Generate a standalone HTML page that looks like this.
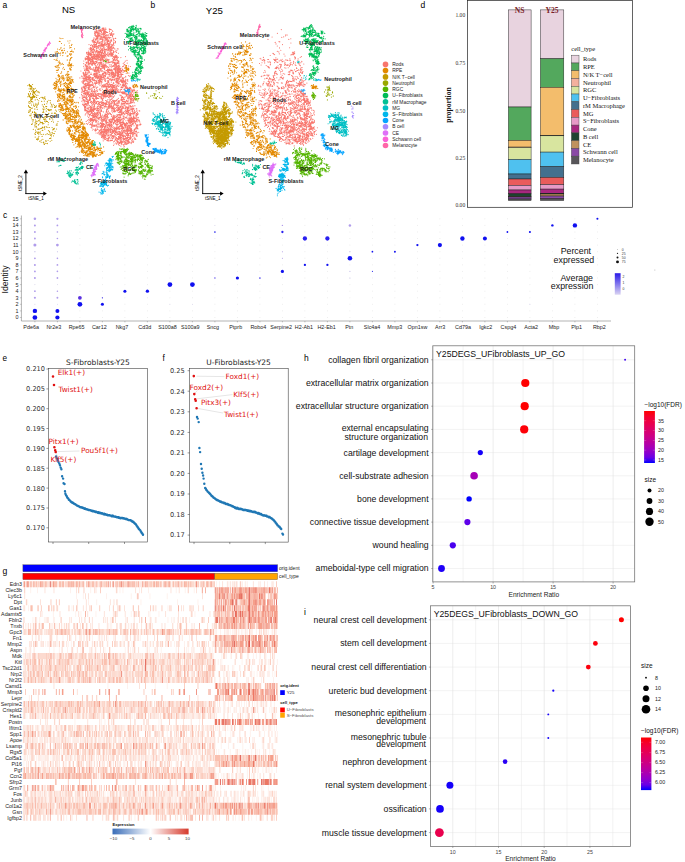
<!DOCTYPE html>
<html lang="en"><head><meta charset="utf-8"><title>Figure</title>
<style>
html,body{margin:0;padding:0;background:#fff}
body{width:685px;height:862px;overflow:hidden}
svg{display:block;font-family:"Liberation Sans",sans-serif}
</style></head><body>
<svg width="685" height="862" viewBox="0 0 685 862">
<defs>
<linearGradient id="gc" x1="0" y1="0" x2="0" y2="1"><stop offset="0" stop-color="#2A1AE8"/><stop offset="1" stop-color="#DAD4F2"/></linearGradient>
<linearGradient id="gh" x1="0" y1="0" x2="0" y2="1"><stop offset="0" stop-color="#FF0000"/><stop offset="0.1" stop-color="#F6002A"/><stop offset="0.2" stop-color="#ED0044"/><stop offset="0.3" stop-color="#E3005B"/><stop offset="0.4" stop-color="#D70072"/><stop offset="0.5" stop-color="#CA0088"/><stop offset="0.6" stop-color="#BA009F"/><stop offset="0.7" stop-color="#A600B7"/><stop offset="0.8" stop-color="#8D00CE"/><stop offset="0.9" stop-color="#6800E7"/><stop offset="1" stop-color="#0000FF"/></linearGradient>
<linearGradient id="gg" x1="0" y1="0" x2="1" y2="0"><stop offset="0" stop-color="#3A6DB8"/><stop offset=".5" stop-color="#FFFFFF"/><stop offset="1" stop-color="#D63A2C"/></linearGradient>
</defs>
<rect width="685" height="862" fill="#fff"/>
<g id="tsne">
<g transform="scale(.1)" stroke-linecap="round" fill="none">
<path d="M1014 447h0M999 448h0M995 433h0M991 457h0M1008 453h0M1013 460h0M1116 728h0M1110 726h0M1152 691h0M1138 693h0M838 874h0M867 869h0M846 783h0M855 780h0M834 780h0M831 781h0M839 781h0M861 786h0M1052 1250h0M1081 1226h0M1059 1251h0M1051 1265h0M891 535h0M887 546h0M893 544h0M908 535h0M904 533h0M913 551h0M1204 1376h0M1195 1375h0M1177 1392h0M1188 1378h0M1173 730h0M1154 737h0M1159 733h0M990 1243h0M1024 1235h0M1023 1225h0M1004 1234h0M986 1237h0M1000 1237h0M933 952h0M933 969h0M920 969h0M908 962h0M933 956h0M934 953h0M920 962h0M944 958h0M1183 711h0M1131 345h0M1139 339h0M1129 348h0M1187 749h0M1223 786h0M1202 770h0M1012 980h0M999 967h0M1017 980h0M1081 619h0M1083 616h0M1278 1100h0M1288 1101h0M1302 1088h0M1273 1113h0M969 949h0M980 952h0M955 964h0M969 956h0M962 970h0M1136 1311h0M1122 1295h0M1138 1308h0M1134 1308h0M1124 1297h0M1052 1175h0M1083 1172h0M1074 1169h0M1065 1163h0M881 857h0M920 842h0M894 856h0M910 853h0M837 1057h0M837 1046h0M852 1067h0M1254 941h0M1259 937h0M1266 942h0M1250 929h0M1263 953h0M1228 973h0M1212 967h0M1217 988h0M1158 820h0M1148 802h0M1159 821h0M1163 817h0M1164 811h0M1326 1365h0M1288 1396h0M1309 1380h0M1280 1393h0M1301 1381h0M1284 1407h0M1296 1379h0M1085 1069h0M1096 1050h0M1106 1070h0M1098 1059h0M1093 1041h0M859 1100h0M859 1107h0M852 1097h0M856 1094h0M881 1080h0M883 1084h0M1044 1064h0M1050 1065h0M1046 1063h0M1044 1062h0M1043 1080h0M1025 1049h0M1028 1052h0M832 815h0M829 824h0M819 818h0M832 813h0M851 842h0M874 854h0M830 819h0M841 813h0M887 578h0M885 572h0M885 578h0M887 559h0M913 550h0M1055 1303h0M1046 1294h0M1064 1295h0M1035 1297h0M1048 1304h0M857 775h0M873 793h0M874 813h0M869 815h0M875 831h0M867 805h0M1129 1308h0M1154 1321h0M1142 1307h0M1161 1311h0M1288 1277h0M1312 1295h0M1305 1304h0M1308 1311h0M980 758h0M979 769h0M978 780h0M1030 1308h0M1046 1306h0M1013 1324h0M1041 1311h0M932 548h0M931 564h0M914 551h0M909 542h0M954 840h0M950 831h0M957 850h0M1173 586h0M1173 585h0M1160 573h0M1148 577h0M1041 935h0M1033 935h0M1036 942h0M1094 1017h0M1354 1181h0M1328 1198h0M1321 1227h0M1337 1194h0M1337 1210h0M1327 1216h0M1052 749h0M1046 756h0M1056 753h0M1035 751h0M873 1035h0M866 1013h0M886 1024h0M879 1018h0M884 1024h0M947 467h0M930 456h0M938 476h0M941 463h0M932 462h0M1004 340h0M1039 336h0M1034 341h0M1040 347h0M1013 323h0M1016 328h0M874 699h0M952 679h0M983 694h0M978 681h0M1025 396h0M1030 443h0M1027 419h0M1025 403h0M1031 395h0M1081 851h0M1086 851h0M1075 862h0M1089 821h0M1094 837h0M1005 597h0M1017 587h0M1025 579h0M1003 607h0M1021 581h0M1008 590h0M1128 450h0M1133 443h0M1124 454h0M1320 1092h0M1315 1093h0M1319 1084h0M1317 1088h0M1345 1106h0M967 700h0M957 699h0M970 718h0M974 705h0M936 1206h0M920 1184h0M918 1192h0M930 1209h0M925 1192h0M1119 1190h0M1134 1182h0M1123 1182h0M1136 1197h0M1014 547h0M1017 535h0M1268 1444h0M1289 1423h0M1294 1425h0M1278 1434h0M1321 1241h0M1333 1240h0M1312 1138h0M1298 1149h0M1306 1160h0M1299 1150h0M934 871h0M964 883h0M971 898h0M1047 312h0M971 1083h0M974 1082h0M969 1085h0M968 1089h0M980 1084h0M964 1103h0M956 1082h0M969 508h0M966 520h0M943 560h0M930 552h0M941 551h0M937 566h0M928 523h0M916 529h0M941 518h0M904 520h0M941 513h0M948 498h0M935 520h0M1191 1346h0M1177 1340h0M1187 1341h0M1179 1346h0M1188 1335h0M1213 1222h0M1187 1205h0M1206 1223h0M1209 1228h0M1184 1209h0M1199 1212h0M869 1035h0M860 1044h0M1334 1184h0M1364 1211h0M1359 1212h0M1258 838h0M1248 820h0M1250 848h0M1249 814h0M1256 842h0M1248 813h0M935 1204h0M933 1216h0M921 1201h0M939 1201h0M921 1193h0M938 1204h0M904 1191h0M904 1200h0M1017 1213h0M1019 1212h0M1023 1208h0M1011 1205h0M1032 1408h0M1089 1375h0M1064 1383h0M1076 1385h0M1354 1233h0M1354 1220h0M916 1253h0M905 1238h0M908 1246h0M898 1246h0M1008 906h0M1139 1369h0M1123 1362h0M1119 1381h0M1064 1309h0M1077 1302h0M1070 1292h0M1074 1309h0M1072 1295h0M1067 1299h0M970 616h0M963 628h0M973 627h0M962 617h0M963 626h0M955 981h0M962 767h0M967 771h0M964 753h0M959 759h0M1021 821h0M1014 822h0M1020 799h0M1159 1325h0M1152 1348h0M1168 1330h0M1170 1331h0M1036 1329h0M1085 1358h0M1051 1351h0M1049 1360h0M1107 898h0M1125 915h0M1110 912h0M1070 496h0M1084 477h0M924 822h0M917 815h0M926 830h0M1241 935h0M1236 921h0M1240 940h0M1000 893h0M992 898h0M1000 886h0M1146 1205h0M1161 1169h0M1146 1190h0M1141 1193h0M1142 1187h0M884 930h0M875 942h0M913 914h0M880 939h0M879 924h0M886 940h0M873 934h0M952 616h0M959 594h0M973 601h0M961 610h0M942 626h0M1267 878h0M1255 871h0M1277 875h0M1267 867h0M1147 1177h0M1168 864h0M1166 899h0M1172 883h0M1166 879h0M1175 857h0M1120 1091h0M1116 1086h0M1131 1084h0M1127 1077h0M1125 1074h0M1117 1080h0M1129 1085h0M1102 914h0M1096 896h0M1101 922h0M1078 892h0M1073 901h0M1087 916h0M1093 1371h0M1086 1385h0M1101 1382h0M1242 1305h0M1218 1317h0M1131 1384h0M1160 1391h0M1154 1394h0M1160 1400h0M892 787h0M899 794h0M886 777h0M900 847h0M855 1066h0M879 1054h0M1279 1331h0M1274 1332h0M1275 1333h0M905 1107h0M907 1132h0M903 1114h0M915 1114h0M904 1115h0M924 1097h0M1337 1410h0M1327 1391h0M1332 1412h0M1333 1424h0M1330 1420h0M1050 860h0M1051 843h0M1021 855h0M1028 863h0M1404 1248h0M897 784h0M902 769h0M896 782h0M928 793h0M882 773h0M1125 662h0M1113 677h0M1131 659h0M1115 661h0M921 635h0M936 677h0M1122 792h0M1124 797h0M1150 792h0M1126 792h0M1129 796h0M1148 793h0M1127 798h0M1188 898h0M1186 863h0M1267 1400h0M1261 1428h0M1279 1421h0M875 581h0M895 605h0M864 563h0M984 432h0M966 435h0M1062 1343h0M1061 1339h0M1070 1341h0M1060 1339h0M1059 1354h0M1060 1339h0M1164 1098h0M1140 1099h0M1148 1106h0M1138 1116h0M1225 787h0M1232 783h0M1190 762h0M1221 772h0M1205 770h0M1236 789h0M1187 1214h0M1180 1219h0M1204 1220h0M1178 1218h0M1083 673h0M1081 673h0M1139 1356h0M1155 1369h0M1150 1380h0M1139 1360h0M1143 1359h0M989 408h0M976 428h0M971 428h0M1133 571h0M1119 549h0M1106 528h0M1122 558h0M991 638h0M1014 630h0M996 625h0M977 644h0M1103 496h0M1112 485h0M1124 485h0M1020 306h0M1010 297h0M1010 311h0M1241 923h0M1253 902h0M1239 919h0M1245 919h0M933 841h0M945 831h0M1089 1254h0M1118 1253h0M1122 1257h0M1054 864h0M1053 856h0M1032 863h0M1034 868h0M1066 861h0M1218 1436h0M1217 1430h0M1229 1419h0M1220 1416h0M1022 1272h0M1018 1252h0M1225 1036h0M1213 1030h0M1230 1016h0M1228 1009h0M1042 688h0M1035 654h0M1065 705h0M1058 657h0M1051 656h0M852 1149h0M971 464h0M964 463h0M979 479h0M1327 1057h0M1329 1058h0M1331 1065h0M1329 1065h0M984 599h0M989 564h0M978 570h0M982 546h0M982 811h0M982 803h0M991 810h0M899 821h0M923 784h0M916 790h0M898 800h0M1009 684h0M1002 704h0M1003 687h0M1003 698h0M993 681h0M1079 879h0M1103 850h0M1106 861h0M1083 867h0M922 878h0M945 870h0M957 868h0M935 864h0M852 746h0M860 728h0M890 751h0M874 741h0M985 553h0M982 557h0M997 541h0M1017 549h0M993 549h0M1133 900h0M1142 905h0M1161 889h0M1152 911h0M1177 897h0M1249 1040h0M1232 1042h0M1273 1074h0M1252 1059h0M1225 1326h0M1232 1312h0M1232 1301h0M1228 1299h0M1042 661h0M1062 664h0M1042 648h0M1049 660h0M1242 1053h0M1248 1032h0M1235 1031h0M1237 1034h0M1330 1000h0M1336 1008h0M1345 1027h0M1336 998h0M1314 991h0M1250 1247h0M1255 1240h0M1231 1236h0M1254 1243h0M1250 1236h0M881 887h0M893 888h0M1108 1252h0M1122 1275h0M1110 1248h0M1115 1266h0M1109 1246h0M1112 1248h0M1303 1259h0M1279 1231h0M1279 1242h0M1291 1256h0M1159 1303h0M1155 1343h0M1151 1338h0M1143 1336h0M1211 1096h0M1224 1084h0M1235 1079h0M1222 1079h0M1222 1068h0M1223 1069h0M890 698h0M914 689h0M880 682h0M1145 1024h0M1137 1014h0M1142 1019h0M1112 1015h0M1168 1006h0M1201 1062h0M1157 1083h0M1184 1074h0M1279 1149h0M1297 1157h0M1270 1160h0M1308 1155h0M1300 1154h0M1119 902h0M1135 902h0M1108 902h0M1115 919h0M1135 893h0M864 592h0M855 598h0M851 589h0M864 593h0M868 584h0M861 591h0M1246 1420h0M1249 1421h0M1244 1397h0M1246 1414h0M1253 1430h0M1256 1406h0M1115 733h0M1088 720h0M1108 731h0M1086 724h0M1114 734h0M1088 1064h0M1101 1078h0M1095 1080h0M1282 991h0M1269 1003h0M1263 1003h0M912 562h0M921 565h0M918 543h0M908 580h0M897 581h0M895 575h0M1207 1097h0M1216 1088h0M1194 1083h0M1113 821h0M1086 406h0M1082 413h0M1084 410h0M1088 414h0M833 811h0M833 821h0M1280 1404h0M1309 1428h0M1068 590h0M1081 601h0M1087 600h0M1087 598h0M1077 594h0M937 959h0M939 962h0M921 892h0M898 898h0M917 886h0M1338 1134h0M1325 1092h0M1321 1087h0M1093 289h0M1124 308h0M1113 297h0M1095 299h0M1107 294h0M1060 633h0M1079 630h0M1068 625h0M889 669h0M920 693h0M894 669h0M888 675h0M895 683h0M1001 1257h0M1007 1260h0M1006 1265h0M1015 1234h0M990 1273h0M1368 1112h0M1343 1119h0M1370 1108h0M1356 1120h0M1368 1108h0M1391 1108h0M1368 1113h0M1397 1109h0M1048 727h0M1034 737h0M1019 745h0M1024 743h0M1053 724h0M1030 738h0M1030 773h0M1039 788h0M948 326h0M982 332h0M978 333h0M983 336h0M981 584h0M972 588h0M964 595h0M1120 504h0M1103 493h0M1120 492h0M1118 499h0M1114 501h0M1337 1236h0M1326 1233h0M1338 1223h0M1326 1240h0M1178 1338h0M1174 1344h0M1181 1337h0M1276 1039h0M1246 1029h0M1265 1032h0M1252 1031h0M993 341h0M992 355h0M991 366h0M1077 702h0M1085 723h0M1100 663h0M1088 677h0M983 1141h0M981 1126h0M1004 1157h0M1140 747h0M1145 730h0M1132 764h0M1142 750h0M1134 760h0M1155 723h0M904 472h0M919 489h0M918 477h0M926 470h0M923 467h0M1123 533h0M1088 542h0M1103 541h0M1094 536h0M1129 529h0M1108 522h0M1094 539h0M1088 449h0M1082 446h0M1062 445h0M1075 439h0M1080 435h0M1067 442h0M1007 393h0M1021 380h0M1016 392h0M1019 381h0M1022 367h0M1026 380h0M1043 411h0M1030 406h0M933 589h0M953 590h0M980 569h0M951 571h0M1164 1324h0M1130 1313h0M1142 1297h0M1137 1308h0M1065 894h0M1056 906h0M1057 645h0M1053 650h0M1052 662h0M1113 1032h0M1118 1019h0M1111 994h0M1113 1019h0M1105 1000h0M971 557h0M966 548h0M984 600h0M973 573h0M982 572h0M973 566h0M969 563h0M975 547h0M982 561h0M990 577h0M1048 788h0M1051 812h0M1053 796h0M1048 804h0M1048 777h0M1061 782h0M1374 1255h0M1374 1281h0M1360 1290h0M1377 1287h0M1376 1282h0M1050 1370h0M1034 1365h0M1032 1388h0M1048 1371h0M1040 1371h0M1271 1291h0M1303 1278h0M1302 1275h0M1278 1291h0M1120 1101h0M1123 1089h0M1120 1087h0M1351 1122h0M1375 1125h0M1208 1172h0M1195 1180h0M1191 1175h0M1192 1176h0M1199 1161h0M1099 929h0M1072 915h0M1083 909h0M1064 915h0M883 563h0M1209 1106h0M1179 1092h0M1098 942h0M1122 982h0M1110 955h0M1129 966h0M1053 534h0M1069 547h0M1038 537h0M1029 530h0M984 810h0M991 821h0M974 830h0M1000 823h0M997 829h0M1011 813h0M981 824h0M943 548h0M939 548h0M951 550h0M969 576h0M948 570h0M937 550h0M989 315h0M1000 301h0M989 305h0M1007 303h0M996 307h0M991 309h0M996 306h0M1118 1068h0M1103 1066h0M1128 1077h0M1097 1074h0M1111 1063h0M1111 1070h0M1090 1062h0M1041 582h0M1060 570h0M1203 1353h0M1227 1388h0M1208 1353h0M1210 1382h0M1015 774h0M1011 763h0M1021 746h0M1006 771h0M1277 1143h0M1277 1118h0M1283 1143h0M1268 1133h0M1275 1135h0M1293 1158h0M1121 543h0M1112 537h0M1113 523h0M1114 540h0M1115 532h0M1108 524h0M935 1153h0M941 1166h0M945 1162h0M949 1166h0M928 1155h0M949 1190h0M1103 471h0M1109 518h0M1108 491h0M1109 509h0M1100 481h0M1107 506h0M955 781h0M948 759h0M951 760h0M1198 1355h0M1206 1385h0M1202 1398h0M1187 1374h0M1206 1399h0M1214 1391h0M907 744h0M911 731h0M845 745h0M836 743h0M861 741h0M1344 1308h0M1318 1304h0M1351 1311h0M1352 1316h0M1366 1310h0M1346 1305h0M1252 1443h0M1248 1433h0M1239 1469h0M1247 1431h0M1238 1453h0M1236 1445h0M1243 1465h0M1212 710h0M1200 727h0M1211 713h0M1214 707h0M1209 710h0M1233 702h0M1036 663h0M1024 664h0M1031 657h0M1041 674h0M1019 662h0M1035 662h0M1034 664h0M1042 663h0M971 703h0M994 681h0M994 671h0M972 706h0M1015 1239h0M1034 1243h0M1033 1235h0M864 837h0M838 831h0M858 836h0M841 840h0M829 832h0M1048 1348h0M1031 1388h0M1027 1367h0M1040 1345h0M1043 1328h0M1016 1374h0M1038 1345h0M929 700h0M941 711h0M941 701h0M949 707h0M937 699h0M1053 1206h0M1063 1236h0M1056 1217h0M1036 1236h0M1255 1332h0M1251 1330h0M1271 1340h0M1262 1334h0M1009 601h0M1026 557h0M997 595h0M1010 598h0M1014 599h0M1024 589h0M972 1109h0M977 1109h0M981 1145h0M974 1125h0M1022 582h0M1000 605h0M1032 598h0M987 592h0M1002 598h0M1012 603h0M962 831h0M965 818h0M968 833h0M950 824h0M954 832h0M1049 562h0M1027 583h0M1065 870h0M1044 868h0M1060 841h0M1062 871h0M1063 833h0M1072 857h0M1066 862h0M1296 1139h0M1290 1136h0M1310 1140h0M1293 1182h0M1306 1177h0M1286 1180h0M1297 1180h0M1147 649h0M1153 668h0M1147 661h0M1186 661h0M989 707h0M986 710h0M1000 700h0M993 715h0M1008 694h0M934 1175h0M942 1169h0M935 1160h0M962 362h0M958 356h0M981 346h0M979 350h0M846 908h0M835 932h0M847 934h0M975 376h0M976 385h0M955 361h0M969 355h0M966 370h0M880 842h0M882 855h0M1239 809h0M1233 791h0M1237 805h0M974 773h0M945 764h0M943 767h0M955 762h0M981 762h0M951 765h0M956 771h0M1169 1055h0M1194 1087h0M1174 1051h0M1185 1077h0M1157 1043h0M1183 1050h0M1160 1052h0M1275 1284h0M1272 1277h0M1159 704h0M1152 705h0M1135 722h0M963 564h0M966 561h0M975 558h0M987 553h0M953 561h0M1128 666h0M1134 653h0M1113 545h0M1110 555h0M1121 545h0M1112 539h0M1112 560h0M1304 1056h0M1281 1036h0M1290 1056h0M1289 1042h0M1089 1242h0M1097 1239h0M1083 1227h0M1102 1235h0M1072 1223h0M1306 1391h0M1317 1337h0M1304 1358h0M1309 1335h0M966 1190h0M960 1177h0M1166 1000h0M1158 1005h0M1158 1010h0M1174 992h0M944 713h0M955 709h0M948 696h0M946 702h0M947 717h0M886 525h0M909 513h0M865 537h0M903 497h0M978 983h0M965 971h0M973 979h0M967 984h0M987 983h0M965 961h0M1010 517h0M1000 518h0M993 515h0M1014 522h0M1273 906h0M1270 916h0M1287 921h0M1284 926h0M1044 920h0M1058 894h0M905 1099h0M907 1092h0M915 1101h0M917 1080h0M1060 604h0M1054 593h0M1054 620h0M1054 620h0M991 940h0M990 936h0M1003 935h0M988 945h0M1022 944h0M1001 939h0M1012 757h0M1031 769h0M1034 753h0M1037 773h0M1031 767h0M1029 506h0M1059 1217h0M1070 1246h0M1058 1229h0M1067 1221h0M1050 1321h0M1059 1315h0M1049 1319h0M1059 1307h0M1048 1299h0M1060 1322h0M1080 456h0M1081 471h0M1091 472h0M1090 466h0M1084 458h0M827 908h0M838 915h0M833 930h0M840 932h0M1193 1337h0M1204 1342h0M1194 1340h0M1196 1330h0M860 1014h0M874 997h0M895 1001h0M889 999h0M1032 849h0M1033 853h0M1032 861h0M907 611h0M892 593h0M905 618h0M1122 1361h0M1125 1356h0M1120 1368h0M1133 1375h0M1134 1369h0M1108 1354h0M1124 1360h0M863 852h0M882 849h0M876 841h0M1271 1403h0M1316 1408h0M1275 1413h0M1281 1402h0M1280 1406h0M940 414h0M941 425h0M942 427h0M937 415h0M937 441h0M933 420h0M937 446h0M1095 316h0M1102 350h0M1100 296h0M1106 342h0M1102 338h0M1098 333h0M1058 1268h0M1032 1257h0M1074 1272h0M936 747h0M948 737h0M931 751h0M936 748h0M946 736h0M948 750h0M1112 699h0M1138 741h0M1112 729h0M1123 741h0M1126 732h0M1116 718h0M876 582h0M876 576h0M885 569h0M874 566h0M1257 1315h0M1214 1346h0M1250 1325h0M1269 1307h0M1247 1328h0M1231 1341h0M1264 1317h0M873 929h0M839 939h0M871 937h0M848 931h0M857 935h0M1171 921h0M1158 926h0M1189 918h0M1163 920h0M1170 620h0M1191 638h0M1188 656h0M1179 635h0M1065 966h0M1069 959h0M1060 966h0M1067 967h0M1058 946h0M1057 1042h0M1056 1045h0M1065 1043h0M1044 1040h0M1072 1042h0M1077 770h0M1080 785h0M818 1012h0M845 974h0M835 1001h0M830 1030h0M843 997h0M1108 559h0M1243 1170h0M1287 1213h0M1093 484h0M1092 504h0M1088 488h0M1080 502h0M1082 502h0M1107 409h0M1079 416h0M1088 408h0M886 794h0M895 759h0M890 779h0M891 773h0M883 797h0M867 800h0M860 789h0M868 788h0M1114 326h0M1111 337h0M1128 313h0M1229 1219h0M1243 1192h0M1233 1183h0M1241 1186h0M1115 352h0M1129 341h0M1118 338h0M1114 344h0M1112 704h0M1095 743h0M1094 728h0M1120 725h0M1116 727h0M1107 704h0M1237 1238h0M1242 1238h0M1242 1230h0M1239 1234h0M1101 1406h0M1107 1402h0M1103 1405h0M1283 1376h0M1276 1354h0M1284 1374h0M1280 1354h0M1274 1373h0M1277 1363h0M858 697h0M861 678h0M875 671h0M866 686h0M859 687h0M847 697h0M864 679h0M1114 1351h0M1107 1358h0M1088 1337h0M1101 1342h0M921 577h0M936 583h0M1112 660h0M1110 647h0M1111 646h0M1224 1333h0M1217 1332h0M1227 1334h0M1214 1333h0M925 1196h0M904 1201h0M907 1204h0M905 1189h0M886 892h0M881 897h0M893 919h0M890 881h0M882 885h0M1179 721h0M1176 702h0M1180 695h0M1174 693h0M1150 1295h0M1158 1305h0M1156 1309h0M1152 1325h0M1165 1323h0M1155 1317h0M1192 717h0M1193 746h0M1185 733h0M1187 739h0M1179 746h0M1181 754h0M1182 737h0M1016 1179h0M1037 1170h0M1074 480h0M1088 465h0M1066 493h0M1086 471h0M1216 1416h0M1196 1434h0M1201 1405h0M1191 1423h0M1183 1446h0M1188 1433h0M1201 1428h0M1168 1049h0M1168 1100h0M1199 776h0M1180 788h0M1167 785h0M1191 786h0M1174 780h0M1124 1335h0M1108 1326h0M1108 1326h0M1118 1327h0M1086 1312h0M907 550h0M885 534h0M895 539h0M902 548h0M890 700h0M871 660h0M883 682h0M885 700h0M892 727h0M948 959h0M938 950h0M1169 503h0M1149 518h0M1156 510h0M1183 832h0M1177 823h0M1190 835h0M1158 818h0M1204 843h0M971 461h0M957 446h0M961 445h0M946 467h0M965 430h0M948 463h0M965 444h0M861 1059h0M870 1013h0M896 1004h0M872 1020h0M1333 1211h0M1317 1184h0M1324 1191h0M1037 574h0M1027 565h0M1035 572h0M1059 587h0M1137 692h0M1173 665h0M1144 696h0M1138 692h0M1161 667h0M1183 785h0M1193 788h0M1176 807h0M1180 799h0M1166 801h0M1373 1144h0M1374 1143h0M1367 1135h0M1348 1127h0M1376 1138h0M843 899h0M854 896h0M842 902h0M1028 558h0M1042 544h0M1058 559h0M1035 554h0M1055 552h0M1041 549h0M1076 557h0M820 923h0M815 920h0M829 913h0M851 926h0M924 983h0M938 985h0M941 989h0M1118 1037h0M1140 1033h0M1115 1039h0M1111 1032h0M1002 625h0M1037 617h0M1006 636h0M1009 625h0M1019 622h0M986 629h0M1261 1133h0M1272 1117h0M1267 1130h0M1254 816h0M1246 819h0M1266 830h0M1250 827h0M959 403h0M933 396h0M958 402h0M940 388h0M975 398h0M938 403h0M1030 1168h0M1002 1130h0M995 1128h0M1001 1147h0M1009 1155h0M1220 1265h0M1220 1269h0M1217 1256h0M1228 1266h0M1210 1280h0M1224 1263h0M1141 800h0M1151 791h0M1141 796h0M1273 883h0M1254 881h0M1264 883h0M1274 883h0M1284 892h0M1278 899h0M986 1038h0M990 1033h0M977 542h0M970 562h0M964 569h0M980 559h0M978 532h0M1275 1383h0M1254 1383h0M1260 1385h0M1238 1388h0M1186 1080h0M1183 1073h0M1190 1085h0M1193 1097h0M1195 1092h0M1184 1089h0M1203 1414h0M1205 1420h0M1233 1419h0M1210 1425h0M1212 1437h0M1092 1263h0M1090 1283h0M1237 1278h0M1228 1287h0M1235 1272h0M1209 1286h0M1180 1297h0M1061 1122h0M1066 1116h0M1066 1109h0M1061 1118h0M1098 1137h0M1071 1123h0M1148 633h0M1159 652h0M1146 625h0M945 996h0M937 995h0M945 1001h0M961 1025h0M951 1039h0M1017 435h0M1015 446h0M1221 1017h0M1196 1144h0M1217 1145h0M1208 1157h0M1234 1132h0M1243 1139h0M841 957h0M864 971h0M851 946h0M853 973h0M865 952h0M860 980h0M857 988h0M1016 1241h0M1013 1255h0M1033 1252h0M1042 1240h0M1026 1241h0M1286 1312h0M1299 1329h0M1352 1385h0M1348 1395h0M1327 1240h0M1324 1246h0M1319 1221h0M1301 1231h0M1316 1224h0M1311 1227h0M1317 1224h0M1314 1227h0M1168 1239h0M1160 1245h0M1181 1245h0M1209 1234h0M1189 621h0M1189 610h0M1183 609h0M997 770h0M1008 763h0M1010 775h0M1002 762h0M1002 758h0M1007 766h0M988 1106h0M981 1100h0M981 1109h0M984 1121h0M1027 640h0M1045 654h0M1031 655h0M1034 662h0M1018 640h0M1312 980h0M1311 988h0M1320 1004h0M1322 1026h0M1303 1019h0M843 750h0M852 757h0M842 757h0M848 768h0M799 779h0M821 780h0M1066 1190h0M1073 1180h0M1062 1176h0M1071 1191h0M1034 1119h0M1001 1088h0M1015 1105h0M1012 1101h0M1014 1112h0M1015 1099h0M1133 542h0M1136 522h0M1123 534h0M1136 526h0M1128 532h0M1126 544h0M1263 1439h0M1260 1409h0M1263 1428h0M1271 1438h0M1117 1223h0M1101 1201h0M1122 1211h0M928 855h0M920 849h0M939 860h0M914 848h0M1014 1253h0M1033 1262h0M1015 1247h0M1023 1262h0M1021 1252h0M1018 1258h0M1025 1251h0M993 524h0M977 537h0M987 524h0M1241 854h0M1223 848h0M1231 846h0M1224 853h0M1239 846h0M1239 845h0M1219 862h0M881 1026h0M883 1034h0M1230 1210h0M1220 1200h0M1235 1200h0M1216 1191h0M1207 1205h0M1216 1196h0M1220 1194h0M1173 677h0M1188 686h0M1182 691h0M1196 700h0M1207 688h0M1188 703h0M1059 726h0M1044 759h0M1052 730h0M1051 738h0M1062 740h0M942 580h0M945 580h0M942 621h0M935 583h0M944 591h0M1034 1317h0M1025 1313h0M1049 1310h0M1043 1307h0M1070 1318h0M952 828h0M962 808h0M960 808h0M965 820h0M959 835h0M1116 1165h0M1119 1158h0M1137 1172h0M1132 1173h0M1138 1154h0M1257 1022h0M1263 1015h0M1245 1040h0M1011 657h0M1023 661h0M1024 658h0M1018 647h0M1011 664h0M1213 1147h0M1222 1148h0M1197 1153h0M1173 1147h0M1211 1142h0M1233 1136h0M1181 1149h0M925 799h0M931 802h0M943 796h0M909 793h0M930 797h0M1266 952h0M1268 947h0M1276 961h0M1265 961h0M908 805h0M891 835h0M889 814h0M926 619h0M935 636h0M938 634h0M944 639h0M926 632h0M1218 1265h0M1227 1282h0M1226 1268h0M1219 1290h0M1222 1260h0M1242 1241h0M1220 1283h0M1226 1242h0M926 457h0M890 446h0M926 454h0M925 466h0M914 449h0M906 452h0M959 665h0M946 636h0M953 640h0M1115 477h0M1119 474h0M1120 456h0M1115 464h0M1009 502h0M1018 488h0M1018 502h0M1004 513h0M1016 492h0M1007 504h0M1001 508h0M879 731h0M881 729h0M879 724h0M938 1005h0M935 1013h0M927 1027h0M941 1002h0M930 1029h0M931 1016h0M1054 319h0M1048 304h0M1036 313h0M1066 317h0M1017 311h0M1070 1229h0M1063 1203h0M1037 1189h0M1039 1206h0M1220 871h0M1229 850h0M1229 875h0M1219 874h0M1194 837h0M1192 818h0M1179 806h0M1182 834h0M898 987h0M919 968h0M889 1005h0M895 989h0M898 984h0M1061 1143h0M1052 1148h0M1065 1150h0M1057 1148h0M1143 1157h0M1156 1173h0M1163 1161h0M1151 1157h0M1128 1170h0M1040 562h0M1063 545h0M1070 541h0M1080 528h0M1051 554h0M1251 1306h0M1225 1328h0M1244 1311h0M1247 1299h0M1245 1309h0M1232 1314h0M1233 1316h0M1252 1277h0M1275 1090h0M1280 1086h0M1275 1101h0M1283 1074h0M1307 1069h0M1311 1071h0M1315 1066h0M1300 1088h0M1175 804h0M1172 800h0M995 1022h0M984 1015h0M1011 1013h0M1030 1000h0M892 757h0M864 767h0M876 771h0M875 776h0M879 771h0M884 763h0M858 782h0M1285 1125h0M1276 1108h0M1277 1119h0M1258 1123h0M1279 1113h0M1055 813h0M1049 792h0M1054 809h0M1093 798h0M1189 767h0M1187 764h0M1181 772h0M1221 1366h0M1208 1380h0M1189 1366h0M1200 1374h0M1216 1374h0M922 1044h0M937 1042h0M921 1053h0M937 1039h0M939 1060h0M840 914h0M822 903h0M826 909h0M848 916h0M842 915h0M824 893h0M909 1210h0M929 1170h0M919 1191h0M930 1177h0M911 1185h0M908 1197h0M869 923h0M886 939h0M873 950h0M867 938h0M1141 1120h0M1124 1127h0M1137 1095h0M1147 1109h0M1145 1098h0M1115 1146h0M1144 1105h0M1131 1111h0M1126 1003h0M1108 1035h0M1131 1012h0M1289 900h0M1304 886h0M1305 879h0M1302 891h0M1048 1396h0M942 1080h0M936 1084h0M1052 1139h0M1044 1162h0M1048 1175h0M1024 343h0M1015 342h0M1026 339h0M1036 347h0M994 746h0M980 786h0M973 747h0M967 758h0M814 760h0M852 771h0M821 764h0M1066 1100h0M1068 1092h0M1023 567h0M1034 596h0M1018 579h0M1013 595h0M1029 595h0M1025 594h0M1024 583h0M950 1139h0M959 1141h0M977 1153h0M946 1137h0M949 1152h0M958 1222h0M925 1199h0M1021 525h0M1026 519h0M1053 525h0M1043 528h0M1044 520h0M906 1185h0M911 1189h0M920 1193h0M900 1181h0M891 1196h0M1308 1015h0M1279 1014h0M1292 1033h0M1111 963h0M1087 919h0M1091 940h0M1078 908h0M1028 1020h0M1026 1020h0M1024 1024h0M1009 1055h0M1019 1020h0M1026 1031h0M1282 1211h0M1307 1248h0M1289 1224h0M1096 623h0M1087 621h0M1086 627h0M1079 607h0M1135 430h0M1137 420h0M1038 573h0M1045 573h0M1068 490h0M1068 490h0M1060 496h0M1059 495h0M998 578h0M982 565h0M985 573h0M986 548h0M998 839h0M1071 1023h0M1087 1031h0M1067 1021h0M1205 702h0M1171 710h0M1203 699h0M1194 691h0M1217 704h0M1365 1261h0M1340 1257h0M1354 1286h0M1380 1288h0M1368 1284h0M1360 1168h0M938 1194h0M949 1199h0M947 1172h0M939 1172h0M941 1177h0M1027 451h0M1029 467h0M1020 456h0M1029 454h0M1345 1177h0M1349 1209h0M1350 1223h0M1342 1201h0M1174 1187h0M1153 1208h0M1172 1188h0M1181 1319h0M1199 1319h0M1229 1325h0M1206 1323h0M1286 1256h0M1277 1239h0M1266 1270h0M1274 1273h0M1284 1258h0M938 1102h0M924 1093h0M947 1085h0M933 1095h0M1137 1154h0M1105 1142h0M1044 1317h0M1081 1310h0M1068 1319h0M1142 574h0M1137 572h0M1146 584h0M1155 567h0M954 445h0M956 424h0M960 453h0M1131 340h0M1108 341h0M1118 337h0M1089 463h0M1091 447h0M1093 456h0M1098 441h0M1094 446h0M1106 440h0M1091 443h0M1102 440h0M1096 872h0M1097 866h0M1105 859h0M1133 1269h0M1137 1285h0M1140 1305h0M1137 1287h0M1134 1324h0M1086 915h0M1090 941h0M1090 937h0M1097 914h0M1107 931h0M1093 939h0M1216 1264h0M1211 1263h0M1173 1252h0M1206 1256h0M1203 1255h0M1035 766h0M1023 776h0M1180 1015h0M1190 1033h0M1189 1010h0M1179 1027h0M826 988h0M843 1004h0M822 1007h0M822 980h0M1187 1382h0M1209 1376h0M1202 1374h0M1123 846h0M1240 995h0M1241 1010h0M1217 1004h0M1245 1012h0M1229 1040h0M1230 1012h0M1237 987h0M1229 992h0M1026 1274h0M1016 1301h0M1022 1277h0M1030 1295h0M1019 1278h0M1019 1278h0M1014 839h0M1048 843h0M1115 1193h0M1121 1190h0M1125 1193h0M1115 1201h0M1132 1179h0M1124 1178h0M958 768h0M943 806h0M943 797h0M929 780h0M933 779h0M937 780h0M1063 906h0M1066 926h0M1066 912h0M1072 931h0M1067 897h0M1062 927h0M1068 942h0M1134 594h0M1081 604h0M1203 1198h0M1205 1197h0M1216 1191h0M1161 1219h0M1194 1220h0M1204 1205h0M1010 619h0M1019 645h0M1026 673h0M1008 634h0M1008 639h0M991 966h0M986 957h0M997 964h0M1003 962h0M1176 1206h0M1191 1200h0M1197 1192h0M1184 1194h0M1207 1221h0M1199 1206h0M1201 1193h0M1203 1178h0M1192 1024h0M1179 1021h0M1190 1008h0M1165 1004h0M1191 1019h0M1185 1014h0M1237 987h0M1224 975h0M1235 985h0M1245 993h0M1221 971h0M1216 977h0M1199 810h0M1217 812h0M1222 822h0M1216 815h0M1206 811h0M1217 816h0M1275 1341h0M1285 1348h0M1285 1343h0M1265 1352h0M1269 1342h0M1269 1353h0M1198 710h0M1203 695h0M1200 722h0M1294 1208h0M1306 1195h0M1324 1182h0M1279 1204h0M1281 1196h0M1299 1199h0M1287 1201h0M1141 578h0M991 766h0M1008 785h0M984 763h0M992 781h0M1002 784h0M1018 771h0M1009 762h0M1009 780h0M1002 796h0M1196 1381h0M1184 1366h0M1204 1364h0M851 945h0M863 964h0M845 931h0M848 925h0M859 937h0M860 947h0M845 930h0M1278 943h0M1289 950h0M1279 945h0M1293 954h0M842 735h0M833 737h0M809 710h0M831 731h0M832 722h0M1166 1385h0M1165 1375h0M1068 381h0M1063 396h0M1052 404h0M1050 392h0M1069 419h0M1052 408h0M1065 391h0M1216 1279h0M1206 1251h0M1224 1275h0M1237 1283h0M1244 1280h0M1183 1125h0M1175 1109h0M1186 1094h0M1195 1125h0M1080 1356h0M1096 1371h0M1005 1135h0M985 1141h0M1000 1134h0M1001 1128h0M1005 1144h0M972 1126h0M1109 344h0M1105 354h0M1116 328h0M1081 359h0M1106 341h0M1032 963h0M1040 945h0M1034 957h0M1026 957h0M1037 940h0M1070 1077h0M1070 1067h0M916 1206h0M894 1222h0M918 1187h0M925 1203h0M1041 1034h0M1037 1031h0M1014 1035h0M1167 782h0M1163 780h0M1174 759h0M1195 771h0M1175 765h0M1033 1201h0M1041 1199h0M1042 1196h0M1366 1194h0M1342 1219h0M1365 1202h0M1153 604h0M1141 623h0M1154 630h0M1213 1244h0M1224 1246h0M1221 1245h0M1227 1246h0M1010 976h0M1025 1003h0M1013 989h0M1397 1250h0M1397 1246h0M1379 1254h0M1377 1259h0M1147 650h0M1167 643h0M1165 642h0M1177 625h0M1069 1326h0M1068 1294h0M1078 1300h0M1072 1327h0M1087 1322h0M1029 1076h0M1165 1322h0M1066 966h0M1052 965h0M1072 963h0M1264 1290h0M1271 1296h0M1318 1336h0M1322 1331h0M1293 1304h0M1306 1292h0M1162 597h0M1137 602h0M1143 599h0M1144 596h0M1163 599h0M1314 1220h0M1309 1225h0M1306 1231h0M1302 1234h0M1311 1206h0M1314 1249h0M1201 1345h0M1219 1345h0M1232 1357h0M1202 1347h0M1226 1357h0M1213 1332h0M1227 1354h0M1229 1356h0M1020 378h0M1010 376h0M1019 387h0M1021 374h0M1033 371h0M1141 1221h0M1129 1197h0M1155 1216h0M1148 1221h0M934 1159h0M944 1157h0M938 1166h0M933 1149h0M932 1140h0M932 1155h0M1170 1067h0M1165 1075h0M1179 1079h0M1198 1071h0M1167 1073h0M1093 518h0M1084 500h0M1108 503h0M1079 520h0M1105 510h0M1091 493h0M1077 538h0M986 1179h0M973 1159h0M945 1144h0M1164 1329h0M1154 1325h0M1150 1324h0M1096 990h0M1103 950h0M1094 958h0M1105 967h0M1094 970h0M920 504h0M936 492h0M922 511h0M933 499h0M927 1099h0M937 1100h0M925 1104h0M937 1106h0M919 1094h0M1028 950h0M1018 941h0M1028 940h0M1039 929h0M1008 943h0M1028 937h0M1070 890h0M879 1008h0M879 1044h0M876 1026h0M883 1011h0M1163 678h0M1163 692h0M1155 710h0M1156 701h0M1178 684h0M1150 598h0M1154 573h0M1148 590h0M1383 1175h0M1360 1167h0M1370 1181h0M1305 1382h0M971 307h0M962 319h0M968 304h0M967 313h0M972 315h0M975 322h0M940 499h0M936 487h0M937 492h0M1141 1311h0M1145 1298h0M1148 1296h0M1146 1300h0M1084 1388h0M1086 1385h0M1086 1388h0M1073 1407h0M1086 1381h0M1087 1401h0M1079 1400h0M1179 725h0M1173 754h0M1173 736h0M1158 752h0M1154 761h0M1163 722h0M957 947h0M980 936h0M959 940h0M971 937h0M1186 1383h0M1174 1418h0M1208 1379h0M1206 724h0M1190 710h0M1198 726h0M1208 731h0M1207 745h0M1212 738h0M1212 751h0M1091 468h0M1058 452h0M1071 462h0M1081 474h0M970 705h0M973 678h0M971 677h0M964 706h0M976 682h0M967 673h0M1333 1344h0M1325 1341h0M1317 1324h0M1348 1330h0M1340 1329h0M1360 1351h0M1262 1114h0M1274 1118h0M1272 1115h0M1269 1098h0M1297 1103h0M1280 1119h0M1283 1120h0M1279 1098h0M1305 1129h0M1186 1417h0M1188 1439h0M1188 1426h0M1193 1455h0M1255 1378h0M1264 1377h0M1231 1377h0M1143 1170h0M1143 1171h0M1170 1170h0M1167 1162h0M892 649h0M882 648h0M973 424h0M949 413h0M970 423h0M1081 500h0M1118 444h0M1098 486h0M1098 457h0M1102 476h0M995 422h0M959 450h0M962 452h0M1337 1320h0M1302 1320h0M1314 1316h0M1317 1324h0M1325 1324h0M1340 1329h0M905 803h0M907 815h0M897 799h0M897 804h0M908 820h0M903 808h0M903 792h0M1320 1009h0M1310 1013h0M1301 1030h0M1303 1033h0M1083 695h0M1075 690h0M1093 648h0M1059 708h0M1074 666h0M950 342h0M953 335h0M1261 920h0M1229 932h0M1221 922h0M1229 934h0M961 758h0M967 755h0M972 769h0M989 773h0M990 767h0M919 598h0M906 581h0M923 597h0M924 601h0M903 849h0M921 853h0M922 847h0M909 858h0M921 844h0M1011 1341h0M987 1330h0M1023 1347h0M1076 605h0M1126 630h0M1092 597h0M1080 607h0M1103 620h0M978 508h0M993 495h0M960 516h0M981 511h0M969 521h0M864 624h0M884 631h0M888 623h0M884 627h0M1308 902h0M1300 889h0M1279 903h0M1306 887h0M925 778h0M920 778h0M925 796h0M926 783h0M1149 429h0M1154 427h0M912 1187h0M921 1189h0M928 1175h0M1170 852h0M1183 847h0M957 516h0M985 513h0M995 521h0M988 528h0M1177 1100h0M1176 1103h0M1170 1106h0M1312 944h0M1292 959h0M1302 952h0M1287 952h0M1287 967h0M1301 954h0M1331 1309h0M1317 1291h0M1291 1278h0M922 1239h0M928 1253h0M920 1281h0M928 1254h0M922 1249h0M1046 458h0M1012 466h0M1026 464h0M1037 461h0M1041 459h0M1048 962h0M1029 980h0M1042 965h0M818 887h0M823 896h0M816 881h0M822 870h0M818 882h0M816 889h0M1078 866h0M884 1114h0M905 1102h0M888 1121h0M1283 1288h0M1289 1300h0M1297 1286h0M1310 1305h0M1303 1303h0M1006 1117h0M996 1110h0M1009 1078h0M1012 1080h0M1013 1111h0M1008 1105h0M1025 1151h0M1049 1162h0M1051 1166h0M1124 893h0M1127 882h0M1098 916h0M1124 884h0M1121 890h0M973 1230h0M978 1242h0M828 988h0M829 990h0M834 993h0M833 993h0M1146 870h0M1148 870h0M1152 888h0M1151 895h0M1329 1124h0M1327 1108h0M1322 1100h0M1323 1115h0M1102 862h0M1102 862h0M979 414h0M973 416h0M982 425h0M971 421h0M1059 437h0M1057 429h0M1148 1285h0M1154 1283h0M1177 1285h0M1159 1287h0M900 966h0M903 950h0M899 946h0M916 937h0M914 948h0M1294 1396h0M1302 1364h0M1304 1364h0M1071 740h0M1049 762h0M1036 790h0M1055 765h0M1055 1393h0M1054 1376h0M1045 1386h0M1052 1390h0M1049 1370h0M963 666h0M953 654h0M966 676h0M956 634h0M964 668h0M1285 1352h0M1294 1332h0M1290 1355h0M1299 1335h0M1298 1272h0M1300 1284h0M1296 1283h0M1289 1263h0M1302 1290h0M1284 1255h0M855 885h0M884 873h0M871 875h0M846 884h0M859 884h0M850 876h0M946 753h0M969 774h0M1159 715h0M1187 699h0M1189 710h0M1154 706h0M1188 692h0M1126 364h0M1121 378h0M1126 354h0M1070 862h0M1067 889h0M1044 853h0M1060 861h0M1384 1177h0M1375 1196h0M1302 1316h0M1310 1336h0M1261 1288h0M1142 1364h0M1132 1368h0M1135 1358h0M1169 596h0M1183 575h0M1177 568h0M1168 582h0M1115 797h0M1116 805h0M993 1046h0M993 1021h0M998 1046h0M1004 1046h0M998 1044h0M1001 1061h0M1003 1024h0M991 1027h0M917 957h0M896 978h0M967 811h0M986 839h0M1135 439h0M1010 756h0M998 752h0M982 751h0M997 748h0M989 570h0M996 569h0M993 552h0M977 556h0M993 539h0M875 923h0M881 916h0M874 908h0M1310 1000h0M1304 984h0M1305 997h0M1295 979h0M1307 994h0M1305 994h0M1303 1002h0M1162 1049h0M950 1094h0M939 1106h0M952 1094h0M922 1118h0M927 1107h0M941 1091h0M935 1114h0M1096 913h0M1066 918h0M1104 937h0M1089 904h0M1164 817h0M1170 819h0M1166 822h0M1169 820h0M997 576h0M1005 559h0M1005 549h0M990 560h0M995 567h0M939 870h0M963 882h0M939 877h0M1053 977h0M1039 953h0M1055 952h0M1127 856h0M1127 851h0M1135 853h0M1140 866h0M1170 838h0M1004 1176h0M986 1188h0M977 1186h0M989 1191h0M845 703h0M854 724h0M861 759h0M856 733h0M868 742h0M859 746h0M861 721h0M1081 1135h0M1077 1136h0M1079 1136h0M1085 1142h0M1079 1133h0M1062 1142h0M1082 1137h0M876 547h0M886 551h0M883 535h0M891 559h0M881 521h0M883 549h0M879 528h0M1375 1148h0M1367 1139h0M1372 1151h0M1362 1151h0M1382 1139h0M902 687h0M906 693h0M903 669h0M904 677h0M1004 1080h0M1056 1055h0M1014 1073h0M1026 1085h0M1178 1267h0M1176 1271h0M1166 1276h0M1166 1282h0M1290 884h0M1288 884h0M1293 878h0M1299 873h0M1300 883h0M1223 1138h0M1250 1139h0M1245 1143h0M1274 837h0M1259 829h0M1256 837h0M1286 1105h0M1286 1082h0M1268 1117h0M1270 1104h0M1273 1082h0M1270 1112h0M1270 1128h0M1270 1103h0M1269 957h0M1240 973h0M1252 969h0M1266 952h0M1106 1404h0M1117 1403h0M1115 1405h0M1089 1411h0M1108 1407h0M1125 1389h0M1112 1404h0M1145 770h0M1269 1298h0M1281 1304h0M1270 1300h0M1319 1306h0M1259 1302h0M1260 1302h0M1180 732h0M1168 720h0M1171 709h0M1175 711h0M1182 715h0M1172 700h0M1160 725h0M1077 823h0M1086 785h0M1073 809h0M1083 826h0M1082 809h0M1088 821h0M1054 939h0M1031 928h0M1043 928h0M1056 937h0M1043 655h0M1030 652h0M1048 675h0M1042 644h0M1283 1281h0M1277 1267h0M1275 1283h0M1281 1282h0M1258 1263h0M1279 1290h0M1101 795h0M1108 799h0M1113 802h0M1093 787h0M1092 800h0M912 644h0M918 648h0M922 638h0M904 954h0M896 971h0M901 970h0M919 943h0M923 935h0M895 971h0M1312 1256h0M1294 1252h0M1299 1250h0M1315 1266h0M1313 1256h0M1066 1333h0M1067 1339h0M1080 1356h0M1072 1360h0M1157 848h0M1141 854h0M1361 1180h0M1380 1172h0M1350 1187h0M1347 1182h0M1355 1183h0M1115 876h0M1120 883h0M1125 874h0M1125 891h0M1116 892h0M1120 876h0M1018 982h0M1039 976h0M1032 985h0M1013 970h0M1013 984h0M1046 963h0M1203 902h0M1207 892h0M1210 875h0M1216 894h0M893 721h0M1048 914h0M1051 935h0M1052 930h0M1137 1313h0M1148 1313h0M1137 1310h0M1158 1311h0M1158 1314h0M1091 1014h0M1055 1005h0M1069 1013h0M1100 1003h0M1135 1226h0M1120 1250h0M1135 1230h0M1139 1233h0M923 652h0M911 640h0M917 650h0M897 636h0M1410 1242h0M1379 1246h0M1112 404h0M1117 411h0M1116 407h0M1139 403h0M1110 399h0M1325 1080h0M1338 1084h0M905 618h0M904 610h0M906 613h0M930 630h0M907 629h0M915 618h0M931 622h0M1109 869h0M1123 858h0M1126 855h0M1123 866h0M1117 860h0M916 498h0M933 484h0M926 495h0M945 475h0M1184 983h0M1067 1209h0M1055 1182h0M1064 1204h0M997 1093h0M997 1066h0M997 1073h0M999 1073h0M1002 1092h0M1001 1080h0M998 1091h0M1327 964h0M1303 951h0M1323 984h0M1306 957h0M1306 964h0M1105 924h0M1118 928h0M1111 925h0M1126 943h0M1106 921h0M967 1025h0M985 1036h0M955 1011h0M984 1031h0M1149 748h0M1147 766h0M1156 757h0M1159 738h0M1133 1239h0M1173 1225h0M1106 1253h0M1187 1207h0M1172 1239h0M1169 1223h0M1173 1219h0M1172 1237h0M916 575h0M919 614h0M922 595h0M915 562h0M925 592h0M1152 684h0M1154 686h0M1168 684h0M1159 679h0M1153 707h0M1169 686h0M1076 717h0M1084 706h0M1077 711h0M1145 1412h0M1175 1386h0M1166 1409h0M1147 1408h0M1160 1399h0M1075 1011h0M1079 995h0M1063 1008h0M1055 1005h0M953 324h0M951 315h0M964 325h0M948 313h0M956 322h0M1358 1291h0M1364 1273h0M1359 1273h0M1346 1299h0M1368 1275h0M1022 1323h0M988 1329h0M1005 1324h0M1008 1329h0M1014 1330h0M999 1333h0M1180 1393h0M1156 1399h0M1177 1399h0M1188 1394h0M1197 1381h0M1086 1386h0M969 706h0M962 752h0M969 741h0M966 743h0M968 736h0M965 735h0M964 1303h0M979 1294h0M1007 1296h0M1003 1301h0M972 1291h0M992 1303h0M1090 1192h0M1107 1215h0M1094 1196h0M1090 1206h0M951 463h0M957 472h0M960 468h0M1025 492h0M1021 497h0M1050 510h0M1034 478h0M1029 486h0M1154 419h0M1141 403h0M1155 412h0M1132 733h0M1134 726h0M1112 721h0M1137 730h0M1121 728h0M1053 351h0M1047 350h0M1048 344h0M1055 354h0M1060 370h0M1010 571h0M1036 558h0M1017 569h0M1017 560h0M1020 557h0M1015 568h0M914 596h0M908 590h0M932 611h0M930 610h0M931 602h0M929 609h0M954 346h0M957 296h0M960 325h0M968 306h0M959 300h0M955 318h0M914 1105h0M912 1100h0M900 1102h0M853 579h0M868 584h0M878 608h0M875 589h0M882 602h0M854 583h0M866 582h0M1097 1258h0M1076 1247h0M1060 1266h0M1070 1272h0M1092 1248h0M1078 1261h0M1018 1115h0M1136 516h0M1101 547h0M1109 536h0M1110 539h0M1078 437h0M1077 410h0M1085 435h0M1093 419h0M1080 444h0M1030 560h0M1032 566h0M1043 547h0M1033 567h0M1029 566h0M1029 571h0M1040 558h0M1166 525h0M1184 532h0M1164 521h0M1130 916h0M1128 909h0M1122 916h0M1147 919h0M1121 911h0M980 1178h0M983 1188h0M970 1173h0M962 1163h0M993 1182h0M956 1163h0M949 1169h0M1037 1043h0M1148 644h0M1134 621h0M1167 638h0M1165 638h0M1155 637h0M1036 378h0M1032 356h0M1037 366h0M1049 376h0M912 1274h0M1013 1054h0M1009 1062h0M1006 1070h0M1020 1042h0M886 937h0M873 932h0M881 935h0M877 942h0M888 937h0M873 933h0M882 947h0M1031 864h0M1017 863h0M1018 877h0M1000 335h0M981 366h0M985 348h0M1002 526h0M1003 547h0M993 541h0M888 1118h0M960 727h0M971 750h0M979 735h0M997 752h0M985 765h0M1335 1174h0M1342 1295h0M1311 1283h0M1344 1293h0M890 597h0M900 603h0M905 613h0M1052 1038h0M1041 1060h0M1255 1105h0M1248 1114h0M1238 1122h0M914 500h0M921 515h0M994 726h0M988 724h0M1002 745h0M987 718h0M1307 954h0M1307 956h0M1306 943h0M1298 927h0M1320 959h0M1052 1069h0M1061 1061h0M1071 1092h0M1084 1079h0M1076 1090h0M1305 1188h0M1301 1199h0M1303 1182h0M990 325h0M972 329h0M971 332h0M1004 315h0M991 323h0M987 329h0M1310 1000h0M1308 995h0M1332 991h0M1338 997h0M1302 990h0M1307 991h0M894 1202h0M874 1245h0M888 1195h0M877 1203h0M1251 1250h0M1258 1244h0M970 384h0M972 367h0M981 377h0M1364 1087h0M1338 1094h0M1368 1089h0M1333 1084h0M1363 1089h0M1250 1258h0M1243 1243h0M1255 1271h0M1245 1259h0M1250 1245h0M1180 812h0M1193 820h0M1177 784h0M1179 822h0M1184 801h0M848 1093h0M847 1083h0M852 1101h0M847 1106h0M849 1079h0M860 1103h0M849 1092h0M1057 860h0M1065 882h0M1063 868h0M1058 869h0M1217 1223h0M1229 1223h0M1238 1223h0M1231 1218h0M1235 1237h0M1222 1224h0M975 913h0M968 904h0M968 906h0M960 919h0M971 908h0M1161 562h0M1144 561h0M1135 569h0M1144 570h0M867 695h0M850 703h0M861 687h0M854 718h0M863 687h0M1058 508h0M1045 498h0M1022 412h0M1011 414h0M993 431h0M1231 1060h0M1197 1071h0M1230 1069h0M958 562h0M961 558h0M974 563h0M973 555h0M1113 805h0M993 1313h0M1014 1314h0M1013 1300h0M1015 1323h0M1016 1315h0M997 1308h0M1012 1315h0M902 940h0M916 942h0M906 931h0M1010 1228h0M1003 1229h0M1025 1244h0M1034 1251h0M1133 1163h0M1130 1189h0M1138 1162h0M1144 1172h0M1129 1194h0M1143 1162h0M920 1058h0M919 1075h0M909 1080h0M921 1053h0M1173 822h0M1273 1258h0M1264 1250h0M1275 1273h0M884 612h0M866 637h0M869 630h0M878 621h0M887 619h0M860 622h0M926 600h0M1036 500h0M1032 533h0M1033 533h0M936 1098h0M939 1094h0M939 1097h0M946 1123h0M1080 406h0M1078 399h0M1078 387h0M1075 428h0M998 817h0M1015 817h0M1008 815h0M1031 457h0M1036 477h0M868 1109h0M870 1103h0M871 1121h0M872 849h0M902 844h0M884 848h0M865 852h0M903 848h0M868 855h0M1083 489h0M1059 510h0M1074 501h0M1185 1380h0M1194 1378h0M964 484h0M960 449h0M949 451h0M963 463h0M953 422h0M904 1025h0M965 1018h0M942 1016h0M915 1033h0M916 1015h0M926 1023h0M937 1009h0M1316 1332h0M1307 1375h0M1313 1371h0M907 1212h0M925 1190h0M923 1201h0M918 1199h0M906 1208h0M907 1199h0M1303 1147h0M1301 1137h0M1306 1155h0M1304 1142h0M1016 494h0M1024 487h0M1007 486h0M1039 929h0M1038 946h0M1038 936h0M1025 923h0M1032 914h0M1057 1259h0M1052 1273h0M1035 1252h0M959 319h0M963 315h0M945 336h0M963 326h0M1150 1016h0M1147 1005h0M1166 1031h0M1302 1095h0M1291 1121h0M1310 1110h0M1286 1108h0M1347 1379h0M1341 1381h0M1358 1393h0M1324 1399h0M1109 864h0M1106 887h0M1107 855h0M1109 843h0M908 637h0M901 630h0M910 635h0M917 622h0M1061 498h0M1298 1265h0M983 1065h0M977 1045h0M983 1052h0M996 1041h0M1098 766h0M1084 771h0M1115 758h0M1121 774h0M1132 763h0M1029 791h0M982 777h0M1015 789h0M1011 790h0M1003 794h0M1205 1241h0M1210 1249h0M1207 1244h0M1191 1237h0M1227 1250h0M997 815h0M992 808h0M992 801h0M986 779h0M991 781h0M996 821h0M1147 688h0M1154 692h0M1154 687h0M1153 686h0M1146 671h0M1133 665h0M1000 856h0M998 806h0M1017 812h0M1000 815h0M995 804h0M1325 1418h0M1312 1436h0M1313 1426h0M1313 1422h0M1229 975h0M1198 1008h0M1210 999h0M1210 992h0M989 932h0M1012 1332h0M1013 1339h0M1016 1288h0M1212 814h0M1203 809h0M1209 794h0M1216 800h0M1217 803h0M853 1043h0M866 1050h0M851 1043h0M833 1053h0M1042 956h0M1027 943h0M1053 965h0M1029 956h0M1032 946h0M1077 914h0M1068 917h0M1046 904h0M1064 890h0M1063 879h0M1151 737h0M1158 746h0M1136 751h0M962 381h0M964 395h0M971 370h0M961 387h0M1126 586h0M1127 551h0M1122 563h0M1108 939h0M1108 943h0M1107 930h0M1105 942h0M1106 908h0M1102 919h0M962 961h0M971 948h0M889 856h0M885 886h0M895 868h0M885 882h0M888 875h0M1047 363h0M1044 366h0M1061 372h0M1048 381h0M1040 369h0M1059 360h0M1045 369h0M1079 1293h0M1068 1288h0M1130 1109h0M1116 1110h0M1141 1114h0M1026 511h0M1042 493h0M1048 478h0M948 696h0M972 723h0M960 721h0M957 706h0M797 977h0M831 968h0M838 973h0M852 975h0M938 625h0M948 644h0M944 633h0M928 600h0M936 622h0M936 616h0M1340 1000h0M1333 1012h0M1342 996h0M1349 1287h0M1359 1338h0M1346 1294h0M914 1156h0M904 1148h0M923 1152h0M924 1160h0M1014 1182h0M1222 1230h0M890 715h0M885 704h0M877 704h0M896 720h0M881 710h0M864 702h0M869 705h0M1254 1390h0M1253 1386h0M1251 1392h0M1246 1388h0M1249 1384h0M1270 1384h0M1145 1215h0M1135 1226h0M1134 1226h0M926 788h0M927 782h0M940 798h0M940 806h0M1317 961h0M1336 973h0M1323 951h0M1300 971h0M1296 954h0M881 1232h0M866 1235h0M888 1220h0M862 1214h0M943 912h0M912 930h0M928 923h0M907 937h0M946 916h0M970 1073h0M973 1065h0M985 1084h0M978 1081h0M1001 1090h0M1045 435h0M1044 446h0M1041 442h0M1046 428h0M1259 1207h0M1201 1235h0M1229 1225h0M1222 1230h0M1029 455h0M1013 458h0M1036 446h0M1021 457h0M1039 445h0M1013 449h0M996 455h0M1121 1314h0M1105 1298h0M922 1239h0M925 1225h0M921 1222h0M1092 462h0M1102 471h0M1106 470h0M1113 460h0M1106 477h0M1317 993h0M1302 997h0M1332 991h0M1320 1000h0M1344 980h0M1331 986h0M857 661h0M870 657h0M858 657h0M837 663h0M872 664h0M931 687h0M1081 958h0M1097 943h0M1101 951h0M1085 945h0M1096 962h0M1085 972h0M1090 946h0M1046 696h0M1047 686h0M816 944h0M829 958h0M820 958h0M823 957h0M1008 295h0M1026 302h0M1007 309h0M969 875h0M977 870h0M982 953h0M980 953h0M1124 1405h0M1136 1418h0M1153 1394h0M1138 1188h0M1342 1185h0M1327 1188h0M1323 1181h0M1314 1170h0M1180 1023h0M1185 1009h0M1163 1032h0M1177 1034h0M1028 605h0M1032 613h0M1040 617h0M1034 609h0M1285 1302h0M1284 1295h0M1276 1331h0M995 1172h0M1006 1171h0M999 1174h0M1016 1167h0M1253 867h0M1247 887h0M1238 892h0M1257 869h0M1245 891h0M1189 677h0M1195 691h0M1185 685h0M1187 687h0M1127 765h0M1134 743h0M1152 757h0M1148 753h0M1121 751h0M1140 754h0M859 655h0M862 667h0M864 669h0M841 681h0M876 663h0M1097 731h0M1097 703h0M1095 726h0M1111 701h0M1101 696h0M1089 692h0M1105 707h0M1088 715h0M961 541h0M1029 421h0M1021 433h0M1022 441h0M1025 440h0M1019 428h0M1074 779h0M1083 807h0M1077 782h0M1145 639h0M1143 636h0M1151 620h0M1147 658h0M1144 643h0M1006 639h0M998 638h0M998 649h0M988 625h0M1239 931h0M1238 934h0M1240 918h0M1237 926h0M1226 918h0M1162 1432h0M1141 1440h0M1136 1455h0M1159 1429h0M1174 1429h0M1164 1441h0M1025 1195h0M1036 1199h0M1036 1200h0M1029 1175h0M1049 1208h0M1053 1300h0M1106 1303h0M1058 1303h0M1085 1301h0M1095 1293h0M1046 1311h0M1084 1293h0M865 850h0M856 851h0M863 835h0M842 851h0M853 845h0M854 834h0M941 290h0M987 305h0M963 289h0M917 597h0M897 584h0M917 594h0M1043 513h0M1041 493h0M1050 496h0M1048 491h0M1049 523h0M1054 511h0M1046 494h0M1044 495h0M1043 500h0M1167 1296h0M1147 1274h0M1171 1283h0M1159 1280h0M1166 1294h0M1249 1387h0M1284 1306h0M1268 1309h0M1276 1304h0M1296 1307h0M1299 1296h0M1275 1313h0M1278 1315h0M1289 1311h0M1021 441h0M1034 442h0M950 916h0M933 915h0M929 908h0M925 910h0M954 932h0M1312 1023h0M1313 1030h0M1331 1026h0M1306 1023h0M981 1159h0M1005 1161h0M1009 1160h0M1003 1155h0M1170 757h0M1211 761h0M1178 757h0M850 750h0M867 764h0M836 758h0M879 761h0M845 758h0M845 761h0M867 771h0M846 1020h0M839 1009h0M854 1007h0M844 1009h0M825 1045h0M1032 872h0M1157 576h0M1169 568h0M1164 575h0M1169 579h0M1161 574h0M1157 1111h0M989 390h0M999 381h0M1000 392h0M1119 988h0M1132 975h0M1135 968h0M1136 941h0M1131 973h0M1144 960h0M1145 958h0M1146 1078h0M1129 1024h0M1143 1043h0M1146 1035h0M1183 666h0M1166 667h0M1157 675h0M1156 679h0M1165 668h0M1223 1188h0M1231 1168h0M1235 1169h0M1238 1167h0M1238 1158h0M1262 1411h0M1259 1422h0M1278 1435h0M1255 1431h0M1258 1422h0M1272 1408h0M1093 624h0M1081 595h0M1136 1371h0M1118 1371h0M1117 1372h0M1127 1364h0M1103 1048h0M1099 1044h0M1092 1039h0M1091 1042h0M1090 1054h0M1098 1037h0M1112 1052h0M1116 1061h0M853 863h0M849 898h0M854 840h0M860 860h0M850 869h0M1133 507h0M1135 509h0M1141 486h0M1133 478h0M1150 490h0M902 494h0M903 481h0M910 504h0M905 494h0M907 455h0M906 488h0M913 483h0M1220 1359h0M1255 1364h0M1249 1352h0M1234 1364h0M1242 1365h0M1240 1358h0M1259 1340h0M1176 680h0M1204 682h0M1180 676h0M1188 678h0M1010 1348h0M992 1346h0M1007 1342h0M1006 1332h0M873 1138h0M890 1125h0M894 1117h0M886 1141h0M875 1160h0M886 1136h0M853 1046h0M849 1032h0M854 1034h0M844 1046h0M1083 1287h0M1030 1314h0M1045 1293h0M1038 1291h0M1052 1289h0M853 942h0M852 947h0M858 927h0M852 931h0M848 963h0M850 936h0M1046 1365h0M1073 1341h0M1048 1369h0M1048 1351h0M1049 1368h0M1068 1342h0M945 573h0M950 573h0M955 571h0M971 788h0M989 765h0M966 777h0M951 806h0M977 771h0M944 503h0M972 517h0M945 505h0M963 511h0M954 528h0M1274 1034h0M1272 1035h0M958 943h0M935 942h0M938 939h0M918 949h0M955 946h0M940 957h0M1258 1241h0M1254 1241h0M1245 1249h0M1264 1248h0M1262 1234h0M1259 1244h0M987 674h0M985 670h0M992 655h0M986 671h0M970 656h0M991 663h0M1088 1305h0M1092 1306h0M1101 1314h0M913 1073h0M901 1088h0M905 1077h0M1149 791h0M1173 822h0M1162 1318h0M1123 1308h0M1149 1307h0M1163 1315h0M1155 1313h0M1019 1187h0M1033 1196h0M1018 1185h0M1009 1192h0M1043 1182h0M1020 1197h0M1024 1194h0M1021 1194h0M989 298h0M1004 297h0M996 307h0M973 322h0M999 300h0M917 1131h0M906 1146h0M909 1129h0M1036 1356h0M1021 1363h0M1022 1356h0M1032 1353h0M1233 1306h0M1211 1317h0M1239 1319h0M1224 1320h0M963 1207h0M954 1199h0M953 1211h0M965 1218h0M951 1186h0M1117 553h0M1118 551h0M1100 545h0M1122 542h0M1117 548h0M1090 373h0M1072 413h0M1068 403h0M1028 1297h0M1017 1311h0M1006 1298h0M1002 1307h0M989 1320h0M892 842h0M899 842h0M905 854h0M878 790h0M908 776h0M887 782h0M899 775h0M892 786h0M884 800h0M921 1081h0M931 1069h0M897 1151h0M911 1133h0M895 1144h0M892 1161h0M901 1147h0M927 1145h0M1115 399h0M1104 411h0M1111 406h0M1089 400h0M1112 409h0M1039 850h0M1028 851h0M1341 1140h0M1326 1138h0M1307 1151h0M1316 1135h0M1325 1140h0M977 479h0M959 468h0M967 479h0M989 481h0M969 368h0M984 355h0M968 362h0M974 345h0M851 866h0M855 863h0M840 866h0M1072 928h0M1058 936h0M1053 936h0M1054 930h0M1047 933h0M1026 280h0M1040 285h0M1028 293h0M1034 293h0M1211 1047h0M1229 1043h0M1228 1043h0M1214 1032h0M1216 1040h0M1156 938h0M1142 922h0M1142 923h0M1211 1415h0M1220 1445h0M1220 1426h0M1230 1422h0M1240 1443h0M1214 1439h0M1203 1415h0M1344 1133h0M1329 1118h0M1037 638h0M1063 655h0M1059 658h0M1045 721h0M1040 729h0M1035 737h0M1042 728h0M1042 717h0M1044 727h0M1049 444h0M1059 454h0M1069 464h0M1065 445h0M1160 1347h0M1164 1351h0M1191 1363h0M973 983h0M976 1014h0M961 987h0M1053 547h0M1022 570h0M920 407h0M924 410h0M928 403h0M942 420h0M929 415h0M1320 1195h0M1318 1200h0M1310 1177h0M1318 1184h0M1297 1203h0M1310 1209h0M1176 920h0M1190 924h0M1211 918h0M959 1027h0M950 1009h0M963 1018h0M947 1026h0M1137 1002h0M1186 925h0M1182 915h0M1177 899h0M1182 918h0M955 981h0M944 1004h0M1105 1132h0M1083 1115h0M1082 1107h0M1092 1130h0M1078 1091h0M1092 1125h0M1136 826h0M1132 836h0M1138 833h0M1114 845h0M951 427h0M944 451h0M1124 891h0M1111 904h0M924 1229h0M906 1216h0M919 1263h0M918 1240h0M1084 1027h0M1079 1042h0M1091 1058h0M1304 1325h0M1302 1335h0M1288 1335h0M1301 1328h0M1302 1331h0M1304 1349h0M1047 1247h0M1036 1246h0M1045 1273h0M1060 1257h0M920 593h0M908 553h0M903 553h0M902 550h0M915 576h0M907 577h0M913 561h0M863 691h0M875 691h0M874 683h0M879 686h0M1280 889h0M1285 895h0M1277 890h0M1074 379h0M1091 374h0M1097 383h0M1103 375h0M1080 377h0M1224 781h0M1224 805h0M1223 817h0M1228 816h0M1102 1217h0M1109 1223h0M1104 1223h0M1113 1216h0M1092 1216h0M1095 1209h0M1118 560h0M1135 565h0M1121 559h0M1109 534h0M1143 569h0M1043 670h0M1020 686h0M1019 671h0M1031 680h0M1028 680h0M1037 679h0M1033 671h0M1030 673h0M1062 674h0M1061 292h0M1033 303h0M1022 288h0M1035 300h0M1041 300h0M1030 284h0M945 964h0M932 937h0M941 936h0M927 953h0M940 948h0M930 941h0M954 950h0M1016 566h0M1011 554h0M995 574h0M991 571h0M995 565h0M1182 1289h0M1193 1280h0M1184 1275h0M1216 1305h0M1193 1286h0M1197 1291h0M1183 1287h0M931 776h0M949 767h0M928 775h0M1280 1028h0M1283 986h0M1279 986h0M1275 1013h0M1284 1007h0M1034 325h0M1035 323h0M1031 332h0M1048 343h0M1032 336h0M1082 710h0M1079 694h0M1093 703h0M1098 691h0M1072 700h0M1082 716h0M1059 1031h0M1065 1035h0M1057 1036h0M1064 1032h0M1050 1028h0M1048 927h0M1051 931h0M1051 941h0M1046 944h0M1032 1054h0M1028 1052h0M1059 1064h0M1013 1067h0M1036 1046h0M1021 1056h0M1011 358h0M1008 369h0M1006 382h0M1007 361h0M1015 365h0M1147 854h0M1135 861h0M1128 852h0M1114 860h0M1137 857h0M1122 855h0M1339 1172h0M1338 1164h0M1334 1165h0M830 975h0M1078 829h0M1080 824h0M1081 815h0M1109 1318h0M1074 1322h0M1104 1324h0M1103 1319h0M1083 1310h0M1078 844h0M1071 840h0M1074 836h0M1117 1252h0M1116 1239h0M1204 1148h0M1203 1169h0M1201 1150h0M1219 1118h0M1063 324h0M1039 316h0M1032 328h0M1050 323h0M1056 321h0M1045 320h0M1053 334h0M1189 920h0M1232 927h0M1222 937h0M1206 919h0M1199 921h0M1254 1174h0M1266 1173h0M1277 1182h0M1261 1182h0M890 540h0M878 537h0M897 541h0M887 525h0M894 527h0M1264 944h0M1251 938h0M1268 937h0M1251 932h0M1240 932h0M1243 931h0M846 1057h0M845 1064h0M858 1073h0M845 1075h0M869 1083h0M1240 843h0M1230 854h0M1239 857h0M1232 853h0M1226 819h0M854 1076h0M857 1094h0M847 1095h0M1045 962h0M1024 892h0M1003 580h0M961 585h0M968 577h0M993 564h0M1006 557h0M1004 585h0M991 567h0M1313 934h0M1302 929h0M1311 920h0M1320 921h0M1121 760h0M1136 776h0M1102 761h0M1121 772h0M1098 765h0M1326 1211h0M1325 1217h0M1320 1217h0M1332 1206h0M1317 1215h0M1320 1219h0M1303 1217h0M1153 715h0M1128 724h0M1121 721h0M1106 850h0M1086 863h0M1095 862h0M1097 847h0M1091 840h0M1156 702h0M1143 686h0M1146 692h0M1137 687h0M1154 702h0M1157 698h0M1155 704h0M1179 721h0M857 652h0M862 655h0M837 636h0M1137 760h0M1142 759h0M1136 753h0M1119 752h0M1127 743h0M1141 773h0M1109 739h0M1117 746h0M1135 655h0M1172 635h0M1162 656h0M1156 647h0M1148 654h0M1155 648h0M990 1197h0M1013 1183h0M985 1218h0M983 1104h0M977 1099h0M980 1092h0M996 1125h0M1288 978h0M1290 964h0M1289 972h0M1283 970h0M1293 962h0M1275 979h0M1086 1351h0M1090 1354h0M1084 1378h0M1090 1376h0M1080 1306h0M1074 1310h0M1074 1322h0M841 799h0M837 789h0M1173 487h0M1181 489h0M1137 473h0M1211 1070h0M1201 1064h0M1205 1062h0M1218 1058h0M1204 1077h0M1196 1073h0M971 520h0M994 526h0M974 522h0M1010 531h0M964 511h0M1009 527h0M1020 528h0M1281 1396h0M1268 1375h0M1263 1391h0M1286 1414h0M1285 1407h0M1262 1382h0M1085 1058h0M855 1091h0M855 1096h0M852 1093h0M849 1107h0M985 550h0M1160 653h0M1149 641h0M1170 652h0M1129 467h0M1140 452h0M1278 1427h0M1287 1430h0M1289 1428h0M1288 1432h0M1047 304h0M1041 334h0M1050 294h0M1050 302h0M1055 312h0M1048 1034h0M1016 1025h0M1061 1034h0M1035 1024h0M1037 1036h0M943 910h0M949 913h0M948 921h0M950 906h0M942 921h0M945 894h0M848 809h0M874 828h0M981 669h0M990 683h0M984 681h0M988 688h0M983 694h0M989 673h0M987 689h0M984 699h0M1254 865h0M1249 855h0M1241 857h0M1262 854h0M1241 852h0M1250 858h0M1247 855h0M1258 876h0M1127 1302h0M1100 1297h0M1080 1278h0M1106 1289h0M1121 1296h0M1115 1297h0M1158 904h0M1176 922h0M1177 909h0M948 1305h0M976 1331h0M1176 1412h0M1174 1410h0M1180 1397h0M1023 800h0M1015 792h0M1003 802h0M1005 808h0M963 1131h0M968 1171h0M963 1144h0M928 1198h0M905 1190h0M927 1197h0M923 1198h0M926 1208h0M915 1188h0M922 1196h0M990 358h0M988 354h0M1009 360h0M1136 382h0M1157 384h0M1138 400h0M1134 393h0M1151 383h0M1145 1206h0M1139 1198h0M1123 1208h0M1122 1207h0M1177 821h0M1170 826h0M1160 810h0M844 872h0M846 881h0M818 880h0M832 877h0M885 1022h0M884 1033h0M888 1021h0M881 1044h0M885 1032h0M863 1041h0M864 1044h0M900 959h0M898 956h0M894 949h0M1011 696h0M1014 707h0M1023 711h0M1025 707h0M1032 732h0M1006 1260h0M1020 1252h0M1008 1269h0M1008 1263h0M1012 1256h0M1003 1260h0M1108 907h0M1123 891h0M1103 926h0M882 834h0M895 826h0M885 825h0M918 900h0M917 915h0M914 903h0M1114 704h0M1120 700h0M1127 709h0M1119 696h0M953 742h0M953 760h0M914 745h0M939 740h0M946 748h0M930 422h0M929 418h0M944 441h0M954 1309h0M953 1300h0M960 1330h0M958 1299h0M953 1304h0M1089 1323h0M1130 1189h0M1106 1191h0M1100 1219h0M1123 1198h0M1089 1205h0M1092 1200h0M1100 1206h0M1146 1082h0M1135 1078h0M1137 1082h0M1139 1083h0M1133 1066h0M961 1152h0M948 1162h0M949 1157h0M974 1134h0M949 1140h0M951 1164h0M897 598h0M885 590h0M877 595h0M907 584h0M838 731h0M854 746h0M1099 626h0M1112 618h0M1134 626h0M1117 620h0M1155 551h0M1150 560h0M1166 555h0M1167 556h0M1176 1198h0M1141 1185h0M1169 1194h0M1162 1203h0M1173 1194h0M1159 1204h0M1164 1189h0M1169 1207h0M1178 1207h0M962 993h0M958 973h0M970 978h0M961 989h0M1181 1104h0M1183 1089h0M1177 1088h0M1038 377h0M1041 370h0M1057 390h0M1047 366h0M1047 381h0M1056 389h0M1070 398h0M1057 372h0M976 1139h0M960 1144h0M951 1135h0M957 1150h0M954 1140h0M960 1129h0M967 1140h0M1010 436h0M1032 460h0M1024 443h0M1034 442h0M1026 451h0M924 522h0M933 531h0M946 560h0M945 543h0M931 543h0M934 533h0M934 524h0M922 525h0M923 492h0M1098 868h0M1125 848h0M1084 871h0M1091 873h0M1277 1331h0M1274 1322h0M1257 1016h0M1254 1028h0M1257 1019h0M1250 1018h0M1264 1040h0M938 1026h0M933 986h0M934 1003h0M946 1006h0M937 1010h0M1296 1197h0M1291 1199h0M1313 1192h0M1309 1182h0M871 1124h0M882 1094h0M857 1137h0M867 1127h0M880 1119h0M877 1115h0M881 1109h0M1008 473h0M1036 453h0M1293 1375h0M1308 1389h0M1304 1365h0M1286 1372h0M1297 1418h0M1297 1385h0M1308 1142h0M1336 1150h0M1354 1150h0M1364 1160h0M1293 1227h0M1307 1219h0M1173 785h0M1159 780h0M1146 790h0M1163 789h0M1167 791h0M1297 1199h0M1298 1187h0M1302 1197h0M1298 1196h0M1296 1179h0M1371 1219h0M1380 1203h0M1379 1195h0M1395 1209h0M1391 1201h0M967 1259h0M961 1242h0M963 1253h0M955 1259h0M981 1260h0M971 1263h0M972 1272h0M932 532h0M967 499h0M938 515h0M964 502h0M962 513h0M1092 550h0M1089 565h0M1081 552h0M1080 557h0M1080 557h0M1110 1348h0M1127 1325h0M1116 1338h0M1110 1348h0M1113 1342h0M1211 1115h0M1216 1133h0M1211 1114h0M1210 1123h0M1211 1119h0M1052 1195h0M1051 1185h0M1030 1214h0M1290 1074h0M1256 1084h0M1266 1076h0M1368 1247h0M1366 1254h0M1355 1239h0M1364 1258h0M1359 1240h0M1372 1269h0M1057 383h0M1068 379h0M1043 377h0M1081 377h0M1191 1268h0M1197 1260h0M1201 1263h0M1203 1256h0M1190 1266h0M1008 978h0M1015 986h0M1025 994h0M1298 1232h0M1304 1213h0M1318 1210h0M1294 1220h0M1184 799h0M1166 800h0M1163 813h0M1016 537h0M1015 521h0M1026 550h0M1006 502h0M1051 1265h0M1019 1265h0M1008 1277h0M1040 1265h0M1047 1281h0M1186 628h0M1167 631h0M1176 633h0M1174 604h0M862 593h0M838 610h0M880 592h0M862 588h0M878 586h0M900 589h0M1238 820h0M1232 812h0M1198 1226h0M1209 1220h0M1228 1218h0M1201 1219h0M1213 1222h0M893 1075h0M880 1070h0M878 1083h0M926 574h0M926 579h0M926 589h0M1175 1325h0M1184 1317h0M1147 1335h0M1040 862h0M1047 868h0M1041 864h0M1046 869h0M1069 1228h0M1102 1232h0M1096 1221h0M967 706h0M955 684h0M960 717h0M962 687h0M888 926h0M859 928h0M875 937h0M1057 1370h0M1029 1373h0M1032 1377h0M1029 1364h0M1013 1358h0M1046 1373h0M1057 1369h0M1349 1058h0M1298 1062h0M1349 1056h0M1329 1058h0M867 994h0M875 998h0M861 1010h0M1075 1399h0M1065 1400h0M1077 1407h0M1019 1036h0M1030 1055h0M1207 748h0M1180 697h0M1190 718h0M1121 1064h0M1134 1051h0M1217 927h0M1214 926h0M1226 931h0M1215 926h0M1075 1160h0M1075 1153h0M1071 1141h0M1081 1139h0M1074 1162h0M1317 1136h0M1328 1136h0M1330 1130h0M1342 1131h0M1006 447h0M1007 427h0M1008 425h0M1358 1318h0M1387 1322h0M1359 1335h0M1365 1318h0M1374 1328h0M902 981h0M902 976h0M912 965h0M904 982h0M1043 1158h0M1056 1161h0M1042 1153h0M1130 771h0M1125 767h0M1137 756h0M1146 764h0M1266 1069h0M1253 1070h0M1270 1070h0M1305 1064h0M1285 1068h0M1272 1085h0M1220 1092h0M1219 1094h0M1270 1068h0M1220 1093h0M1212 1088h0M985 457h0M979 462h0M987 470h0M1155 1236h0M890 869h0M905 890h0M896 871h0M900 868h0M897 892h0M988 320h0M971 710h0M982 708h0M990 721h0M990 722h0M982 707h0M921 635h0M927 648h0M1014 793h0M1012 784h0M994 792h0M902 604h0M902 598h0M883 567h0M878 572h0M878 594h0M1056 733h0M1039 716h0M1049 725h0M1067 742h0M1056 730h0M1026 732h0M1043 719h0M1072 729h0M1095 1265h0M1080 1250h0M1092 1278h0M1178 1189h0M1183 1173h0M1186 1192h0M1200 1206h0M1191 1194h0M986 452h0M1000 466h0M998 456h0M1149 1038h0M1147 1050h0M1136 1057h0M1026 1345h0M1031 1341h0M1030 1362h0M1029 1344h0M1023 1351h0M1039 1365h0M1045 1354h0M1122 619h0M1132 606h0M1129 609h0M1297 928h0M1303 951h0M1301 929h0M1292 932h0M1298 945h0M1308 949h0M971 560h0M971 577h0M966 554h0M984 562h0M862 903h0M853 904h0M864 909h0M859 905h0M852 929h0M1254 1089h0M1253 1075h0M1241 1086h0M1053 1216h0M1044 1196h0M1065 1227h0M1063 1227h0M1071 1251h0M867 623h0M885 606h0M890 636h0M891 632h0M882 639h0M895 636h0M1212 1432h0M1196 1425h0M1192 1388h0M1179 1418h0M1187 1053h0M1187 1090h0M1195 1096h0M1178 1061h0M1193 1096h0M1370 1151h0M1366 1158h0M1380 1172h0M1362 1135h0M1021 758h0M1010 716h0M1029 746h0M1135 892h0M1143 898h0M1128 886h0M1126 885h0M1112 868h0M1147 880h0M1128 876h0M1130 893h0M1210 1335h0M1218 1352h0M1201 1366h0M1205 1345h0M1203 1330h0M898 670h0M893 669h0M858 787h0M864 747h0M863 777h0M848 787h0M855 760h0M860 778h0M1111 1293h0M1109 1264h0M1107 1279h0M1108 1267h0M1119 1280h0M1199 951h0M1215 976h0M1225 965h0M1212 956h0M1204 952h0M1040 943h0M1059 955h0M1034 940h0M1045 952h0M973 1291h0M991 1269h0M970 1269h0M970 1266h0M1275 1235h0M902 1066h0M913 1074h0M910 1069h0M896 1056h0M921 1057h0M908 1062h0M1268 865h0M1233 863h0M1253 863h0M1255 864h0M1249 867h0M1338 1359h0M1331 1331h0M1340 1328h0M1356 1315h0M1325 1352h0M1335 1333h0M1258 1256h0M1246 1239h0M1264 1252h0M1248 1243h0M1245 1236h0M1194 1313h0M1197 1294h0M909 1106h0M899 1097h0M911 1105h0M914 1115h0M894 1111h0M1226 1010h0M1225 993h0M1220 997h0M981 351h0M1001 358h0M948 352h0M975 360h0M988 354h0M995 354h0M1171 1249h0M1164 1261h0M980 524h0M991 532h0M954 394h0M976 401h0M940 378h0M1209 1461h0M1213 1403h0M1214 1420h0M902 601h0M917 608h0M892 587h0M882 602h0M888 595h0M850 809h0M859 799h0M851 801h0M830 802h0M870 800h0M852 807h0M1142 1223h0M1168 1241h0M1141 1222h0M1143 1221h0M1127 1217h0M865 526h0M867 524h0M893 539h0M884 544h0M883 542h0M880 536h0M1185 673h0M1196 677h0M1182 659h0M1012 944h0M1014 939h0M1017 960h0M1014 951h0M1010 948h0M961 1208h0M973 1207h0M941 1202h0M933 1201h0M948 1195h0M964 1208h0M947 1263h0M930 1266h0M939 1260h0M946 1253h0M945 1256h0M942 1250h0M938 1250h0M1287 897h0M1272 888h0M1282 893h0M1287 910h0M1293 900h0M839 862h0M835 868h0M840 871h0M854 866h0M843 883h0M845 871h0M1067 349h0M1087 347h0M1046 328h0M1191 1120h0M1186 1145h0M1171 750h0M1113 968h0M1121 950h0M1129 965h0M1104 967h0M1131 945h0M924 1300h0M957 1289h0M939 1293h0M958 1302h0M949 1306h0M1093 432h0M1073 427h0M1104 424h0M1121 447h0M1088 1082h0M1092 1065h0M1083 1066h0M1076 1093h0M1082 1081h0M1232 835h0M1233 812h0M1231 811h0M1007 505h0M1021 498h0M1022 501h0M1016 492h0M1064 603h0M1066 602h0M1040 604h0M924 1128h0M931 1139h0M914 1123h0M938 1132h0M926 1138h0M1125 792h0M1129 801h0M1117 799h0M1108 784h0M1129 791h0M932 1094h0M939 1102h0M917 1087h0M934 1100h0M917 1080h0M952 583h0M940 590h0M942 579h0M1138 1090h0M1139 1096h0M1142 1112h0M1143 1093h0M1150 1117h0M1345 1337h0M1364 1352h0M1371 1365h0M1363 1359h0M1362 1355h0M1368 1346h0M1370 1356h0M1230 1120h0M1229 1126h0M1225 1135h0M1242 1013h0M1231 1014h0M1229 1011h0M1233 1014h0M1239 1013h0M975 694h0M960 674h0M979 699h0M954 687h0M955 673h0M896 995h0M904 995h0M909 1019h0M907 1007h0M911 1014h0M910 1026h0M1033 1325h0M1022 1321h0M1053 1331h0M1023 1330h0M1039 1334h0M911 1200h0M885 1176h0M909 1199h0M1341 1216h0M1351 1220h0M1331 1204h0M1091 1239h0M1097 1247h0M1098 1250h0M1102 1222h0M1085 1242h0M1094 1245h0M1090 1241h0M1131 867h0M1154 871h0M1130 878h0M1139 875h0M1159 869h0M1146 877h0M950 563h0M932 570h0M940 585h0M1230 1358h0M1231 1353h0M1232 1402h0M1233 1375h0M1231 1414h0M1236 1396h0M1234 1386h0M1238 1385h0M1291 1265h0M1286 1258h0M1290 1266h0M964 962h0M942 963h0M1032 291h0M1019 287h0M1029 289h0M1038 277h0M1057 281h0M1051 295h0M1031 293h0M1038 288h0M1304 1198h0M1077 325h0M1069 324h0M857 651h0M869 667h0M851 649h0M854 643h0M861 656h0M1190 1320h0M1158 1327h0M1179 1316h0M1192 1318h0M1089 1021h0M1127 1030h0M1097 1022h0M937 565h0M949 543h0M862 986h0M884 964h0M866 982h0M875 977h0M887 957h0M891 487h0M887 510h0M1087 974h0M1079 954h0M1075 963h0M1085 972h0M1102 951h0M1098 946h0M1199 1094h0M1195 1112h0M1197 1093h0M1205 1118h0M1177 1108h0M1184 1105h0M1200 1110h0M1190 1100h0M1071 349h0M1069 357h0M1099 752h0M1083 740h0M1087 747h0M1098 749h0M1201 1129h0M1219 1105h0M1215 1122h0M1209 1105h0M1205 1105h0M953 1036h0M946 1042h0M968 1036h0M965 1032h0M944 1052h0M1215 822h0M1225 826h0M1209 801h0M1235 843h0M954 745h0M940 732h0M964 741h0M953 744h0M948 739h0M955 743h0M956 735h0M963 733h0M1275 1265h0M1264 1226h0M1268 1231h0M1177 1159h0M1179 1156h0M1170 1146h0M1171 1148h0M1180 1159h0M1399 1221h0M1402 1238h0M1382 1210h0M946 1060h0M942 1073h0M946 1064h0M1181 804h0M1233 665h0M1238 658h0M1225 696h0M1242 643h0M1226 693h0M1194 719h0M1256 792h0M1239 718h0M1263 698h0M1255 566h0M1186 653h0M1263 694h0M1242 623h0M1225 665h0M1234 705h0M1209 576h0M1212 756h0M1220 743h0M1260 662h0M1249 713h0M1188 752h0M1190 821h0M1229 744h0M1266 656h0M1200 857h0M1257 769h0M1160 728h0M1196 666h0M1212 765h0M1210 705h0M1227 850h0M1209 741h0M1253 611h0M1195 692h0M1279 677h0M1229 821h0M1202 689h0M1191 653h0M1265 674h0M1194 778h0M1236 721h0M1301 755h0M1270 604h0M1230 845h0M1257 811h0M1180 700h0M1277 796h0M1230 795h0M1272 631h0M1269 800h0M1214 876h0M1279 811h0M1214 749h0M1225 877h0M1298 763h0M1198 663h0M1284 756h0M1207 705h0M1218 716h0M1286 660h0M1251 817h0M1304 665h0M1220 680h0M1188 726h0M1203 706h0M1235 805h0M1241 775h0M1248 711h0M1262 735h0M1181 682h0M1289 731h0M1239 845h0M1245 681h0M1191 794h0M1232 635h0M1275 810h0M1185 733h0M1253 802h0M1185 763h0M1257 763h0M1171 683h0M1225 700h0M1265 688h0M1249 648h0M1230 828h0M1221 721h0M1181 613h0M1252 834h0M1206 708h0M1349 908h0M1341 904h0M1345 898h0M1331 870h0M1327 861h0M1336 964h0M1315 890h0M1327 942h0M1329 916h0M1320 909h0M1332 893h0M1369 944h0M1338 937h0M1326 918h0M1368 939h0M1341 923h0M1321 900h0M1330 906h0M1377 923h0M1363 917h0M1313 969h0M1325 914h0M1369 986h0M1341 969h0M1326 945h0M1318 961h0M1327 952h0M1310 983h0M1372 906h0M1343 877h0" stroke="#F8766D" stroke-width="11.5"/>
<path d="M857 1395h0M856 1388h0M870 1394h0M873 1395h0M854 1401h0M744 1252h0M713 1266h0M729 1263h0M711 1261h0M724 1255h0M779 1397h0M785 1406h0M782 1398h0M782 1390h0M791 1418h0M775 1414h0M775 1400h0M917 1470h0M925 1465h0M916 1470h0M919 1452h0M795 1403h0M796 1378h0M798 1391h0M812 1386h0M794 1371h0M789 1399h0M731 914h0M733 907h0M741 906h0M824 1343h0M835 1351h0M817 1347h0M823 1350h0M605 1033h0M606 1042h0M621 1011h0M601 1047h0M907 1482h0M908 1472h0M890 1483h0M929 1463h0M882 1487h0M900 1481h0M841 1308h0M839 1299h0M859 1313h0M853 1307h0M864 1355h0M850 1357h0M869 1345h0M836 1350h0M792 1441h0M777 1467h0M792 1450h0M777 1448h0M935 1535h0M937 1521h0M930 1565h0M921 1534h0M923 1544h0M933 1534h0M601 904h0M592 901h0M603 900h0M608 911h0M597 913h0M589 909h0M592 891h0M785 1137h0M755 1121h0M778 1133h0M596 891h0M595 893h0M600 903h0M604 911h0M903 1396h0M894 1402h0M886 1424h0M884 1418h0M739 1371h0M732 1375h0M742 1360h0M731 1368h0M739 1383h0M733 1356h0M648 960h0M659 981h0M646 967h0M642 962h0M638 965h0M696 640h0M694 635h0M692 625h0M707 651h0M695 640h0M706 1168h0M708 1159h0M726 1164h0M704 1153h0M670 1066h0M694 1079h0M716 1089h0M709 1078h0M679 1080h0M895 1472h0M882 1452h0M895 1468h0M658 1095h0M673 1071h0M667 1067h0M657 1094h0M658 1086h0M792 1211h0M810 1206h0M782 1223h0M814 1310h0M822 1315h0M821 1322h0M826 1316h0M820 1311h0M826 1444h0M842 1441h0M769 1125h0M745 1128h0M746 1130h0M781 1124h0M779 1133h0M668 1076h0M675 1086h0M675 1079h0M668 1081h0M673 1083h0M681 1084h0M625 956h0M623 953h0M623 966h0M620 967h0M630 945h0M601 979h0M588 1010h0M578 1003h0M601 988h0M674 719h0M684 716h0M672 739h0M583 770h0M592 753h0M595 781h0M907 1531h0M909 1533h0M899 1526h0M701 1175h0M693 1206h0M690 1180h0M685 1215h0M753 1413h0M754 1417h0M739 1448h0M884 1413h0M891 1410h0M875 1425h0M867 1424h0M732 1405h0M728 1424h0M724 1401h0M742 1373h0M734 1373h0M728 1390h0M732 1384h0M642 1094h0M654 1091h0M625 1082h0M633 1088h0M694 955h0M731 957h0M732 967h0M689 966h0M897 1490h0M888 1499h0M970 1541h0M955 1563h0M985 1555h0M962 1547h0M583 656h0M586 648h0M581 670h0M580 678h0M594 677h0M578 661h0M973 1478h0M974 1476h0M965 1470h0M969 1489h0M972 1467h0M634 672h0M619 643h0M622 634h0M634 645h0M711 655h0M690 659h0M730 656h0M715 651h0M705 650h0M681 644h0M713 658h0M685 1088h0M680 1083h0M682 1083h0M675 1076h0M685 1101h0M683 832h0M679 844h0M683 840h0M683 842h0M676 996h0M666 999h0M667 1016h0M674 1028h0M672 989h0M892 1470h0M899 1483h0M893 1498h0M896 1483h0M891 1472h0M900 1468h0M685 1113h0M689 1109h0M659 1106h0M669 1116h0M664 1113h0M766 1125h0M786 1134h0M763 1133h0M705 584h0M710 582h0M719 573h0M706 552h0M710 578h0M885 1345h0M874 1335h0M864 1337h0M826 1443h0M841 1436h0M836 1441h0M831 1435h0M884 1487h0M894 1485h0M894 1486h0M892 1495h0M791 1467h0M782 1451h0M778 1449h0M779 1444h0M789 1459h0M975 1485h0M988 1484h0M986 1488h0M984 1485h0M688 901h0M679 905h0M688 888h0M689 898h0M819 1241h0M833 1250h0M761 1409h0M936 1477h0M942 1479h0M927 1483h0M947 1479h0M696 1294h0M694 1293h0M691 1293h0M725 1309h0M701 1302h0M755 1221h0M755 1205h0M757 1226h0M666 1176h0M655 1172h0M661 1185h0M738 1357h0M704 1366h0M739 1348h0M884 1415h0M898 1394h0M885 1414h0M760 1473h0M770 1463h0M608 919h0M591 960h0M592 943h0M589 941h0M757 1215h0M745 1231h0M850 1547h0M866 1524h0M859 1527h0M859 1530h0M850 1557h0M845 1272h0M838 1278h0M832 1270h0M840 1283h0M846 1284h0M850 1291h0M852 1296h0M852 1285h0M802 1357h0M816 1344h0M805 1355h0M817 1341h0M716 1356h0M728 1355h0M715 1349h0M713 1363h0M721 1353h0M726 944h0M733 935h0M722 935h0M724 933h0M674 1072h0M654 1068h0M668 1057h0M715 641h0M684 659h0M717 637h0M703 647h0M679 656h0M704 656h0M693 638h0M687 1327h0M692 1308h0M682 1295h0M691 1335h0M689 1302h0M691 1341h0M874 1454h0M869 1458h0M858 1481h0M540 838h0M549 825h0M699 774h0M676 754h0M717 769h0M700 766h0M641 1153h0M623 1136h0M630 1136h0M638 1136h0M879 1356h0M855 1367h0M880 1353h0M861 1380h0M712 1019h0M731 964h0M716 1024h0M609 734h0M616 718h0M616 721h0M828 1411h0M826 1408h0M829 1422h0M825 1430h0M822 1416h0M825 1415h0M815 1399h0M820 1412h0M827 1431h0M817 1403h0M874 1540h0M879 1564h0M882 1539h0M866 1328h0M877 1335h0M873 1334h0M748 1334h0M759 1341h0M754 1364h0M660 836h0M643 853h0M660 845h0M669 833h0M673 795h0M854 1314h0M820 1320h0M851 1317h0M853 1311h0M732 1376h0M738 1371h0M738 1368h0M748 1368h0M735 1376h0M676 1237h0M662 1227h0M683 1230h0M669 1234h0M700 1256h0M705 1262h0M706 1258h0M705 1257h0M705 1267h0M537 883h0M547 891h0M549 878h0M561 882h0M820 1387h0M823 1354h0M826 1368h0M833 1351h0M852 1384h0M852 1397h0M861 1390h0M853 1401h0M698 1293h0M705 1311h0M686 1000h0M706 1006h0M705 999h0M730 1013h0M865 1373h0M869 1373h0M869 1368h0M871 1372h0M861 1364h0M760 1267h0M746 1274h0M690 1192h0M687 1191h0M693 1174h0M685 1185h0M691 1188h0M688 1194h0M821 1505h0M816 1512h0M827 1489h0M823 1503h0M811 1510h0M817 1481h0M830 1497h0M647 1044h0M681 1034h0M660 1048h0M675 1029h0M665 1027h0M682 1153h0M682 1157h0M673 1141h0M733 1271h0M740 1263h0M734 1256h0M594 635h0M604 631h0M682 1206h0M662 1211h0M772 1317h0M781 1314h0M765 1316h0M780 1286h0M803 1421h0M799 1438h0M705 853h0M707 834h0M715 834h0M695 822h0M698 1053h0M717 1047h0M709 1053h0M699 936h0M717 935h0M703 926h0M736 950h0M709 940h0M720 936h0M701 917h0M745 1329h0M950 1549h0M936 1562h0M945 1550h0M623 981h0M632 978h0M619 991h0M624 965h0M631 964h0M638 964h0M850 1478h0M842 1481h0M851 1458h0M564 814h0M569 817h0M558 812h0M571 825h0M686 1299h0M673 1312h0M682 1298h0M679 1308h0M692 1300h0M668 1290h0M629 1058h0M633 1046h0M894 1531h0M908 1528h0M886 1539h0M893 1538h0M620 1105h0M634 1104h0M600 1094h0M618 1093h0M577 1014h0M599 1006h0M598 1007h0M831 1336h0M800 1343h0M821 1341h0M819 1325h0M799 1327h0M771 1261h0M778 1266h0M793 1262h0M793 1277h0M671 880h0M683 864h0M646 977h0M639 972h0M646 967h0M786 1350h0M787 1355h0M784 1362h0M793 1351h0M795 1356h0M787 1359h0M731 1239h0M737 1241h0M936 1538h0M935 1547h0M938 1551h0M931 1545h0M961 1555h0M940 1550h0M831 1241h0M829 1237h0M818 1234h0M827 1234h0M847 1239h0M701 969h0M707 963h0M709 942h0M705 960h0M709 969h0M851 1525h0M861 1508h0M866 1485h0M553 879h0M553 876h0M821 1494h0M829 1482h0M828 1495h0M787 1450h0M796 1455h0M818 1471h0M908 1512h0M905 1500h0M894 1513h0M904 1493h0M908 1498h0M877 1510h0M903 1498h0M741 1193h0M753 1198h0M744 1214h0M737 1193h0M746 1205h0M757 1218h0M699 958h0M706 965h0M693 973h0M695 959h0M607 898h0M584 895h0M611 901h0M808 1266h0M805 1248h0M807 1230h0M811 1245h0M726 806h0M729 794h0M726 801h0M720 800h0M708 804h0M717 794h0M705 818h0M760 1028h0M731 1039h0M722 1046h0M761 1023h0M765 1175h0M754 1177h0M731 1166h0M748 1173h0M748 1181h0M626 1074h0M621 1066h0M615 1054h0M693 994h0M710 992h0M922 1453h0M934 1453h0M923 1451h0M930 1449h0M895 1429h0M891 1431h0M900 1417h0M893 1436h0M846 1438h0M838 1428h0M748 1287h0M752 1285h0M767 1293h0M740 1220h0M723 1216h0M729 1212h0M923 1429h0M912 1440h0M915 1427h0M924 1428h0M921 1436h0M763 1303h0M751 1303h0M762 1311h0M759 1315h0M758 1300h0M796 1432h0M783 1419h0M778 1410h0M786 1433h0M600 1037h0M590 1035h0M592 1037h0M606 986h0M594 975h0M586 993h0M767 1219h0M764 1197h0M760 1200h0M756 1199h0M941 1523h0M942 1541h0M914 1516h0M939 1527h0M920 1522h0M1027 1526h0M1008 1542h0M1025 1534h0M1016 1518h0M1022 1535h0M1001 1504h0M1005 1504h0M1000 1523h0M635 808h0M642 860h0M646 856h0M655 824h0M647 837h0M994 1484h0M990 1483h0M975 1482h0M713 812h0M685 805h0M708 811h0M673 807h0M703 1352h0M692 1340h0M692 1344h0M853 1452h0M836 1456h0M847 1457h0M844 1471h0M846 1462h0M837 1459h0M766 1220h0M785 1199h0M785 1218h0M791 1216h0M794 1330h0M790 1326h0M618 984h0M624 983h0M643 983h0M623 981h0M589 804h0M590 792h0M572 798h0M570 799h0M560 782h0M848 1447h0M855 1449h0M843 1447h0M832 1442h0M906 1438h0M909 1437h0M911 1453h0M891 1452h0M916 1443h0M604 1091h0M613 1072h0M606 1096h0M611 1123h0M608 1104h0M839 1374h0M814 1356h0M830 1352h0M832 1356h0M845 1361h0M630 530h0M623 506h0M628 556h0M922 1553h0M935 1563h0M945 1549h0M939 1542h0M818 1503h0M819 1494h0M824 1514h0M824 1515h0M821 1508h0M623 790h0M609 770h0M621 782h0M638 786h0M629 791h0M642 799h0M694 656h0M702 648h0M707 643h0M703 648h0M705 660h0M893 1480h0M887 1498h0M914 1463h0M898 1473h0M808 1423h0M831 1425h0M821 1420h0M811 1428h0M649 1029h0M640 1026h0M649 1025h0M619 1045h0M815 1226h0M805 1217h0M827 1221h0M801 1222h0M817 1229h0M803 1220h0M919 1530h0M927 1519h0M949 1529h0M913 1496h0M943 1525h0M934 1523h0M774 1253h0M766 1261h0M783 1275h0M853 1422h0M840 1429h0M859 1430h0M875 1416h0M858 1417h0M550 877h0M574 849h0M545 873h0M774 1401h0M772 1390h0M774 1397h0M767 1402h0M782 1390h0M784 1390h0M745 1023h0M785 1028h0M761 1026h0M780 1022h0M742 1023h0M695 786h0M687 806h0M676 928h0M677 927h0M679 925h0M670 937h0M677 935h0M669 931h0M639 836h0M643 833h0M644 834h0M711 1142h0M710 1153h0M708 1150h0M704 1132h0M697 1131h0M677 874h0M688 876h0M694 874h0M691 892h0M678 886h0M697 1147h0M693 1136h0M689 1142h0M689 1118h0M689 1134h0M655 1016h0M973 1546h0M588 809h0M588 814h0M597 789h0M595 785h0M871 1536h0M877 1553h0M866 1559h0M876 1555h0M698 1318h0M679 1274h0M705 1304h0M816 1354h0M827 1366h0M840 1366h0M844 1355h0M723 1223h0M712 1215h0M700 1221h0M618 961h0M601 959h0M590 963h0M750 1133h0M744 1149h0M729 1122h0M698 544h0M707 552h0M716 542h0M704 547h0M662 1026h0M674 1001h0M671 1031h0M672 1008h0M661 1018h0M867 1434h0M856 1445h0M874 1438h0M875 1426h0M754 1413h0M752 1413h0M644 694h0M628 687h0M753 1160h0M758 1155h0M766 1145h0M750 1161h0M764 1148h0M710 1120h0M732 1092h0M722 1089h0M716 1111h0M708 1112h0M533 848h0M558 889h0M557 856h0M550 873h0M545 854h0M559 868h0M564 858h0M567 869h0M751 1267h0M778 1263h0M748 1267h0M750 1280h0M785 1375h0M790 1384h0M795 1392h0M764 1392h0M760 1397h0M768 1413h0M640 1142h0M647 1135h0M655 1122h0M641 1134h0M654 1125h0M635 1153h0M782 1151h0M790 1153h0M767 1171h0M796 1161h0M785 1150h0M704 690h0M696 688h0M703 686h0M817 1374h0M825 1386h0M806 1397h0M836 1378h0M825 1382h0M833 1380h0M783 1318h0M811 1320h0M800 1302h0M753 1058h0M786 1067h0M1015 1481h0M1036 1469h0M993 1504h0M1003 1488h0M1013 1483h0M575 953h0M577 942h0M583 957h0M571 941h0M580 964h0M726 991h0M726 996h0M723 1008h0M769 1160h0M805 1170h0M791 1167h0M768 1163h0M791 1154h0M772 1153h0M762 1165h0M1026 1517h0M1022 1531h0M1014 1525h0M1011 1530h0M996 1524h0M1021 1531h0M576 975h0M607 951h0M581 978h0M596 971h0M730 1262h0M564 703h0M570 725h0M776 1136h0M776 1133h0M765 1134h0M784 1132h0M678 1148h0M664 1165h0M676 1158h0M692 844h0M687 1156h0M665 1180h0M663 1178h0M637 903h0M627 896h0M647 905h0M662 911h0M667 907h0M799 1256h0M779 1288h0M794 1269h0M714 1006h0M720 992h0M719 1011h0M712 991h0M747 1116h0M736 1113h0M759 1121h0M745 1111h0M822 1443h0M818 1458h0M551 662h0M562 674h0M560 673h0M571 655h0M560 664h0M689 1292h0M683 1290h0M694 1286h0M699 1281h0M795 1460h0M802 1445h0M792 1438h0M811 1470h0M801 1438h0M674 853h0M678 879h0M676 869h0M689 875h0M677 859h0M667 858h0M704 1185h0M712 1196h0M727 1215h0M710 1198h0M703 1191h0M602 921h0M612 918h0M602 937h0M593 937h0M841 1344h0M830 1339h0M835 1359h0M680 556h0M672 562h0M671 560h0M608 488h0M623 501h0M593 496h0M622 506h0M887 1401h0M884 1394h0M890 1402h0M872 1392h0M719 1160h0M742 1176h0M681 753h0M672 738h0M690 744h0M739 1067h0M737 1065h0M741 1067h0M578 701h0M583 696h0M580 704h0M575 703h0M784 1285h0M831 1267h0M803 1271h0M823 1267h0M698 479h0M702 475h0M719 444h0M715 453h0M711 475h0M734 1385h0M729 1380h0M753 1391h0M871 1359h0M863 1351h0M873 1354h0M885 1358h0M814 1510h0M796 1522h0M813 1513h0M839 1519h0M824 1519h0M827 1527h0M755 1391h0M769 1394h0M768 1389h0M779 1398h0M644 900h0M649 900h0M633 893h0M639 886h0M629 894h0M641 910h0M650 907h0M830 1323h0M834 1334h0M837 1325h0M829 1346h0M584 759h0M584 746h0M580 754h0M592 755h0M595 764h0M734 893h0M730 890h0M721 922h0M727 893h0M779 1410h0M700 1275h0M698 1293h0M595 893h0M605 906h0M613 903h0M711 1020h0M694 1020h0M712 1016h0M795 1429h0M787 1439h0M801 1429h0M791 1451h0M697 830h0M698 835h0M695 850h0M701 828h0M1009 1520h0M1005 1487h0M1009 1505h0M836 1510h0M834 1505h0M823 1516h0M841 1503h0M674 892h0M662 891h0M724 1021h0M708 1020h0M734 1001h0M727 1012h0M728 1015h0M831 1292h0M851 1289h0M837 1297h0M843 1279h0M733 1111h0M740 1105h0M736 1104h0M735 1095h0M727 1107h0M783 1425h0M797 1434h0M793 1476h0M793 1414h0M814 1420h0M812 1421h0M817 1419h0M653 1045h0M657 1054h0M647 1034h0M660 1060h0M653 1040h0M1019 1537h0M1000 1554h0M999 1545h0M892 1562h0M888 1543h0M891 1546h0M890 1552h0M884 1540h0M700 1312h0M704 1306h0M701 1314h0M703 1315h0M695 1317h0M780 1227h0M775 1224h0M780 1212h0M893 1378h0M870 1396h0M870 1386h0M854 1387h0M783 1405h0M807 1374h0M784 1286h0M746 1358h0M754 1363h0M708 865h0M716 880h0M718 886h0M708 886h0M724 895h0M749 1157h0M763 1172h0M751 1168h0M763 1165h0M955 1504h0M954 1498h0M955 1493h0M942 1472h0M947 1470h0M955 1509h0M948 1495h0M943 1487h0M757 1401h0M749 1388h0M796 1429h0M801 1431h0M631 948h0M624 928h0M640 944h0M646 940h0M633 925h0M562 831h0M566 837h0M569 838h0M567 844h0M788 1111h0M765 1116h0M774 1126h0M731 1129h0M739 1126h0M911 1546h0M960 1564h0M931 1560h0M921 1551h0M941 1559h0M936 1561h0M948 1556h0M701 1016h0M688 1008h0M687 1003h0M710 1016h0M692 1018h0M882 1478h0M897 1448h0M880 1487h0M916 1455h0M896 1474h0M797 1188h0M783 1168h0M813 1194h0M979 1510h0M673 779h0M669 804h0M667 771h0M671 786h0M678 808h0M822 1460h0M788 1402h0M801 1434h0M796 1404h0M789 1406h0M700 1347h0M712 1361h0M724 1382h0M714 1351h0M718 1376h0M705 1349h0M725 1393h0M785 1264h0M780 1280h0M780 1265h0M769 1282h0M761 1293h0M771 1270h0M777 1441h0M786 1446h0M785 1450h0M793 1431h0M790 1433h0M787 1423h0M729 1175h0M735 1166h0M731 1171h0M736 1166h0M709 1256h0M703 1253h0M701 1258h0M709 1261h0M689 1283h0M691 1279h0M910 1443h0M935 1405h0M926 1406h0M926 1417h0M587 938h0M706 1101h0M704 1109h0M691 1117h0M693 1094h0M685 1084h0M844 1278h0M847 1278h0M834 1270h0M833 1266h0M850 1272h0M840 1280h0M672 1033h0M672 1033h0M673 1025h0M837 1466h0M824 1453h0M845 1474h0M858 1461h0M844 1518h0M846 1520h0M853 1528h0M661 1091h0M664 1093h0M638 1098h0M915 1444h0M928 1455h0M927 1438h0M921 1439h0M692 905h0M680 915h0M700 912h0M701 914h0M612 889h0M832 1373h0M836 1379h0M839 1381h0M844 1393h0M841 1394h0M828 1382h0M822 1324h0M829 1336h0M829 1345h0M812 1360h0M831 1339h0M781 1309h0M789 1307h0M793 1327h0M906 1495h0M913 1518h0M919 1492h0M912 1487h0M806 1398h0M803 1375h0M583 621h0M559 601h0M572 604h0M542 595h0M566 598h0M681 1042h0M664 1041h0M673 1036h0M668 1038h0M631 1102h0M628 1107h0M610 1097h0M859 1348h0M840 1358h0M852 1360h0M843 1365h0M850 1354h0M853 1372h0M842 1523h0M835 1532h0M817 1523h0M929 1573h0M930 1552h0M929 1568h0M924 1563h0M932 1568h0M711 1366h0M699 1335h0M706 1208h0M691 1214h0M694 1204h0M915 1448h0M915 1435h0M643 1152h0M663 1132h0M652 1134h0M657 1159h0M671 1164h0M670 1157h0M651 1168h0M655 1146h0M657 1157h0M664 1155h0M557 918h0M579 904h0M667 1094h0M680 1081h0M675 1095h0M671 1117h0M944 1508h0M950 1506h0M959 1496h0M970 1497h0M961 1494h0M933 1504h0M821 1286h0M788 1303h0M804 1274h0M825 1288h0M704 1183h0M706 1195h0M708 1162h0M703 1175h0M709 1190h0M612 810h0M608 822h0M601 818h0M596 798h0M788 1247h0M775 1236h0M768 1235h0M748 1391h0M747 1383h0M740 1394h0M826 1277h0M836 1273h0M828 1297h0M595 1070h0M616 1062h0M597 1061h0M588 1052h0M587 1067h0M869 1483h0M855 1462h0M863 1466h0M860 1473h0M868 1465h0M649 780h0M618 761h0M633 774h0M636 783h0M610 779h0M623 771h0M694 1145h0M675 1145h0M706 1149h0M669 1144h0M697 1150h0M761 1058h0M761 1069h0M740 1062h0M754 1060h0M735 1067h0M845 1405h0M866 1435h0M852 1408h0M842 1413h0M848 1401h0M860 1438h0M850 1400h0M693 1021h0M694 1004h0M698 1003h0M693 994h0M694 992h0M818 1446h0M802 1437h0M793 1449h0M805 1463h0M803 1445h0M874 1509h0M866 1511h0M882 1499h0M600 1054h0M591 1052h0M593 1054h0M588 1065h0M707 822h0M726 808h0M693 808h0M713 826h0M736 820h0M728 819h0M932 1448h0M932 1447h0M925 1441h0M939 1447h0M926 1455h0M919 1467h0M737 1126h0M764 1127h0M831 1288h0M835 1273h0M829 1283h0M835 1278h0M840 1268h0M929 1493h0M942 1485h0M643 1009h0M634 1004h0M639 995h0M634 997h0M861 1550h0M855 1520h0M863 1517h0M856 1538h0M837 1555h0M689 1325h0M698 1333h0M687 1295h0M692 1308h0M855 1344h0M876 1342h0M858 1346h0M883 1355h0M1041 1512h0M1029 1531h0M1015 1521h0M1026 1530h0M680 746h0M680 741h0M661 744h0M657 755h0M662 746h0M937 1444h0M932 1444h0M929 1437h0M933 1441h0M943 1456h0M553 835h0M549 831h0M543 829h0M557 840h0M645 1152h0M654 1155h0M663 1164h0M666 1162h0M653 1159h0M607 849h0M605 850h0M608 837h0M611 843h0M605 863h0M596 832h0M607 852h0M604 824h0M723 1166h0M725 1143h0M718 1164h0M765 1069h0M755 1083h0M765 1069h0M764 1076h0M759 1066h0M978 1510h0M986 1481h0M986 1495h0M971 1494h0M708 978h0M727 972h0M731 969h0M744 951h0M728 960h0M720 975h0M605 1053h0M620 1048h0M680 801h0M673 783h0M678 799h0M700 794h0M670 793h0M684 793h0M759 1391h0M772 1376h0M767 1393h0M772 1395h0M774 1411h0M771 1390h0M603 950h0M601 944h0M599 952h0M610 952h0M592 943h0M607 947h0M621 969h0M669 1306h0M690 1293h0M682 1301h0M693 1295h0M730 1101h0M724 1085h0M762 1106h0M729 1099h0M747 1105h0M723 1100h0M751 1240h0M752 1229h0M740 1257h0M765 1238h0M594 1070h0M605 1073h0M802 1464h0M812 1465h0M809 1457h0M751 1323h0M741 1330h0M701 1141h0M655 866h0M671 872h0M663 877h0M721 1038h0M714 1042h0M732 1035h0M710 1037h0M705 1068h0M849 1358h0M842 1342h0M675 1177h0M672 1181h0M691 1187h0M685 1177h0M668 1195h0M675 1191h0M570 521h0M603 551h0M583 529h0M589 533h0M836 1328h0M853 1328h0M848 1335h0M862 1323h0M841 1328h0M884 1547h0M873 1549h0M882 1543h0M873 1545h0M891 1546h0M580 819h0M610 820h0M700 595h0M704 598h0M698 606h0M773 1093h0M773 1112h0M783 1102h0M771 1109h0M636 907h0M638 893h0M642 903h0M631 902h0M616 903h0M630 841h0M871 1460h0M873 1469h0M887 1469h0M861 1462h0M862 1467h0M714 1396h0M714 1365h0M717 1339h0M731 1359h0M720 1352h0M714 1372h0M694 620h0M692 627h0M715 672h0M700 677h0M712 698h0M704 699h0M700 682h0M678 1005h0M674 984h0M674 981h0M679 982h0M715 1274h0M786 1403h0M773 1414h0M755 1432h0M787 1401h0M791 1406h0M735 1350h0M723 1338h0M802 1298h0M786 1279h0M800 1298h0M629 1087h0M629 1076h0M619 1094h0M627 1079h0M615 1081h0M906 1437h0M903 1428h0M916 1429h0M925 1424h0M902 1428h0M897 1439h0M916 1430h0M910 1436h0M900 1496h0M878 1519h0M890 1503h0M879 1504h0M809 1453h0M822 1447h0M801 1461h0M823 1450h0M902 1547h0M903 1542h0M909 1545h0M911 1550h0M901 1535h0M852 1370h0M827 1375h0M854 1358h0M780 1439h0M805 1453h0M796 1446h0M791 1449h0M789 1446h0M782 1443h0M791 1455h0M792 1451h0M695 1330h0M698 1334h0M601 648h0M593 611h0M596 626h0M921 1411h0M920 1429h0M914 1418h0M919 1408h0M668 1220h0M672 1210h0M686 1215h0M622 755h0M622 756h0M634 759h0M787 1395h0M794 1389h0M631 1199h0M657 1186h0M649 1186h0M633 1200h0M652 1180h0M776 1273h0M769 1288h0M757 1273h0M680 763h0M682 777h0M686 772h0M703 781h0M699 789h0M765 1387h0M764 1386h0M778 1392h0M772 1385h0M769 1387h0M649 990h0M650 1000h0M903 1517h0M921 1515h0M920 1519h0M925 1529h0M677 995h0M678 1003h0M675 1001h0M722 1189h0M725 1193h0M713 1197h0M718 1193h0M786 1368h0M564 860h0M569 869h0M585 869h0M569 871h0M563 849h0M583 886h0M815 1361h0M809 1361h0M668 881h0M668 880h0M660 874h0M667 882h0M679 901h0M665 876h0M671 883h0M1259 677h0M1252 677h0M1269 690h0M1260 673h0M1286 701h0M1279 695h0M1286 682h0M1262 713h0M1259 654h0M1276 695h0M1263 698h0M1263 671h0M1265 712h0M1260 665h0M1285 691h0M1275 730h0M1269 687h0M1290 690h0M1258 687h0M1271 720h0M1256 677h0M1266 702h0M1267 681h0M1246 707h0M1264 655h0M1278 689h0M1253 706h0M1280 705h0M1342 868h0M1361 870h0M1355 851h0M1338 868h0M1358 855h0M1370 855h0M1366 845h0M1356 852h0M1375 867h0M1355 863h0M1331 851h0M1361 853h0M1332 862h0M1336 874h0M1347 844h0M1340 876h0M1371 862h0M1340 853h0M1377 868h0M1364 850h0M672 601h0M610 386h0M575 490h0M567 519h0M624 529h0M615 506h0M673 601h0M734 519h0M598 380h0M615 435h0M656 530h0M700 407h0M601 416h0M644 450h0M606 530h0M678 562h0M571 580h0M633 523h0M704 516h0M745 488h0M593 413h0M725 517h0M610 476h0M716 515h0M696 537h0M713 514h0M641 483h0M679 410h0M552 521h0M629 385h0M633 528h0M574 513h0M697 458h0M643 504h0M719 501h0M699 478h0M691 430h0M601 532h0M674 517h0M710 535h0" stroke="#E38900" stroke-width="11.5"/>
<path d="M468 1037h0M569 1249h0M515 1359h0M465 1214h0M520 1183h0M330 904h0M383 1294h0M292 1119h0M599 1116h0M395 985h0M441 1441h0M358 1213h0M308 1029h0M521 1275h0M439 1194h0M498 1193h0M342 919h0M492 1098h0M448 1265h0M324 1238h0M511 1100h0M337 1053h0M500 1345h0M363 1264h0M398 1238h0M326 845h0M495 1385h0M402 1319h0M351 1245h0M470 1171h0M404 1286h0M571 1232h0M398 1197h0M385 1340h0M355 1323h0M386 1206h0M383 1251h0M308 896h0M297 959h0M448 984h0M385 1391h0M330 1197h0M420 1277h0M290 1109h0M382 1391h0M454 992h0M465 1269h0M411 974h0M428 1123h0M421 1364h0M439 1075h0M400 1322h0M449 1091h0M353 1129h0M466 1083h0M401 1155h0M426 1274h0M364 1069h0M351 884h0M525 1068h0M348 928h0M481 1402h0M519 1055h0M517 1343h0M543 1336h0M352 1371h0M380 1183h0M437 988h0M439 975h0M394 1290h0M368 1150h0M486 1138h0M353 943h0M371 1386h0M373 996h0M375 1330h0M382 1042h0M379 952h0M355 1301h0M543 1284h0M457 1432h0M279 856h0M348 1091h0M518 1402h0M371 1216h0M429 1393h0M350 1228h0M483 1345h0M529 1333h0M314 1179h0M344 1126h0M369 1211h0M493 1314h0M366 1393h0M471 1434h0M408 1224h0M288 942h0M444 1444h0M337 1040h0M527 1160h0M510 1380h0M418 1345h0M366 904h0M422 1302h0M541 1335h0M565 1111h0M527 1298h0M306 1076h0M444 1043h0M485 1103h0M328 1020h0M401 1409h0M488 1134h0M500 1101h0M403 1221h0M392 1209h0M521 1324h0M464 1411h0M458 1066h0M512 1095h0M554 1100h0M427 1270h0M423 1048h0M426 1224h0M425 1274h0M285 949h0M354 1051h0M358 1321h0M504 1383h0M338 921h0M371 917h0M453 1187h0M478 1272h0M509 1095h0M306 886h0M287 1124h0M449 1196h0M438 1176h0M310 1157h0M365 1169h0M416 1285h0M322 1198h0M454 1218h0M535 1358h0M425 980h0M433 1115h0M436 1099h0M467 1065h0M349 962h0M379 1324h0M501 1337h0M311 1139h0M398 1413h0M315 1050h0M440 1277h0M302 1155h0M306 1003h0M532 1042h0M356 1228h0M278 967h0M367 1277h0M389 920h0M474 1147h0M519 1134h0M533 1288h0M371 1052h0M366 1234h0M459 1346h0M336 954h0M333 1293h0M428 1303h0M301 1157h0M422 1228h0M382 1033h0M417 1014h0M335 1199h0M295 916h0M566 1290h0M292 1035h0M484 1305h0M430 1089h0M340 1145h0M439 1187h0M454 1141h0M535 1221h0M342 1162h0M445 1044h0M425 973h0M385 1245h0M554 1063h0M437 1421h0M479 1164h0M550 1127h0M545 1074h0M565 1059h0M364 952h0M446 1275h0M285 1055h0M355 1343h0M503 1006h0M433 1064h0M354 1198h0M298 970h0M291 888h0M383 1288h0M377 1333h0M291 1068h0M504 1029h0M402 1339h0M499 1323h0M388 1146h0M348 1338h0M304 941h0M343 1064h0M284 935h0M474 1020h0M296 955h0M558 1136h0M414 1225h0M514 1043h0M366 974h0M415 1400h0M286 1020h0M312 1014h0M539 1296h0M472 1336h0M429 1237h0M316 1244h0M381 1323h0M589 1098h0M528 1198h0M318 1084h0M296 1016h0M360 1134h0M309 856h0M379 1294h0M362 1319h0M473 1013h0M355 913h0M351 1269h0M580 1215h0M475 1215h0M352 999h0M502 1412h0M482 1247h0M299 1154h0M447 1168h0M365 1155h0M508 1381h0M489 1002h0M407 1170h0M296 854h0M544 1056h0M390 1327h0M460 1201h0M412 1422h0M365 1237h0M449 1091h0M563 1152h0M445 1211h0M448 1291h0M455 1409h0M374 1051h0M439 1236h0M359 1032h0M389 1363h0M297 1074h0M349 1256h0M459 1064h0M424 1238h0M304 1109h0M483 1092h0M305 933h0M361 1133h0M438 1122h0M393 927h0M329 1218h0M370 1070h0M290 965h0M474 1436h0M478 1095h0M440 1431h0M394 1148h0M432 1092h0M455 1166h0M325 1124h0M517 1215h0M544 1133h0M383 1377h0M372 1093h0M345 1119h0M334 885h0M497 1186h0M303 1093h0M349 1091h0M349 970h0M384 1027h0M300 1097h0M381 918h0M366 1072h0M362 1143h0M319 1014h0M463 1111h0M483 1226h0M405 1168h0M375 1398h0M418 1282h0M497 1106h0M322 1080h0M511 1068h0M324 1119h0M349 1256h0M361 1046h0M551 1312h0M449 968h0M387 1007h0M557 1073h0M432 1425h0M493 1275h0M400 1186h0M524 1163h0M343 964h0M381 1318h0M562 1251h0M436 1342h0M573 1250h0M504 1353h0M287 1063h0M520 1130h0M443 1011h0M322 966h0M320 881h0M333 953h0M313 870h0M345 973h0M301 868h0M317 992h0M313 868h0M315 863h0M340 893h0M303 855h0M305 975h0M310 1001h0M308 858h0M311 998h0M318 913h0M340 914h0M309 994h0M319 871h0M343 925h0M333 914h0M332 953h0M295 844h0M327 971h0M313 864h0M319 872h0M316 888h0M336 890h0M324 983h0M291 845h0M335 972h0M306 980h0M294 856h0M300 864h0M331 906h0M346 929h0M296 854h0M308 976h0M326 982h0M327 930h0M335 964h0M314 992h0M341 934h0M346 921h0M333 963h0M339 928h0M329 904h0M336 911h0M310 974h0M333 911h0M333 925h0M334 918h0M319 982h0M321 993h0M320 976h0M326 900h0M329 974h0M321 974h0M326 944h0M307 885h0" stroke="#C49A00" stroke-width="11.5"/>
<path d="M1388 986h0M1348 988h0M1370 982h0M1377 1010h0M1364 987h0M1367 990h0M1360 1005h0M1379 997h0M1354 995h0M1362 960h0M1383 961h0M1346 985h0M1610 984h0M1552 985h0M1523 956h0M1539 935h0M1593 926h0M1546 957h0M1466 929h0M1557 940h0M1544 948h0M1542 953h0M1538 977h0M1467 933h0M1560 973h0M1575 965h0M1507 961h0M1488 980h0M1548 938h0M1564 986h0M1561 907h0M1565 979h0M1626 962h0M1595 978h0" stroke="#99A800" stroke-width="11.5"/>
<path d="M1263 1675h0M1227 1653h0M1234 1666h0M1253 1670h0M1234 1657h0M1251 1657h0M1233 1680h0M1248 1671h0M1253 1515h0M1256 1495h0M1243 1510h0M1259 1518h0M1264 1515h0M1235 1503h0M1239 1492h0M1465 1608h0M1477 1611h0M1472 1615h0M1468 1613h0M1482 1594h0M1462 1615h0M1464 1619h0M1309 1585h0M1323 1584h0M1343 1607h0M1323 1597h0M1353 1609h0M1341 1588h0M1311 1592h0M1321 1602h0M1355 1599h0M1333 1591h0M1340 1607h0M1405 1590h0M1422 1608h0M1420 1623h0M1411 1600h0M1407 1619h0M1411 1606h0M1417 1595h0M1416 1628h0M1425 1603h0M1412 1627h0M1404 1732h0M1392 1726h0M1417 1715h0M1419 1709h0M1422 1722h0M1428 1708h0M1424 1722h0M1180 1621h0M1193 1644h0M1172 1626h0M1188 1627h0M1182 1634h0M1202 1636h0M1458 1770h0M1457 1769h0M1450 1761h0M1453 1769h0M1464 1748h0M1459 1756h0M1261 1495h0M1253 1495h0M1266 1495h0M1302 1654h0M1290 1619h0M1292 1639h0M1311 1635h0M1304 1659h0M1275 1507h0M1265 1507h0M1263 1530h0M1256 1521h0M1260 1498h0M1254 1505h0M1405 1584h0M1404 1588h0M1374 1608h0M1383 1586h0M1239 1696h0M1221 1686h0M1219 1686h0M1226 1730h0M1225 1705h0M1241 1714h0M1211 1693h0M1229 1707h0M1208 1551h0M1192 1572h0M1187 1563h0M1203 1556h0M1203 1535h0M1478 1642h0M1479 1655h0M1475 1661h0M1479 1662h0M1471 1650h0M1479 1639h0M1301 1541h0M1298 1538h0M1275 1541h0M1300 1539h0M1312 1545h0M1292 1536h0M1318 1534h0M1240 1733h0M1239 1737h0M1247 1740h0M1244 1711h0M1254 1738h0M1241 1771h0M1232 1738h0M1284 1606h0M1293 1605h0M1307 1596h0M1262 1599h0M1266 1599h0M1312 1610h0M1274 1605h0M1311 1594h0M1275 1597h0M1279 1607h0M1265 1597h0M1478 1740h0M1492 1716h0M1262 1545h0M1271 1543h0M1244 1538h0M1258 1541h0M1253 1527h0M1205 1521h0M1210 1520h0M1195 1512h0M1206 1537h0M1214 1532h0M1208 1529h0M1208 1516h0M1389 1638h0M1393 1641h0M1397 1630h0M1370 1601h0M1369 1560h0M1362 1565h0M1193 1555h0M1185 1559h0M1215 1550h0M1181 1572h0M1189 1552h0M1186 1558h0M1198 1578h0M1195 1641h0M1203 1614h0M1217 1625h0M1193 1617h0M1188 1628h0M1415 1732h0M1417 1734h0M1411 1736h0M1407 1735h0M1447 1756h0M1437 1758h0M1414 1660h0M1404 1670h0M1416 1664h0M1413 1673h0M1407 1665h0M1405 1662h0M1410 1668h0M1357 1659h0M1364 1653h0M1343 1662h0M1333 1672h0M1344 1673h0M1349 1665h0M1361 1657h0M1367 1654h0M1329 1682h0M1350 1649h0M1367 1659h0M1349 1652h0M1529 1745h0M1508 1730h0M1511 1749h0M1504 1728h0M1503 1718h0M1530 1744h0M1202 1588h0M1210 1606h0M1210 1608h0M1206 1582h0M1212 1604h0M1208 1601h0M1203 1592h0M1210 1615h0M1221 1577h0M1200 1628h0M1413 1589h0M1410 1558h0M1399 1564h0M1399 1583h0M1400 1568h0M1394 1564h0M1416 1585h0M1421 1595h0M1416 1585h0M1457 1645h0M1478 1647h0M1452 1633h0M1467 1652h0M1473 1648h0M1450 1645h0M1356 1706h0M1365 1700h0M1351 1720h0M1347 1728h0M1356 1718h0M1355 1712h0M1341 1709h0M1354 1723h0M1362 1693h0M1361 1707h0M1351 1698h0M1492 1651h0M1491 1658h0M1486 1663h0M1485 1657h0M1508 1654h0M1274 1631h0M1252 1648h0M1247 1634h0M1267 1640h0M1477 1722h0M1480 1703h0M1478 1708h0M1489 1699h0M1489 1694h0M1488 1703h0M1484 1712h0M1484 1708h0M1411 1710h0M1418 1709h0M1415 1709h0M1388 1730h0M1392 1738h0M1330 1658h0M1322 1655h0M1305 1647h0M1384 1699h0M1394 1685h0M1512 1712h0M1515 1708h0M1512 1707h0M1503 1704h0M1493 1705h0M1438 1756h0M1437 1763h0M1436 1761h0M1442 1766h0M1439 1766h0M1283 1531h0M1286 1541h0M1263 1545h0M1254 1546h0M1272 1539h0M1291 1540h0M1263 1554h0M1265 1544h0M1345 1575h0M1380 1545h0M1358 1540h0M1332 1561h0M1325 1583h0M1354 1573h0M1343 1564h0M1357 1557h0M1361 1564h0M1241 1610h0M1274 1573h0M1246 1601h0M1265 1593h0M1254 1599h0M1261 1580h0M1242 1607h0M1262 1588h0M1263 1582h0M1251 1615h0M1403 1643h0M1409 1644h0M1405 1636h0M1261 1642h0M1264 1651h0M1259 1653h0M1259 1645h0M1277 1645h0M1273 1716h0M1268 1704h0M1281 1758h0M1257 1719h0M1261 1732h0M1261 1691h0M1322 1619h0M1317 1579h0M1311 1586h0M1312 1571h0M1307 1580h0M1313 1600h0M1322 1597h0M1311 1612h0M1307 1600h0M1304 1592h0M1303 1540h0M1294 1542h0M1385 1676h0M1364 1660h0M1359 1672h0M1349 1659h0M1387 1664h0M1391 1665h0M1383 1668h0M1406 1734h0M1411 1731h0M1408 1746h0M1390 1710h0M1395 1736h0M1418 1729h0M1317 1628h0M1320 1615h0M1305 1620h0M1298 1618h0M1282 1618h0M1311 1618h0M1326 1615h0M1486 1703h0M1496 1698h0M1495 1678h0M1497 1670h0M1494 1684h0M1494 1699h0M1496 1700h0M1296 1553h0M1289 1545h0M1308 1564h0M1287 1563h0M1292 1550h0M1318 1585h0M1315 1562h0M1292 1639h0M1293 1648h0M1291 1650h0M1291 1637h0M1278 1641h0M1285 1628h0M1271 1647h0M1237 1511h0M1256 1511h0M1269 1490h0M1245 1515h0M1260 1508h0M1272 1484h0M1398 1674h0M1324 1651h0M1320 1641h0M1315 1642h0M1263 1643h0M1269 1638h0M1268 1633h0M1256 1643h0M1280 1630h0M1262 1629h0M1483 1650h0M1484 1633h0M1476 1630h0M1324 1546h0M1344 1555h0M1331 1558h0M1354 1545h0M1352 1547h0M1336 1543h0M1369 1550h0M1366 1553h0M1336 1552h0M1293 1578h0M1292 1557h0M1303 1545h0M1296 1530h0M1292 1540h0M1302 1538h0M1296 1541h0M1300 1540h0M1293 1571h0M1244 1711h0M1294 1720h0M1240 1710h0M1258 1713h0M1258 1719h0M1255 1713h0M1271 1711h0M1402 1727h0M1408 1721h0M1392 1714h0M1401 1714h0M1412 1727h0M1385 1701h0M1395 1550h0M1405 1548h0M1376 1569h0M1411 1547h0M1380 1573h0M1392 1565h0M1418 1556h0M1408 1557h0M1389 1562h0M1422 1552h0M1412 1557h0M1402 1574h0M1313 1615h0M1319 1607h0M1321 1598h0M1318 1627h0M1320 1597h0M1312 1607h0M1326 1583h0M1318 1596h0M1317 1590h0M1330 1700h0M1324 1679h0M1317 1684h0M1335 1695h0M1326 1690h0M1331 1664h0M1330 1689h0M1321 1675h0M1315 1666h0M1245 1656h0M1248 1636h0M1261 1609h0M1255 1631h0M1255 1634h0M1264 1618h0M1249 1642h0M1283 1579h0M1262 1576h0M1273 1577h0M1259 1579h0M1235 1570h0M1264 1563h0M1246 1570h0M1274 1565h0M1260 1574h0M1418 1587h0M1406 1571h0M1404 1593h0M1474 1747h0M1493 1719h0M1480 1714h0M1486 1730h0M1468 1733h0M1230 1681h0M1235 1678h0M1249 1682h0M1203 1670h0M1217 1667h0M1233 1666h0M1224 1667h0M1217 1670h0M1487 1675h0M1475 1670h0M1486 1658h0M1481 1674h0M1463 1660h0M1502 1677h0M1475 1668h0M1478 1663h0M1485 1677h0M1477 1658h0M1272 1507h0M1269 1498h0M1282 1494h0M1272 1499h0M1241 1489h0M1460 1710h0M1442 1695h0M1438 1693h0M1428 1693h0M1446 1709h0M1414 1679h0M1430 1693h0M1453 1706h0M1435 1700h0M1349 1651h0M1325 1682h0M1352 1651h0M1335 1673h0M1328 1663h0M1336 1678h0M1347 1663h0M1346 1658h0M1428 1754h0M1423 1725h0M1427 1778h0M1422 1765h0M1266 1696h0M1266 1716h0M1260 1688h0M1266 1709h0M1272 1704h0M1273 1721h0M1276 1724h0M1255 1688h0M1259 1681h0M1252 1715h0M1238 1731h0M1246 1703h0M1240 1709h0M1236 1736h0M1342 1711h0M1352 1715h0M1353 1712h0M1349 1704h0M1345 1712h0M1352 1718h0M1356 1708h0M1339 1708h0M1353 1712h0M1324 1603h0M1299 1618h0M1330 1619h0M1329 1614h0M1319 1605h0M1304 1615h0M1244 1509h0M1244 1501h0M1243 1515h0M1238 1520h0M1242 1492h0M1243 1513h0M1272 1665h0M1266 1664h0M1256 1661h0M1249 1660h0M1288 1651h0M1286 1656h0M1269 1654h0M1259 1662h0M1268 1650h0M1220 1621h0M1235 1627h0M1236 1625h0M1243 1629h0M1222 1610h0M1241 1622h0M1244 1622h0M1241 1619h0M1204 1591h0M1213 1609h0M1451 1792h0M1460 1763h0M1467 1742h0M1465 1750h0M1456 1761h0M1443 1790h0M1238 1510h0M1234 1508h0M1248 1514h0M1219 1516h0M1254 1514h0M1236 1508h0M1335 1730h0M1301 1744h0M1329 1729h0M1288 1741h0M1318 1732h0M1305 1741h0M1303 1739h0M1317 1737h0M1448 1609h0M1447 1623h0M1452 1611h0M1329 1572h0M1339 1574h0M1247 1638h0M1243 1654h0M1240 1675h0M1255 1651h0M1249 1684h0M1415 1589h0M1423 1611h0M1399 1571h0M1396 1604h0M1379 1596h0M1378 1586h0M1357 1574h0M1370 1597h0M1350 1628h0M1351 1592h0M1357 1597h0M1347 1605h0M1338 1577h0M1353 1619h0M1431 1585h0M1432 1586h0M1429 1587h0M1454 1606h0M1419 1573h0M1406 1556h0M1190 1591h0M1174 1599h0M1188 1597h0M1162 1579h0M1190 1607h0M1176 1584h0M1181 1600h0M1176 1550h0M1164 1562h0M1159 1596h0M1165 1565h0M1173 1566h0M1169 1587h0M1180 1580h0M1443 1715h0M1478 1662h0M1452 1678h0M1458 1696h0M1274 1611h0M1274 1614h0M1276 1610h0M1278 1600h0M1266 1595h0M1312 1608h0M1312 1528h0M1306 1564h0M1307 1533h0M1304 1537h0M1318 1544h0M1328 1534h0M1316 1529h0M1313 1528h0M1309 1543h0M1307 1529h0M1261 1605h0M1267 1614h0M1264 1615h0M1265 1613h0M1266 1632h0M1255 1617h0M1254 1590h0M1269 1615h0M1176 1554h0M1188 1561h0M1174 1562h0M1177 1569h0M1163 1537h0M1187 1580h0M1176 1578h0M1175 1559h0M1183 1554h0M1188 1545h0M1181 1536h0M1172 1538h0M1177 1538h0M1177 1549h0M1152 1544h0M1161 1528h0M1455 1601h0M1468 1611h0M1428 1578h0M1437 1583h0M1266 1679h0M1257 1681h0M1249 1664h0M1256 1673h0M1274 1677h0M1268 1672h0M1248 1522h0M1233 1514h0M1241 1529h0M1238 1513h0M1258 1546h0M1251 1522h0M1236 1523h0M1480 1726h0M1471 1717h0M1491 1731h0M1183 1519h0M1167 1528h0M1162 1523h0M1181 1514h0M1160 1533h0M1181 1528h0M1155 1536h0M1214 1512h0M1171 1518h0M1343 1688h0M1338 1700h0M1323 1700h0M1328 1702h0M1353 1702h0M1325 1700h0M1340 1707h0M1351 1694h0M1341 1692h0M1332 1691h0M1336 1696h0M1341 1702h0M1523 1704h0M1526 1710h0M1503 1725h0M1506 1716h0M1519 1707h0M1519 1709h0M1492 1712h0M1517 1686h0M1446 1707h0M1424 1667h0M1448 1706h0M1446 1709h0M1286 1530h0M1273 1541h0M1258 1528h0M1247 1531h0M1227 1570h0M1210 1563h0M1213 1570h0M1211 1491h0M1229 1491h0M1212 1495h0M1228 1514h0M1228 1517h0M1222 1489h0M1198 1489h0M1269 1699h0M1337 1605h0M1388 1594h0M1357 1590h0M1303 1701h0M1334 1690h0M1300 1699h0M1307 1695h0M1323 1687h0M1290 1693h0M1298 1732h0M1302 1742h0M1286 1743h0M1284 1741h0M1298 1738h0M1304 1738h0M1287 1746h0M1299 1741h0M1306 1743h0M1289 1731h0M1277 1637h0M1303 1648h0M1291 1643h0M1268 1635h0M1285 1643h0M1282 1647h0M1279 1638h0M1283 1643h0M1286 1654h0M1210 1579h0M1218 1562h0M1213 1575h0M1217 1576h0M1207 1589h0M1210 1597h0M1431 1570h0M1438 1582h0M1409 1578h0M1442 1585h0M1436 1583h0M1429 1592h0M1429 1587h0M1423 1591h0M1422 1587h0M1413 1660h0M1428 1655h0M1414 1659h0M1420 1627h0M1423 1654h0M1409 1673h0M1429 1661h0M1416 1651h0M1412 1669h0M1284 1648h0M1321 1635h0M1306 1651h0M1182 1588h0M1190 1586h0M1174 1582h0M1171 1538h0M1177 1558h0M1183 1543h0M1180 1548h0M1190 1528h0M1179 1549h0M1171 1551h0M1185 1538h0M1179 1545h0M1374 1599h0M1190 1526h0M1206 1533h0M1184 1530h0M1166 1530h0M1418 1677h0M1408 1673h0M1432 1662h0M1418 1674h0M1281 1583h0M1326 1594h0M1306 1598h0M1306 1597h0M1304 1587h0M1513 1674h0M1524 1661h0M1512 1676h0M1509 1688h0M1521 1669h0M1517 1672h0M1522 1682h0M1427 1739h0M1419 1717h0M1436 1702h0M1421 1725h0M1438 1738h0M1432 1709h0M1280 1554h0M1287 1567h0M1297 1520h0M1315 1529h0M1294 1556h0M1321 1562h0M1337 1550h0M1328 1568h0M1329 1564h0M1397 1576h0M1377 1553h0M1397 1575h0M1370 1549h0M1371 1559h0M1386 1557h0M1387 1566h0M1400 1562h0M1394 1560h0M1361 943h0M1377 964h0M1387 986h0M1354 947h0M1363 958h0M1339 965h0M1361 995h0M1354 977h0M1360 954h0M1361 953h0M1375 961h0M1355 924h0M1355 941h0M1377 942h0M1354 981h0M1355 962h0M1378 961h0M1375 965h0M1362 948h0M1378 952h0M1363 922h0M1353 955h0M1373 962h0M1363 963h0M1060 615h0M1043 603h0M1052 614h0M1063 612h0M1057 610h0M1059 617h0" stroke="#53B400" stroke-width="11.5"/>
<path d="M1439 405h0M1423 405h0M1434 400h0M1414 499h0M1407 496h0M1397 471h0M1413 484h0M1406 490h0M1413 498h0M1321 516h0M1326 497h0M1325 492h0M1321 492h0M1310 495h0M1309 478h0M1322 475h0M1469 428h0M1471 439h0M1275 311h0M1277 318h0M1281 321h0M1286 316h0M1271 310h0M1296 325h0M1348 525h0M1344 529h0M1343 526h0M1339 530h0M1356 515h0M1358 517h0M1337 526h0M1362 516h0M1395 511h0M1382 524h0M1393 499h0M1359 547h0M1381 527h0M1370 525h0M1383 528h0M1382 522h0M1265 364h0M1278 363h0M1280 370h0M1279 368h0M1291 369h0M1345 378h0M1356 363h0M1346 372h0M1354 377h0M1361 367h0M1357 353h0M1344 356h0M1345 375h0M1355 366h0M1356 383h0M1310 286h0M1320 292h0M1318 275h0M1320 301h0M1375 410h0M1381 412h0M1374 410h0M1371 416h0M1373 416h0M1369 411h0M1393 420h0M1302 335h0M1306 329h0M1290 334h0M1305 315h0M1304 324h0M1442 519h0M1432 506h0M1438 529h0M1432 529h0M1435 521h0M1433 529h0M1430 528h0M1442 535h0M1341 287h0M1337 306h0M1327 290h0M1432 386h0M1435 392h0M1445 387h0M1458 409h0M1459 436h0M1465 426h0M1461 424h0M1456 436h0M1465 411h0M1460 419h0M1476 421h0M1325 399h0M1331 400h0M1331 409h0M1315 381h0M1319 397h0M1322 388h0M1269 332h0M1274 301h0M1414 404h0M1350 415h0M1415 400h0M1387 401h0M1390 407h0M1406 406h0M1312 400h0M1309 395h0M1437 372h0M1435 389h0M1431 363h0M1440 373h0M1442 385h0M1366 374h0M1361 383h0M1362 368h0M1360 377h0M1360 381h0M1360 393h0M1369 380h0M1425 437h0M1445 440h0M1463 450h0M1464 448h0M1463 450h0M1366 573h0M1386 573h0M1362 561h0M1299 360h0M1305 358h0M1279 343h0M1286 351h0M1300 359h0M1365 316h0M1366 305h0M1357 293h0M1373 291h0M1369 300h0M1360 304h0M1368 303h0M1260 372h0M1286 348h0M1268 356h0M1275 359h0M1281 354h0M1273 347h0M1278 367h0M1395 419h0M1397 419h0M1407 425h0M1413 421h0M1407 418h0M1398 404h0M1266 297h0M1267 311h0M1279 309h0M1399 347h0M1399 331h0M1402 338h0M1415 343h0M1425 346h0M1416 339h0M1398 561h0M1403 566h0M1404 564h0M1402 568h0M1398 561h0M1384 546h0M1294 272h0M1307 286h0M1303 287h0M1330 286h0M1334 294h0M1325 292h0M1319 288h0M1329 285h0M1312 509h0M1310 503h0M1310 484h0M1320 494h0M1379 487h0M1372 472h0M1371 478h0M1372 477h0M1374 473h0M1365 472h0M1367 476h0M1438 420h0M1440 420h0M1426 443h0M1438 421h0M1447 423h0M1364 260h0M1361 276h0M1361 254h0M1356 277h0M1354 273h0M1341 292h0M1342 294h0M1400 309h0M1387 324h0M1391 328h0M1387 323h0M1392 317h0M1384 318h0M1415 437h0M1372 546h0M1379 542h0M1391 537h0M1389 550h0M1393 542h0M1314 402h0M1324 398h0M1344 371h0M1328 402h0M1339 510h0M1341 508h0M1358 522h0M1347 524h0M1344 511h0M1337 519h0M1344 530h0M1345 528h0M1342 510h0M1342 486h0M1329 517h0M1415 450h0M1419 467h0M1290 423h0M1289 412h0M1274 419h0M1282 439h0M1280 414h0M1269 421h0M1285 423h0M1252 334h0M1265 343h0M1273 373h0M1277 370h0M1388 338h0M1383 359h0M1340 266h0M1331 259h0M1331 252h0M1355 289h0M1321 375h0M1317 355h0M1319 385h0M1290 384h0M1304 389h0M1306 381h0M1468 445h0M1462 447h0M1479 447h0M1476 438h0M1459 466h0M1469 441h0M1473 442h0M1462 451h0M1489 425h0M1474 443h0M1398 343h0M1400 338h0M1401 344h0M1373 344h0M1381 335h0M1365 345h0M1398 446h0M1406 451h0M1406 443h0M1381 442h0M1380 437h0M1396 439h0M1389 441h0M1409 283h0M1387 310h0M1411 291h0M1399 286h0M1385 296h0M1400 282h0M1406 290h0M1245 395h0M1312 269h0M1317 269h0M1312 273h0M1367 502h0M1388 527h0M1378 522h0M1388 519h0M1378 558h0M1395 519h0M1385 544h0M1382 538h0M1374 545h0M1379 535h0M1360 410h0M1357 420h0M1355 399h0M1378 406h0M1351 398h0M1426 531h0M1418 536h0M1417 533h0M1415 508h0M1428 536h0M1473 405h0M1448 391h0M1459 398h0M1467 401h0M1463 388h0M1440 407h0M1445 397h0M1363 306h0M1350 291h0M1361 325h0M1362 310h0M1363 301h0M1377 316h0M1368 364h0M1370 396h0M1365 382h0M1370 385h0M1372 378h0M1361 348h0M1341 287h0M1325 296h0M1323 292h0M1354 279h0M1343 290h0M1332 280h0M1398 482h0M1402 491h0M1402 484h0M1380 491h0M1418 480h0M1430 476h0M1410 490h0M1407 481h0M1407 484h0M1345 512h0M1329 510h0M1346 502h0M1324 405h0M1311 403h0M1318 397h0M1310 400h0M1314 400h0M1412 582h0M1394 539h0M1407 562h0M1388 577h0M1403 585h0M1431 381h0M1432 376h0M1362 280h0M1360 288h0M1379 302h0M1381 283h0M1320 290h0M1333 266h0M1316 267h0M1315 304h0M1327 270h0M1327 282h0M1312 296h0M1328 262h0M1395 359h0M1411 360h0M1381 360h0M1367 347h0M1293 310h0M1278 293h0M1271 291h0M1283 305h0M1430 342h0M1451 330h0M1469 336h0M1452 326h0M1464 335h0M1423 344h0M1429 348h0M1422 480h0M1418 475h0M1418 482h0M1413 500h0M1414 481h0M1415 462h0M1438 526h0M1457 519h0M1452 529h0M1433 539h0M1324 521h0M1324 516h0M1334 513h0M1356 500h0M1321 519h0M1291 335h0M1314 351h0M1323 356h0M1335 359h0M1321 354h0M1338 336h0M1339 358h0M1329 343h0M1338 346h0M1332 348h0M1312 471h0M1325 477h0M1286 464h0M1303 466h0M1306 473h0M1457 444h0M1449 441h0M1455 436h0M1453 443h0M1450 447h0M1451 446h0M1421 425h0M1422 436h0M1414 432h0M1431 354h0M1410 363h0M1434 355h0M1413 346h0M1445 363h0M1435 359h0M1304 385h0M1302 390h0M1308 388h0M1315 384h0M1412 395h0M1424 341h0M1413 355h0M1416 371h0M1419 346h0M1420 354h0M1420 363h0M1293 328h0M1308 356h0M1301 339h0M1312 332h0M1314 343h0M1299 340h0M1355 497h0M1371 503h0M1343 507h0M1356 508h0M1350 505h0M1371 502h0M1349 504h0M1442 435h0M1430 433h0M1428 435h0M1470 409h0M1463 430h0M1463 419h0M1432 510h0M1437 506h0M1444 493h0M1434 497h0M1454 502h0M1439 500h0M1442 489h0M1419 508h0M1445 504h0M1458 511h0M1300 401h0M1306 415h0M1302 414h0M1301 412h0M1294 408h0M1299 402h0M1408 564h0M1396 548h0M1399 563h0M1407 554h0M1296 350h0M1288 361h0M1372 449h0M1362 470h0M1379 477h0M1376 484h0M1364 462h0M1286 275h0M1315 272h0M1306 269h0M1318 261h0M1298 268h0M1289 279h0M1468 358h0M1463 356h0M1277 306h0M1287 313h0M1301 311h0M1306 300h0M1317 314h0M1306 308h0M1300 301h0M1367 456h0M1336 473h0M1335 482h0M1343 471h0M1359 476h0M1348 474h0M1455 373h0M1452 387h0M1445 381h0M1453 348h0M1452 371h0M1456 350h0M1457 386h0M1452 366h0M1429 376h0M1432 351h0M1427 372h0M1457 356h0M1441 350h0M1441 359h0M1465 362h0M1351 552h0M1351 553h0M1353 566h0M1354 547h0M1350 551h0M1341 548h0M1351 531h0M1342 542h0M1348 537h0M1341 543h0M1442 436h0M1451 435h0M1433 426h0M1450 428h0M1428 333h0M1428 330h0M1432 333h0M1424 340h0M1425 452h0M1434 452h0M1439 461h0M1443 465h0M1446 463h0M1436 472h0M1382 423h0M1379 431h0M1382 415h0M1404 344h0M1290 414h0M1287 415h0M1313 400h0M1283 417h0M1304 415h0M1449 427h0M1464 438h0M1449 431h0M1366 413h0M1376 410h0M1365 419h0M1367 422h0M1356 411h0M1367 434h0M1371 417h0M1388 413h0M1397 412h0M1390 393h0M1301 349h0M1295 353h0M1339 322h0M1320 335h0M1305 332h0M1298 339h0M1307 344h0M1319 334h0M1448 388h0M1431 368h0M1437 382h0M1427 369h0M1428 381h0M1436 372h0M1450 502h0M1439 515h0M1431 521h0M1451 493h0M1428 510h0M1453 507h0M1441 507h0M1398 485h0M1396 497h0M1401 491h0M1402 490h0M1411 488h0M1365 458h0M1386 472h0M1373 456h0M1365 455h0M1366 447h0M1435 407h0M1438 371h0M1425 412h0M1433 385h0M1359 428h0M1361 421h0M1350 436h0M1351 434h0M1370 440h0M1358 441h0M1346 444h0M1355 422h0M1351 439h0M1310 479h0M1299 484h0M1307 502h0M1302 485h0M1308 493h0M1285 498h0M1442 346h0M1435 344h0M1438 357h0M1440 349h0M1438 349h0M1433 355h0M1435 359h0M1439 370h0M1349 500h0M1339 482h0M1333 465h0M1332 482h0M1342 475h0M1338 504h0M1332 498h0M1346 480h0M1338 487h0M1334 500h0M1423 479h0M1434 488h0M1439 478h0M1439 476h0M1436 472h0M1442 481h0M1442 472h0M1437 479h0M1360 461h0M1381 456h0M1392 445h0M1371 449h0M1454 479h0M1444 483h0M1455 482h0M1457 488h0M1408 731h0M1389 742h0M1404 734h0M1405 729h0M1397 729h0M1408 673h0M1405 671h0M1411 672h0M1403 675h0M1371 586h0M1370 578h0M1389 582h0M1415 623h0M1406 628h0M1400 618h0M1383 606h0M1401 608h0M1401 623h0M1411 640h0M1397 652h0M1410 639h0M1365 760h0M1374 760h0M1367 772h0M1369 761h0M1370 766h0M1359 761h0M1370 764h0M1399 652h0M1404 646h0M1404 652h0M1400 655h0M1417 664h0M1405 661h0M1399 659h0M1403 652h0M1382 727h0M1382 734h0M1380 732h0M1391 707h0M1344 781h0M1332 789h0M1332 789h0M1351 782h0M1330 782h0M1310 786h0M1332 786h0M1415 626h0M1416 637h0M1415 641h0M1419 633h0M1415 638h0M1411 629h0M1429 679h0M1428 672h0M1428 676h0M1422 672h0M1422 677h0M1404 667h0M1380 631h0M1378 643h0M1387 646h0M1362 639h0M1380 653h0M1354 693h0M1360 704h0M1364 688h0M1356 697h0M1357 699h0M1364 702h0M1353 693h0M1379 665h0M1377 682h0M1382 665h0M1381 672h0M1391 674h0M1363 672h0M1414 611h0M1419 592h0M1421 584h0M1387 648h0M1379 634h0M1385 645h0M1388 637h0M1385 634h0M1403 643h0M1386 649h0M1401 661h0M1394 653h0M1405 673h0M1388 659h0M1392 652h0M1367 687h0M1357 700h0M1366 697h0M1373 702h0M1410 628h0M1400 614h0M1416 609h0M1411 614h0M1426 615h0M1444 599h0M1408 617h0M1420 610h0M1414 621h0M1417 611h0M1340 766h0M1341 755h0M1351 766h0M1360 770h0M1324 752h0M1331 792h0M1330 795h0M1334 796h0M1325 783h0M1323 779h0M1317 777h0M1333 801h0M1314 788h0M1322 784h0M1320 787h0M1335 774h0M1356 743h0M1349 757h0M1367 739h0M1370 732h0M1363 737h0M1364 742h0M1364 749h0M1339 748h0M1350 747h0M1326 743h0M1339 753h0M1341 753h0M1335 749h0M1328 753h0M1351 720h0M1348 724h0M1328 722h0M1364 722h0M1347 712h0M1367 635h0M1378 643h0M1392 656h0M1392 665h0M1390 658h0M1414 706h0M1414 711h0M1405 713h0M1408 709h0M1386 725h0M1417 683h0M1403 693h0M1398 686h0M1402 687h0M1407 684h0M1410 704h0M1385 597h0M1380 590h0M1387 611h0M1386 613h0M1390 608h0M1358 729h0M1354 728h0M1357 736h0M1351 738h0M1354 731h0M1368 681h0M1357 700h0M1358 688h0M1355 707h0M1373 681h0M1372 681h0M1363 686h0M1374 617h0M1370 628h0M1372 612h0M1384 614h0M1382 610h0M1377 590h0M1384 700h0M1388 713h0M1377 710h0M1382 694h0M1365 684h0M1325 763h0M1316 774h0M1320 761h0M1336 776h0M1329 771h0M1322 765h0M1313 769h0M1422 660h0M1405 645h0M1417 670h0M1417 687h0M1418 667h0M1420 672h0M1376 648h0M1370 647h0M1365 640h0M1366 648h0M1371 651h0M1399 677h0M1398 671h0M1399 660h0M1403 659h0M1396 668h0M1398 660h0M1388 595h0M1384 582h0M1389 573h0M1385 597h0M1378 598h0M1387 591h0M1410 714h0M1393 717h0M1396 719h0M1401 688h0M1411 567h0M1420 567h0M1420 572h0M1409 575h0" stroke="#00BC56" stroke-width="11.5"/>
<path d="M624 1604h0M617 1600h0M632 1613h0M618 1606h0M653 1582h0M649 1580h0M655 1577h0M644 1611h0M642 1612h0M635 1603h0M623 1607h0M605 1594h0M596 1589h0M604 1590h0M602 1583h0M579 1605h0M585 1615h0M593 1612h0M600 1608h0M590 1620h0M592 1618h0M610 1653h0M606 1653h0M599 1655h0M589 1661h0M574 1617h0M570 1618h0M613 1604h0M705 1740h0M700 1733h0M710 1740h0M677 1734h0M678 1719h0M683 1725h0M677 1711h0M689 1759h0M697 1759h0M689 1756h0M703 1774h0M682 1747h0M682 1736h0M693 1728h0M686 1724h0M669 1735h0M706 1727h0M694 1757h0M696 1755h0M696 1766h0M689 1761h0M728 1746h0M719 1740h0M722 1739h0M710 1757h0M700 1760h0M710 1747h0M724 1750h0M723 1751h0M722 1751h0M715 1759h0M697 1759h0M690 1749h0M699 1769h0M693 1756h0M698 1750h0M690 1759h0M697 1754h0M733 1722h0M694 1746h0M702 1752h0M706 1758h0M714 1708h0M696 1712h0M699 1708h0M698 1705h0M766 1698h0M764 1679h0M758 1696h0M761 1674h0M774 1698h0M781 1682h0M771 1721h0M774 1750h0M764 1732h0M767 1731h0M769 1725h0M760 1739h0M766 1720h0M772 1744h0M762 1731h0M764 1733h0M773 1695h0M780 1704h0M785 1698h0M761 1702h0M769 1698h0M765 1729h0M769 1720h0M775 1718h0M785 1729h0M780 1730h0M758 1726h0M786 1735h0M772 1719h0M775 1729h0M751 1701h0M764 1696h0M778 1697h0M762 1694h0M781 1697h0M806 1678h0M804 1698h0M802 1683h0M795 1685h0M794 1695h0M776 1675h0M784 1667h0M768 1673h0M815 1675h0M824 1673h0M804 1678h0M815 1667h0M799 1640h0M798 1637h0M794 1640h0M823 1674h0M815 1686h0M814 1679h0M810 1616h0M806 1625h0M808 1620h0M819 1625h0M804 1633h0M822 1636h0M804 1638h0M807 1645h0M823 1672h0M824 1677h0M823 1668h0M826 1664h0M819 1679h0M825 1686h0M824 1670h0M829 1671h0M827 1668h0M837 1670h0M817 1664h0M801 1679h0M813 1668h0M749 1830h0M760 1836h0M749 1827h0M754 1822h0M749 1827h0M778 1801h0M780 1812h0M778 1797h0M776 1795h0M774 1796h0M731 1815h0M733 1811h0M716 1820h0M746 1809h0M747 1809h0M743 1815h0M745 1799h0M724 1808h0M757 1822h0M760 1798h0M756 1815h0M950 1423h0M934 1438h0M940 1420h0M947 1417h0M924 1444h0M938 1438h0M937 1443h0M935 1453h0M950 1438h0M941 1439h0M945 1450h0M1004 1449h0M1004 1446h0M997 1427h0M1002 1471h0M999 1434h0M956 1446h0M953 1453h0M942 1452h0M767 1839h0M777 1827h0M781 1839h0M775 1827h0M743 1819h0M747 1827h0M758 1836h0M751 1822h0M1368 786h0M1375 789h0M1401 793h0M1371 799h0M1374 810h0M1397 800h0M1389 800h0M1387 791h0M1388 795h0M1374 797h0" stroke="#00C094" stroke-width="11.5"/>
<path d="M1576 1223h0M1576 1214h0M1566 1218h0M1581 1215h0M1589 1206h0M1605 1218h0M1600 1218h0M1526 1242h0M1530 1234h0M1521 1234h0M1626 1137h0M1634 1184h0M1623 1161h0M1623 1164h0M1620 1143h0M1632 1174h0M1656 1293h0M1647 1292h0M1628 1312h0M1696 1284h0M1685 1291h0M1690 1280h0M1688 1302h0M1698 1269h0M1567 1196h0M1559 1202h0M1567 1183h0M1574 1188h0M1562 1204h0M1569 1185h0M1561 1199h0M1570 1177h0M1570 1192h0M1577 1174h0M1653 1356h0M1664 1352h0M1652 1361h0M1641 1353h0M1663 1350h0M1657 1351h0M1640 1360h0M1700 1242h0M1693 1246h0M1689 1241h0M1688 1240h0M1682 1256h0M1695 1227h0M1609 1212h0M1606 1211h0M1606 1211h0M1606 1204h0M1605 1194h0M1627 1238h0M1614 1198h0M1604 1208h0M1706 1224h0M1674 1237h0M1682 1227h0M1675 1252h0M1680 1260h0M1669 1248h0M1687 1264h0M1677 1231h0M1682 1253h0M1603 1321h0M1601 1312h0M1584 1294h0M1601 1301h0M1627 1169h0M1626 1155h0M1607 1151h0M1642 1156h0M1544 1248h0M1571 1216h0M1557 1262h0M1551 1232h0M1547 1238h0M1550 1244h0M1574 1219h0M1695 1288h0M1699 1296h0M1698 1308h0M1559 1230h0M1554 1226h0M1579 1214h0M1575 1223h0M1575 1225h0M1610 1214h0M1596 1219h0M1603 1216h0M1607 1216h0M1599 1215h0M1643 1218h0M1554 1237h0M1585 1256h0M1600 1250h0M1567 1224h0M1578 1249h0M1569 1247h0M1676 1283h0M1608 1210h0M1637 1194h0M1626 1211h0M1646 1212h0M1623 1212h0M1600 1273h0M1579 1244h0M1595 1256h0M1600 1256h0M1596 1268h0M1597 1249h0M1602 1267h0M1610 1260h0M1570 1238h0M1598 1263h0M1623 1326h0M1626 1356h0M1618 1326h0M1624 1331h0M1624 1158h0M1708 1282h0M1720 1264h0M1696 1294h0M1711 1281h0M1696 1281h0M1694 1302h0M1568 1228h0M1563 1238h0M1582 1239h0M1572 1227h0M1558 1241h0M1561 1238h0M1582 1228h0M1615 1288h0M1622 1287h0M1618 1273h0M1626 1278h0M1626 1267h0M1682 1268h0M1672 1254h0M1679 1272h0M1649 1284h0M1620 1300h0M1642 1275h0M1626 1292h0M1700 1344h0M1701 1357h0M1693 1341h0M1697 1332h0M1694 1331h0M1678 1327h0M1698 1344h0M1682 1325h0M1698 1326h0M1661 1247h0M1664 1257h0M1666 1254h0M1662 1228h0M1670 1265h0M1660 1254h0M1656 1265h0M1660 1268h0M1661 1259h0M1663 1241h0M1533 1141h0M1552 1177h0M1545 1174h0M1547 1145h0M1555 1164h0M1554 1163h0M1551 1157h0M1531 1129h0M1529 1195h0M1540 1198h0M1653 1263h0M1627 1274h0M1653 1272h0M1633 1273h0M1637 1269h0M1625 1265h0M1659 1274h0M1673 1258h0M1676 1264h0M1662 1255h0M1700 1251h0M1692 1260h0M1681 1255h0M1662 1263h0M1676 1244h0M1618 1208h0M1585 1221h0M1598 1225h0M1601 1207h0M1609 1212h0M1603 1223h0M1594 1209h0M1584 1216h0M1655 1236h0M1656 1239h0M1676 1237h0M1673 1230h0M1660 1227h0M1671 1230h0M1690 1216h0M1662 1237h0M1673 1228h0M1670 1227h0M1670 1226h0M1685 1297h0M1658 1292h0M1675 1303h0M1658 1299h0M1681 1299h0M1681 1295h0M1688 1292h0M1662 1298h0M1697 1298h0M1577 1270h0M1609 1242h0M1580 1260h0M1580 1282h0M1581 1265h0M1564 1290h0M1590 1268h0M1650 1242h0M1649 1217h0M1651 1242h0M1657 1198h0M1596 1175h0M1576 1167h0M1592 1180h0M1601 1182h0M1567 1163h0M1587 1167h0M1687 1249h0M1684 1254h0M1704 1233h0M1688 1251h0M1698 1246h0M1699 1238h0M1652 1175h0M1639 1182h0M1639 1190h0M1649 1176h0M1637 1188h0M1649 1196h0M1582 1240h0M1596 1248h0M1604 1240h0M1591 1237h0M1557 1235h0M1606 1247h0M1575 1239h0M1605 1240h0M1594 1247h0M1603 1233h0M1584 1245h0M1590 1240h0M1632 1343h0M1655 1358h0M1658 1340h0M1649 1335h0M1657 1353h0M1577 1161h0M1568 1175h0M1599 1153h0M1583 1162h0M1580 1175h0M1588 1169h0M1682 1278h0M1689 1283h0M1680 1268h0M1670 1259h0M1684 1276h0M1691 1291h0M1686 1278h0M1671 1252h0M1676 1280h0M1687 1279h0M1667 1277h0M1661 1253h0M1675 1270h0M1685 1266h0M1687 1261h0M1703 1270h0M1686 1269h0M1676 1267h0M1683 1269h0M1646 1218h0M1614 1200h0M1625 1207h0M1615 1212h0M1636 1201h0M1635 1200h0M1633 1204h0M1635 1196h0M1638 1198h0M1607 1213h0M1619 1215h0M1637 1220h0M1686 1297h0M1703 1296h0M1678 1294h0M1667 1355h0M1662 1335h0M1678 1338h0M1664 1347h0M1600 1230h0M1599 1212h0M1612 1223h0M1618 1225h0M1593 1226h0M1601 1220h0M1604 1212h0M1668 1335h0M1662 1317h0M1651 1319h0M1667 1326h0M1648 1324h0M1663 1325h0M1656 1324h0M1661 1329h0M1550 1214h0M1533 1214h0M1544 1209h0M1538 1211h0M1523 1204h0M1689 1301h0M1623 1243h0M1641 1220h0M1625 1235h0M1629 1232h0M1637 1236h0M1619 1246h0M1622 1242h0M1536 1187h0M1536 1205h0M1541 1198h0M1531 1189h0M1543 1196h0M1538 1201h0M1541 1208h0M1609 1225h0M1579 1229h0M1588 1231h0M1588 1247h0M1593 1229h0M1674 1241h0M1688 1236h0M1689 1239h0M1692 1240h0M1664 1236h0M1701 1251h0M1701 1240h0M1704 1237h0M1700 1247h0M1690 1238h0M1623 1275h0M1606 1282h0M1628 1264h0M1616 1278h0M1610 1291h0M1622 1288h0M1625 1285h0M1604 1297h0M1623 1269h0M1680 1376h0M1616 1289h0M1618 1293h0M1623 1289h0M1607 1288h0M1628 1307h0M1631 1303h0M1640 1325h0M1616 1299h0M1689 1295h0M1690 1336h0M1690 1330h0M1672 1306h0M1576 1147h0M1597 1134h0M1602 1135h0M1598 1139h0M1578 1164h0M1584 1162h0M1602 1137h0M1602 1142h0M1699 1303h0M1708 1284h0M1698 1295h0M1684 1289h0M1687 1275h0M1687 1280h0M1611 1249h0M1602 1273h0M1591 1290h0M1592 1314h0M1604 1278h0M1618 1279h0M1612 1295h0M1663 1225h0M1649 1231h0M1669 1226h0M1667 1220h0M1662 1218h0M1671 1230h0M1670 1216h0M1681 1228h0M1652 1246h0M1601 1159h0M1596 1158h0M1594 1167h0M1672 1321h0M1674 1332h0M1646 1300h0M1649 1312h0M1646 1319h0M1635 1328h0M1684 1332h0M1688 1321h0M1694 1322h0M1697 1324h0M1705 1317h0M1593 1265h0M1605 1272h0M1606 1266h0M1602 1276h0M1613 1269h0M1619 1267h0M1622 1254h0M1566 1285h0" stroke="#00BFC4" stroke-width="11.5"/>
<path d="M1063 1748h0M1025 1734h0M1020 1738h0M1048 1746h0M1090 1701h0M1086 1709h0M1078 1701h0M1092 1717h0M1094 1688h0M1098 1710h0M1091 1705h0M1026 1769h0M1026 1777h0M1103 1646h0M1108 1642h0M1107 1647h0M1096 1772h0M1099 1770h0M1098 1764h0M1097 1783h0M1095 1769h0M1103 1758h0M1095 1782h0M1094 1764h0M1092 1771h0M1083 1854h0M1051 1847h0M1075 1859h0M1066 1845h0M1061 1833h0M1060 1836h0M1066 1853h0M1063 1835h0M1065 1842h0M1060 1848h0M1075 1673h0M1090 1666h0M1077 1680h0M1082 1659h0M1036 1823h0M1037 1819h0M1047 1824h0M1009 1825h0M1032 1824h0M1016 1826h0M1127 1695h0M1130 1667h0M1131 1678h0M1126 1697h0M1124 1699h0M1126 1692h0M1021 1901h0M1027 1901h0M1015 1886h0M1116 1639h0M1102 1639h0M1127 1632h0M1090 1592h0M1023 1909h0M1018 1919h0M1024 1923h0M1027 1915h0M1034 1932h0M1017 1907h0M1086 1708h0M1096 1707h0M1098 1701h0M1088 1696h0M1037 1817h0M1036 1827h0M1041 1831h0M1047 1830h0M1041 1838h0M1032 1839h0M1035 1856h0M1045 1844h0M1041 1834h0M1039 1834h0M1037 1831h0M1019 1839h0M1022 1844h0M1031 1851h0M1016 1830h0M1021 1832h0M1014 1827h0M1021 1841h0M1012 1838h0M1094 1603h0M1106 1593h0M1108 1587h0M1099 1584h0M1097 1588h0M1101 1611h0M1101 1600h0M1038 1729h0M1031 1712h0M1043 1750h0M1035 1727h0M1040 1723h0M1038 1743h0M1040 1717h0M1039 1740h0M1038 1813h0M1056 1812h0M1054 1836h0M1055 1815h0M1068 1827h0M1103 1693h0M1112 1698h0M1104 1687h0M1110 1673h0M1114 1695h0M1115 1687h0M1109 1676h0M1107 1696h0M1107 1706h0M1099 1673h0M1116 1618h0M1108 1632h0M1120 1610h0M1048 1657h0M1072 1639h0M1088 1631h0M1080 1635h0M1092 1629h0M1094 1637h0M1065 1652h0M1073 1638h0M1085 1632h0M1035 1860h0M1041 1855h0M1030 1871h0M1025 1865h0M1032 1864h0M1045 1817h0M1050 1806h0M1026 1821h0M1044 1809h0M1045 1800h0M1055 1801h0M1049 1811h0M1089 1672h0M1083 1662h0M1093 1680h0M1078 1679h0M1077 1683h0M1065 1695h0M1092 1665h0M1091 1657h0M1109 1622h0M1095 1639h0M1034 1832h0M1019 1847h0M1056 1822h0M1043 1823h0M1110 1660h0M1097 1665h0M1121 1673h0M1078 1643h0M1094 1651h0M1112 1666h0M1043 1891h0M1045 1892h0M1046 1887h0M1054 1913h0M1051 1910h0M1090 1611h0M1092 1606h0M1103 1597h0M1081 1605h0M1060 1721h0M1073 1746h0M1069 1749h0M1067 1735h0M1067 1731h0M1070 1729h0M1079 1742h0M1071 1720h0M1071 1731h0M1074 1741h0M1085 1647h0M1100 1636h0M1083 1651h0M1095 1624h0M1085 1639h0M1124 1667h0M1100 1659h0M1127 1666h0M1118 1657h0M1106 1655h0M1096 1673h0M1086 1667h0M1071 1675h0M1070 1681h0M1100 1672h0M1096 1670h0M1086 1671h0M1079 1630h0M1067 1635h0M1091 1631h0M1088 1631h0M1064 1683h0M1065 1708h0M1072 1704h0M1063 1680h0M1080 1763h0M1067 1772h0M1077 1771h0M1070 1748h0M1081 1753h0M1056 1767h0M1068 1766h0M1083 1754h0M1062 1774h0M1117 1592h0M1121 1565h0M1119 1595h0M1125 1573h0M1117 1603h0M1132 1564h0M1072 1758h0M1102 1762h0M1080 1768h0M1076 1775h0M1016 1937h0M1010 1939h0M990 1920h0M1027 1928h0M1003 1923h0M1011 1933h0M1008 1860h0M1019 1855h0M999 1863h0M1018 1852h0M1001 1853h0M1009 1862h0M1014 1862h0M1029 1849h0M1103 1599h0M1107 1607h0M1132 1599h0M1121 1610h0M1089 1612h0M1056 1792h0M1065 1780h0M1066 1803h0M1057 1780h0M1062 1772h0M1038 1839h0M1031 1812h0M1046 1831h0M1042 1823h0M1050 1839h0M1050 1825h0M1062 1625h0M1074 1648h0M1054 1639h0M1075 1643h0M1064 1634h0M1078 1640h0M1070 1634h0M1062 1830h0M1059 1821h0M1053 1826h0M1047 1832h0M1007 1832h0M1013 1845h0M1027 1844h0M1008 1841h0M1090 1612h0M1094 1618h0M1039 1898h0M1029 1928h0M1042 1908h0M1024 1939h0M1033 1916h0M1032 1926h0M1012 1899h0" stroke="#00B6EB" stroke-width="11.5"/>
<path d="M1471 1433h0M1477 1431h0M1481 1367h0M1469 1377h0M1466 1419h0M1479 1426h0M1478 1442h0M1474 1442h0M1475 1421h0M1477 1440h0M1466 1414h0M1481 1431h0M1555 1484h0M1545 1522h0M1554 1493h0M1546 1499h0M1563 1482h0M1553 1491h0M1551 1499h0M1470 1412h0M1474 1412h0M1472 1412h0M1461 1418h0M1460 1406h0M1469 1401h0M1624 1492h0M1623 1529h0M1630 1518h0M1630 1517h0M1630 1520h0M1587 1508h0M1595 1512h0M1605 1506h0M1599 1515h0M1603 1500h0M1605 1507h0M1586 1522h0M1482 1377h0M1477 1378h0M1468 1377h0M1473 1376h0M1464 1380h0M1460 1417h0M1580 1507h0M1568 1494h0M1576 1521h0M1574 1509h0M1575 1512h0M1571 1522h0M1545 1509h0M1540 1496h0M1546 1509h0M1550 1510h0M1549 1513h0M1557 1516h0M1548 1520h0M1565 1496h0M1569 1505h0M1564 1514h0M1570 1507h0M1460 1347h0M1455 1358h0M1482 1347h0M1462 1402h0M1469 1416h0M1459 1402h0M1463 1391h0M1462 1411h0M1462 1402h0M1537 1496h0M1552 1494h0M1558 1505h0M1557 1500h0M1531 1490h0M1486 1434h0M1491 1437h0M1640 1510h0M1629 1519h0M1642 1499h0M1622 1514h0M1648 1497h0M1609 1518h0M1597 1513h0M1617 1518h0M1603 1520h0M1592 1522h0M1569 1510h0M1609 1521h0M1584 1514h0M1563 1508h0M1574 1510h0M1587 1520h0M1472 1455h0M1492 1439h0M1484 1449h0M1475 1441h0M1494 1443h0M1589 1526h0M1574 1519h0M1590 1520h0M1602 1512h0M1567 1498h0M1572 1506h0M1548 1483h0M1565 1501h0M1570 1495h0M1563 1499h0M1485 1441h0M1487 1459h0M1479 1448h0M1483 1431h0M1482 1428h0M1463 1362h0M1460 1374h0M1453 1363h0M1591 1510h0M1586 1521h0M1594 1524h0M1581 1521h0M1595 1529h0M1643 1522h0M1650 1521h0M1635 1536h0M1644 1517h0M1557 1506h0M1557 1498h0M1559 1499h0M1551 1496h0M1572 1507h0M1529 1491h0M1539 1494h0M1543 1507h0M1535 1494h0M1536 1485h0M1530 1486h0M1488 1463h0M1483 1465h0M1481 1454h0M1472 1453h0M1657 1503h0M1651 1536h0M1593 1523h0M1592 1500h0M1593 1518h0M1593 1503h0M1593 1525h0M1603 1516h0M1604 1490h0M1614 1506h0M1623 1538h0M1617 1516h0M1613 1502h0M1610 1512h0M1605 1507h0M1619 1524h0M1607 1508h0M1606 1522h0M1614 1539h0M1616 1510h0M1656 1527h0M1649 1532h0M1651 1518h0M1641 1535h0M1648 1529h0M1654 1522h0M1653 1530h0M1552 1519h0M1569 1503h0M1556 1512h0M1567 1502h0M1471 1426h0M1475 1424h0M1659 1507h0M1664 1504h0M1655 1492h0M1668 1506h0M1584 1501h0M1576 1503h0M1465 1358h0M1457 1355h0M1461 1353h0M1468 1348h0M1450 1349h0M1656 1520h0M1648 1519h0M1639 1538h0M1649 1531h0M1654 1530h0M1484 1430h0M1499 1441h0M1486 1430h0M1488 1438h0M1504 1437h0M1497 1432h0M1497 1446h0M1487 1441h0M1481 1435h0M1467 1382h0M1475 1390h0M1481 1398h0M1474 1390h0M1610 1532h0M1603 1520h0M1616 1526h0M1608 1504h0M1606 1515h0M1602 1516h0M1613 1529h0M1612 1536h0M1460 1409h0M1460 1401h0M1474 1406h0M1474 1404h0M1478 1409h0M1661 1504h0M1657 1503h0M1643 1530h0M1653 1516h0M1654 1516h0M1658 1509h0M1653 1514h0M1661 1518h0M1647 1523h0M1288 893h0M1275 892h0M1286 940h0M1282 928h0M1267 911h0M1295 896h0M1269 915h0M1284 917h0M1252 900h0M1287 927h0M1280 902h0M1277 909h0M1269 907h0M1257 915h0M1256 917h0M1257 909h0M1279 905h0M1297 905h0M1267 909h0M1245 899h0M1300 916h0M1294 915h0M1321 803h0M1313 800h0M1362 801h0M1321 811h0M1341 805h0M1337 806h0M1336 807h0M1337 807h0M1317 809h0M1354 811h0M1344 805h0M1341 802h0" stroke="#06A4FF" stroke-width="11.5"/>
<path d="M1781 1043h0M1781 1036h0M1772 1071h0M1776 983h0M1776 1093h0M1770 1075h0M1770 1106h0M1772 1108h0M1767 1120h0M1769 996h0M1772 1041h0M1769 1137h0M1779 1107h0M1772 1021h0M1777 980h0M1771 1034h0M1776 1009h0M1782 1072h0M1771 1088h0M1770 1113h0M1769 1124h0M1776 1093h0M1776 1067h0M1768 1050h0M1773 1048h0M1772 990h0M1777 1005h0M1769 1128h0M1776 1070h0M1768 1094h0M1767 1059h0M1772 1044h0M1774 1004h0M1775 1112h0M1776 972h0M1780 1068h0M1767 1041h0M1765 994h0M1780 1128h0M1769 1109h0M1772 1058h0M1771 1115h0M1768 1133h0M1764 1119h0M1764 1092h0M1773 1118h0M1771 1091h0M1765 1014h0M1776 1080h0M1771 1063h0M1773 1111h0M1781 1098h0M1781 1033h0M1775 1018h0M1767 1006h0M1772 1111h0M1775 1018h0M1772 1050h0M1773 992h0M1768 1035h0M1785 1003h0M1784 984h0M1775 1051h0M1776 1072h0M1761 1122h0M1775 994h0M1774 1116h0M1766 1039h0M1771 983h0M1771 1044h0M1779 1124h0M1775 1113h0M1773 1113h0M1774 1060h0M1776 977h0M1775 1054h0M1771 972h0M1780 1026h0M1776 1027h0M1781 1102h0" stroke="#A58AFF" stroke-width="11.5"/>
<path d="M940 1749h0M944 1730h0M931 1724h0M929 1744h0M973 1637h0M933 1722h0M947 1743h0M957 1682h0M958 1670h0M932 1729h0M926 1732h0M945 1731h0M982 1644h0M950 1707h0M939 1706h0M945 1708h0M945 1672h0M970 1638h0M966 1673h0M949 1675h0M946 1694h0M948 1714h0M969 1653h0M967 1650h0M914 1748h0M916 1767h0M928 1723h0M931 1744h0M935 1751h0M962 1687h0M937 1742h0M957 1716h0M966 1667h0M937 1726h0M974 1647h0M962 1681h0M933 1703h0M925 1748h0M976 1635h0M939 1723h0M948 1668h0M967 1694h0M939 1656h0M937 1734h0M950 1716h0M980 1641h0M945 1687h0M960 1681h0M931 1744h0M953 1709h0M977 1632h0M944 1730h0M945 1693h0M961 1658h0M930 1723h0M962 1655h0M937 1755h0M938 1732h0M986 1662h0M935 1691h0M948 1671h0M959 1665h0M969 1685h0M950 1709h0M975 1649h0M969 1646h0M955 1748h0M932 1703h0M979 1652h0M959 1678h0M957 1675h0M936 1699h0M924 1726h0M922 1760h0M964 1644h0M939 1756h0M963 1677h0M923 1729h0M910 1755h0M986 1659h0M958 1655h0M934 1751h0M943 1738h0M936 1732h0M953 1665h0M943 1733h0M963 1642h0M950 1694h0M941 1732h0M962 1655h0M962 1695h0M938 1710h0M935 1748h0M968 1666h0M935 1716h0M935 1743h0M953 1678h0M933 1731h0M924 1750h0M948 1695h0M957 1674h0M935 1707h0M938 1739h0M947 1716h0M945 1711h0M940 1720h0M943 1714h0M937 1742h0M920 1753h0M957 1689h0" stroke="#DF70F8" stroke-width="11.5"/>
<path d="M406 574h0M491 438h0M485 445h0M427 548h0M477 456h0M480 444h0M434 529h0M490 431h0M429 531h0M478 453h0M417 562h0M456 492h0M423 550h0M443 496h0M445 497h0M465 480h0M458 491h0M467 481h0M418 561h0M445 504h0M453 483h0M404 577h0M406 571h0M436 547h0M453 507h0M437 529h0M416 579h0M457 481h0M490 439h0M411 551h0M493 441h0M411 581h0M491 450h0M474 461h0M446 497h0M495 419h0M435 529h0M444 502h0M417 580h0M438 506h0M463 479h0M499 427h0M448 503h0M476 448h0M432 530h0M430 529h0M482 442h0M420 547h0M484 444h0M410 566h0M485 438h0M505 432h0M473 454h0M454 495h0M476 452h0M423 553h0M466 474h0M486 441h0M421 546h0M482 438h0M428 536h0M450 481h0M463 479h0M450 514h0M412 575h0M463 481h0M425 536h0M439 520h0M466 476h0M430 541h0" stroke="#FB61D7" stroke-width="11.5"/>
<path d="M816 306h0M823 360h0M820 321h0M815 312h0M827 298h0M815 321h0M826 343h0M811 289h0M825 338h0M816 364h0M821 297h0M816 299h0M811 281h0M821 327h0M820 298h0M817 364h0M818 283h0M812 268h0M816 314h0M818 321h0M814 301h0M814 304h0M823 377h0M830 354h0M826 295h0M821 371h0M827 372h0M818 342h0M817 326h0M818 370h0M820 345h0M825 373h0M815 360h0M820 330h0M823 344h0M814 352h0M804 292h0M826 374h0M826 295h0M819 304h0" stroke="#FF66A8" stroke-width="11.5"/>
<path d="M2743 1123h0M2735 1129h0M2973 705h0M2969 683h0M3001 1255h0M2996 1235h0M2784 986h0M2778 993h0M2743 1126h0M3032 839h0M3010 841h0M2828 1364h0M2844 1354h0M2829 1344h0M2762 1066h0M2764 1056h0M2747 995h0M2731 979h0M2737 1021h0M2746 994h0M2955 573h0M2949 572h0M2987 1388h0M2975 1371h0M2728 1116h0M2718 1115h0M2764 936h0M2677 1030h0M2683 1046h0M2926 1298h0M2924 1279h0M2908 1301h0M2930 1300h0M2749 1044h0M2758 1044h0M2875 1163h0M2875 1167h0M2967 1002h0M2963 1008h0M2984 999h0M2866 1191h0M2853 1174h0M3009 1262h0M3046 1266h0M2739 1352h0M2747 1359h0M2892 1334h0M2891 1336h0M3083 1368h0M3079 1385h0M3038 972h0M3031 961h0M2991 1379h0M2991 1376h0M2989 1284h0M2991 1285h0M2992 1289h0M2959 1063h0M2959 1072h0M2851 1271h0M2854 1280h0M2861 1275h0M2823 831h0M3082 1232h0M3076 1245h0M2803 1074h0M2800 1088h0M2949 1269h0M2940 1267h0M2949 1281h0M2954 1193h0M2961 1150h0M2842 1089h0M2843 1045h0M3057 1236h0M3043 1243h0M3064 1240h0M2956 1365h0M2992 1374h0M2973 1378h0M2778 1236h0M2790 1222h0M2804 1250h0M2765 1227h0M2768 1093h0M2776 1088h0M3143 1316h0M3151 1314h0M2853 905h0M2870 900h0M2851 909h0M3044 1069h0M3054 1086h0M3052 1081h0M2704 932h0M3145 1343h0M3126 1354h0M3121 1338h0M3015 797h0M3019 781h0M2681 850h0M2668 847h0M2813 645h0M2795 642h0M2803 643h0M2678 1089h0M2684 1112h0M2698 1065h0M2682 1083h0M2745 1246h0M2754 1254h0M2724 1244h0M2814 957h0M2851 961h0M2652 1177h0M2658 1182h0M3027 1057h0M3043 1031h0M3129 1290h0M3119 1281h0M3134 1287h0M2756 1119h0M2753 1127h0M2751 1123h0M3079 1353h0M3084 1353h0M3084 1352h0M3110 1328h0M2986 1375h0M3014 1046h0M3037 1031h0M2788 519h0M2946 534h0M2939 540h0M2937 545h0M2931 548h0M2893 1400h0M2899 1400h0M2945 1380h0M2946 1370h0M2951 1351h0M2920 939h0M2777 1368h0M2771 1364h0M2909 1324h0M2909 1325h0M2906 1320h0M2890 1331h0M2889 1312h0M2680 1096h0M2671 1112h0M2697 1016h0M2712 1023h0M3039 1004h0M3045 1014h0M2882 1132h0M2916 1126h0M2900 946h0M2886 1000h0M2685 1264h0M2721 1239h0M2607 951h0M2611 953h0M2612 952h0M3032 807h0M3033 818h0M3049 806h0M3058 1263h0M3054 1255h0M2993 1104h0M3007 1254h0M3007 1261h0M3027 1256h0M3003 1268h0M3003 1154h0M3002 1176h0M3002 1176h0M3007 1173h0M3007 1179h0M2850 1226h0M2849 1229h0M2742 1310h0M3032 1318h0M2908 1034h0M2935 1017h0M2686 595h0M2702 555h0M2771 950h0M2751 948h0M3096 1250h0M3064 1240h0M3051 1240h0M3067 1257h0M3084 1243h0M2715 1180h0M2713 1184h0M3069 1369h0M3061 1120h0M2821 1123h0M2789 1125h0M2814 886h0M2988 1066h0M2979 1090h0M3008 1064h0M3028 1081h0M2915 1220h0M2909 1210h0M2634 574h0M2881 998h0M2890 992h0M2888 987h0M2951 1192h0M2902 604h0M3008 1100h0M2805 1229h0M2804 1208h0M2978 1230h0M2951 1232h0M2942 1110h0M2952 1107h0M2978 1108h0M2834 1149h0M2817 1159h0M3042 1201h0M2815 881h0M2787 882h0M2746 546h0M2730 534h0M2736 539h0M2971 1434h0M3074 1212h0M2888 1438h0M3054 947h0M3044 935h0M2837 1029h0M2821 1014h0M2817 1022h0M3105 1388h0M3101 1386h0M3088 1403h0M3091 1412h0M2749 1144h0M2736 1149h0M3037 1260h0M3056 1296h0M2929 1364h0M2823 1397h0M2803 1391h0M2812 1383h0M2890 1360h0M2891 1365h0M3070 1191h0M3061 1207h0M3041 1334h0M3034 1341h0M2860 1398h0M2860 1400h0M2826 1394h0M2832 1402h0M2832 1400h0M2873 1321h0M2881 1322h0M2911 1393h0M2923 1382h0M2931 1381h0M3076 1161h0M2845 1077h0M2830 1075h0M2844 1085h0M3102 1199h0M3108 1200h0M2819 885h0M2827 882h0M2732 1121h0M2759 1168h0M2768 1181h0M2767 1238h0M2731 1252h0M2807 972h0M2815 964h0M2819 963h0M2970 765h0M2975 779h0M2985 782h0M2999 760h0M2690 751h0M2678 750h0M2920 1354h0M2909 1353h0M2964 1275h0M3048 1157h0M3060 1147h0M3051 1151h0M3061 1145h0M2993 1133h0M2972 1129h0M2946 1113h0M2992 994h0M2992 989h0M2997 1005h0M2864 1431h0M2862 1440h0M2861 1432h0M2849 1425h0M2893 655h0M2909 624h0M2905 650h0M2901 640h0M3075 996h0M2701 966h0M2681 982h0M3003 1301h0M2998 1304h0M2768 667h0M2802 678h0M2806 676h0M2858 1327h0M2863 1321h0M2731 795h0M2735 776h0M2765 686h0M2753 685h0M2768 673h0M2769 680h0M3024 1225h0M3028 1232h0M3030 1240h0M3094 1302h0M3102 1296h0M3118 1101h0M3114 1079h0M2808 1273h0M2826 1278h0M2828 1279h0M2699 612h0M2705 626h0M3107 1245h0M3113 1224h0M3097 1254h0M3108 1276h0M3123 1211h0M3096 1228h0M3116 1221h0M3007 1368h0M3004 1360h0M2886 1117h0M2933 1156h0M2692 881h0M2685 898h0M2652 1144h0M2658 1142h0M2652 1142h0M2996 1235h0M2981 1255h0M2970 1243h0M2976 1257h0M3036 961h0M3046 985h0M3050 997h0M3035 996h0M2993 1259h0M2997 1235h0M3000 1255h0M3008 1255h0M2738 824h0M2650 1137h0M2646 1136h0M2640 1151h0M2997 1377h0M2990 1373h0M2997 1374h0M2888 1057h0M2885 1036h0M2885 1027h0M3014 566h0M3002 573h0M3038 1367h0M2948 1245h0M3032 1198h0M3036 1199h0M3041 1193h0M2680 998h0M2690 975h0M2995 1288h0M2999 1266h0M2746 605h0M2961 977h0M2974 984h0M2963 972h0M2836 1033h0M3052 1374h0M3072 1389h0M3069 1186h0M3076 1185h0M3060 1186h0M3004 754h0M2795 1182h0M2795 1179h0M2668 750h0M2680 760h0M2685 760h0M2718 1171h0M2705 1210h0M2677 1223h0M2785 1167h0M2773 1198h0M2784 1187h0M2984 955h0M3001 1433h0M2799 1336h0M2785 1354h0M2791 1341h0M2618 1011h0M2606 1006h0M2592 1008h0M2793 1399h0M2798 1388h0M2842 1288h0M2853 1307h0M2916 1302h0M2922 1268h0M2914 1287h0M3024 1282h0M3033 1291h0M3028 1293h0M2971 1409h0M2974 1413h0M2975 1423h0M2912 1164h0M2656 1195h0M2646 1180h0M2639 1165h0M2637 1172h0M2870 1267h0M2879 1282h0M2872 1289h0M2856 1276h0M2873 1272h0M2999 1054h0M2588 1046h0M2593 1044h0M2590 1058h0M3144 1148h0M3126 1153h0M2728 1341h0M2735 1342h0M2726 1327h0M2808 1069h0M2739 1153h0M2732 1127h0M2750 1115h0M2747 1114h0M2950 1271h0M2773 1087h0M2779 1071h0M2774 1068h0M3081 1339h0M2734 1035h0M2740 1040h0M3008 1406h0M2990 1394h0M2955 715h0M2956 716h0M2963 711h0M2763 953h0M2748 940h0M2961 1410h0M2955 1416h0M2741 1355h0M2742 1360h0M2669 1174h0M3105 1127h0M3095 1089h0M3052 938h0M3037 946h0M2982 948h0M2993 948h0M2978 941h0M2946 569h0M2941 538h0M2738 758h0M2731 758h0M3063 964h0M3092 1209h0M3095 1219h0M3079 1222h0M2699 968h0M2727 951h0M2652 893h0M2650 888h0M3057 1236h0M2903 1123h0M2904 1145h0M2920 1035h0M2922 1038h0M2923 1008h0M2930 1219h0M2907 1256h0M3031 1444h0M3035 1452h0M2756 1319h0M2760 1328h0M3031 998h0M3037 976h0M2765 1311h0M2770 1311h0M2740 1306h0M2737 1230h0M2969 1146h0M2999 1141h0M2994 1142h0M2951 1358h0M3142 1269h0M3062 1340h0M3062 1356h0M3079 1378h0M3035 947h0M3025 938h0M3034 931h0M3053 932h0M3028 941h0M2784 1233h0M2772 1241h0M2760 1236h0M3050 1392h0M3044 1389h0M2612 1013h0M2637 1049h0M3079 1421h0M3084 1402h0M2777 590h0M2936 1294h0M2845 982h0M2612 766h0M2619 760h0M2648 788h0M3042 1059h0M3044 1043h0M3045 1060h0M2694 819h0M2848 959h0M2799 973h0M2978 1289h0M2972 1294h0M2896 1351h0M2895 1331h0M2618 1090h0M2640 1088h0M3000 1389h0M3008 1357h0M3041 1022h0M2746 1215h0M2749 1222h0M2744 1216h0M2752 1223h0M2794 1362h0M2915 756h0M2925 761h0M2775 1206h0M2771 1201h0M3053 1060h0M3069 1042h0M3064 1041h0M2897 744h0M2888 746h0M2897 746h0M2869 1376h0M2969 1227h0M2968 1241h0M2986 1228h0M2869 1274h0M2948 1207h0M2953 1226h0M2855 1378h0M2878 1390h0M2800 1044h0M2793 1029h0M2804 1032h0M2801 1033h0M2908 1304h0M2901 1301h0M2902 1313h0M2641 609h0M2678 595h0M2894 1406h0M2882 1395h0M2889 1397h0M2619 1156h0M2623 1148h0M3055 1019h0M3047 1014h0M3057 1024h0M2686 1223h0M2680 1230h0M2695 1229h0M2676 1227h0M3097 1285h0M3102 1283h0M3066 1299h0M3087 1292h0M2768 1109h0M2755 1109h0M2754 1119h0M2763 1122h0M3087 1094h0M3092 1071h0M3079 1102h0M2728 1206h0M2751 1178h0M2733 1181h0M2851 1177h0M2835 1192h0M3025 1318h0M2964 1151h0M2903 1134h0M3016 1228h0M3012 1230h0M3015 1215h0M3046 1342h0M3023 1365h0M2836 772h0M2815 776h0M2823 780h0M3074 1003h0M3079 1009h0M3080 1081h0M3077 1087h0M2738 1314h0M2761 1309h0M2738 1311h0M3122 1334h0M3118 1352h0M3114 1336h0M3123 1336h0M2856 919h0M2856 928h0M2933 725h0M3063 1114h0M3081 1130h0M3084 1142h0M2899 966h0M2903 993h0M3004 838h0M2988 839h0M2979 850h0M2787 1373h0M2798 1363h0M2804 1374h0M3109 1354h0M3022 1278h0M3033 1286h0M3030 1280h0M2899 1029h0M2894 1042h0M2897 1045h0M2768 1192h0M2791 1156h0M2766 1177h0M3069 1379h0M3052 1386h0M3055 1385h0M3063 1394h0M2995 732h0M3020 693h0M2888 1308h0M2879 1296h0M2876 1297h0M2697 1067h0M2687 1088h0M2681 1079h0M3076 1108h0M3071 1127h0M2994 1389h0M3015 1391h0M2997 1378h0M2994 1374h0M2919 1378h0M2923 1375h0M3044 1220h0M3023 1198h0M2707 1258h0M2730 1276h0M2702 1247h0M2997 1110h0M2991 1104h0M2904 1296h0M2898 1303h0M2814 1031h0M2816 1035h0M2836 1032h0M3031 958h0M3038 953h0M2809 1232h0M2834 1226h0M2838 1208h0M3001 702h0M3004 696h0M3011 677h0M2826 1255h0M3174 1277h0M2790 1071h0M2807 1079h0M2825 1077h0M2931 773h0M2929 768h0M2926 786h0M3097 1240h0M3115 1217h0M3098 1228h0M2844 1337h0M2847 1325h0M2959 654h0M2700 1213h0M2740 1339h0M2718 1333h0M2760 1198h0M2774 1183h0M2780 1200h0M2786 1208h0M2798 1221h0M2866 1325h0M2863 1342h0M2746 739h0M2764 732h0M3001 1080h0M2984 1100h0M2968 1102h0M2667 1031h0M2699 1023h0M2680 1029h0M2896 1039h0M2904 1033h0M2881 1038h0M2739 998h0M2757 994h0M2752 988h0M2944 893h0M2669 1153h0M2666 1128h0M2790 1216h0M2790 1223h0M2802 1214h0M3041 1307h0M3072 1323h0M3097 1173h0M3103 1150h0M2942 1380h0M2952 1373h0M2946 1399h0M2734 1193h0M3018 1177h0M3005 1174h0M3003 1186h0M2657 1254h0M2654 1239h0M2664 1255h0M2846 1168h0M2875 1124h0M2854 1162h0M2862 973h0M2829 980h0M2832 990h0M2935 965h0M3007 1231h0M3013 1233h0M3001 1220h0M3030 851h0M3069 831h0M3073 1035h0M2718 950h0M2746 726h0M2745 733h0M2756 731h0M2691 863h0M2720 864h0M2705 859h0M2726 864h0M3133 1275h0M3139 1282h0M3147 1292h0M3069 992h0M3079 989h0M3045 1301h0M3050 1317h0M2940 1016h0M2949 1021h0M2952 1028h0M2649 754h0M2664 783h0M2647 753h0M2588 1028h0M2605 1037h0M2656 1101h0M2635 1094h0M3042 1311h0M3020 1301h0M3015 1305h0M3045 1001h0M3036 1000h0M2860 868h0M2834 871h0M2867 1308h0M2862 1294h0M3018 1330h0M3016 1331h0M2714 1137h0M2714 1135h0M2757 1042h0M2748 1021h0M2944 1250h0M2901 1263h0M2625 1132h0M2632 1119h0M3010 1182h0M3010 1188h0M3082 1364h0M3068 1364h0M3058 1349h0M2953 787h0M2938 785h0M2964 797h0M3110 1319h0M3108 1316h0M3118 1331h0M2951 647h0M3026 1227h0M3054 1242h0M3041 1238h0M3082 1326h0M3080 1343h0M3093 1335h0M2680 1251h0M2684 1265h0M3011 997h0M3053 967h0M2671 1152h0M2678 1162h0M2646 903h0M2631 896h0M2643 922h0M2942 1459h0M2900 1120h0M2905 1136h0M3012 1193h0M3020 1180h0M3052 1193h0M3042 1199h0M3051 1195h0M3018 612h0M3018 617h0M2854 1136h0M2857 1133h0M2844 1152h0M2658 1199h0M2681 1172h0M3071 1270h0M3067 1260h0M2643 943h0M2649 953h0M2666 941h0M3104 1278h0M3114 1286h0M3123 1284h0M3110 1266h0M2874 804h0M2901 813h0M3036 1346h0M3030 1339h0M2704 909h0M2697 920h0M2658 918h0M2723 917h0M2931 1323h0M2910 1274h0M2850 1250h0M2862 1250h0M2836 1125h0M2823 1105h0M2740 995h0M2762 1006h0M2889 1180h0M2877 1185h0M2878 1178h0M3077 1092h0M3078 1083h0M3082 1095h0M3087 1267h0M3102 1258h0M3096 1262h0M3110 1259h0M2836 1325h0M2743 850h0M2744 836h0M2739 837h0M2979 705h0M2797 1326h0M2813 1326h0M2809 1318h0M3061 1357h0M3045 1351h0M3063 1373h0M3111 1289h0M3128 1272h0M3094 1292h0M3132 1289h0M2859 681h0M2847 677h0M3068 1366h0M2813 606h0M2792 609h0M2822 615h0M2821 618h0M2827 612h0M2772 595h0M2761 593h0M2893 1322h0M2909 1319h0M2647 1141h0M2647 1136h0M2634 1149h0M2634 1153h0M2630 838h0M2601 860h0M2629 849h0M2609 868h0M3024 821h0M2954 1404h0M2956 1400h0M2701 901h0M2942 1086h0M2934 1091h0M2894 713h0M2884 720h0M2898 723h0M2901 635h0M2910 644h0M2641 1211h0M2670 1201h0M2652 1202h0M2745 1257h0M2754 1263h0M2761 1258h0M2744 1258h0M3120 1101h0M2891 1370h0M2896 1372h0M2879 1362h0M2757 994h0M2757 992h0M2770 995h0M2848 956h0M2862 983h0M2868 1010h0M2864 1379h0M2864 1382h0M3108 1291h0M3109 1278h0M3118 1294h0M2787 1060h0M2786 1055h0M3050 1205h0M3058 1176h0M3044 1182h0M2935 1398h0M2808 740h0M2847 741h0M2822 753h0M2776 867h0M2771 860h0M2787 873h0M3107 1258h0M3111 1260h0M2983 631h0M2990 639h0M2988 624h0M2775 910h0M2771 908h0M2778 928h0M2909 1327h0M2897 1358h0M2903 1355h0M2661 945h0M2644 938h0M2895 1396h0M3063 1148h0M3074 1130h0M3057 1147h0M2705 942h0M2714 937h0M2713 928h0M3085 1096h0M3061 1105h0M3065 1330h0M3060 1335h0M2996 1356h0M3025 1374h0M2729 1281h0M2685 833h0M2692 830h0M2729 929h0M2751 929h0M2989 1124h0M2952 1084h0M3060 1211h0M2743 911h0M2692 1173h0M2875 849h0M2980 1397h0M2996 1409h0M2955 1392h0M2762 1211h0M2854 840h0M2865 820h0M2863 828h0M2950 882h0M2958 916h0M2954 893h0M2995 862h0M3016 820h0M2834 1186h0M2847 1180h0M2965 685h0M2920 545h0M2924 529h0M2910 549h0M2733 965h0M2752 1332h0M2759 1319h0M2757 1312h0M2883 848h0M2881 830h0M2682 814h0M2931 1247h0M2912 1266h0M3003 1336h0M3007 1320h0M3003 1352h0M2994 1322h0M3001 1340h0M2794 1192h0M2793 1202h0M2790 1201h0M2788 800h0M2719 790h0M2734 821h0M2817 1131h0M2827 1117h0M3076 1011h0M3064 1043h0M3068 1010h0M2800 791h0M2721 1228h0M2729 1232h0M2719 1235h0M2903 966h0M2884 973h0M2941 914h0M2930 903h0M2661 1001h0M2929 1210h0M2916 1207h0M2942 1189h0M3137 1280h0M2749 1106h0M2742 1106h0M2746 1103h0M3128 1303h0M3134 1320h0M3016 1006h0M3047 986h0M2904 1003h0M2911 1028h0M3006 964h0M3025 945h0M3002 1157h0M2995 1162h0M2915 916h0M2892 908h0M2889 914h0M2872 1256h0M2881 1257h0M2886 1275h0M2973 909h0M2986 916h0M2982 919h0M2692 1056h0M2695 1044h0M2677 1050h0M2684 1062h0M2783 1339h0M2782 1347h0M2780 1337h0M2880 859h0M2866 836h0M3065 1138h0M3086 1134h0M2961 1080h0M2957 1078h0M2731 1329h0M2758 1334h0M2737 1332h0M2741 1316h0M3029 1040h0M3035 1043h0M3012 1064h0M2796 1186h0M2803 1203h0M2798 1184h0M2899 810h0M3001 1392h0M3130 1194h0M2906 1279h0M2926 1268h0M2900 1316h0M3022 936h0M3018 950h0M3041 955h0M3062 1279h0M3047 1289h0M2855 1123h0M2851 1098h0M2722 891h0M2702 918h0M3021 934h0M3018 913h0M2626 1071h0M2634 1087h0M3037 1249h0M3028 1233h0M3047 1259h0M3035 927h0M3018 906h0M2926 1304h0M2913 1307h0M2903 1298h0M2829 789h0M2833 787h0M2823 785h0M2734 794h0M2727 807h0M2742 797h0M2742 794h0M2766 1091h0M2940 1376h0M2671 781h0M3127 1382h0M3109 1396h0M3057 1255h0M3047 1245h0M3082 1257h0M2582 863h0M2585 852h0M3035 985h0M3041 963h0M2982 1028h0M2983 1053h0M2986 1020h0M2971 1316h0M2986 1313h0M2999 1413h0M2672 785h0M3010 1228h0M2996 1216h0M3014 1213h0M3008 627h0M3038 640h0M3022 1185h0M3032 1188h0M3022 1191h0M3013 1020h0M3025 998h0M3008 991h0M3080 1393h0M3088 1355h0M3074 1390h0M3065 1402h0M3105 1234h0M3104 1233h0M3032 863h0M3020 852h0M3003 850h0M2955 968h0M2945 980h0M3090 1026h0M3099 1026h0M3090 1034h0M2910 1330h0M3062 1292h0M3113 1137h0M2937 1238h0M2923 1232h0M3038 1396h0M3040 1398h0M2922 1215h0M3023 1364h0M3028 1383h0M2873 1240h0M2841 1236h0M2865 1146h0M2854 1131h0M3090 1339h0M3087 1318h0M2813 1282h0M2813 1292h0M2795 1307h0M2771 1292h0M2767 1281h0M2995 816h0M2992 849h0M3044 1185h0M2915 1244h0M2916 1246h0M3062 1408h0M2768 1165h0M2936 730h0M2931 731h0M2873 1269h0M2847 1160h0M2844 1182h0M2842 1185h0M2980 1140h0M2975 1140h0M2964 1112h0M2587 900h0M2600 902h0M3088 1360h0M3083 1357h0M2746 898h0M2737 900h0M3016 1098h0M2783 1188h0M2806 1175h0M2789 1155h0M2702 1224h0M2703 1214h0M2913 1275h0M2919 1316h0M2914 1268h0M2975 1244h0M3035 1338h0M2908 1421h0M2893 1437h0M2872 1433h0M2896 1427h0M2764 1304h0M2775 1282h0M2769 1268h0M2767 1027h0M2780 1021h0M2777 1026h0M2986 1240h0M2995 1223h0M2865 1076h0M2864 1072h0M2831 1064h0M3023 734h0M3015 730h0M2777 1340h0M2752 1337h0M3062 1434h0M3053 1430h0M3054 1421h0M2729 1014h0M2742 1000h0M2736 976h0M2682 1006h0M2684 1005h0M2687 1003h0M2694 1002h0M2877 972h0M2847 1400h0M2860 1417h0M2855 1395h0M2987 1373h0M2705 956h0M2700 958h0M2712 956h0M3076 1106h0M3074 1112h0M2680 1062h0M2689 1076h0M3080 1388h0M3083 1387h0M2777 1241h0M2774 1249h0M2759 1078h0M2768 1090h0M2886 1430h0M2878 1430h0M2984 1180h0M2975 1177h0M2973 1171h0M3083 998h0M3084 1016h0M3076 1000h0M3074 1013h0M2863 1224h0M2858 1238h0M2829 1149h0M2851 1155h0M2870 1179h0M2869 1094h0M2867 1086h0M3074 1061h0M3086 1055h0M2968 1325h0M3082 1265h0M3088 1262h0M3003 838h0M3071 1152h0M3063 1134h0M3062 1139h0M2931 1280h0M2850 560h0M2977 1053h0M2963 1042h0M2965 1046h0M2805 928h0M2829 932h0M2769 928h0M2795 1139h0M2790 1149h0M2785 1138h0M2788 683h0M2760 676h0M2788 688h0M3003 800h0M3006 792h0M2742 1261h0M2797 1226h0M2949 1203h0M2975 1209h0M2950 1189h0M2796 1121h0M2794 1122h0M2968 1044h0M2967 1043h0M2967 1058h0M2967 1422h0M2964 1418h0M2963 1413h0M2808 1304h0M2798 1293h0M2909 1348h0M2903 1346h0M2936 1341h0M2923 1344h0M2708 1065h0M2714 1053h0M2739 1074h0M2946 1090h0M2999 1092h0M3006 851h0M2999 845h0M3000 837h0M3066 1229h0M3084 1241h0M3063 1224h0M3043 1032h0M3052 1021h0M2762 963h0M2755 960h0M2770 952h0M2771 959h0M2992 1009h0M2968 986h0M3144 1323h0M3140 1336h0M3164 1343h0M2868 935h0M2878 946h0M3133 1224h0M3132 1233h0M3126 1220h0M3140 1220h0M2984 1314h0M2972 1300h0M2987 1280h0M2799 1288h0M2817 1298h0M2818 1283h0M2821 1288h0M3042 1292h0M3009 1317h0M2906 1103h0M2903 1075h0M2911 1089h0M2905 1116h0M2903 1091h0M2939 1285h0M3144 1203h0M3143 1214h0M2726 799h0M2746 783h0M2713 821h0M2985 1135h0M2959 1105h0M2962 1119h0M3044 1096h0M3060 1092h0M3048 1093h0M3058 1094h0M2867 926h0M3094 1255h0M3103 1254h0M3100 1267h0M3017 931h0M3030 904h0M3008 924h0M3008 1090h0M3001 1110h0M3010 1113h0M2957 913h0M2974 905h0M2752 806h0M2740 823h0M2737 841h0M2873 654h0M2881 649h0M2873 648h0M2879 826h0M2894 844h0M2838 887h0M2792 1335h0M2646 1037h0M2909 1316h0M2894 1312h0M2903 1307h0M3042 1134h0M3050 1145h0M3043 1144h0M3036 1127h0M2867 653h0M2910 1305h0M2913 1311h0M2844 877h0M2831 865h0M2708 1033h0M2694 1038h0M2825 932h0M2827 932h0M2833 931h0M2928 1288h0M2950 1301h0M2650 952h0M2650 933h0M2648 961h0M3077 1029h0M3054 1016h0M3048 1013h0M2618 1077h0M2596 1083h0M2999 654h0M3109 1335h0M3106 1347h0M3072 1355h0M2601 583h0M2610 590h0M2633 597h0M2623 604h0M2756 1066h0M2740 1071h0M2957 1340h0M2945 1341h0M2860 953h0M2862 919h0M3100 1347h0M2989 1282h0M2940 1217h0M2942 1210h0M2926 1196h0M2926 1204h0M2940 1196h0M2958 1398h0M3078 1350h0M3074 1347h0M2831 1078h0M2823 1088h0M3013 845h0M3012 833h0M3012 847h0M2833 996h0M2833 1001h0M2863 984h0M3115 1352h0M3123 1359h0M2730 805h0M2732 794h0M2708 1189h0M2942 957h0M2941 948h0M2867 1099h0M2862 1105h0M2879 1096h0M3118 1228h0M2868 1338h0M2874 1341h0M3102 1248h0M3105 1264h0M3016 914h0M3002 915h0M3009 916h0M3015 775h0M2930 1297h0M2934 1300h0M2939 1310h0M2942 1293h0M2677 934h0M2674 933h0M2672 927h0M2987 727h0M2828 1192h0M2839 1174h0M2946 1375h0M2906 1367h0M2909 1374h0M2780 829h0M2769 825h0M2850 1184h0M2846 1185h0M2850 1168h0M2862 1205h0M2875 1219h0M2892 1215h0M2903 1231h0M2885 1227h0M2654 1036h0M2647 1050h0M2654 1038h0M2646 1051h0M2813 1069h0M2996 1406h0M2984 1398h0M3003 1077h0M3021 1091h0M2722 856h0M2709 845h0M2595 635h0M2620 627h0M2682 847h0M2662 831h0M2671 836h0M2910 815h0M2917 815h0M2903 815h0M2920 816h0M2802 1153h0M2818 1138h0M2825 1143h0M2956 949h0M3086 1360h0M3088 1363h0M2956 1291h0M2674 1100h0M2677 1097h0M2677 1114h0M2931 1203h0M2923 1203h0M3073 1349h0M3071 1356h0M3067 1351h0M3075 1100h0M3073 1095h0M3037 1420h0M3033 1443h0M3040 1421h0M2986 973h0M2984 977h0M2993 981h0M2901 858h0M2910 856h0M2911 845h0M2927 763h0M2952 767h0M2748 1322h0M2740 1317h0M2751 1325h0M3061 1004h0M3063 982h0M3071 980h0M3043 989h0M2736 1287h0M3049 1197h0M3067 1225h0M3043 1198h0M2935 528h0M2930 520h0M2921 544h0M2823 1146h0M2836 1145h0M2963 1304h0M2943 1300h0M2990 1363h0M2992 1363h0M2979 1371h0M2650 1217h0M2648 1262h0M2654 1228h0M2650 1233h0M3115 1266h0M3103 1244h0M3125 1287h0M2797 1075h0M2806 1068h0M3029 1379h0M3074 1146h0M3076 1133h0M3084 1143h0M2775 1273h0M2913 1081h0M2947 1057h0M2932 1063h0M2925 1085h0M2964 1301h0M2944 1281h0M2943 1282h0M2878 1280h0M2893 1263h0M2627 1091h0M2650 1114h0M2638 1098h0M3068 1342h0M3062 1345h0M3067 1353h0M3068 1356h0M2999 1391h0M2958 1403h0M2942 1402h0M2660 1201h0M2636 1191h0M2647 1204h0M2751 975h0M2761 963h0M2880 896h0M2884 899h0M3085 1106h0M2866 1260h0M2851 1261h0M2858 599h0M2840 611h0M2870 601h0M2878 604h0M2814 875h0M2701 1231h0M2706 1216h0M2711 1208h0M3070 1159h0M3070 1159h0M3086 1168h0M3076 1166h0M2986 697h0M2804 661h0M2806 663h0M2811 662h0M2705 640h0M2679 618h0M2690 622h0M2791 1261h0M2779 1251h0M2768 1270h0M3021 1243h0M3018 1266h0M3007 1238h0M2946 698h0M2965 678h0M2920 704h0M2778 624h0M2759 602h0M3008 715h0M3029 714h0M3102 1054h0M3089 1018h0M3102 1047h0M2911 1219h0M2906 1232h0M2695 1282h0M2675 1275h0M3046 1126h0M3055 1218h0M3052 1219h0M2819 715h0M2797 703h0M2805 719h0M3023 934h0M3004 921h0M2723 936h0M2691 953h0M2701 946h0M2812 652h0M3035 1404h0M3001 1405h0M3026 1394h0M2786 962h0M2791 1006h0M2782 969h0M2751 716h0M2759 714h0M3120 1348h0M3124 1343h0M3114 1350h0M2647 629h0M2640 593h0M2648 602h0M2646 609h0M2907 710h0M2913 704h0M2686 1009h0M2678 997h0M2957 1126h0M2860 1288h0M2864 1254h0M2790 1155h0M2800 1191h0M3071 1155h0M3056 1154h0M2972 986h0M2959 1039h0M2723 1119h0M2716 1132h0M3046 1223h0M3055 1229h0M2939 1074h0M2931 1096h0M2927 729h0M2933 738h0M2769 738h0M2748 752h0M2757 713h0M2762 1158h0M2762 1172h0M2771 1155h0M2620 1056h0M2976 937h0M3000 955h0M2641 942h0M2943 1045h0M2937 1039h0M3047 1193h0M3120 1191h0M3108 1188h0M2736 1206h0M2725 1209h0M2662 656h0M2678 664h0M2613 1170h0M2966 1020h0M2997 1013h0M2987 1022h0M2813 1177h0M2814 1169h0M2815 1191h0M2752 684h0M3030 1412h0M3029 1405h0M2904 1193h0M2919 1191h0M2625 970h0M2987 1409h0M2957 1407h0M2980 1415h0M2894 1260h0M2886 1256h0M2890 1247h0M2847 1127h0M2854 1129h0M2844 1126h0M2952 1084h0M2949 1072h0M3021 1428h0M3035 1410h0M3022 959h0M3017 968h0M3016 966h0M3009 1090h0M3026 1068h0M3004 1106h0M2990 1324h0M2943 920h0M2935 918h0M2953 921h0M3065 1273h0M3063 1287h0M3041 1288h0M2972 859h0M2961 875h0M3019 1296h0M3037 1302h0M3022 1313h0M2768 619h0M3114 1278h0M3108 1287h0M3018 934h0M3008 938h0M2747 1026h0M2702 1007h0M2742 1353h0M2757 1364h0M2701 1340h0M2710 1331h0M2713 1311h0M2899 606h0M2898 588h0M2900 602h0M2925 648h0M3030 1410h0M3036 1422h0M3030 1418h0M2923 1022h0M2917 1018h0M2926 1029h0M2923 1429h0M2920 1437h0M2889 1149h0M2906 1151h0M2933 1154h0M2941 1173h0M2931 1170h0M2926 1171h0M3039 1161h0M3041 1148h0M2883 817h0M2889 813h0M2879 819h0M2882 822h0M3012 1440h0M2996 1435h0M3006 1425h0M3024 1433h0M2646 1074h0M2653 1074h0M2664 1095h0M3024 1328h0M3023 1337h0M3044 1075h0M3043 1031h0M2629 972h0M2621 973h0M2629 974h0M3029 1228h0M3011 1245h0M3045 1167h0M3030 1147h0M3008 1425h0M3018 1414h0M2865 1035h0M2852 994h0M2862 1007h0M2824 1209h0M2817 1210h0M2949 590h0M2953 584h0M2848 1256h0M2885 1271h0M2864 1265h0M2868 1270h0M3080 1323h0M3083 1323h0M3086 1320h0M2687 809h0M2688 795h0M2698 784h0M2926 1056h0M2694 677h0M2687 667h0M2998 826h0M3009 831h0M2992 820h0M2984 1312h0M2931 1215h0M2929 1435h0M2919 1433h0M2925 1427h0M3054 1244h0M2906 815h0M2897 853h0M2900 857h0M2948 1375h0M2683 675h0M2692 679h0M2780 943h0M2783 948h0M3031 1094h0M2993 1104h0M3015 1112h0M3001 1109h0M2779 675h0M2781 657h0M2856 1030h0M2886 1001h0M2957 1373h0M2968 1386h0M3017 1396h0M3012 1389h0M3010 1389h0M2910 1118h0M2611 650h0M2617 1158h0M2633 1156h0M2659 1137h0M3091 1113h0M3085 1110h0M2953 1195h0M2969 1192h0M2961 1201h0M3040 1246h0M3008 1271h0M2951 993h0M2936 1017h0M2937 613h0M2934 621h0M2935 633h0M2936 534h0M2946 519h0M2745 597h0M2746 626h0M2750 600h0M2887 1167h0M2888 1167h0M2858 1251h0M2869 1277h0M2868 1275h0M3019 1081h0M3009 1060h0M3044 1086h0M2692 790h0M2709 797h0M2711 813h0M2828 950h0M2830 955h0M2771 1161h0M2784 1165h0M2724 1148h0M2711 1118h0M2731 1147h0M3075 1359h0M2732 1205h0M2721 1193h0M3024 1396h0M2989 893h0M2727 1321h0M2720 1338h0M2725 1326h0M2733 1316h0M2706 1143h0M2716 1133h0M2724 1128h0M2819 1318h0M2797 1327h0M2799 1327h0M2801 1339h0M2947 1124h0M2930 1123h0M2954 1122h0M2950 1135h0M3047 1368h0M3029 1386h0M3043 1364h0M2803 1140h0M2790 1142h0M2787 1146h0M2832 736h0M2755 1322h0M2746 1311h0M2747 1302h0M3007 1443h0M2917 1106h0M2902 1115h0M2899 1113h0M2815 1335h0M2823 1329h0M2753 1210h0M2732 1225h0M2745 1194h0M2805 1392h0M3057 1144h0M3048 1136h0M3041 1151h0M2773 745h0M2770 746h0M2882 1377h0M2893 1372h0M2772 1033h0M2789 1030h0M2787 913h0M2701 841h0M2708 848h0M2683 841h0M2776 1039h0M2769 1057h0M3022 801h0M3013 800h0M2932 1282h0M3110 1242h0M2826 707h0M2818 693h0M2933 809h0M2939 799h0M2902 1029h0M2896 1041h0M2906 1041h0M2882 677h0M2895 662h0M3123 1231h0M3115 1226h0M3144 1223h0M2752 598h0M2759 578h0M2747 597h0M2678 1104h0M2695 1108h0M2689 1106h0M2696 1174h0M2661 1175h0M2686 1189h0M2640 818h0M2635 833h0M2758 1120h0M2750 1128h0M2716 1342h0M2665 1113h0M2662 1111h0M3043 1199h0M3052 1202h0M3040 1200h0M2927 801h0M2944 810h0M2941 792h0M2967 1342h0M2965 1343h0M2906 1202h0M2904 1219h0M2859 1299h0M2849 1313h0M2657 1032h0M2666 1064h0M2659 1050h0M2929 711h0M2908 700h0M2739 972h0M2841 1306h0M3113 1233h0M2964 828h0M2979 834h0M2987 835h0M2691 852h0M2678 858h0M2679 851h0M2857 845h0M2866 824h0M2859 849h0M2854 859h0M2989 844h0M2995 839h0M2992 854h0M2728 1283h0M2727 1285h0M2722 1276h0M2795 1407h0M2936 1401h0M2928 1399h0M2939 1395h0M2963 793h0M2851 1190h0M2846 1176h0M2858 1182h0M2850 905h0M2851 909h0M2799 1135h0M2791 1129h0M2787 1179h0M2835 1366h0M2822 1364h0M2694 1141h0M2676 1125h0M2821 593h0M2805 600h0M2810 1236h0M2830 1240h0M2814 1223h0M3076 1212h0M2940 865h0M2930 846h0M2949 858h0M2933 854h0M3055 1399h0M3061 1404h0M3065 1394h0M2883 1324h0M3062 1110h0M3026 1114h0M2988 1271h0M2995 1264h0M3138 1360h0M3123 1355h0M2839 1401h0M3069 996h0M2694 830h0M2680 844h0M2676 853h0M2985 1011h0M2986 1046h0M2979 1009h0M3026 723h0M2900 1144h0M2695 777h0M2705 787h0M2997 1371h0M3028 1359h0M2931 1241h0M2931 1227h0M2965 1254h0M3083 1042h0M2641 979h0M2632 954h0M2959 1384h0M2747 1361h0M2970 1086h0M2975 1073h0M2665 1245h0M2858 911h0M2877 886h0M3010 824h0M3009 823h0M3014 827h0M2900 1442h0M2881 1429h0M2751 1295h0M2750 1318h0M2866 814h0M2850 626h0M2850 628h0M2856 645h0M3040 990h0M3032 994h0M3140 1125h0M3042 860h0M3053 847h0M3046 844h0M2725 1121h0M2741 1100h0M2719 1109h0M3105 1078h0M3107 1081h0M3115 1081h0M2892 938h0M2899 940h0M2804 973h0M2802 967h0M3078 1355h0M3066 1341h0M3079 1378h0M2953 628h0M2820 1119h0M2829 1125h0M3161 1305h0M2799 1392h0M2817 1386h0M3096 1267h0M3090 1269h0M2702 648h0M2812 769h0M2803 773h0M2614 1083h0M2626 1082h0M2899 1413h0M2879 1409h0M2816 874h0M2814 829h0M2888 1323h0M2886 1330h0M2886 1327h0M2964 855h0M2977 859h0M2609 1040h0M2620 1061h0M2617 1044h0M3068 1168h0M3048 1172h0M2992 909h0M3000 909h0M2961 930h0M2953 908h0M2946 890h0M2749 900h0M2756 901h0M3095 1174h0M3112 1169h0M2944 1400h0M2945 1407h0M2949 1402h0M2940 1420h0M3137 1137h0M3118 1155h0M3006 689h0M3021 675h0M2987 1231h0M2756 1081h0M2776 1057h0M2964 1397h0M2966 1394h0M3100 1165h0M3096 1162h0M3111 1180h0M2809 1332h0M2806 1315h0M2804 1334h0M2814 1334h0M2768 777h0M2735 771h0M2637 757h0M2990 910h0M2992 940h0M2923 879h0M2920 859h0M3088 1127h0M3091 1114h0M2988 1412h0M2986 1417h0M2831 1213h0M2810 1213h0M3135 1102h0M3143 1111h0M3014 702h0M3005 723h0M3017 727h0M2994 744h0M2860 1329h0M2839 1315h0M2618 930h0M2629 939h0M2747 1113h0M2735 1119h0M2730 1120h0M2913 1041h0M2900 1044h0M3043 1167h0M3040 1163h0M3049 1155h0M3004 657h0M2996 640h0M2784 1263h0M2773 1270h0M2793 1266h0M2987 1008h0M2981 1028h0M3004 1016h0M2986 1020h0M2982 1021h0M2939 1260h0M2963 1244h0M2940 1245h0M3008 980h0M3073 962h0M2771 1263h0M2779 1264h0M2770 1237h0M2899 1226h0M2680 1093h0M2687 1065h0M2828 1254h0M2822 1255h0M2830 1230h0M3003 1152h0M2976 1182h0M2639 726h0M2648 706h0M2655 720h0M2836 1221h0M2855 1193h0M2848 1021h0M2861 1011h0M3064 1017h0M3070 1027h0M3051 1022h0M2787 1081h0M2776 1090h0M2765 1086h0M2998 1092h0M3008 1099h0M2754 1009h0M2724 1013h0M2979 1349h0M2988 1353h0M3037 1193h0M3066 1200h0M3065 1183h0M3066 1183h0M3057 1179h0M3014 1256h0M2749 1157h0M2800 1150h0M2683 1108h0M3071 1185h0M3063 1164h0M2883 876h0M2944 1243h0M2962 1253h0M3040 954h0M3042 943h0M3037 937h0M3084 1030h0M3066 1034h0M3098 1035h0M3094 1036h0M2939 1254h0M2698 1296h0M2692 1315h0M2892 1332h0M2872 1336h0M2734 1250h0M2981 589h0M2979 605h0M2838 1003h0M2794 884h0M2783 889h0M2883 745h0M2895 741h0M3047 1218h0M3057 1218h0M2960 876h0M2945 889h0M2793 538h0M2784 1065h0M3027 1037h0M3056 1011h0M3052 1011h0M3087 1018h0M3103 1007h0M3103 1020h0M2977 861h0M2896 1155h0M2914 1135h0M2965 963h0M2975 956h0M2966 952h0M2914 1300h0M2754 611h0M2738 593h0M2752 605h0M2773 513h0M3009 1198h0M2848 653h0M2853 642h0M2846 638h0M2694 970h0M2708 984h0M2690 979h0M3100 1317h0M3096 1333h0M3108 1285h0M2938 1023h0M2936 1038h0M2937 1018h0M2928 1285h0M2933 1273h0M2937 1318h0M2926 1314h0M2911 878h0M2896 873h0M2913 873h0M2815 1076h0M2826 1098h0M2752 1345h0M2779 1375h0M2798 1374h0M2845 1254h0M2833 1238h0M2837 1228h0M3016 927h0M2982 1346h0M2976 1338h0M2983 1346h0M2980 1338h0M3017 1239h0M3010 1243h0M3022 1234h0M2723 1178h0M2732 1122h0M2843 1028h0M2839 1053h0M2862 1357h0M2873 1364h0M2809 1382h0M2811 1414h0M2593 941h0M2598 924h0M2887 857h0M2885 863h0M2889 857h0M2721 1130h0M2721 1119h0M2716 1135h0M2717 1315h0M2808 502h0M2774 333h0M2818 373h0M2859 348h0M2795 479h0M2773 460h0M2813 296h0M2909 430h0M2790 416h0M2888 394h0M2825 446h0M2840 541h0M2752 424h0M2760 439h0M2896 477h0M2721 370h0M2837 368h0M2856 358h0M2872 350h0M2908 387h0M2798 418h0M2680 394h0" stroke="#F8766D" stroke-width="11.5"/>
<path d="M2708 1528h0M2705 1521h0M2724 1544h0M2703 1576h0M2694 1563h0M2568 1363h0M2577 1361h0M2594 1366h0M2592 1363h0M2568 1363h0M2564 1360h0M2463 1311h0M2474 1304h0M2483 1326h0M2479 1294h0M2345 645h0M2334 660h0M2433 645h0M2437 643h0M2437 652h0M2605 1455h0M2587 1471h0M2632 1540h0M2377 966h0M2374 961h0M2359 987h0M2379 973h0M2617 1457h0M2591 1467h0M2607 1474h0M2592 1471h0M2512 926h0M2506 903h0M2497 913h0M2504 933h0M2549 740h0M2400 1069h0M2397 1072h0M2384 1067h0M2356 952h0M2377 945h0M2592 1471h0M2592 1468h0M2586 1505h0M2663 1579h0M2672 1571h0M2503 1164h0M2529 1194h0M2551 1195h0M2558 1437h0M2681 1451h0M2672 1466h0M2685 1446h0M2425 1242h0M2402 1251h0M2608 1449h0M2628 1460h0M2608 1456h0M2604 1476h0M2751 1518h0M2515 1095h0M2561 997h0M2529 1016h0M2528 1381h0M2538 1402h0M2543 1402h0M2347 705h0M2310 705h0M2329 710h0M2632 1470h0M2643 1467h0M2636 1469h0M2513 939h0M2719 1462h0M2719 1457h0M2710 1455h0M2421 1156h0M2430 1148h0M2437 1159h0M2507 1191h0M2536 1209h0M2529 1355h0M2536 1347h0M2382 1095h0M2400 1067h0M2461 1136h0M2455 1134h0M2454 1126h0M2387 955h0M2409 959h0M2398 953h0M2403 962h0M2393 961h0M2336 587h0M2344 598h0M2341 582h0M2452 712h0M2442 723h0M2448 723h0M2443 1249h0M2434 1245h0M2305 662h0M2302 643h0M2465 511h0M2476 511h0M2457 504h0M2466 509h0M2468 513h0M2584 1428h0M2590 1443h0M2616 1491h0M2610 1476h0M2614 1474h0M2462 469h0M2471 465h0M2445 736h0M2429 716h0M2416 710h0M2439 731h0M2432 1222h0M2421 1210h0M2529 1118h0M2532 1133h0M2522 1134h0M2345 799h0M2341 801h0M2342 786h0M2479 1352h0M2523 1348h0M2508 487h0M2470 640h0M2477 651h0M2520 1334h0M2528 1330h0M2469 903h0M2470 902h0M2345 697h0M2508 536h0M2499 547h0M2510 539h0M2578 1497h0M2565 1514h0M2543 1277h0M2552 1282h0M2548 1282h0M2555 1273h0M2548 1098h0M2367 903h0M2355 896h0M2359 898h0M2588 1369h0M2594 1366h0M2615 1309h0M2604 1317h0M2608 1310h0M2688 1540h0M2581 1357h0M2570 1354h0M2580 1222h0M2543 1256h0M2559 1242h0M2371 817h0M2369 820h0M2397 807h0M2393 806h0M2385 796h0M2543 909h0M2546 918h0M2548 925h0M2544 905h0M2546 881h0M2436 601h0M2413 623h0M2745 1477h0M2752 1475h0M2459 725h0M2435 735h0M2449 733h0M2375 546h0M2383 541h0M2400 518h0M2400 769h0M2393 757h0M2390 757h0M2551 1265h0M2541 1263h0M2542 1262h0M2551 1261h0M2604 1293h0M2507 1184h0M2507 1186h0M2536 1255h0M2532 1234h0M2519 1424h0M2517 1412h0M2506 1426h0M2612 1459h0M2614 1469h0M2540 1296h0M2544 1269h0M2543 1270h0M2514 1304h0M2511 1291h0M2394 987h0M2397 983h0M2396 997h0M2484 1334h0M2458 759h0M2586 1466h0M2600 1471h0M2596 1458h0M2350 918h0M2349 898h0M2629 1328h0M2492 1303h0M2480 1302h0M2496 1301h0M2503 481h0M2304 731h0M2283 721h0M2760 1547h0M2763 1542h0M2760 1533h0M2548 1138h0M2650 1471h0M2663 1472h0M2663 1477h0M2541 1373h0M2544 1381h0M2343 895h0M2347 912h0M2364 905h0M2604 1498h0M2592 1502h0M2465 1298h0M2479 1301h0M2661 1488h0M2675 1472h0M2686 1479h0M2702 1467h0M2692 1460h0M2693 1475h0M2682 1518h0M2685 1512h0M2510 1383h0M2507 1370h0M2511 1364h0M2511 752h0M2499 751h0M2456 1204h0M2458 1182h0M2467 1200h0M2426 806h0M2421 818h0M2460 822h0M2539 1457h0M2542 1455h0M2342 601h0M2357 573h0M2561 1157h0M2529 1153h0M2536 1157h0M2700 1461h0M2691 1446h0M2699 1477h0M2693 1460h0M2655 1389h0M2658 1379h0M2565 1265h0M2561 1259h0M2549 1084h0M2554 1090h0M2468 1164h0M2370 1057h0M2366 1078h0M2384 1036h0M2374 1048h0M2385 1032h0M2517 794h0M2514 798h0M2500 796h0M2471 631h0M2462 632h0M2464 644h0M2505 1221h0M2523 1231h0M2507 1232h0M2337 983h0M2347 987h0M2347 973h0M2354 978h0M2652 1497h0M2668 1490h0M2661 1502h0M2386 521h0M2390 534h0M2374 544h0M2404 932h0M2415 937h0M2472 819h0M2467 813h0M2463 818h0M2527 695h0M2507 678h0M2498 1154h0M2499 1176h0M2495 1165h0M2517 1174h0M2345 665h0M2336 665h0M2331 662h0M2335 666h0M2361 782h0M2349 777h0M2424 871h0M2434 870h0M2427 850h0M2766 1487h0M2743 1490h0M2456 1376h0M2482 1346h0M2476 1362h0M2467 1353h0M2714 1472h0M2710 1470h0M2710 1474h0M2727 1452h0M2604 1532h0M2606 1537h0M2464 622h0M2458 638h0M2460 647h0M2470 626h0M2533 1094h0M2531 1105h0M2547 1102h0M2442 827h0M2428 839h0M2374 773h0M2390 759h0M2561 1087h0M2556 1062h0M2563 1084h0M2470 698h0M2460 713h0M2478 1181h0M2479 1163h0M2425 1215h0M2426 1227h0M2528 1147h0M2527 1139h0M2524 1141h0M2379 1047h0M2381 1057h0M2378 1049h0M2396 763h0M2393 751h0M2390 765h0M2367 592h0M2368 620h0M2330 845h0M2322 834h0M2323 846h0M2461 1073h0M2451 1048h0M2448 1048h0M2387 520h0M2377 535h0M2357 1043h0M2364 1041h0M2685 1516h0M2684 1528h0M2761 1566h0M2753 1559h0M2347 955h0M2341 954h0M2287 664h0M2295 638h0M2521 1367h0M2503 1331h0M2562 1334h0M2577 1322h0M2570 1327h0M2455 925h0M2445 914h0M2532 1308h0M2516 1310h0M2586 1263h0M2588 1275h0M2659 1395h0M2517 1440h0M2527 1444h0M2632 1544h0M2637 1555h0M2645 1546h0M2643 1550h0M2407 941h0M2397 950h0M2735 1516h0M2733 1503h0M2731 1521h0M2571 1426h0M2556 1412h0M2539 983h0M2647 1537h0M2655 1530h0M2473 822h0M2462 1216h0M2336 559h0M2327 538h0M2325 538h0M2341 916h0M2624 1484h0M2641 1495h0M2378 1115h0M2394 1122h0M2401 1127h0M2393 1117h0M2450 1096h0M2446 1131h0M2436 1103h0M2537 770h0M2556 753h0M2552 1262h0M2562 1284h0M2553 1275h0M2431 447h0M2640 1355h0M2649 1365h0M2412 1163h0M2716 1536h0M2720 1535h0M2713 1538h0M2711 1548h0M2375 1021h0M2593 1341h0M2591 1353h0M2571 1325h0M2582 1322h0M2600 1316h0M2447 998h0M2424 1000h0M2439 1008h0M2501 1218h0M2386 865h0M2379 848h0M2701 1499h0M2686 1522h0M2704 1495h0M2689 1497h0M2543 1254h0M2539 1252h0M2481 1023h0M2490 1023h0M2484 1022h0M2470 1026h0M2430 644h0M2397 1068h0M2382 1067h0M2405 965h0M2530 828h0M2547 830h0M2536 1430h0M2513 1437h0M2517 1437h0M2521 733h0M2510 704h0M2509 731h0M2523 794h0M2350 642h0M2364 652h0M2592 1413h0M2581 1425h0M2455 1229h0M2459 1237h0M2459 1216h0M2736 1520h0M2716 1504h0M2720 1520h0M2354 673h0M2347 672h0M2338 797h0M2502 659h0M2479 661h0M2521 667h0M2510 668h0M2580 1486h0M2584 1478h0M2513 926h0M2734 1497h0M2753 1516h0M2660 1408h0M2658 1409h0M2670 1420h0M2529 1082h0M2557 1095h0M2548 1101h0M2668 1409h0M2674 1425h0M2501 1140h0M2537 1141h0M2511 1153h0M2426 671h0M2434 678h0M2420 675h0M2417 668h0M2470 729h0M2468 727h0M2464 712h0M2457 1098h0M2468 1079h0M2454 1088h0M2518 801h0M2485 805h0M2415 1160h0M2434 1150h0M2433 1146h0M2473 1244h0M2478 1241h0M2702 1389h0M2675 1411h0M2675 1512h0M2742 1454h0M2743 1471h0M2753 1492h0M2751 1469h0M2470 495h0M2466 488h0M2739 1523h0M2744 1541h0M2739 1544h0M2548 972h0M2543 974h0M2543 977h0M2470 1347h0M2496 1144h0M2486 1147h0M2477 1143h0M2498 1151h0M2495 554h0M2503 553h0M2756 1467h0M2792 1527h0M2758 1519h0M2793 1545h0M2508 946h0M2497 935h0M2499 937h0M2327 722h0M2285 734h0M2570 1408h0M2571 1412h0M2568 1396h0M2353 545h0M2358 538h0M2352 564h0M2373 597h0M2357 595h0M2435 1152h0M2444 1152h0M2422 1147h0M2419 1177h0M2415 1186h0M2454 1056h0M2462 1077h0M2455 1059h0M2749 1559h0M2755 1555h0M2768 1569h0M2742 1564h0M2565 1498h0M2566 1484h0M2468 999h0M2479 993h0M2637 1305h0M2631 1357h0M2595 1440h0M2609 1444h0M2484 698h0M2492 712h0M2483 709h0M2469 730h0M2478 696h0M2505 658h0M2439 551h0M2427 551h0M2455 545h0M2467 544h0M2460 1188h0M2439 1182h0M2394 605h0M2382 609h0M2420 612h0M2371 1001h0M2382 983h0M2716 1489h0M2547 1381h0M2541 1386h0M2479 914h0M2485 931h0M2481 905h0M2322 861h0M2350 866h0M2339 863h0M2464 694h0M2466 717h0M2777 1539h0M2769 1546h0M2784 1541h0M2333 666h0M2339 668h0M2526 1361h0M2528 1357h0M2517 1339h0M2523 1352h0M2606 1406h0M2604 1404h0M2722 1515h0M2729 1522h0M2523 1055h0M2635 1537h0M2642 1527h0M2637 1519h0M2320 608h0M2311 602h0M2313 612h0M2450 547h0M2579 1270h0M2572 1401h0M2572 1377h0M2583 1386h0M2575 1396h0M2434 1009h0M2438 1273h0M2439 1269h0M2432 1269h0M2461 1181h0M2472 1164h0M2451 1170h0M2339 897h0M2350 872h0M2345 886h0M2423 1253h0M2427 1243h0M2366 727h0M2533 848h0M2534 858h0M2643 1490h0M2626 1483h0M2396 1154h0M2404 1162h0M2439 1147h0M2424 1151h0M2520 844h0M2452 1298h0M2302 705h0M2516 1356h0M2504 1367h0M2332 968h0M2323 976h0M2545 1200h0M2555 1201h0M2564 1217h0M2462 916h0M2461 920h0M2673 1525h0M2676 1518h0M2748 1491h0M2743 1482h0M2750 1492h0M2684 1456h0M2678 1451h0M2680 1457h0M2678 1459h0M2510 1139h0M2499 1140h0M2510 1142h0M2739 1544h0M2740 1551h0M2734 1545h0M2733 1530h0M2722 1551h0M2339 815h0M2366 832h0M2350 831h0M2497 916h0M2490 920h0M2445 594h0M2454 605h0M2373 674h0M2364 677h0M2363 685h0M2362 680h0M2389 1123h0M2382 1106h0M2546 1315h0M2518 1278h0M2521 1300h0M2525 1279h0M2415 1122h0M2425 1130h0M2410 1115h0M2630 1417h0M2525 473h0M2490 478h0M2520 903h0M2520 889h0M2525 906h0M2362 960h0M2355 947h0M2366 962h0M2562 1149h0M2533 1155h0M2530 1157h0M2591 1429h0M2592 1426h0M2583 1421h0M2748 1512h0M2748 1553h0M2747 1539h0M2429 1034h0M2433 1054h0M2670 1528h0M2676 1530h0M2689 1540h0M2683 1541h0M2453 1050h0M2459 1044h0M2659 1421h0M2524 685h0M2533 693h0M2524 697h0M2317 588h0M2330 586h0M2310 585h0M2501 581h0M2505 588h0M2508 589h0M2529 584h0M2428 907h0M2448 916h0M2611 1426h0M2612 1417h0M2619 1442h0M2617 1445h0M2407 892h0M2396 877h0M2385 878h0M2311 861h0M2323 865h0M2317 871h0M2313 865h0M2596 1445h0M2551 1407h0M2552 1414h0M2767 1532h0M2744 1524h0M2748 1522h0M2608 1541h0M2616 1543h0M2621 1544h0M2441 463h0M2431 465h0M2428 486h0M2343 835h0M2346 830h0M2346 831h0M2341 1020h0M2360 1024h0M2344 1016h0M2515 1421h0M2524 1415h0M2517 1425h0M2504 1428h0M2534 845h0M2547 852h0M2550 861h0M2553 845h0M2528 1331h0M2527 1352h0M2517 1327h0M2397 984h0M2402 1006h0M2411 988h0M2409 996h0M2774 1500h0M2776 1499h0M2332 852h0M2324 844h0M2324 849h0M2373 951h0M2345 957h0M2347 948h0M2359 945h0M2487 1352h0M2503 1350h0M2495 1339h0M2501 1342h0M2508 881h0M2503 886h0M2341 804h0M2554 1134h0M2553 1113h0M2519 996h0M2506 1001h0M2521 998h0M2529 999h0M2397 1095h0M2407 1095h0M2418 1083h0M2305 876h0M2751 1558h0M2355 793h0M2349 792h0M2349 797h0M2354 803h0M2481 667h0M2728 1518h0M2727 1530h0M2720 1547h0M2602 1527h0M2391 1071h0M2425 1074h0M2422 1077h0M2445 966h0M2453 976h0M2431 957h0M2485 964h0M2484 963h0M2488 959h0M2452 516h0M2456 515h0M2432 668h0M2514 1224h0M2521 1244h0M2505 1224h0M2594 1527h0M2495 1112h0M2515 1124h0M2726 1501h0M2663 1549h0M2675 1520h0M2669 1536h0M2310 793h0M2310 805h0M2306 808h0M2673 1390h0M2654 1388h0M2665 1387h0M2482 769h0M2513 783h0M2331 742h0M2325 726h0M2732 1537h0M2720 1545h0M2716 1539h0M2710 1534h0M2718 1526h0M2676 1483h0M2669 1469h0M2346 721h0M2348 707h0M2347 714h0M2572 1238h0M2574 1235h0M2590 1236h0M2443 1265h0M2452 1270h0M2443 1271h0M2440 1273h0M2457 1279h0M2515 1179h0M2491 1168h0M2502 1172h0M2464 933h0M2461 921h0M2470 920h0M2726 1524h0M2729 1512h0M2722 1507h0M2432 597h0M2416 1028h0M2410 1017h0M2408 1013h0M2400 1117h0M2414 1117h0M2402 1133h0M2450 657h0M2446 659h0M2458 801h0M2436 786h0M2506 1235h0M2503 1230h0M2339 918h0M2686 1522h0M2699 1519h0M2667 1510h0M2694 1518h0M2493 1063h0M2470 1050h0M2473 1060h0M2607 1312h0M2643 1309h0M2398 546h0M2405 534h0M2406 526h0M2634 1459h0M2279 780h0M2535 1109h0M2518 1112h0M2424 1064h0M2426 1084h0M2428 1063h0M2508 960h0M2503 977h0M2521 971h0M2578 1390h0M2586 1378h0M2576 1398h0M2580 1389h0M2716 1500h0M2708 1516h0M2689 1507h0M2562 1211h0M2532 1203h0M2558 1203h0M2514 454h0M2478 465h0M2380 905h0M2383 908h0M2375 900h0M2704 1444h0M2675 1453h0M2479 1262h0M2482 1256h0M2469 1235h0M2508 765h0M2526 759h0M2504 1293h0M2477 1269h0M2538 682h0M2624 1359h0M2624 1363h0M2618 1373h0M2623 1367h0M2396 801h0M2392 800h0M2390 775h0M2418 748h0M2416 756h0M2416 760h0M2407 766h0M2614 1444h0M2408 604h0M2413 620h0M2400 639h0M2414 606h0M2575 1393h0M2600 1378h0M2442 764h0M2318 718h0M2314 705h0M2342 732h0M2782 1541h0M2765 1522h0M2445 537h0M2448 540h0M2448 538h0M2554 1418h0M2576 1406h0M2384 1025h0M2399 1029h0M2539 1360h0M2535 1379h0M2539 1370h0M2525 1220h0M2535 1202h0M2558 1080h0M2409 1109h0M2416 1114h0M2374 1127h0M2456 723h0M2440 748h0M2443 740h0M2515 601h0M2499 606h0M2720 1528h0M2727 1544h0M2433 455h0M2436 465h0M2480 1078h0M2492 1069h0M2533 1036h0M2527 852h0M2533 863h0M2528 870h0M2702 1464h0M2701 1474h0M2598 1495h0M2590 1504h0M2355 1016h0M2370 1014h0M2380 883h0M2373 881h0M2374 883h0M2413 1057h0M2411 1058h0M2497 1310h0M2504 1301h0M2507 1308h0M2499 1309h0M2358 845h0M2365 855h0M2363 859h0M2368 851h0M2456 715h0M2443 693h0M2443 704h0M2443 699h0M2382 1103h0M2383 1112h0M2400 1087h0M2559 1076h0M2353 954h0M2337 962h0M2344 980h0M2605 1430h0M2304 896h0M2315 887h0M2430 776h0M2435 1127h0M2617 1365h0M2609 1366h0M2595 1370h0M2611 1367h0M2349 848h0M2343 853h0M2336 848h0M2367 955h0M2371 962h0M2460 1130h0M2451 1140h0M2467 1132h0M2468 624h0M2521 626h0M2512 942h0M2511 937h0M2504 951h0M2562 1235h0M2551 1237h0M2556 1218h0M2363 876h0M2367 886h0M2388 872h0M2473 1329h0M2463 1340h0M2377 1140h0M2383 1151h0M2377 977h0M2628 1409h0M2403 1168h0M2400 1161h0M2406 1168h0M2399 1169h0M2445 640h0M2459 635h0M2523 717h0M2554 721h0M2543 713h0M2528 712h0M2574 1473h0M2577 1467h0M2396 530h0M2541 1212h0M2509 1036h0M2516 1012h0M2543 1012h0M2534 1013h0M2590 1285h0M2420 1039h0M2429 1038h0M2421 1034h0M2532 733h0M2531 722h0M2523 985h0M2524 984h0M2527 989h0M2540 1465h0M2531 1485h0M2353 856h0M2377 860h0M2381 864h0M2696 1512h0M2700 1509h0M2701 1518h0M2675 1510h0M2638 1379h0M2628 1376h0M2659 1435h0M2649 1441h0M2402 966h0M2402 936h0M2392 946h0M2422 1015h0M2431 1004h0M2502 1326h0M2510 1331h0M2502 1334h0M2438 1057h0M2420 1072h0M2466 1214h0M2505 920h0M2510 908h0M2493 918h0M2354 1011h0M2345 1021h0M2356 1019h0M2585 1384h0M2588 1381h0M2323 646h0M2332 645h0M2354 655h0M2651 1512h0M2702 1500h0M2686 1499h0M2448 1195h0M2411 946h0M2689 1496h0M2687 1479h0M2694 1500h0M2384 752h0M2381 754h0M2389 762h0M2405 922h0M2476 823h0M2473 850h0M2636 1426h0M2410 1000h0M2404 984h0M2623 1401h0M2554 1426h0M2535 1408h0M2665 1407h0M2671 1423h0M2496 1188h0M2532 1181h0M2510 1193h0M2299 689h0M2290 682h0M2600 1319h0M2600 1320h0M2521 1202h0M2531 1190h0M2529 1195h0M2474 979h0M2475 986h0M2476 984h0M2515 935h0M2493 939h0M2500 953h0M2486 955h0M2757 1554h0M2762 1557h0M2419 525h0M2441 498h0M2432 517h0M2461 991h0M2460 994h0M2454 1000h0M2456 982h0M2421 907h0M2416 931h0M2467 1235h0M2457 1237h0M2465 1218h0M2321 642h0M2309 633h0M2288 656h0M2472 1325h0M2481 1335h0M2460 1323h0M2460 1326h0M2540 1244h0M2362 846h0M2481 519h0M2697 1479h0M2709 1482h0M2777 1523h0M2770 1508h0M2513 1055h0M2472 1030h0M2755 1553h0M2763 1559h0M2310 878h0M2317 883h0M2534 1230h0M2504 1242h0M2507 1237h0M2507 1235h0M2465 1041h0M2477 1049h0M2483 1062h0M2464 1050h0M2481 1043h0M2562 1392h0M2567 1413h0M2571 1413h0M2541 1421h0M2597 1429h0M2609 1442h0M2606 1442h0M2745 1542h0M2711 1527h0M2730 1530h0M2538 855h0M2523 862h0M2544 850h0M2533 846h0M2501 1246h0M2493 1248h0M2512 1213h0M2508 1202h0M2444 1197h0M2439 1191h0M2303 762h0M2306 759h0M2427 1090h0M2410 1095h0M2425 1098h0M2522 1177h0M2511 1170h0M2504 1170h0M2434 967h0M2436 981h0M2444 958h0M2517 1252h0M2414 908h0M2420 912h0M2473 527h0M2463 514h0M2455 506h0M2342 601h0M2322 613h0M2365 595h0M3177 884h0M3129 882h0M3165 866h0M3140 877h0M3160 869h0M3136 868h0M3159 880h0M3128 861h0M3152 871h0M3140 869h0M3152 877h0M3126 876h0M3128 855h0M3134 845h0M3133 870h0M3120 880h0M3136 885h0M3137 879h0M3158 887h0M3120 873h0M3164 863h0M3152 868h0M3157 872h0M3141 867h0M3122 884h0M3152 871h0M3156 867h0M3154 873h0M3111 860h0M3138 877h0M3167 865h0M3152 863h0M3163 881h0M3158 860h0M3148 880h0M3141 876h0M3133 879h0M3167 860h0M3115 854h0M3125 867h0M3134 859h0M3143 866h0M3138 857h0M3132 885h0M3162 865h0M2428 446h0M2449 507h0M2456 419h0M2495 479h0M2485 468h0M2491 433h0M2408 526h0M2493 453h0M2470 517h0M2465 456h0M2407 485h0M2419 464h0M2475 462h0M2459 530h0M2498 430h0M2414 429h0M2457 516h0M2428 476h0M2487 486h0M2498 459h0M2484 518h0M2474 519h0M2470 443h0M2445 525h0M2466 521h0" stroke="#E38900" stroke-width="11.5"/>
<path d="M2301 1273h0M2289 1289h0M2226 1225h0M2204 1252h0M2228 1270h0M2205 1268h0M2206 1266h0M2237 1264h0M2212 1266h0M2130 884h0M2119 882h0M2121 874h0M2137 885h0M2104 874h0M2142 896h0M2282 1131h0M2264 1139h0M2093 1179h0M2114 1179h0M2115 1194h0M2092 1180h0M2114 1182h0M2267 1310h0M2271 1302h0M2274 1300h0M2263 1312h0M2157 1372h0M2159 1357h0M2159 1371h0M2177 1387h0M2166 1363h0M2160 1373h0M2254 1347h0M2246 1363h0M2273 1326h0M2166 1156h0M2184 1145h0M2183 1150h0M2197 1120h0M2192 1138h0M2198 1131h0M2194 1391h0M2212 1390h0M2193 1389h0M2038 941h0M2080 1146h0M2060 1129h0M2080 856h0M2069 865h0M2071 858h0M2065 846h0M2086 868h0M2070 860h0M2109 891h0M2286 1322h0M2297 1319h0M2297 1326h0M2091 972h0M2097 985h0M2089 981h0M2083 977h0M2116 988h0M2108 985h0M2107 1009h0M2112 1003h0M2113 990h0M2115 1012h0M2102 1002h0M2109 1003h0M2086 1243h0M2086 1243h0M2099 1227h0M2087 1244h0M2246 1366h0M2251 1388h0M2244 1376h0M2245 1370h0M2092 1313h0M2095 1278h0M2097 1294h0M2100 1283h0M2228 1217h0M2214 1269h0M2221 1245h0M2219 1240h0M2227 1236h0M2224 1248h0M2225 1231h0M2042 1073h0M2035 1082h0M2037 1097h0M2034 1080h0M2034 1058h0M2033 1088h0M2233 1231h0M2235 1241h0M2242 1242h0M2261 1139h0M2252 1138h0M2265 1136h0M2260 1139h0M2245 1141h0M2129 1113h0M2125 1093h0M2128 1096h0M2126 1098h0M2056 1251h0M2061 1252h0M2058 1259h0M2055 1260h0M2077 1233h0M2059 1263h0M2212 1438h0M2246 1442h0M2225 1441h0M2089 885h0M2106 876h0M2098 884h0M2112 881h0M2106 876h0M2131 1334h0M2141 1327h0M2144 1327h0M2142 1327h0M2067 1080h0M2080 1070h0M2073 1080h0M2072 1061h0M2069 1067h0M2250 1087h0M2270 1113h0M2242 1089h0M2247 1079h0M2263 1115h0M2260 1103h0M2258 1094h0M2202 1154h0M2175 1147h0M2176 1141h0M2190 1154h0M2184 1144h0M2202 1390h0M2203 1379h0M2198 1371h0M2163 1349h0M2172 1341h0M2177 1332h0M2263 1268h0M2253 1254h0M2269 1279h0M2237 1253h0M2160 1394h0M2164 1405h0M2141 1399h0M2162 1398h0M2163 1399h0M2173 1400h0M2157 1397h0M2232 1415h0M2234 1425h0M2207 1424h0M2224 1416h0M2246 1188h0M2246 1190h0M2263 1169h0M2234 1184h0M2229 1187h0M2251 1191h0M2243 1193h0M2243 1187h0M2241 1182h0M2260 1116h0M2253 1112h0M2257 1120h0M2245 1110h0M2238 1102h0M2097 1115h0M2094 1079h0M2100 1092h0M2104 1086h0M2113 1374h0M2133 1356h0M2116 1367h0M2134 1332h0M2132 1362h0M2310 1133h0M2288 1124h0M2217 1343h0M2221 1349h0M2222 1349h0M2234 1343h0M2213 1343h0M2277 1305h0M2268 1300h0M2259 1280h0M2273 1286h0M2258 1299h0M2218 1396h0M2215 1405h0M2202 1395h0M2216 1398h0M2072 1094h0M2062 1089h0M2063 1097h0M2064 1093h0M2057 1087h0M2185 1178h0M2199 1188h0M2196 1192h0M2203 1191h0M2188 1176h0M2187 1175h0M2282 1368h0M2290 1364h0M2270 1368h0M2293 1367h0M2274 1375h0M2274 1369h0M2264 1307h0M2257 1306h0M2263 1305h0M2285 1280h0M2289 1278h0M2226 1129h0M2216 1132h0M2226 1131h0M2230 1101h0M2223 1113h0M2230 1117h0M2227 1119h0M2142 1402h0M2145 1405h0M2124 1390h0M2145 1410h0M2144 1405h0M2136 1409h0M2149 1415h0M2149 1399h0M2243 1031h0M2252 1029h0M2246 1028h0M2238 1029h0M2245 1023h0M2238 1020h0M2129 1370h0M2111 1368h0M2126 1367h0M2127 1368h0M2130 1378h0M2130 1365h0M2210 1380h0M2216 1379h0M2202 1381h0M2218 1356h0M2223 1366h0M2080 1150h0M2084 1144h0M2214 1427h0M2216 1423h0M2196 1421h0M2224 1424h0M2209 1419h0M2187 1196h0M2183 1191h0M2181 1202h0M2097 1028h0M2072 1039h0M2080 1025h0M2074 1041h0M2083 1030h0M2074 1041h0M2077 1043h0M2089 1023h0M2181 1266h0M2183 1262h0M2180 1287h0M2175 1271h0M2106 1258h0M2116 1270h0M2107 1260h0M2103 1258h0M2074 880h0M2032 896h0M2048 883h0M2042 881h0M2197 1271h0M2198 1272h0M2221 1277h0M2180 1172h0M2181 1179h0M2181 1175h0M2168 1187h0M2170 1166h0M2071 1119h0M2071 1135h0M2074 1141h0M2059 1137h0M2110 1227h0M2120 1236h0M2128 1241h0M2242 1395h0M2264 1399h0M2283 1388h0M2257 1407h0M2256 1393h0M2167 1398h0M2187 1389h0M2170 1400h0M2113 1093h0M2096 1101h0M2116 1098h0M2051 896h0M2036 916h0M2041 920h0M2043 920h0M2306 1340h0M2286 1348h0M2287 1348h0M2284 1359h0M2288 1360h0M2286 1350h0M2245 1440h0M2250 1452h0M2248 1437h0M2254 1438h0M2231 1447h0M2243 1450h0M2239 1442h0M2245 1053h0M2256 1078h0M2259 1064h0M2260 1080h0M2137 1142h0M2151 1141h0M2133 1136h0M2138 1149h0M2139 1146h0M2162 1154h0M2003 1098h0M2059 1119h0M2258 1337h0M2250 1341h0M2237 1333h0M2236 1341h0M2279 1345h0M2276 1338h0M2299 1334h0M2303 1339h0M2244 1187h0M2264 1184h0M2265 1163h0M2280 1168h0M2261 1170h0M2287 1165h0M2091 1260h0M2092 1242h0M2092 1247h0M2254 1240h0M2253 1223h0M2259 1226h0M2272 1236h0M2133 1338h0M2105 1341h0M2104 1338h0M2115 1345h0M2210 1349h0M2214 1347h0M2225 1342h0M2221 1345h0M2208 1359h0M2204 1356h0M2214 1350h0M2196 1245h0M2200 1246h0M2197 1228h0M2196 1236h0M2196 1230h0M2200 1250h0M2191 1248h0M2251 1336h0M2249 1353h0M2244 1341h0M2262 1336h0M2246 1343h0M2075 1057h0M2072 1070h0M2061 1042h0M2074 1053h0M2072 1059h0M2083 1023h0M2266 1369h0M2242 1367h0M2252 1370h0M2268 1380h0M2254 1359h0M2241 1356h0M2225 1313h0M2217 1306h0M2225 1301h0M2222 1280h0M2238 1274h0M2232 1276h0M2237 1281h0M2245 1281h0M2236 1285h0M2255 1439h0M2255 1434h0M2266 1435h0M2138 1374h0M2141 1371h0M2135 1371h0M2248 1162h0M2225 1168h0M2236 1179h0M2245 1165h0M2226 1173h0M2246 1169h0M2240 1176h0M2068 1132h0M2056 1135h0M2074 1147h0M2078 1138h0M2252 1190h0M2246 1194h0M2246 1194h0M2121 1294h0M2121 1294h0M2116 1287h0M2123 1281h0M2127 1291h0M2119 1288h0M2132 1282h0M2268 1285h0M2279 1286h0M2290 1294h0M2291 1285h0M2291 1289h0M2137 1206h0M2190 1211h0M2193 1182h0M2186 1185h0M2141 1196h0M2128 1180h0M2146 1188h0M2129 1184h0M2117 1186h0M2120 1097h0M2120 1115h0M2108 1099h0M2134 1117h0M2130 1123h0M2107 1096h0M2046 1199h0M2083 1234h0M2079 1241h0M2082 1226h0M2085 1222h0M2168 1094h0M2159 1111h0M2151 1091h0M2080 1158h0M2075 1157h0M2080 1172h0M2085 1159h0M2082 1172h0M2071 1141h0M2078 1148h0M2254 1087h0M2244 1097h0M2231 1092h0M2251 1096h0M2231 1417h0M2232 1437h0M2230 1438h0M2263 1371h0M2266 1371h0M2065 1129h0M2077 1128h0M2148 1411h0M2169 1410h0M2171 1411h0M2165 1410h0M2181 1400h0M2154 1420h0M2206 1279h0M2217 1298h0M2209 1293h0M2202 1290h0M2203 1274h0M2180 1199h0M2193 1187h0M2195 1175h0M2193 1191h0M2169 1208h0M2176 1218h0M2154 1230h0M2152 1228h0M2184 1216h0M2290 1170h0M2288 1171h0M2302 1318h0M2310 1314h0M2315 1340h0M2323 1313h0M2317 1302h0M2313 1303h0M2069 1122h0M2055 1125h0M2067 1126h0M2059 1123h0M2126 1283h0M2160 1289h0M2205 1286h0M2192 1290h0M2215 1300h0M2223 1305h0M2219 1294h0M2226 1388h0M2216 1386h0M2229 1401h0M2206 1385h0M2095 1229h0M2103 1222h0M2096 1240h0M2092 1221h0M2098 1222h0M2093 1212h0M2171 1302h0M2179 1298h0M2166 1307h0M2141 1326h0M2158 1311h0M2049 1006h0M2058 1009h0M2041 1017h0M2055 1032h0M2058 1015h0M2148 1084h0M2172 1080h0M2153 1072h0M2153 1068h0M2128 1299h0M2114 1321h0M2109 1323h0M2124 1310h0M2212 1268h0M2205 1265h0M2217 1240h0M2192 1260h0M2219 1256h0M2144 1134h0M2143 1119h0M2140 1101h0M2140 1147h0M2206 1134h0M2231 1157h0M2205 1130h0M2211 1148h0M2191 1137h0M2190 1312h0M2192 1207h0M2176 1211h0M2200 1171h0M2201 1188h0M2202 1197h0M2190 1219h0M2189 1260h0M2176 1263h0M2175 1270h0M2184 1353h0M2183 1345h0M2171 1355h0M2164 1337h0M2300 1262h0M2294 1258h0M2300 1247h0M2246 1230h0M2242 1234h0M2254 1228h0M2249 1235h0M2248 1221h0M2148 1322h0M2144 1319h0M2143 1330h0M2140 1332h0M2139 1334h0M2139 1329h0M2314 1259h0M2329 1269h0M2332 1269h0M2337 1251h0M2314 1277h0M2198 1199h0M2221 1192h0M2048 947h0M2056 958h0M2056 976h0M2058 971h0M2244 1410h0M2244 1407h0M2248 1407h0M2261 1403h0M2242 1411h0M2257 1392h0M2236 1428h0M2236 1426h0M2222 1431h0M2100 1076h0M2107 1075h0M2101 1066h0M2098 1073h0M2102 1079h0M2242 1167h0M2232 1192h0M2246 1170h0M2254 1175h0M2121 1196h0M2118 1197h0M2095 1175h0M2129 1202h0M2130 1207h0M2119 1199h0M2196 1400h0M2190 1391h0M2184 1389h0M2183 1378h0M2145 1392h0M2136 1387h0M2130 1380h0M2130 1365h0M2107 921h0M2111 925h0M2108 910h0M2176 1466h0M2184 1466h0M2200 1464h0M2174 1468h0M2047 1195h0M2056 1186h0M2054 1191h0M2057 1186h0M2106 1022h0M2100 1022h0M2101 1019h0M2125 1324h0M2137 1332h0M2121 1332h0M2130 1318h0M2163 1259h0M2202 1266h0M2198 1257h0M2199 1268h0M2125 1301h0M2147 1276h0M2146 1292h0M2134 1300h0M2138 1290h0M2126 1308h0M2139 1286h0M2204 1167h0M2190 1147h0M2221 1163h0M2198 1156h0M2204 1159h0M2197 1149h0M2279 1370h0M2287 1359h0M2267 1387h0M2269 1261h0M2255 1262h0M2262 1262h0M2277 1253h0M2272 1255h0M2273 1257h0M2141 1233h0M2142 1235h0M2139 1229h0M2150 1243h0M2155 1240h0M2045 952h0M2034 954h0M2051 952h0M2115 1012h0M2113 1007h0M2142 1393h0M2141 1400h0M2141 1391h0M2155 1409h0M2241 1391h0M2243 1402h0M2262 1383h0M2253 1378h0M2323 1311h0M2311 1311h0M2317 1305h0M2309 1300h0M2213 1195h0M2199 1192h0M2213 1198h0M2285 1259h0M2205 1213h0M2199 1195h0M2202 1187h0M2267 1414h0M2248 1405h0M2256 1405h0M2151 1229h0M2159 1226h0M2113 1154h0M2104 1156h0M2111 1154h0M2098 1157h0M2122 1151h0M2114 1153h0M2121 1155h0M2164 1311h0M2158 1306h0M2169 1311h0M2186 1307h0M2170 1312h0M2255 1073h0M2267 1049h0M2269 1057h0M2270 1050h0M2270 1053h0M2275 1331h0M2279 1302h0M2169 1265h0M2136 1271h0M2153 1266h0M2147 1268h0M2168 1274h0M2267 1406h0M2250 1386h0M2231 1373h0M2224 1123h0M2228 1095h0M2213 1089h0M2218 1118h0M2155 1169h0M2168 1160h0M2194 1158h0M2147 1159h0M2236 1281h0M2256 1283h0M2246 1296h0M2226 1277h0M2232 1289h0M2224 1295h0M2250 1300h0M2249 1289h0M2103 971h0M2114 964h0M2103 979h0M2111 983h0M2162 1361h0M2142 1370h0M2220 1176h0M2211 1172h0M2213 1190h0M2230 1173h0M2228 1172h0M2222 1173h0M2233 1176h0M2222 1144h0M2225 1136h0M2212 1155h0M2204 1148h0M2243 1235h0M2237 1258h0M2231 1232h0M2237 1246h0M2231 1243h0M2232 1253h0M2176 1365h0M2179 1361h0M2179 1374h0M2175 1356h0M2176 1374h0M2230 1174h0M2230 1172h0M2233 1166h0M2233 1161h0M2123 1283h0M2144 1286h0M2126 1285h0M2155 1284h0M2130 1283h0M2127 1289h0M2211 1141h0M2100 1319h0M2103 1323h0M2109 1305h0M2111 1310h0M2060 888h0M2057 873h0M2066 864h0M2064 868h0M2063 893h0M2050 1203h0M2046 1208h0M2151 1310h0M2141 1312h0M2137 1313h0M2136 1314h0M2135 1312h0M2142 1317h0M2121 1309h0M2143 1305h0M2127 1311h0M2253 1242h0M2264 1234h0M2245 1239h0M2250 1242h0M2237 1249h0M2240 1235h0M2290 1350h0M2312 1331h0M2316 1342h0M2290 1347h0M2144 1155h0M2149 1166h0M2164 1168h0M2152 1306h0M2147 1320h0M2150 1306h0M2236 1141h0M2213 1140h0M2213 1146h0M2235 1127h0M2230 1129h0M2132 1323h0M2144 1312h0M2130 1329h0M2139 1306h0M2135 1314h0M2138 1305h0M2207 1215h0M2211 1234h0M2111 972h0M2107 977h0M2109 972h0M2103 952h0M2269 1201h0M2234 1185h0M2259 1205h0M2270 1211h0M2278 1229h0M2290 1212h0M2268 1250h0M2248 1149h0M2238 1166h0M2229 1146h0M2229 1157h0M2312 1246h0M2301 1250h0M2275 1269h0M2323 1251h0M2318 1231h0M2167 1139h0M2172 1132h0M2175 1128h0M2159 1127h0M2158 1140h0M2068 1259h0M2083 1255h0M2081 1241h0M2084 1239h0M2083 1251h0M2078 1257h0M2074 1246h0M2079 1184h0M2073 1184h0M2087 1188h0M2074 1205h0M2082 1186h0M2099 1179h0M2284 1242h0M2282 1237h0M2294 1248h0M2088 962h0M2084 961h0M2075 1067h0M2073 1074h0M2073 1072h0M2087 1056h0M2083 1064h0M2074 1088h0M2076 1080h0M2197 1334h0M2198 1347h0M2192 1355h0M2194 1330h0M2197 1338h0M2191 1344h0M2191 1344h0M2202 1324h0M2195 1338h0M2250 1326h0M2246 1322h0M2277 1334h0M2273 1337h0M2281 1314h0M2277 1316h0M2288 1319h0M2093 1154h0M2100 1172h0M2084 1163h0M2083 1170h0M2155 1329h0M2171 1332h0M2162 1328h0M2227 1302h0M2227 1255h0M2223 1260h0M2230 1268h0M2186 1327h0M2169 1342h0M2177 1348h0M2174 1345h0M2181 1317h0M2180 1337h0M2183 1336h0M2179 1332h0M2315 1216h0M2323 1219h0M2336 1223h0M2359 1220h0M2317 1213h0M2311 1215h0M2334 1211h0M2224 1430h0M2214 1429h0M2225 1439h0M2227 1440h0M2228 1433h0M2219 1439h0M2234 1185h0M2246 1181h0M2249 1176h0M2251 1164h0M2065 1277h0M2091 1268h0M2067 1269h0M2074 1267h0M2053 1283h0M2101 1260h0M2071 1269h0M2061 1273h0M2134 1314h0M2121 1316h0M2121 1308h0M2129 1321h0M2136 1318h0M2113 1320h0M2142 1315h0M2147 1321h0M2134 1311h0M2128 1225h0M2202 1327h0M2192 1344h0M2198 1329h0M2196 1336h0M2215 1326h0M2211 1333h0M2204 1337h0M2285 1222h0M2285 1220h0M2277 1230h0M2272 1219h0M2139 1182h0M2141 1182h0M2154 1174h0M2150 1179h0M2141 1165h0M2183 1337h0M2194 1313h0M2177 1332h0M2198 1326h0M2204 1328h0M2207 1318h0M2175 1405h0M2184 1414h0M2154 1410h0M2182 1420h0M2186 1406h0M2259 1250h0M2243 1255h0M2258 1262h0M2245 1261h0M2252 1256h0M2274 1246h0M2300 1213h0M2306 1223h0M2330 1221h0M2325 1208h0M2312 1221h0M2120 1302h0M2115 1294h0M2130 1297h0M2116 1297h0M2108 1291h0M2114 1309h0M2128 1303h0M2127 1289h0M2051 1201h0M2042 1164h0M2046 1144h0M2046 1146h0M2052 1161h0M2039 1164h0M2040 1173h0M2028 1162h0M2234 1094h0M2232 1100h0M2235 1103h0M2263 1411h0M2274 1430h0M2275 1411h0M2289 1430h0M2295 1443h0M2269 1422h0M2150 1112h0M2170 1120h0M2159 1131h0M2165 1129h0M2161 1418h0M2153 1406h0M2170 1416h0M2163 1416h0M2181 1421h0M2236 1449h0M2238 1442h0M2254 1445h0M2245 1453h0M2181 1319h0M2185 1319h0M2147 1107h0M2106 1091h0M2129 1107h0M2125 1091h0M2110 1079h0M2087 1257h0M2084 1258h0M2101 1265h0M2089 1254h0M2082 1249h0M2099 1247h0M2093 1255h0M2171 1141h0M2034 1011h0M2054 997h0M2048 1012h0M2051 1004h0M2301 1199h0M2233 1147h0M2229 1145h0M2237 1149h0M2260 1146h0M2240 1155h0M2172 1436h0M2193 1429h0M2178 1424h0M2203 1401h0M2221 1405h0M2213 1408h0M2211 1410h0M2219 1418h0M2201 1457h0M2194 1456h0M2187 1462h0M2187 1462h0M2195 1467h0M2237 1221h0M2228 1211h0M2225 1214h0M2227 1211h0M2195 1360h0M2190 1353h0M2184 1364h0M2191 1384h0M2190 1383h0M2196 1363h0M2191 1372h0M2074 1020h0M2085 1014h0M2074 1041h0M2207 1429h0M2194 1444h0M2200 1433h0M2201 1437h0M2228 1240h0M2226 1237h0M2233 1246h0M2110 1157h0M2124 1180h0M2120 1177h0M2114 1183h0M2277 1288h0M2257 1299h0M2266 1290h0M2064 902h0M2140 1204h0M2115 1212h0M2114 1218h0M2134 1215h0M2135 1213h0M2122 1224h0M2224 1285h0M2225 1312h0M2218 1292h0M2247 1090h0M2246 1075h0M2262 1104h0M2249 1073h0M2243 1078h0M2247 1096h0M2116 1242h0M2125 1235h0M2119 1231h0M2121 1237h0M2110 1188h0M2185 1454h0M2172 1445h0M2192 1441h0M2216 1412h0M2203 1430h0M2191 1412h0M2237 1077h0M2231 1072h0M2092 1201h0M2116 1220h0M2103 1221h0M2108 1213h0M2104 1234h0M2122 1242h0M2219 1429h0M2213 1421h0M2203 1423h0M2217 1406h0M2214 1422h0M2224 1438h0M2198 1157h0M2207 1152h0M2202 1169h0M2196 1162h0M2188 1173h0M2197 1165h0M2169 1169h0M2173 1341h0M2169 1339h0M2171 1342h0M2178 1341h0M2169 1348h0M2287 1322h0M2278 1314h0M2294 1322h0M2279 1322h0M2265 1331h0M2290 1328h0M2085 1091h0M2104 1110h0M2274 1198h0M2275 1187h0M2266 1185h0M2263 1198h0M2307 1279h0M2303 1277h0M2308 1273h0M2244 1337h0M2231 1339h0M2229 1324h0M2163 1056h0M2139 1084h0M2146 1109h0M2153 1087h0M2149 1072h0M2141 1056h0M2051 912h0M2045 912h0M2046 923h0M2048 920h0M2049 921h0M2302 1212h0M2304 1191h0M2300 1212h0M2296 1205h0M2058 990h0M2047 1000h0M2314 1329h0M2315 1335h0M2314 1330h0M2320 1328h0M2323 1334h0M2311 1324h0M2208 1220h0M2199 1223h0M2190 1219h0M2189 1216h0M2196 1225h0M2311 1317h0M2311 1293h0M2303 1305h0M2245 1153h0M2242 1158h0M2229 1145h0M2238 1147h0M2256 1178h0M2234 1133h0M2213 1196h0M2225 1198h0M2222 1217h0M2229 1192h0M2275 1238h0M2300 1241h0M2288 1242h0M2293 1237h0M2277 1108h0M2303 1092h0M2285 1101h0M2280 1113h0M2280 1110h0M2266 1125h0M2279 1110h0M2288 1104h0M2252 1230h0M2247 1227h0M2126 1066h0M2103 1078h0M2137 1034h0M2226 1248h0M2208 1115h0M2219 1105h0M2204 1123h0M2210 1113h0M2196 1140h0M2247 1289h0M2248 1281h0M2102 1287h0M2086 1272h0M2108 1301h0M2051 1045h0M2048 1032h0M2039 1014h0M2325 1297h0M2313 1279h0M2321 1274h0M2310 1274h0M2326 1275h0M2319 1273h0M2103 1247h0M2113 1251h0M2117 1262h0M2105 1246h0M2113 1242h0M2254 1130h0M2260 1127h0M2261 1134h0M2256 1123h0M2254 1117h0M2250 1152h0M2263 1132h0M2184 1451h0M2189 1450h0M2198 1432h0M2198 1444h0M2233 1059h0M2233 1069h0M2239 1062h0M2123 1267h0M2158 1243h0M2139 1261h0M2155 1246h0M2175 1227h0M2094 1287h0M2076 1283h0M2080 1278h0M2098 1275h0M2087 1289h0M2126 1043h0M2146 1035h0M2118 1037h0M2100 1029h0M2098 1218h0M2103 1229h0M2288 1243h0M2303 1233h0M2298 1243h0M2295 1235h0M2313 1225h0M2293 1245h0M2305 1238h0M2296 1240h0M2254 1337h0M2254 1330h0M2235 1322h0M2263 1342h0M2267 1343h0M2169 1188h0M2167 1221h0M2186 1194h0M2187 1197h0M2172 1168h0M2162 1157h0M2164 1167h0M2160 1160h0M2172 1161h0M2151 1160h0M2118 1284h0M2111 1277h0M2123 1295h0M2117 1276h0M2171 1365h0M2175 1362h0M2164 1383h0M2168 1362h0M2176 1363h0M2179 1424h0M2181 1428h0M2178 1425h0M2179 1422h0M2169 1433h0M2161 1436h0M2155 1408h0M2150 1422h0M2227 1127h0M2244 1113h0M2239 1117h0M2261 1085h0M2210 1337h0M2213 1385h0M2257 1325h0M2254 1323h0M2260 1327h0M2263 1340h0M2246 1327h0M2262 1066h0M2248 1075h0M2260 1064h0M2266 1073h0M2246 1319h0M2246 1317h0M2241 1324h0M2234 1333h0M2063 917h0M2065 905h0M2075 891h0M2075 892h0M2060 903h0M2056 910h0M2068 904h0M2071 892h0M2308 1361h0M2248 1126h0M2249 1114h0M2269 1133h0M2251 1127h0M2240 1120h0M2259 1116h0M2258 1113h0M2139 1384h0M2142 1364h0M2132 1338h0M2142 1342h0M2178 1418h0M2171 1417h0M2171 1411h0M2173 1418h0M2180 1325h0M2165 1319h0M2192 1314h0M2202 1227h0M2201 1201h0M2205 1223h0M2194 1221h0M2333 1304h0M2337 1300h0M2321 1282h0M2194 1313h0M2178 1324h0M2193 1325h0M2054 1178h0M2038 1201h0M2044 1186h0M2045 1187h0M2167 1270h0M2262 1313h0M2271 1307h0M2261 1329h0M2274 1320h0M2239 1320h0M2275 1310h0M2250 1319h0M2202 1475h0M2209 1465h0M2220 1476h0M2208 1463h0M2217 1483h0M2278 1379h0M2289 1370h0M2194 1211h0M2195 1226h0M2209 1223h0M2199 1222h0M2171 1213h0M2177 1201h0M2173 1222h0M2173 1240h0M2171 1226h0M2169 1234h0M2172 1223h0M2258 1135h0M2264 1136h0M2110 1328h0M2101 1332h0M2107 1307h0M2101 1341h0M2253 1348h0M2240 1322h0M2243 1343h0M2083 1077h0M2101 1072h0M2241 1399h0M2247 1409h0M2243 1389h0M2224 1396h0M2243 1407h0M2244 1397h0M2161 1372h0M2158 1365h0M2170 1365h0M2280 1068h0M2279 1074h0M2279 1074h0M2167 1323h0M2183 1319h0M2092 1285h0M2234 1061h0M2239 1053h0M2231 1059h0M2243 1041h0M2224 1068h0M2236 1044h0M2111 1080h0M2104 1082h0M2099 1081h0M2234 1152h0M2222 1160h0M2227 1157h0M2230 1155h0M2074 1002h0M2074 1005h0M2064 980h0M2064 992h0M2080 984h0M2072 999h0M2070 1004h0M2210 1339h0M2212 1351h0M2207 1358h0M2211 1341h0M2211 1346h0M2207 1349h0M2127 1320h0M2119 1300h0M2113 1303h0M2124 1317h0M2121 1318h0M2206 1434h0M2180 1427h0M2200 1440h0M2169 1424h0M2198 1446h0M2138 1148h0M2106 1148h0M2127 1160h0M2122 1155h0M2117 1154h0M2131 1142h0M2287 1341h0M2269 1356h0M2263 1350h0M2186 1317h0M2176 1347h0M2177 1342h0M2213 1287h0M2220 1286h0M2186 1284h0M2220 1288h0M2215 1293h0M2205 1281h0M2232 1431h0M2223 1438h0M2254 1434h0M2080 1195h0M2061 1214h0M2074 1204h0M2072 1203h0M2060 1208h0M2099 1270h0M2107 1281h0M2102 1262h0M2067 1145h0M2072 1142h0M2074 1145h0M2078 1140h0M2032 1050h0M2050 1066h0M2044 1051h0M2044 1075h0M2104 1038h0M2118 1050h0M2118 1050h0M2061 1182h0M2049 1179h0M2209 1319h0M2181 1313h0M2188 1308h0M2196 1312h0M2320 1131h0M2294 1121h0M2300 1131h0M2297 1132h0M2301 1136h0M2293 1130h0M2133 1381h0M2039 1009h0M2028 991h0M2037 1029h0M2025 1003h0M2034 1011h0M2068 1170h0M2066 1195h0M2067 1203h0M2060 1186h0M2070 1192h0M2060 1177h0M2064 1188h0M2100 866h0M2099 856h0M2109 867h0M2101 876h0M2139 1268h0M2144 1281h0M2049 975h0M2063 974h0M2077 953h0M2067 954h0M2212 1120h0M2223 1123h0M2220 1139h0M2201 1133h0M2211 1128h0M2228 1115h0M2238 1181h0M2247 1171h0M2264 1162h0M2242 1190h0M2283 1216h0M2271 1236h0M2277 1227h0M2277 1233h0M2255 1411h0M2272 1405h0M2269 1410h0M2267 1394h0M2268 1402h0M2275 1314h0M2265 1319h0M2253 1318h0M2277 1317h0M2272 1312h0M2043 913h0M2041 926h0M2027 913h0M2036 913h0M2040 903h0M2040 918h0M2049 918h0M2287 1234h0M2299 1232h0M2293 1240h0M2288 1245h0M2139 1366h0M2134 1353h0M2155 1363h0M2142 1358h0M2110 1363h0M2142 1369h0M2209 1305h0M2239 1297h0M2231 1297h0M2230 1305h0M2205 1311h0M2234 1304h0M2047 1081h0M2037 1070h0M2055 1097h0M2050 1097h0M2251 1303h0M2254 1306h0M2264 1292h0M2242 1308h0M2240 1309h0M2218 1310h0M2243 1307h0M2254 1306h0M2037 1073h0M2041 1082h0M2026 1084h0M2060 1062h0M2050 1076h0M2048 1076h0M2039 1080h0M2123 1033h0M2113 1030h0M2132 1024h0M2127 1022h0M2132 1035h0M2118 1036h0M2090 1245h0M2094 1246h0M2089 1242h0M2317 1307h0M2318 1293h0M2325 1289h0M2324 1283h0M2183 1407h0M2185 1403h0M2191 1378h0M2175 1414h0M2179 1381h0M2200 1433h0M2200 1427h0M2191 1429h0M2185 1419h0M2219 1173h0M2210 1191h0M2206 1192h0M2224 1166h0M2212 1185h0M2230 1175h0M2189 1345h0M2183 1344h0M2165 1333h0M2157 1334h0M2261 1370h0M2253 1414h0M2250 1394h0M2250 1371h0M2260 1381h0M2247 1412h0M2300 1292h0M2248 1205h0M2237 1187h0M2245 1181h0M2220 1372h0M2226 1366h0M2156 1409h0M2135 1436h0M2161 1415h0M2130 1420h0M2146 1425h0M2285 1093h0M2293 1085h0M2299 1105h0M2296 1163h0M2288 1146h0M2295 1155h0M2292 1148h0M2303 1147h0M2281 1195h0M2271 1193h0M2100 1320h0M2100 1324h0M2103 1335h0M2207 1298h0M2221 1315h0M2199 1303h0M2203 1420h0M2214 1414h0M2206 1408h0M2208 1426h0M2214 1421h0M2210 1428h0M2267 1366h0M2267 1377h0M2264 1372h0M2276 1374h0M2262 1180h0M2271 1195h0M2264 1177h0M2255 1195h0M2266 1180h0M2255 1189h0M2164 1155h0M2152 1137h0M2176 1145h0M2158 1145h0M2146 1141h0M2190 1160h0M2176 1161h0M2245 1392h0M2230 1386h0M2238 1389h0M2231 1383h0M2053 1029h0M2046 1026h0M2057 1035h0M2328 1220h0M2317 1227h0M2317 1235h0M2309 1250h0M2233 1248h0M2244 1248h0M2236 1239h0M2236 1249h0M2234 1254h0M2247 1261h0M2047 1215h0M2055 1229h0M2066 1221h0M2071 1218h0M2071 1215h0M2061 1221h0M2212 1265h0M2265 1406h0M2268 1410h0M2274 1407h0M2269 1402h0M2263 1043h0M2264 1032h0M2259 1041h0M2081 1281h0M2092 1282h0M2096 1300h0M2091 1298h0M2101 1299h0M2072 1082h0M2049 1063h0M2051 1070h0M2050 1068h0M2192 1354h0M2256 1385h0M2257 1384h0M2257 1385h0M2260 1392h0M2193 1141h0M2186 1145h0M2188 1141h0M2179 1133h0M2194 1157h0M2179 1123h0M2188 1126h0M2189 1136h0M2203 1150h0M2209 1145h0M2190 1144h0M2202 1148h0M2199 1148h0M2069 1209h0M2073 1221h0M2092 1221h0M2071 1197h0M2068 1209h0M2066 1216h0M2035 1140h0M2044 1148h0M2045 1146h0M2320 1348h0M2313 1350h0M2194 1438h0M2189 1421h0M2196 1417h0M2242 1184h0M2240 1182h0M2227 1180h0M2138 1131h0M2148 1142h0M2161 1146h0M2147 1138h0M2115 1314h0M2115 1311h0M2103 1322h0M2174 1425h0M2184 1410h0M2173 1420h0M2180 1414h0M2166 1413h0M2171 1430h0M2176 1433h0M2249 1295h0M2259 1289h0M2262 1295h0M2259 1283h0M2267 1286h0M2260 1295h0M2252 1355h0M2264 1354h0M2242 1350h0M2110 1005h0M2128 990h0M2220 1320h0M2222 1326h0M2207 1327h0M2237 1342h0M2219 1352h0M2214 1320h0M2223 1132h0M2231 1124h0M2238 1121h0M2225 1127h0M2250 1112h0M2230 1122h0M2232 1081h0M2231 1092h0M2263 1073h0M2244 1082h0M2239 1077h0M2235 1072h0M2103 953h0M2110 938h0M2136 913h0M2112 947h0M2112 946h0M2122 915h0M2115 907h0M2103 940h0M2106 938h0M2112 944h0M2116 929h0M2247 1102h0M2249 1098h0M2245 1123h0M2247 1099h0M2233 1088h0M2101 1052h0M2087 1055h0M2096 1041h0M2092 1041h0M2098 1047h0M2240 1203h0M2249 1209h0M2243 1195h0M2233 1197h0M2115 1226h0M2104 1221h0M2095 1240h0M2109 1235h0M2077 1254h0M2107 1232h0M2074 1189h0M2209 1204h0M2203 1205h0M2201 1201h0M2081 1153h0M2073 1183h0M2077 1166h0M2072 1155h0M2080 1147h0M2071 1144h0M2071 1146h0M2208 1196h0M2214 1203h0M2214 1203h0M2193 1191h0M2214 1202h0M2135 1300h0M2131 1291h0M2100 1302h0M2122 1292h0M2253 1233h0M2244 1221h0M2247 1228h0M2236 1233h0M2243 1234h0M2205 1299h0M2198 1278h0M2199 1291h0M2204 1291h0M2205 1283h0M2273 1278h0M2268 1267h0M2269 1271h0M2251 1281h0M2286 1256h0M2051 1104h0M2065 1096h0M2063 1081h0M2059 1082h0M2136 1301h0M2124 1302h0M2141 1341h0M2140 1335h0M2147 1356h0M2166 1368h0M2147 1356h0M2137 1335h0M2154 1268h0M2133 1263h0M2147 1266h0M2149 1261h0M2125 1165h0M2117 1162h0M2137 1173h0M2122 1167h0M2124 1168h0M2087 897h0M2095 897h0M2083 903h0M2096 1136h0M2089 1143h0M2085 1143h0M2091 1147h0M2079 1144h0M2259 1113h0M2275 1103h0M2269 1122h0M2288 1095h0M2277 1095h0M2265 1117h0M2218 1435h0M2206 1422h0M2206 1422h0M2209 1413h0M2141 1076h0M2131 1089h0M2143 1078h0M2125 1087h0M2149 1121h0M2138 1130h0M2151 1140h0M2139 1130h0M2131 1148h0M2163 1114h0M2139 1134h0M2270 1276h0M2260 1264h0M2255 1271h0M2264 1270h0M2267 1270h0M2243 1279h0M2162 1384h0M2172 1382h0M2172 1377h0M2176 1382h0M2185 1393h0M2172 1386h0M2205 1399h0M2203 1210h0M2192 1201h0M2198 1191h0M2188 1183h0M2191 1166h0M2103 1097h0M2086 1076h0M2096 1095h0M2080 1038h0M2095 1053h0M2100 1045h0M2091 1044h0M2097 1051h0M2108 1271h0M2117 1276h0M2090 1256h0M2106 1265h0M2105 1262h0M2206 1402h0M2189 1399h0M2185 1393h0M2190 1403h0M2174 1385h0M2300 1236h0M2313 1238h0M2307 1227h0M2302 1232h0M2305 1227h0M2309 1228h0M2297 1240h0M2307 1237h0M2293 1245h0M2306 1228h0M2320 1220h0M2170 1332h0M2168 1339h0M2178 1320h0M2174 1338h0M2178 1326h0M2179 1323h0M2175 1337h0M2197 1435h0M2227 1419h0M2208 1428h0M2189 1435h0M2215 1433h0M2202 1436h0M2203 1430h0M2055 937h0M2063 953h0M2065 943h0M2056 938h0M2065 970h0M2069 969h0M2255 1378h0M2268 1376h0M2278 1386h0M2268 1370h0M2100 1296h0M2101 1314h0M2099 1300h0M2102 1304h0M2102 1309h0M2097 1293h0M2096 1304h0M2129 1226h0M2130 1211h0M2110 1216h0M2125 1218h0M2170 1173h0M2178 1166h0M2171 1169h0M2191 1157h0M2154 1188h0M2153 1080h0M2147 1088h0M2152 1061h0M2147 1077h0M2142 1072h0M2142 1059h0M2141 1063h0M2146 1317h0M2144 1334h0M2146 1314h0M2138 1354h0M2153 1333h0M2240 1350h0M2245 1352h0M2252 1358h0M2262 1375h0M2257 1354h0M2251 1363h0M2257 1364h0M2100 1261h0M2082 1263h0M2098 1256h0M2082 1256h0M2178 1369h0M2180 1381h0M2193 1373h0M2186 1366h0M2188 1162h0M2134 1191h0M2158 1176h0M2157 1161h0M2203 1445h0M2199 1464h0M2192 1357h0M2188 1349h0M2175 1341h0M2173 1339h0M2136 1264h0M2139 1260h0M2129 1284h0M2136 1274h0M2141 1271h0M2034 1161h0M2043 1157h0M2040 1167h0M2047 1159h0M2277 1252h0M2264 1224h0M2273 1245h0M2281 1245h0M2202 1184h0M2183 1182h0M2292 1200h0M2290 1196h0M2256 1249h0M2277 1303h0M2292 1290h0M2284 1296h0M2336 1218h0M2316 1239h0M2327 1217h0M2312 1244h0M2095 1269h0M2079 872h0M2080 854h0M2070 877h0M2087 840h0M2082 835h0M2078 867h0M2065 857h0M2116 891h0M2115 906h0M2120 907h0M2114 1212h0M2118 1193h0M2113 1196h0M2102 1200h0M2218 1401h0M2203 1391h0M2217 1403h0M2216 1403h0M2218 1403h0M2197 1232h0M2217 1225h0M2219 1222h0M2211 1228h0M2203 1231h0M2217 1232h0M2202 1224h0M2120 1298h0M2114 1294h0M2111 1287h0M2114 1294h0M2119 1289h0M2115 1295h0M2063 1237h0M2084 1231h0M2056 1234h0M2308 1186h0M2315 1204h0M2316 1189h0M2323 1198h0M2303 1197h0M2304 1213h0M2194 1440h0M2190 1434h0M2202 1443h0M2179 1426h0M2177 1447h0M2202 1250h0M2198 1232h0M2201 1241h0M2184 1261h0M2205 1258h0M2208 1239h0M2199 1233h0M2263 1292h0M2238 1264h0M2246 1280h0M2267 1287h0M2262 1253h0M2256 1248h0M2252 1245h0M2263 1261h0M2259 1253h0M2266 1262h0M2129 1198h0M2112 1195h0M2139 1198h0M2228 1406h0M2215 1395h0M2235 1405h0M2220 1397h0M2243 1410h0M2214 1389h0M2232 1404h0M2107 1086h0M2094 1086h0M2105 1091h0M2098 1099h0M2086 1228h0M2092 1251h0M2093 1227h0M2078 1235h0M2075 1211h0M2093 1246h0M2087 1253h0M2104 960h0M2115 951h0M2109 972h0M2295 1282h0M2275 1297h0M2289 1296h0M2271 1301h0M2074 1257h0M2068 1224h0M2061 1232h0M2295 1227h0M2301 1238h0M2291 1237h0M2294 1228h0M2294 1228h0M2044 943h0M2044 967h0M2046 951h0M2036 963h0M2041 963h0M2114 1184h0M2125 1197h0M2124 1193h0M2113 1210h0M2124 1197h0M2181 1406h0M2172 1400h0M2166 1408h0M2182 1382h0M2170 1412h0M2177 1386h0M2181 1389h0M2179 1374h0M2236 1320h0M2238 1323h0M2245 1353h0M2241 1345h0M2235 1342h0M2245 1343h0M2111 1256h0M2121 1260h0M2128 1264h0M2101 1109h0M2116 1117h0M2114 1118h0M2124 1115h0M2134 1117h0M2113 1112h0M2241 1414h0M2250 1403h0M2248 1393h0M2253 1389h0M2069 1140h0M2065 1139h0M2063 1140h0M2089 1138h0M2067 1140h0M2071 1146h0M2307 1132h0M2288 1135h0M2323 1119h0M2295 1137h0M2229 1273h0M2219 1259h0M2235 1275h0M2209 1262h0M2269 1233h0M2253 1218h0M2282 1213h0M2266 1220h0M2149 1176h0M2115 986h0M2092 975h0M2093 981h0M2094 974h0M2093 976h0M2270 1355h0M2261 1367h0M2279 1350h0M2274 1353h0M2288 1338h0M2284 1345h0M2096 1119h0M2120 1131h0M2115 1130h0M2093 1127h0M2166 1077h0M2171 1064h0M2139 1076h0M2161 1065h0M2143 1071h0M2153 1073h0M2150 1080h0M2178 1082h0M2253 1249h0M2239 1231h0M2242 1235h0M2243 1237h0M2249 1245h0M2117 1116h0M2116 1117h0M2136 1111h0M2113 1117h0M2140 1121h0M2118 1112h0M2121 1139h0M2100 1135h0M2115 1148h0M2116 1139h0M2117 1159h0M2129 1140h0M2105 1146h0M2061 1184h0M2055 1205h0M2062 1223h0M2066 1203h0M2184 1120h0M2190 1136h0M2215 1142h0M2067 1264h0M2111 1250h0M2097 1263h0M2084 1258h0M2065 1276h0M2097 1252h0M2272 1301h0M2290 1406h0M2243 1374h0M2207 1313h0M2248 1374h0M2237 1379h0M2230 1339h0M2247 1377h0M2190 1300h0M2180 1430h0M2228 1394h0M2201 1317h0M2180 1410h0M2271 1350h0M2220 1310h0M2266 1398h0M2238 1365h0M2236 1398h0M2252 1392h0M2238 1400h0M2186 1418h0M2193 1334h0M2247 1416h0M2227 1374h0M2249 1380h0M2208 1352h0M2219 1329h0M2158 1384h0M2216 1352h0M2232 1363h0M2189 1339h0M2289 1408h0M2192 1413h0M2179 1360h0M2252 1316h0M2261 1403h0M2200 1403h0M2210 1423h0M2187 1308h0M2210 1342h0M2242 1384h0M2272 1340h0M2225 1305h0M2294 1365h0M2244 1334h0M2197 1399h0M2228 1352h0M2177 1369h0M2222 1346h0M2249 1379h0M2220 1359h0M2208 1337h0M2215 1454h0M2242 1330h0M2239 1431h0M2249 1351h0M2285 1378h0M2234 1335h0M2213 1400h0M2242 1413h0M2190 1412h0M2238 1468h0M2284 1329h0M2238 1360h0M2234 1332h0M2287 1334h0M2228 1369h0M2229 1408h0M2259 1384h0M2239 1472h0M2227 1402h0M2255 1350h0M2220 1365h0M2243 1373h0M2255 1368h0M2209 1456h0M2203 1366h0M2223 1459h0M2207 1301h0M2171 1418h0M2207 1325h0M2253 1380h0M2184 1408h0M2220 1377h0M2224 1329h0M2181 1390h0M2189 1438h0M2200 1425h0M2252 1408h0M2230 1384h0M2215 1307h0M2177 1346h0M2174 1315h0M2223 1363h0M2215 1401h0M2205 1419h0M2190 1349h0M2246 1302h0M2230 1300h0M2275 1420h0M2178 1436h0M2228 1366h0M2281 1351h0M2269 1336h0M2235 1439h0M2238 1311h0M2184 1299h0M2217 1357h0M2240 1378h0M2193 1421h0M2236 1308h0M2179 1365h0M2216 1453h0M2228 1413h0M2205 1374h0M2261 1366h0M2202 1419h0M2247 1416h0M2292 1366h0M2218 1397h0M2246 1461h0M2251 1410h0M2237 1363h0M2237 1387h0M2282 1359h0M2242 1425h0M2241 1413h0M2192 1465h0M2239 1379h0M2231 1406h0M2229 1417h0M2232 1357h0M2242 1442h0M2221 1375h0M2271 1308h0M2233 1465h0M2248 1361h0M2182 1363h0M2218 1372h0M2244 1453h0M2245 1442h0M2227 1328h0M2197 1376h0M2247 1296h0M2191 1309h0M2262 1400h0M2246 1343h0M2212 1331h0M2157 1370h0M2253 1396h0M2174 1398h0M2293 1403h0M2262 1370h0M2181 1429h0M2282 1397h0M2210 1459h0M2237 1443h0M2214 1365h0M2229 1352h0M2208 1370h0M2238 1377h0M2251 1380h0M2224 1353h0M2211 1453h0M2194 1392h0M2197 1388h0M2242 1338h0M2229 1354h0M2252 1318h0M2254 1404h0M2208 1410h0M2209 1415h0M2214 1412h0M2212 1407h0M2195 1391h0M2250 1461h0M2209 1348h0M2208 1292h0M2194 1377h0M2215 1329h0M2263 1349h0M2243 1375h0M2203 1334h0M2192 1384h0M2252 1460h0M2153 1346h0M2210 1399h0M2222 1388h0M2209 1384h0M2184 1397h0M2216 1356h0M2237 1321h0M2209 1379h0M2192 1355h0M2209 1358h0M2253 1373h0M2221 1325h0M2279 1423h0M2255 1343h0M2211 1427h0M2227 1324h0M2182 1366h0M2251 1311h0M2174 1411h0M2168 1314h0M2275 1351h0M2221 1346h0M2229 1327h0M2214 1330h0M2205 1285h0M2239 1378h0M2189 1321h0M2265 1355h0M2226 1366h0M2191 1417h0M2222 1300h0M2234 1334h0M2206 1361h0M2209 1392h0M2222 1331h0M2178 1304h0M2210 1412h0M2232 1339h0M2258 1356h0M2188 1369h0M2191 1363h0M2189 1388h0M2223 1410h0M2237 1421h0M2252 1388h0M2225 1351h0M2214 1429h0M2240 1350h0M2182 1375h0M2221 1347h0M2217 1380h0M2276 1439h0M2236 1357h0M2218 1434h0M2248 1356h0M2258 1358h0M2250 1446h0M2232 1318h0M2256 1452h0M2222 1436h0M2207 1361h0M2243 1319h0M2275 1336h0M2193 1342h0M2258 1404h0" stroke="#C49A00" stroke-width="11.5"/>
<path d="M3297 951h0M3289 949h0M3312 945h0M3326 929h0M3333 961h0M3274 999h0M3314 971h0M3325 919h0M3294 893h0M3261 957h0M3332 960h0M3324 926h0M3286 947h0M3276 945h0M3273 951h0M3257 899h0M3288 933h0M3287 894h0M3301 904h0M3279 906h0M3266 965h0M3271 960h0M3295 875h0M3277 925h0M3245 919h0M3270 932h0M3142 978h0M3131 946h0M3144 970h0M3125 952h0M3127 968h0M3119 951h0M3117 958h0M3144 969h0M3135 990h0M3138 935h0M3134 975h0M3138 962h0M3295 886h0M3291 899h0M3288 896h0M3279 890h0M3279 875h0M3296 886h0M3280 918h0M3279 899h0M3268 870h0M3295 860h0M3284 892h0M3286 892h0M3283 875h0M3281 865h0" stroke="#99A800" stroke-width="11.5"/>
<path d="M3072 1668h0M3071 1639h0M3071 1646h0M3073 1629h0M3078 1642h0M3057 1672h0M3069 1629h0M3075 1649h0M3100 1696h0M3079 1684h0M3083 1691h0M3075 1694h0M3088 1679h0M3099 1684h0M3054 1684h0M3078 1695h0M3086 1678h0M3094 1678h0M2998 1653h0M3000 1662h0M3004 1676h0M3077 1564h0M3090 1605h0M3090 1580h0M3066 1574h0M3105 1605h0M3084 1590h0M3072 1567h0M3083 1570h0M3091 1590h0M3089 1578h0M2969 1595h0M2977 1611h0M2977 1606h0M2966 1592h0M2974 1623h0M2970 1594h0M2998 1626h0M2995 1615h0M2980 1599h0M3198 1598h0M3187 1582h0M3194 1591h0M3198 1587h0M3179 1594h0M3182 1589h0M3194 1600h0M3144 1560h0M3150 1585h0M3145 1572h0M3132 1577h0M3138 1569h0M3117 1587h0M3213 1628h0M3212 1641h0M3203 1630h0M3192 1655h0M3200 1632h0M3196 1651h0M3201 1640h0M3125 1564h0M3151 1546h0M3131 1554h0M3137 1556h0M3152 1553h0M3123 1557h0M3133 1558h0M3141 1539h0M3157 1547h0M3137 1558h0M3126 1565h0M3043 1731h0M3036 1714h0M3014 1684h0M3039 1727h0M3056 1698h0M3054 1704h0M3060 1715h0M3059 1698h0M3072 1688h0M3041 1677h0M3225 1698h0M3233 1684h0M3220 1709h0M3222 1704h0M3231 1700h0M3223 1685h0M2991 1683h0M2998 1667h0M3016 1688h0M2991 1664h0M3098 1736h0M3105 1737h0M3090 1742h0M3108 1702h0M3071 1665h0M2966 1639h0M2967 1629h0M2968 1607h0M2966 1642h0M2940 1650h0M2972 1605h0M2992 1614h0M2963 1619h0M2955 1628h0M2973 1614h0M2968 1628h0M2967 1662h0M2990 1667h0M2963 1668h0M2999 1657h0M3006 1664h0M3108 1637h0M3103 1650h0M3105 1654h0M3107 1639h0M3093 1652h0M3111 1641h0M3110 1691h0M3113 1697h0M3111 1719h0M3095 1697h0M3110 1709h0M3112 1707h0M3086 1689h0M3074 1670h0M3057 1699h0M3087 1687h0M3068 1701h0M3072 1702h0M3075 1686h0M3037 1535h0M3058 1563h0M2991 1525h0M3039 1535h0M3022 1545h0M3024 1545h0M3026 1539h0M3096 1577h0M3089 1583h0M3109 1579h0M3105 1576h0M3110 1581h0M2955 1584h0M2936 1578h0M2959 1605h0M2957 1586h0M2955 1596h0M2952 1568h0M2964 1574h0M2962 1584h0M2956 1579h0M2996 1645h0M3000 1632h0M2973 1680h0M2977 1681h0M2965 1683h0M2986 1661h0M3041 1715h0M3037 1706h0M3047 1709h0M3034 1706h0M3038 1720h0M3047 1699h0M3194 1763h0M3212 1751h0M3191 1756h0M3110 1629h0M3086 1646h0M3107 1613h0M3112 1641h0M3113 1614h0M3100 1617h0M3108 1650h0M3092 1622h0M3102 1625h0M3005 1687h0M2997 1674h0M2991 1668h0M2994 1666h0M2998 1670h0M2990 1668h0M2995 1707h0M2994 1681h0M2996 1683h0M3062 1511h0M3058 1482h0M3054 1507h0M3070 1516h0M3052 1527h0M3058 1495h0M3100 1688h0M3084 1679h0M3091 1684h0M3085 1685h0M3070 1549h0M3074 1544h0M3070 1536h0M3090 1544h0M3031 1548h0M3060 1666h0M3050 1689h0M3117 1622h0M3119 1628h0M3120 1623h0M3120 1607h0M3109 1614h0M3101 1605h0M3090 1596h0M2944 1592h0M2945 1573h0M3087 1731h0M3086 1716h0M3079 1723h0M3100 1720h0M3111 1701h0M3101 1718h0M3124 1682h0M3113 1675h0M3096 1718h0M3112 1686h0M3127 1699h0M3222 1752h0M3211 1748h0M3063 1655h0M3039 1637h0M3060 1651h0M3028 1636h0M3019 1734h0M3026 1766h0M3027 1724h0M3022 1751h0M2929 1526h0M2927 1528h0M2926 1536h0M2937 1525h0M2937 1523h0M2961 1509h0M2941 1531h0M2974 1526h0M3057 1594h0M3074 1603h0M3055 1583h0M3058 1606h0M3071 1567h0M3072 1617h0M3266 1676h0M3271 1684h0M3027 1620h0M3023 1615h0M3027 1613h0M3015 1595h0M3135 1648h0M3134 1659h0M3135 1648h0M3152 1643h0M3144 1658h0M3083 1536h0M3116 1507h0M3074 1536h0M3091 1529h0M3086 1538h0M3081 1525h0M3239 1632h0M3260 1647h0M3249 1638h0M3268 1651h0M3249 1640h0M3279 1646h0M3267 1641h0M3068 1576h0M3089 1555h0M3083 1565h0M3079 1564h0M3073 1574h0M3092 1548h0M3087 1560h0M3103 1553h0M2974 1554h0M2950 1505h0M2936 1495h0M2959 1510h0M2964 1519h0M2959 1528h0M2961 1511h0M2952 1515h0M2961 1511h0M2996 1662h0M2997 1664h0M2998 1610h0M2987 1636h0M2993 1627h0M2994 1635h0M2991 1649h0M2997 1624h0M2999 1665h0M2996 1642h0M2998 1635h0M2999 1644h0M3046 1696h0M3008 1712h0M3021 1728h0M3008 1733h0M3014 1719h0M3008 1705h0M3025 1718h0M3013 1699h0M3072 1746h0M3067 1739h0M3063 1745h0M3066 1740h0M3069 1750h0M3078 1757h0M2973 1518h0M2959 1506h0M2959 1505h0M2951 1508h0M2963 1498h0M2971 1506h0M2945 1480h0M3136 1606h0M3133 1592h0M3137 1590h0M3120 1638h0M3121 1627h0M3149 1623h0M3153 1612h0M3148 1590h0M3160 1604h0M3156 1624h0M3152 1599h0M3011 1712h0M3006 1686h0M3006 1714h0M3018 1683h0M3291 1684h0M3289 1689h0M3286 1667h0M3283 1686h0M3299 1669h0M3257 1697h0M3285 1685h0M2978 1673h0M2968 1666h0M3018 1653h0M3007 1653h0M3032 1665h0M3030 1675h0M3006 1661h0M3015 1651h0M3009 1648h0M3008 1671h0M3012 1666h0M3012 1644h0M3007 1653h0M3028 1672h0M2995 1623h0M2968 1635h0M3009 1606h0M2987 1622h0M3009 1619h0M3220 1623h0M3218 1614h0M3209 1638h0M3216 1633h0M3221 1605h0M3214 1635h0M3224 1680h0M3243 1692h0M3262 1703h0M3255 1699h0M3292 1705h0M3243 1683h0M3249 1693h0M3187 1651h0M3174 1649h0M3160 1659h0M3166 1661h0M3139 1662h0M3154 1652h0M3150 1669h0M3167 1663h0M3026 1663h0M3024 1638h0M3023 1634h0M3033 1620h0M3022 1652h0M3028 1628h0M3024 1643h0M3022 1637h0M3157 1615h0M3138 1610h0M3139 1607h0M3145 1600h0M3165 1611h0M3153 1610h0M3143 1600h0M3041 1681h0M3046 1679h0M3020 1694h0M3018 1702h0M3021 1709h0M3016 1697h0M3021 1703h0M3025 1697h0M3061 1675h0M3041 1685h0M3029 1694h0M3035 1686h0M3025 1678h0M3045 1659h0M3029 1673h0M3025 1677h0M3050 1655h0M3018 1719h0M3026 1727h0M3013 1705h0M3017 1721h0M3200 1573h0M3209 1593h0M3216 1594h0M3200 1580h0M3157 1652h0M3166 1667h0M3157 1655h0M3151 1666h0M3169 1662h0M3152 1652h0M3009 1627h0M3040 1604h0M3031 1601h0M3033 1549h0M3010 1516h0M3028 1541h0M3014 1534h0M3008 1534h0M3030 1554h0M3018 1542h0M3020 1534h0M3075 1553h0M3073 1536h0M3085 1515h0M3052 1570h0M2974 1634h0M2979 1631h0M2967 1634h0M2985 1633h0M2952 1635h0M2972 1631h0M2986 1633h0M2977 1637h0M2989 1624h0M2967 1546h0M2994 1560h0M2980 1547h0M2973 1560h0M2985 1547h0M2976 1552h0M3189 1747h0M3196 1731h0M3185 1728h0M3192 1728h0M3189 1721h0M3188 1742h0M3182 1733h0M3196 1735h0M3193 1714h0M3195 1721h0M3184 1745h0M3204 1721h0M3196 1711h0M3200 1715h0M3201 1712h0M3198 1734h0M3121 1731h0M3121 1718h0M3130 1734h0M3116 1721h0M3123 1735h0M3076 1540h0M3038 1689h0M3030 1688h0M3035 1688h0M3036 1670h0M3038 1681h0M3037 1682h0M3043 1695h0M3041 1668h0M3173 1606h0M3169 1580h0M3158 1587h0M3176 1587h0M3151 1620h0M2996 1502h0M3000 1506h0M3000 1482h0M2997 1475h0M2989 1488h0M2997 1497h0M2995 1487h0M3157 1566h0M3159 1563h0M3170 1554h0M3145 1554h0M3152 1564h0M3156 1558h0M3007 1512h0M3018 1480h0M3016 1494h0M3091 1611h0M3091 1608h0M3082 1600h0M3086 1593h0M3089 1600h0M3079 1583h0M3090 1614h0M3112 1553h0M3118 1548h0M3122 1550h0M3125 1548h0M3123 1565h0M3113 1561h0M3205 1689h0M3191 1715h0M3213 1685h0M3203 1707h0M3198 1692h0M3210 1691h0M3202 1691h0M3057 1537h0M3039 1543h0M3050 1543h0M3044 1550h0M3071 1551h0M3064 1541h0M3065 1539h0M3058 1544h0M3052 1544h0M3022 1558h0M3016 1562h0M3013 1563h0M3199 1742h0M3206 1748h0M3195 1753h0M3209 1758h0M3201 1767h0M3197 1762h0M3198 1754h0M3207 1741h0M3195 1764h0M3192 1722h0M2987 1590h0M3003 1581h0M2989 1586h0M2980 1571h0M3083 1709h0M3086 1725h0M3092 1739h0M3095 1722h0M3084 1716h0M3042 1618h0M3030 1630h0M3041 1655h0M3032 1627h0M3024 1655h0M2972 1548h0M2988 1549h0M2969 1538h0M2993 1544h0M2957 1534h0M2978 1544h0M2981 1543h0M3095 1594h0M3109 1597h0M3121 1603h0M3111 1600h0M3115 1601h0M3110 1610h0M3018 1742h0M3019 1735h0M3002 1737h0M3014 1708h0M3011 1722h0M3107 1589h0M3110 1611h0M3120 1600h0M3113 1610h0M3098 1604h0M3108 1604h0M3115 1594h0M3105 1603h0M3090 1531h0M3099 1535h0M3098 1531h0M2950 1621h0M2952 1622h0M2964 1623h0M2941 1628h0M2952 1616h0M3054 1749h0M3049 1749h0M3069 1740h0M3034 1739h0M3048 1749h0M3058 1740h0M3046 1733h0M3047 1736h0M3040 1742h0M3211 1681h0M3202 1696h0M3183 1677h0M3265 1657h0M3273 1656h0M3272 1660h0M3267 1650h0M3116 1687h0M3130 1692h0M3122 1689h0M3123 1684h0M3101 1691h0M3125 1687h0M3135 1634h0M3127 1642h0M3093 1635h0M3096 1631h0M3121 1624h0M3104 1639h0M3257 1717h0M3282 1717h0M3258 1708h0M3280 1715h0M3267 1717h0M3159 1563h0M3165 1568h0M3157 1560h0M3169 1566h0M3150 1549h0M3164 1566h0M2986 1535h0M2991 1555h0M3002 1546h0M2988 1536h0M2991 1518h0M2991 1554h0M2994 1559h0M3002 1526h0M3175 1694h0M3157 1700h0M3173 1724h0M3174 1703h0M3222 1691h0M3258 1700h0M3247 1708h0M3246 1708h0M3006 1616h0M3017 1604h0M3026 1611h0M3031 1604h0M3009 1617h0M3072 1592h0M3126 1678h0M3130 1688h0M3125 1663h0M3116 1624h0M3115 1657h0M3134 1684h0M3125 1646h0M3122 1673h0M3130 1675h0M3050 1546h0M3046 1540h0M3049 1546h0M2966 1636h0M2965 1642h0M2982 1623h0M2966 1656h0M2975 1629h0M2977 1632h0M2977 1654h0M3092 1716h0M3106 1682h0M3102 1703h0M3094 1700h0M2977 1666h0M2985 1660h0M2985 1665h0M2975 1666h0M2998 1653h0M2987 1656h0M2960 1557h0M2956 1528h0M2965 1555h0M2967 1546h0M2973 1554h0M2956 1569h0M2974 1528h0M2959 1553h0M2965 1550h0M2959 1559h0M2960 1523h0M2951 1569h0M2970 1547h0M3132 1609h0M3119 1580h0M3119 1594h0M3120 1598h0M3116 1612h0M3119 1571h0M3111 1606h0M3113 1593h0M3112 1620h0M3054 1553h0M3058 1576h0M3058 1570h0M3047 1557h0M3065 1517h0M3024 1691h0M3018 1700h0M3012 1689h0M3002 1684h0M3013 1693h0M3178 1743h0M3185 1737h0M3185 1753h0M3167 1739h0M3178 1722h0M3162 1745h0M3170 1714h0M3170 1722h0M3173 1720h0M3171 1583h0M3185 1579h0M3172 1579h0M3166 1590h0M3203 1583h0M3178 1583h0M3174 1585h0M3188 1584h0M3225 1585h0M3215 1596h0M3218 1608h0M3211 1598h0M3244 1588h0M3213 1597h0M3168 1692h0M3146 1692h0M3113 1682h0M3135 1686h0M3121 1675h0M3072 1672h0M3075 1677h0M3058 1682h0M3127 922h0M3126 953h0M3129 940h0M3135 995h0M3134 959h0M3128 978h0M3135 962h0M3132 937h0M3121 959h0M3133 930h0M3139 954h0M3145 948h0M3140 946h0M3150 952h0M3146 982h0M3149 970h0M3134 955h0M3130 969h0M3123 953h0M3134 972h0M3157 959h0M3148 973h0" stroke="#53B400" stroke-width="11.5"/>
<path d="M3129 548h0M3125 561h0M3123 565h0M3140 550h0M3118 564h0M3143 541h0M3132 541h0M3138 296h0M3124 291h0M3126 304h0M3128 274h0M3127 288h0M3182 494h0M3212 501h0M3184 508h0M3166 487h0M3159 488h0M3153 566h0M3131 554h0M3163 575h0M3158 578h0M3149 573h0M3143 565h0M3172 484h0M3178 502h0M3175 503h0M3164 509h0M3169 517h0M3027 359h0M3016 361h0M3030 367h0M3039 359h0M3011 365h0M3123 436h0M3106 439h0M3111 435h0M3116 437h0M3122 435h0M3196 440h0M3215 414h0M3202 430h0M3225 402h0M3226 412h0M3199 436h0M3211 428h0M3152 576h0M3147 564h0M3172 569h0M3169 571h0M3168 422h0M3156 424h0M3163 419h0M3163 423h0M3165 417h0M3175 414h0M3139 409h0M3087 349h0M3107 341h0M3099 337h0M3107 339h0M3099 344h0M3108 345h0M3105 476h0M3093 493h0M3104 487h0M3111 468h0M3117 462h0M3058 306h0M3039 316h0M3034 303h0M3168 327h0M3171 341h0M3169 334h0M3170 346h0M3168 348h0M3121 340h0M3109 353h0M3116 341h0M3096 369h0M3114 352h0M3114 246h0M3112 264h0M3122 259h0M3117 262h0M3119 452h0M3110 479h0M3132 453h0M3111 469h0M3195 542h0M3188 534h0M3179 541h0M3195 540h0M3183 553h0M3198 529h0M3073 428h0M3051 407h0M3124 548h0M3115 543h0M3097 554h0M3100 550h0M3119 549h0M3120 554h0M3128 558h0M3119 541h0M3192 338h0M3181 333h0M3186 333h0M3210 330h0M3210 331h0M3117 538h0M3104 535h0M3113 532h0M3120 534h0M3114 537h0M3096 566h0M3112 543h0M3104 547h0M3094 548h0M3118 533h0M3094 545h0M3094 357h0M3095 354h0M3075 474h0M3081 472h0M3064 471h0M3073 456h0M3072 457h0M3137 405h0M3143 413h0M3127 404h0M3136 389h0M3051 305h0M3061 301h0M3071 288h0M3062 300h0M3052 297h0M3055 316h0M3165 536h0M3178 526h0M3111 489h0M3116 496h0M3107 499h0M3100 499h0M3095 501h0M3109 499h0M3106 541h0M3095 546h0M3101 556h0M3101 540h0M3100 303h0M3101 306h0M3112 308h0M3095 307h0M3065 335h0M3076 344h0M3067 325h0M3034 299h0M3085 297h0M3056 296h0M3055 283h0M3073 393h0M3056 396h0M3066 391h0M3075 396h0M3062 392h0M3181 506h0M3194 518h0M3182 511h0M3172 529h0M3167 542h0M3191 511h0M3191 506h0M3080 411h0M3083 407h0M3083 431h0M3064 396h0M3077 404h0M3079 400h0M3225 337h0M3221 333h0M3214 323h0M3217 336h0M3222 331h0M3221 323h0M3215 338h0M3117 395h0M3142 391h0M3136 387h0M3120 401h0M3155 392h0M3122 391h0M3222 310h0M3215 314h0M3242 332h0M3248 332h0M3209 310h0M3230 321h0M3230 317h0M3178 475h0M3162 494h0M3178 462h0M3164 489h0M3177 503h0M3061 332h0M3057 310h0M3048 331h0M3137 437h0M3133 417h0M3235 383h0M3226 412h0M3251 388h0M3224 397h0M3232 401h0M3096 283h0M3095 264h0M3102 279h0M3097 277h0M3101 283h0M3120 337h0M3116 338h0M3128 345h0M3122 338h0M3164 568h0M3166 573h0M3169 563h0M3171 572h0M3188 564h0M3165 567h0M3191 550h0M3179 573h0M3116 448h0M3123 453h0M3114 455h0M3110 451h0M3064 415h0M3054 387h0M3065 413h0M3052 407h0M3064 416h0M3055 414h0M3158 391h0M3147 406h0M3152 417h0M3156 392h0M3116 556h0M3110 537h0M3116 544h0M3100 547h0M3148 410h0M3144 391h0M3137 412h0M3139 421h0M3140 389h0M3140 399h0M3074 415h0M3068 405h0M3062 419h0M3079 422h0M3067 421h0M3041 412h0M3047 408h0M3039 402h0M3043 400h0M3051 402h0M3151 307h0M3143 306h0M3139 305h0M3149 303h0M3162 408h0M3125 402h0M3114 398h0M3136 390h0M3133 404h0M3133 392h0M3172 506h0M3184 507h0M3153 514h0M3146 532h0M3163 515h0M3152 505h0M3150 503h0M3165 484h0M3138 518h0M3147 515h0M3145 511h0M3094 281h0M3107 298h0M3113 311h0M3108 308h0M3107 304h0M3120 437h0M3124 446h0M3102 455h0M3122 437h0M3114 445h0M3131 284h0M3113 272h0M3121 309h0M3123 294h0M3095 533h0M3085 540h0M3103 519h0M3100 265h0M3103 253h0M3107 254h0M3110 252h0M3102 252h0M3144 454h0M3124 450h0M3129 453h0M3206 412h0M3136 565h0M3140 573h0M3151 471h0M3152 468h0M3156 465h0M3145 481h0M3142 352h0M3117 355h0M3134 357h0M3149 348h0M3156 409h0M3183 531h0M3142 540h0M3150 532h0M3163 534h0M3145 531h0M3170 532h0M3130 320h0M3137 325h0M3129 327h0M3123 325h0M3134 323h0M3119 332h0M3093 316h0M3091 327h0M3114 333h0M3060 278h0M3063 272h0M3049 295h0M3036 288h0M3040 281h0M3046 287h0M3038 280h0M3035 289h0M3052 350h0M3054 359h0M3054 353h0M3047 353h0M3165 563h0M3149 584h0M3160 558h0M3156 564h0M3159 566h0M3103 452h0M3105 450h0M3121 467h0M3112 473h0M3130 497h0M3123 421h0M3138 416h0M3117 419h0M3135 414h0M3143 411h0M3139 420h0M3161 412h0M3177 516h0M3183 505h0M3179 499h0M3178 518h0M3169 535h0M3186 510h0M3163 521h0M3147 349h0M3173 354h0M3138 357h0M3158 354h0M3184 346h0M3157 344h0M3144 355h0M3102 255h0M3076 275h0M3093 275h0M3087 272h0M3085 380h0M3079 387h0M3075 387h0M3082 392h0M3190 523h0M3195 537h0M3195 519h0M3195 525h0M3214 519h0M3203 523h0M3041 287h0M3056 300h0M3049 304h0M3045 290h0M3034 294h0M3062 312h0M3045 296h0M3150 501h0M3147 497h0M3122 486h0M3147 491h0M3121 494h0M3128 498h0M3121 475h0M3200 491h0M3209 494h0M3213 477h0M3196 476h0M3198 476h0M3198 472h0M3190 473h0M3231 384h0M3230 377h0M3237 363h0M3029 296h0M3021 297h0M3031 298h0M3174 408h0M3158 410h0M3160 385h0M3182 426h0M3147 390h0M3158 405h0M3164 408h0M3144 444h0M3147 430h0M3138 430h0M3139 424h0M3194 369h0M3204 382h0M3208 379h0M3214 372h0M3195 371h0M3195 374h0M3192 367h0M3195 376h0M3092 441h0M3113 436h0M3094 400h0M3103 437h0M3090 412h0M3128 457h0M3115 462h0M3171 504h0M3178 510h0M3173 513h0M3160 492h0M3191 520h0M3156 510h0M3163 503h0M3090 327h0M3095 333h0M3085 323h0M3107 319h0M3111 319h0M3135 444h0M3139 412h0M3141 436h0M3144 416h0M3127 429h0M3083 400h0M3078 403h0M3077 400h0M3095 318h0M3095 321h0M3085 437h0M3105 407h0M3095 420h0M3105 315h0M3100 319h0M3105 326h0M3106 323h0M3103 320h0M3193 365h0M3171 364h0M3204 381h0M3182 366h0M3185 365h0M3180 358h0M3154 320h0M3155 318h0M3154 320h0M3155 331h0M3129 315h0M3143 303h0M3149 310h0M3141 308h0M3145 308h0M3084 284h0M3095 277h0M3098 278h0M3084 285h0M3214 374h0M3054 389h0M3039 397h0M3057 369h0M3039 368h0M3045 352h0M3055 353h0M3057 369h0M3069 428h0M3061 432h0M3055 436h0M3151 306h0M3147 325h0M3097 370h0M3115 357h0M3098 360h0M3132 363h0M3127 362h0M3111 365h0M3133 361h0M3046 358h0M3036 347h0M3048 364h0M3035 355h0M3038 367h0M3047 358h0M3043 368h0M3193 362h0M3189 361h0M3192 366h0M3187 354h0M3194 355h0M3079 319h0M3068 342h0M3090 343h0M3064 349h0M3071 337h0M3063 344h0M3087 315h0M3171 488h0M3173 475h0M3162 503h0M3163 467h0M3153 473h0M3167 499h0M3171 474h0M3193 488h0M3209 500h0M3184 482h0M3203 490h0M3189 495h0M3217 371h0M3217 387h0M3205 372h0M3211 381h0M3180 407h0M3181 404h0M3170 413h0M3159 423h0M3160 426h0M3168 416h0M3166 409h0M3137 576h0M3138 557h0M3137 570h0M3127 568h0M3151 580h0M3103 779h0M3096 786h0M3114 787h0M3109 778h0M3092 788h0M3098 796h0M3163 613h0M3182 597h0M3159 600h0M3175 603h0M3165 607h0M3093 754h0M3104 753h0M3099 753h0M3115 775h0M3142 702h0M3151 697h0M3135 706h0M3145 698h0M3129 699h0M3128 767h0M3127 785h0M3114 764h0M3133 774h0M3138 670h0M3135 686h0M3142 678h0M3152 682h0M3134 675h0M3150 683h0M3139 678h0M3132 557h0M3133 570h0M3177 663h0M3171 667h0M3164 675h0M3172 668h0M3180 672h0M3174 633h0M3186 612h0M3174 631h0M3176 615h0M3169 623h0M3180 634h0M3142 735h0M3143 726h0M3138 735h0M3174 630h0M3177 642h0M3171 629h0M3104 736h0M3115 743h0M3096 753h0M3104 762h0M3140 567h0M3134 562h0M3119 570h0M3131 565h0M3136 571h0M3146 550h0M3131 746h0M3137 751h0M3132 741h0M3138 726h0M3132 732h0M3121 738h0M3131 736h0M3132 705h0M3129 703h0M3132 696h0M3104 737h0M3116 756h0M3096 741h0M3099 741h0M3114 763h0M3103 756h0M3103 746h0M3103 740h0M3113 703h0M3123 696h0M3134 698h0M3116 698h0M3111 705h0M3174 699h0M3178 688h0M3176 694h0M3181 698h0M3173 690h0M3176 686h0M3190 691h0M3176 696h0M3167 698h0M3165 701h0M3174 691h0M3181 722h0M3168 716h0M3185 635h0M3179 636h0M3183 644h0M3191 633h0M3181 639h0M3198 632h0M3154 724h0M3168 579h0M3179 599h0M3165 579h0M3170 589h0M3170 634h0M3167 634h0M3163 636h0M3177 627h0M3175 616h0M3176 641h0M3186 612h0M3186 625h0M3183 635h0M3181 632h0M3171 631h0M3179 622h0M3176 624h0M3188 619h0M3177 612h0M3152 737h0M3161 730h0M3157 728h0M3154 728h0M3144 735h0M3144 730h0M3133 607h0M3150 597h0M3173 589h0M3152 601h0M3131 601h0M3147 592h0M3164 634h0M3160 630h0M3169 638h0M3169 624h0M3161 629h0M3173 634h0M3146 735h0M3154 741h0M3146 752h0M3149 720h0M3143 738h0M3148 728h0M3152 732h0M3134 658h0M3128 662h0M3129 727h0M3123 722h0M3138 740h0M3128 722h0M3129 738h0M3162 607h0M3154 597h0M3155 596h0M3155 616h0M3154 701h0M3170 707h0M3176 697h0M3165 701h0M3170 704h0M3153 710h0" stroke="#00BC56" stroke-width="11.5"/>
<path d="M2374 1624h0M2381 1627h0M2378 1623h0M2440 1629h0M2435 1634h0M2413 1632h0M2359 1620h0M2352 1609h0M2355 1613h0M2357 1609h0M2414 1620h0M2408 1620h0M2413 1608h0M2417 1628h0M2403 1627h0M2405 1635h0M2403 1633h0M2431 1639h0M2445 1639h0M2435 1630h0M2422 1643h0M2390 1586h0M2397 1599h0M2411 1609h0M2388 1601h0M2390 1628h0M2398 1626h0M2389 1619h0M2389 1627h0M2395 1623h0M2405 1626h0M2386 1626h0M2381 1605h0M2387 1605h0M2379 1597h0M2495 1710h0M2487 1708h0M2487 1730h0M2483 1738h0M2485 1747h0M2482 1734h0M2466 1698h0M2451 1710h0M2459 1728h0M2459 1713h0M2470 1718h0M2473 1699h0M2446 1726h0M2458 1735h0M2465 1733h0M2460 1736h0M2446 1774h0M2437 1769h0M2442 1764h0M2468 1720h0M2473 1724h0M2474 1721h0M2470 1727h0M2463 1739h0M2458 1709h0M2448 1693h0M2508 1747h0M2512 1739h0M2503 1742h0M2506 1748h0M2498 1744h0M2493 1731h0M2492 1760h0M2488 1746h0M2486 1766h0M2489 1753h0M2486 1762h0M2495 1761h0M2494 1756h0M2491 1752h0M2476 1746h0M2489 1765h0M2491 1750h0M2494 1758h0M2467 1748h0M2461 1756h0M2466 1760h0M2464 1756h0M2463 1750h0M2471 1758h0M2421 1737h0M2430 1706h0M2427 1724h0M2426 1735h0M2427 1726h0M2535 1677h0M2540 1685h0M2539 1678h0M2524 1696h0M2527 1695h0M2543 1688h0M2543 1686h0M2543 1696h0M2544 1697h0M2547 1690h0M2550 1695h0M2514 1752h0M2536 1760h0M2530 1756h0M2549 1688h0M2544 1674h0M2546 1680h0M2557 1670h0M2546 1684h0M2551 1680h0M2556 1703h0M2555 1703h0M2549 1764h0M2554 1768h0M2550 1771h0M2546 1762h0M2547 1758h0M2545 1766h0M2562 1765h0M2554 1770h0M2551 1668h0M2546 1674h0M2527 1655h0M2526 1660h0M2526 1643h0M2587 1680h0M2554 1692h0M2563 1682h0M2511 1752h0M2524 1743h0M2524 1752h0M2517 1746h0M2522 1744h0M2515 1737h0M2553 1740h0M2557 1734h0M2591 1660h0M2584 1684h0M2584 1664h0M2563 1691h0M2556 1683h0M2559 1693h0M2569 1698h0M2561 1693h0M2569 1690h0M2557 1652h0M2564 1667h0M2566 1658h0M2573 1676h0M2568 1661h0M2565 1689h0M2577 1661h0M2587 1665h0M2584 1655h0M2578 1667h0M2551 1652h0M2559 1650h0M2576 1663h0M2582 1662h0M2597 1676h0M2580 1661h0M2580 1663h0M2588 1668h0M2578 1665h0M2588 1669h0M2592 1674h0M2589 1671h0M2582 1673h0M2605 1646h0M2591 1656h0M2535 1791h0M2539 1797h0M2531 1775h0M2534 1794h0M2529 1785h0M2504 1795h0M2513 1808h0M2509 1792h0M2547 1829h0M2537 1822h0M2535 1817h0M2541 1819h0M2531 1814h0M2525 1801h0M2526 1805h0M2530 1810h0M2526 1793h0M2524 1818h0M2543 1817h0M2526 1799h0M2524 1799h0M2527 1789h0M2519 1789h0M2506 1783h0M2732 1435h0M2720 1435h0M2733 1440h0M2732 1441h0M2727 1422h0M2738 1435h0M2748 1430h0M2752 1430h0M2750 1422h0M2765 1425h0M2742 1411h0M2741 1421h0M2738 1434h0M2741 1427h0M2711 1433h0M2709 1437h0M2712 1442h0M2709 1425h0M2699 1433h0M2710 1432h0M2499 1825h0M2520 1828h0M2511 1834h0M2524 1845h0M2519 1829h0M2524 1838h0M2531 1843h0M2528 1834h0M2531 1826h0M2536 1824h0M2532 1837h0M3161 790h0M3164 801h0M3141 787h0M3161 808h0M3157 787h0M3172 800h0M3169 795h0M3140 803h0M3137 793h0M3159 803h0" stroke="#00C094" stroke-width="11.5"/>
<path d="M3389 1328h0M3403 1331h0M3382 1322h0M3393 1332h0M3408 1326h0M3391 1328h0M3387 1330h0M3328 1239h0M3335 1258h0M3326 1294h0M3336 1252h0M3336 1270h0M3335 1251h0M3331 1288h0M3409 1230h0M3395 1222h0M3400 1224h0M3364 1170h0M3373 1147h0M3363 1162h0M3381 1157h0M3373 1154h0M3387 1148h0M3377 1156h0M3352 1169h0M3361 1175h0M3338 1167h0M3340 1165h0M3339 1175h0M3351 1189h0M3404 1289h0M3402 1289h0M3399 1308h0M3393 1301h0M3401 1314h0M3392 1320h0M3397 1327h0M3373 1284h0M3397 1306h0M3378 1277h0M3396 1307h0M3364 1161h0M3355 1143h0M3341 1154h0M3353 1156h0M3360 1141h0M3360 1166h0M3356 1159h0M3433 1352h0M3448 1359h0M3461 1360h0M3455 1351h0M3465 1351h0M3440 1362h0M3443 1277h0M3421 1272h0M3422 1291h0M3435 1297h0M3457 1274h0M3446 1307h0M3439 1309h0M3449 1306h0M3455 1301h0M3416 1304h0M3439 1313h0M3376 1211h0M3386 1232h0M3376 1212h0M3385 1241h0M3370 1198h0M3388 1174h0M3390 1198h0M3387 1190h0M3381 1191h0M3374 1207h0M3383 1185h0M3471 1300h0M3469 1296h0M3462 1282h0M3474 1296h0M3463 1286h0M3464 1288h0M3334 1211h0M3359 1239h0M3366 1308h0M3361 1263h0M3347 1285h0M3364 1309h0M3354 1291h0M3368 1311h0M3355 1285h0M3367 1306h0M3360 1271h0M3351 1285h0M3364 1295h0M3365 1326h0M3344 1206h0M3338 1209h0M3355 1203h0M3349 1193h0M3450 1172h0M3448 1178h0M3447 1170h0M3447 1175h0M3463 1171h0M3453 1174h0M3462 1178h0M3383 1214h0M3399 1212h0M3374 1179h0M3402 1200h0M3397 1204h0M3390 1204h0M3383 1192h0M3385 1202h0M3376 1186h0M3350 1194h0M3346 1198h0M3378 1212h0M3352 1225h0M3365 1205h0M3312 1143h0M3317 1147h0M3326 1154h0M3317 1151h0M3317 1144h0M3328 1164h0M3308 1133h0M3339 1154h0M3342 1174h0M3341 1142h0M3334 1162h0M3437 1282h0M3430 1273h0M3417 1277h0M3437 1281h0M3440 1294h0M3436 1282h0M3450 1292h0M3436 1253h0M3421 1234h0M3429 1265h0M3426 1232h0M3426 1253h0M3427 1244h0M3424 1239h0M3391 1174h0M3382 1190h0M3386 1198h0M3381 1170h0M3384 1188h0M3394 1177h0M3387 1177h0M3387 1151h0M3394 1197h0M3400 1245h0M3405 1242h0M3408 1249h0M3397 1242h0M3402 1249h0M3400 1252h0M3397 1259h0M3405 1243h0M3389 1265h0M3402 1199h0M3396 1213h0M3432 1203h0M3419 1191h0M3442 1209h0M3424 1199h0M3424 1200h0M3445 1206h0M3454 1334h0M3454 1334h0M3450 1337h0M3453 1323h0M3455 1309h0M3456 1322h0M3448 1337h0M3332 1253h0M3340 1255h0M3331 1261h0M3448 1222h0M3433 1226h0M3417 1212h0M3442 1219h0M3424 1222h0M3443 1226h0M3410 1235h0M3346 1212h0M3361 1252h0M3331 1237h0M3439 1219h0M3464 1218h0M3467 1214h0M3454 1219h0M3436 1220h0M3435 1230h0M3466 1211h0M3431 1272h0M3419 1243h0M3418 1226h0M3412 1246h0M3426 1238h0M3436 1275h0M3418 1246h0M3290 1171h0M3296 1168h0M3293 1158h0M3284 1168h0M3404 1179h0M3409 1168h0M3416 1196h0M3405 1189h0M3403 1183h0M3449 1225h0M3441 1213h0M3453 1215h0M3391 1210h0M3428 1193h0M3406 1223h0M3417 1203h0M3419 1223h0M3443 1312h0M3456 1315h0M3453 1332h0M3469 1335h0M3445 1324h0M3451 1322h0M3465 1327h0M3440 1317h0M3448 1300h0M3379 1183h0M3380 1194h0M3380 1158h0M3377 1194h0M3379 1190h0M3471 1347h0M3464 1344h0M3482 1346h0M3445 1337h0M3430 1347h0M3447 1323h0M3425 1361h0M3437 1341h0M3431 1331h0M3358 1291h0M3347 1280h0M3417 1255h0M3372 1284h0M3390 1276h0M3407 1188h0M3393 1184h0M3401 1184h0M3397 1170h0M3392 1172h0M3393 1199h0M3392 1181h0M3411 1150h0M3421 1188h0M3402 1190h0M3422 1170h0M3405 1204h0M3422 1198h0M3423 1208h0M3382 1246h0M3379 1239h0M3394 1241h0M3384 1239h0M3378 1247h0M3384 1185h0M3392 1208h0M3380 1200h0M3384 1206h0M3372 1231h0M3389 1181h0M3425 1256h0M3436 1255h0M3438 1267h0M3432 1266h0M3387 1244h0M3411 1255h0M3405 1257h0M3398 1257h0M3396 1255h0M3381 1231h0M3371 1244h0M3367 1249h0M3368 1264h0M3377 1247h0M3369 1245h0M3375 1259h0M3367 1258h0M3376 1240h0M3367 1200h0M3369 1204h0M3363 1209h0M3358 1195h0M3357 1207h0M3358 1209h0M3361 1213h0M3360 1207h0M3415 1326h0M3395 1324h0M3405 1318h0M3411 1330h0M3408 1317h0M3409 1322h0M3377 1308h0M3366 1314h0M3358 1309h0M3373 1314h0M3399 1312h0M3380 1297h0M3388 1301h0M3386 1305h0M3377 1316h0M3289 1169h0M3297 1168h0M3299 1172h0M3286 1174h0M3295 1188h0M3303 1171h0M3431 1320h0M3419 1312h0M3422 1295h0M3425 1322h0M3423 1319h0M3421 1323h0M3429 1306h0M3413 1302h0M3423 1325h0M3385 1241h0M3391 1243h0M3383 1259h0M3381 1257h0M3388 1259h0M3390 1232h0M3380 1321h0M3387 1325h0M3423 1319h0M3417 1315h0M3394 1331h0M3464 1329h0M3471 1299h0M3466 1339h0M3470 1323h0M3345 1150h0M3357 1158h0M3354 1125h0M3332 1164h0M3312 1211h0M3309 1217h0M3304 1220h0M3346 1215h0M3339 1215h0M3344 1240h0M3326 1240h0M3343 1234h0M3323 1241h0M3340 1223h0M3339 1225h0M3299 1193h0M3390 1172h0M3388 1181h0M3381 1172h0M3381 1187h0M3408 1157h0M3373 1186h0M3380 1177h0M3407 1202h0M3384 1185h0M3401 1206h0M3396 1227h0M3384 1201h0M3408 1226h0M3423 1253h0M3437 1255h0M3449 1256h0M3446 1246h0M3437 1256h0M3464 1264h0M3428 1255h0M3416 1354h0M3395 1336h0M3412 1347h0M3404 1243h0M3430 1222h0M3408 1227h0M3410 1232h0M3417 1230h0M3457 1322h0M3465 1313h0M3464 1315h0M3457 1323h0M3486 1311h0M3464 1308h0M3465 1313h0M3297 1228h0M3298 1228h0M3299 1218h0M3281 1237h0M3304 1221h0M3322 1218h0M3299 1214h0M3358 1170h0M3366 1189h0M3356 1174h0M3354 1183h0M3351 1173h0M3356 1176h0M3353 1151h0M3391 1242h0M3411 1252h0M3400 1256h0M3379 1233h0M3381 1239h0M3390 1245h0M3403 1252h0M3400 1252h0M3385 1256h0M3388 1229h0M3399 1248h0M3371 1243h0M3359 1254h0M3369 1241h0M3444 1229h0M3458 1234h0M3458 1235h0M3471 1246h0M3451 1226h0M3461 1239h0M3463 1240h0M3453 1255h0M3460 1226h0M3386 1164h0M3386 1171h0M3384 1161h0M3381 1145h0M3385 1168h0M3379 1129h0M3390 1127h0M3392 1131h0M3318 1162h0M3303 1162h0M3310 1165h0M3299 1168h0M3299 1155h0M3286 1152h0M3312 1153h0M3352 1241h0M3361 1251h0M3330 1250h0M3326 1246h0M3323 1251h0M3455 1247h0M3456 1235h0M3384 1259h0M3397 1229h0M3386 1252h0M3390 1256h0M3391 1256h0M3374 1275h0M3392 1235h0M3371 1267h0M3445 1317h0M3451 1323h0M3455 1321h0M3469 1321h0M3454 1275h0M3453 1263h0M3442 1271h0M3435 1252h0M3431 1251h0M3444 1243h0M3429 1254h0M3438 1259h0M3432 1249h0M3440 1256h0M3357 1260h0M3344 1255h0M3335 1235h0M3345 1252h0M3335 1240h0M3324 1242h0M3352 1253h0M3445 1237h0M3416 1268h0M3428 1256h0M3432 1239h0M3417 1188h0M3428 1194h0M3413 1184h0M3429 1179h0M3402 1190h0M3443 1179h0M3470 1270h0M3448 1259h0M3465 1267h0M3441 1261h0M3425 1271h0M3451 1263h0M3460 1267h0M3448 1272h0M3472 1274h0M3455 1260h0M3359 1153h0M3370 1178h0M3359 1150h0M3330 1141h0M3345 1152h0M3353 1157h0M2989 623h0M2990 612h0M2974 617h0M2985 619h0M2988 619h0M2977 627h0M3055 792h0M3096 742h0M3061 789h0M3040 758h0M3044 756h0M3056 772h0M3038 781h0M3084 797h0M3066 760h0M3002 801h0" stroke="#00BFC4" stroke-width="11.5"/>
<path d="M2833 1695h0M2832 1706h0M2797 1696h0M2812 1697h0M2800 1706h0M2810 1703h0M2849 1755h0M2839 1760h0M2836 1754h0M2838 1749h0M2845 1756h0M2836 1747h0M2849 1764h0M2843 1764h0M2842 1750h0M2860 1627h0M2854 1618h0M2854 1618h0M2861 1611h0M2794 1753h0M2793 1764h0M2786 1766h0M2793 1758h0M2799 1759h0M2796 1773h0M2785 1760h0M2826 1864h0M2849 1901h0M2834 1883h0M2844 1892h0M2807 1859h0M2810 1855h0M2820 1849h0M2810 1856h0M2803 1851h0M2815 1851h0M2777 1891h0M2785 1881h0M2788 1897h0M2790 1894h0M2783 1891h0M2780 1906h0M2860 1703h0M2863 1706h0M2861 1698h0M2846 1700h0M2854 1695h0M2856 1715h0M2843 1704h0M2838 1693h0M2830 1694h0M2842 1700h0M2838 1693h0M2842 1706h0M2871 1594h0M2861 1625h0M2873 1607h0M2856 1618h0M2872 1609h0M2866 1610h0M2860 1613h0M2785 1899h0M2778 1909h0M2786 1905h0M2775 1897h0M2771 1899h0M2761 1884h0M2850 1598h0M2853 1593h0M2858 1592h0M2851 1584h0M2856 1597h0M2817 1875h0M2821 1874h0M2809 1867h0M2838 1869h0M2826 1689h0M2814 1676h0M2832 1688h0M2827 1683h0M2832 1868h0M2808 1867h0M2842 1866h0M2816 1856h0M2826 1870h0M2826 1769h0M2838 1774h0M2823 1756h0M2814 1767h0M2837 1777h0M2817 1759h0M2816 1751h0M2822 1752h0M2831 1749h0M2815 1753h0M2826 1745h0M2817 1753h0M2864 1599h0M2870 1614h0M2887 1631h0M2876 1625h0M2875 1613h0M2873 1620h0M2884 1628h0M2809 1751h0M2805 1745h0M2798 1758h0M2808 1750h0M2818 1747h0M2832 1743h0M2850 1646h0M2855 1662h0M2846 1642h0M2841 1648h0M2846 1661h0M2861 1667h0M2811 1794h0M2827 1800h0M2816 1789h0M2810 1801h0M2829 1800h0M2827 1786h0M2868 1581h0M2870 1605h0M2864 1586h0M2863 1585h0M2868 1590h0M2879 1588h0M2869 1578h0M2876 1584h0M2877 1600h0M2872 1572h0M2845 1646h0M2857 1646h0M2838 1645h0M2841 1644h0M2847 1651h0M2831 1606h0M2849 1617h0M2850 1622h0M2843 1608h0M2858 1620h0M2846 1607h0M2801 1871h0M2781 1870h0M2787 1859h0M2816 1886h0M2800 1881h0M2784 1865h0M2791 1865h0M2812 1709h0M2798 1707h0M2803 1709h0M2824 1700h0M2805 1711h0M2839 1703h0M2870 1647h0M2832 1643h0M2851 1652h0M2851 1642h0M2869 1647h0M2860 1642h0M2843 1644h0M2774 1957h0M2782 1930h0M2774 1940h0M2827 1841h0M2825 1843h0M2822 1841h0M2832 1838h0M2845 1801h0M2823 1730h0M2822 1760h0M2831 1757h0M2828 1746h0M2835 1753h0M2820 1759h0M2834 1759h0M2838 1754h0M2827 1753h0M2792 1750h0M2803 1757h0M2794 1763h0M2790 1749h0M2809 1763h0M2801 1751h0M2799 1741h0M2793 1755h0M2800 1745h0M2812 1739h0M2798 1895h0M2808 1907h0M2805 1914h0M2802 1913h0M2800 1891h0M2798 1882h0M2806 1895h0M2817 1742h0M2818 1736h0M2823 1751h0M2805 1761h0M2812 1754h0M2820 1742h0M2821 1902h0M2804 1893h0M2818 1887h0M2814 1879h0M2808 1878h0M2807 1883h0M2877 1593h0M2875 1594h0M2873 1589h0M2875 1594h0M2864 1590h0M2798 1840h0M2800 1830h0M2804 1851h0M2788 1847h0M2796 1767h0M2812 1782h0M2811 1779h0M2805 1798h0M2806 1761h0M2812 1797h0M2809 1776h0M2804 1791h0M2879 1591h0M2862 1590h0M2879 1594h0M2867 1578h0M2876 1589h0M2865 1595h0M2861 1588h0M2858 1650h0M2869 1648h0M2884 1633h0M2875 1646h0M2879 1634h0M2866 1651h0M2884 1644h0M2876 1638h0M2865 1651h0M2875 1642h0M2819 1817h0M2822 1802h0M2819 1814h0M2816 1828h0M2821 1804h0M2830 1792h0M2870 1663h0M2864 1679h0M2881 1697h0M2877 1672h0M2875 1672h0M2868 1681h0M2866 1676h0M2878 1687h0M2873 1690h0M2883 1700h0M2825 1689h0M2839 1685h0M2829 1684h0M2843 1688h0M2827 1699h0M2834 1683h0M2836 1686h0M2833 1689h0M2805 1750h0M2807 1750h0M2798 1746h0M2802 1790h0M2814 1737h0M2812 1747h0M2805 1752h0M2802 1763h0M2809 1782h0M2833 1770h0M2819 1766h0M2822 1775h0M2798 1774h0M2831 1780h0M2853 1774h0M2828 1783h0M2799 1848h0M2798 1839h0M2790 1847h0M2793 1918h0M2778 1906h0M2788 1896h0M2789 1889h0M2780 1911h0M2828 1811h0M2826 1819h0M2825 1812h0M2825 1825h0M2827 1819h0M2833 1813h0M2839 1799h0M2828 1815h0M2816 1832h0M2860 1693h0M2852 1696h0M2875 1679h0M2866 1685h0M2881 1682h0M2862 1698h0M2854 1695h0M2864 1693h0M2861 1680h0M2864 1693h0M2872 1686h0M2845 1689h0M2856 1693h0M2870 1680h0M2867 1671h0M2860 1688h0M2875 1680h0M2862 1705h0M2877 1704h0M2869 1706h0M2875 1702h0M2846 1687h0M2808 1764h0M2795 1764h0M2802 1749h0M2809 1752h0M2804 1765h0M2812 1768h0M2803 1752h0M2816 1748h0M2808 1740h0M2825 1755h0M2824 1747h0M2831 1735h0M2849 1730h0" stroke="#00B6EB" stroke-width="11.5"/>
<path d="M3353 1511h0M3354 1494h0M3363 1513h0M3333 1523h0M3219 1356h0M3228 1347h0M3238 1353h0M3242 1358h0M3249 1350h0M3235 1355h0M3323 1507h0M3317 1507h0M3324 1496h0M3314 1509h0M3267 1477h0M3255 1489h0M3280 1463h0M3266 1476h0M3264 1472h0M3264 1480h0M3271 1482h0M3272 1483h0M3307 1488h0M3299 1503h0M3298 1511h0M3308 1500h0M3309 1490h0M3307 1503h0M3375 1533h0M3373 1518h0M3383 1494h0M3371 1532h0M3375 1525h0M3276 1483h0M3272 1490h0M3281 1472h0M3267 1473h0M3279 1493h0M3271 1471h0M3270 1498h0M3219 1402h0M3241 1403h0M3400 1530h0M3398 1515h0M3412 1521h0M3382 1513h0M3395 1514h0M3420 1532h0M3416 1524h0M3399 1502h0M3416 1528h0M3402 1519h0M3418 1527h0M3408 1521h0M3403 1508h0M3228 1351h0M3237 1349h0M3433 1525h0M3415 1525h0M3441 1522h0M3429 1514h0M3249 1419h0M3251 1424h0M3248 1422h0M3297 1487h0M3298 1493h0M3293 1482h0M3294 1487h0M3221 1367h0M3222 1362h0M3223 1360h0M3224 1340h0M3388 1510h0M3382 1508h0M3223 1387h0M3223 1369h0M3233 1388h0M3234 1405h0M3219 1381h0M3224 1379h0M3249 1395h0M3392 1517h0M3378 1546h0M3387 1529h0M3387 1536h0M3395 1527h0M3386 1521h0M3381 1531h0M3272 1469h0M3275 1459h0M3272 1460h0M3246 1464h0M3270 1469h0M3277 1472h0M3275 1483h0M3307 1506h0M3321 1508h0M3313 1510h0M3313 1514h0M3218 1345h0M3208 1351h0M3214 1341h0M3230 1336h0M3271 1474h0M3282 1473h0M3267 1473h0M3272 1472h0M3222 1370h0M3236 1378h0M3245 1388h0M3240 1414h0M3248 1418h0M3242 1419h0M3257 1429h0M3238 1423h0M3239 1428h0M3230 1421h0M3377 1534h0M3368 1535h0M3374 1527h0M3386 1524h0M3370 1522h0M3377 1511h0M3352 1518h0M3366 1507h0M3374 1522h0M3355 1509h0M3375 1514h0M3355 1520h0M3236 1372h0M3237 1365h0M3230 1357h0M3215 1353h0M3311 1478h0M3304 1487h0M3301 1481h0M3291 1483h0M3283 1487h0M3258 1444h0M3241 1456h0M3241 1450h0M3256 1450h0M3245 1453h0M3241 1444h0M3241 1458h0M3241 1441h0M3255 1450h0M3254 1449h0M3254 1450h0M3246 1453h0M3255 1458h0M3255 1457h0M3253 1478h0M3432 1536h0M3428 1537h0M3421 1531h0M3424 1546h0M3422 1526h0M3430 1515h0M3435 1519h0M3246 1445h0M3233 1452h0M3248 1447h0M3241 1462h0M3248 1457h0M3246 1445h0M3298 1487h0M3314 1489h0M3296 1490h0M3304 1486h0M3311 1487h0M3308 1497h0M3316 1498h0M3296 1480h0M3288 1475h0M3300 1479h0M3320 1483h0M3314 1487h0M3303 1481h0M3401 1514h0M3405 1518h0M3399 1516h0M3408 1510h0M3400 1513h0M3268 1460h0M3274 1460h0M3260 1455h0M3268 1456h0M3316 1501h0M3314 1509h0M3324 1510h0M3320 1511h0M3040 894h0M3023 916h0M3050 934h0M3024 901h0M3034 901h0M3014 898h0M3048 905h0M3035 911h0M3037 910h0M3010 901h0M3176 800h0M3209 801h0M3180 799h0M3177 803h0M3194 797h0M3155 800h0M3188 797h0M3183 793h0M3209 798h0M3200 803h0" stroke="#06A4FF" stroke-width="11.5"/>
<path d="M3529 1166h0M3518 1120h0M3526 1121h0M3533 1180h0M3528 1036h0M3530 1088h0M3518 1090h0M3526 1159h0M3533 1134h0M3527 1173h0M3529 1071h0M3521 1165h0M3537 1155h0M3513 1061h0M3529 1088h0M3525 1153h0" stroke="#A58AFF" stroke-width="11.5"/>
<path d="M2716 1671h0M2734 1665h0M2717 1701h0M2712 1718h0M2721 1674h0M2731 1669h0M2700 1710h0M2721 1664h0M2689 1748h0M2712 1695h0M2723 1660h0M2704 1668h0M2741 1674h0M2727 1646h0M2698 1746h0M2758 1639h0M2716 1674h0M2728 1655h0M2717 1663h0M2728 1683h0M2713 1697h0M2710 1720h0M2727 1640h0M2741 1655h0M2732 1631h0M2697 1742h0M2704 1701h0M2693 1730h0M2736 1678h0M2689 1757h0M2726 1658h0M2743 1668h0M2716 1677h0M2729 1644h0M2697 1702h0M2705 1743h0M2733 1646h0M2712 1709h0M2713 1681h0M2697 1770h0M2720 1676h0M2707 1720h0M2705 1748h0M2697 1741h0M2718 1730h0M2698 1746h0M2690 1749h0M2725 1681h0M2743 1670h0M2716 1691h0M2718 1712h0M2738 1644h0M2728 1690h0M2720 1661h0M2707 1687h0M2722 1691h0M2751 1649h0M2742 1644h0M2706 1686h0M2689 1727h0M2725 1668h0M2717 1708h0M2695 1694h0M2721 1692h0M2687 1732h0M2710 1740h0M2737 1648h0M2706 1727h0M2726 1694h0M2732 1657h0M2695 1747h0M2676 1739h0M2698 1693h0M2716 1724h0M2706 1716h0M2727 1695h0M2705 1721h0M2725 1683h0M2705 1726h0M2694 1746h0M2730 1683h0M2710 1714h0M2707 1677h0M2727 1682h0M2728 1663h0M2714 1703h0M2734 1649h0M2694 1745h0M2734 1649h0M2698 1679h0M2721 1680h0M2727 1691h0M2718 1693h0M2704 1701h0M2710 1718h0M2705 1715h0M2717 1759h0M2739 1676h0M2686 1745h0M2701 1752h0M2731 1665h0M2704 1733h0M2726 1656h0M2719 1672h0M2696 1706h0M2708 1698h0M2710 1678h0M2706 1719h0M2696 1736h0M2697 1711h0M2686 1732h0M2716 1685h0M2715 1652h0M2708 1702h0M2702 1733h0M2695 1729h0M2736 1677h0M2695 1742h0M2702 1747h0M2711 1696h0M2711 1720h0M2710 1751h0M2726 1674h0M2727 1703h0M2724 1709h0M2713 1717h0M2710 1656h0M2703 1720h0M2725 1650h0M2708 1706h0" stroke="#DF70F8" stroke-width="11.5"/>
<path d="M2259 433h0M2180 561h0M2255 439h0M2221 483h0M2206 513h0M2239 455h0M2191 548h0M2215 514h0M2198 547h0M2237 467h0M2178 560h0M2251 427h0M2261 445h0M2226 488h0M2228 478h0M2257 437h0M2228 465h0M2171 572h0M2261 441h0M2245 456h0M2208 535h0M2185 552h0M2185 565h0M2179 582h0M2212 520h0M2198 541h0M2254 430h0M2247 441h0M2202 522h0M2247 438h0M2239 454h0M2209 506h0M2243 444h0M2195 532h0M2250 436h0M2244 460h0M2242 438h0M2182 528h0M2211 503h0M2190 537h0M2232 476h0M2214 492h0M2231 489h0M2220 494h0M2215 505h0M2205 511h0M2236 475h0M2214 499h0M2181 570h0M2250 430h0M2161 582h0M2216 485h0M2245 447h0M2194 547h0M2186 562h0M2235 476h0M2194 542h0M2219 501h0M2241 456h0M2223 474h0M2177 560h0M2202 517h0M2226 491h0M2202 522h0M2242 461h0M2235 484h0M2182 559h0M2219 501h0M2218 506h0M2169 578h0" stroke="#FB61D7" stroke-width="11.5"/>
<path d="M2593 262h0M2581 330h0M2589 291h0M2579 331h0M2593 273h0M2605 263h0M2576 326h0M2579 323h0M2578 311h0M2578 315h0M2588 287h0M2587 284h0M2573 346h0M2576 301h0M2590 293h0M2581 307h0M2578 341h0M2595 252h0M2568 324h0M2577 349h0M2587 274h0M2595 265h0M2594 251h0M2583 293h0M2574 330h0M2592 252h0M2585 286h0M2598 243h0M2588 265h0M2587 263h0M2571 336h0M2601 262h0M2587 278h0M2596 250h0M2593 276h0M2566 349h0M2590 266h0M2600 274h0M2572 347h0M2589 275h0M2581 346h0M2590 274h0M2570 361h0M2598 243h0" stroke="#FF66A8" stroke-width="11.5"/>
</g>
<g font-weight="bold" font-size="5.5" text-anchor="middle" fill="#1a1a1a">
<text x="85.4" y="29">Melanocyte</text>
<text x="40.7" y="56.7">Schwann cell</text>
<text x="141.2" y="44.6">U-Fibroblasts</text>
<text x="153.8" y="88.6">Neutrophil</text>
<text x="72.1" y="92.9">RPE</text>
<text x="110" y="94.4">Rods</text>
<text x="46.5" y="117.5">N/K T-cell</text>
<text x="164.6" y="122.5">MG</text>
<text x="148.2" y="153.9">Cone</text>
<text x="67.8" y="161.4">rM Macrophage</text>
<text x="89.7" y="169.2">CE</text>
<text x="129.4" y="170.7">RGC</text>
<text x="109.8" y="183.1">S-Fibroblasts</text>
<text x="178.3" y="105">B cell</text>
<text x="254.7" y="36.9">Melanocyte</text>
<text x="224.8" y="48.9">Schwann cell</text>
<text x="317" y="44.6">U-Fibroblasts</text>
<text x="338" y="80.9">Neutrophil</text>
<text x="241" y="99.9">RPE</text>
<text x="279.3" y="102.4">Rods</text>
<text x="215.7" y="125.3">N/K T-cell</text>
<text x="334.6" y="130.3">MG</text>
<text x="332" y="146.4">Cone</text>
<text x="244.1" y="161.4">rM Macrophage</text>
<text x="266.2" y="169.2">CE</text>
<text x="306.2" y="170.9">RGC</text>
<text x="286" y="183.1">S-Fibroblasts</text>
<text x="354.3" y="104.9">B cell</text>
</g>
<path d="M25.9 194V171M25.4 193.6H44.9" stroke="#000" stroke-width="0.9" fill="none"/><path d="M25.9 169.6l-2.2 3.6h4.4zM46.9 193.6l-3.6-2.2v4.4z" fill="#000"/><text x="22.3" y="183" font-size="4.5" text-anchor="middle" transform="rotate(-90 22.3 183)">tSNE_2</text><text x="35.9" y="200" font-size="4.5" text-anchor="middle">tSNE_1</text>
<path d="M202.7 194V171M202.2 193.6H221.7" stroke="#000" stroke-width="0.9" fill="none"/><path d="M202.7 169.6l-2.2 3.6h4.4zM223.7 193.6l-3.6-2.2v4.4z" fill="#000"/><text x="199.1" y="183" font-size="4.5" text-anchor="middle" transform="rotate(-90 199.1 183)">tSNE_2</text><text x="212.7" y="200" font-size="4.5" text-anchor="middle">tSNE_1</text>
<text x="68.6" y="13" font-size="9.6" text-anchor="middle">NS</text>
<text x="214.4" y="14" font-size="9.6" text-anchor="middle">Y25</text>
<text x="2.5" y="7.8" font-size="8.5">a</text>
<text x="150.5" y="7.8" font-size="8.5">b</text>
<g font-size="4.9" fill="#222">
<circle cx="385.5" cy="64.4" r="2.8" fill="#F8766D"/>
<text x="392.3" y="66.1">Rods</text>
<circle cx="385.5" cy="70.6" r="2.8" fill="#E38900"/>
<text x="392.3" y="72.3">RPE</text>
<circle cx="385.5" cy="76.9" r="2.8" fill="#C49A00"/>
<text x="392.3" y="78.6">N/K T−cell</text>
<circle cx="385.5" cy="83.1" r="2.8" fill="#99A800"/>
<text x="392.3" y="84.8">Neutrophil</text>
<circle cx="385.5" cy="89.3" r="2.8" fill="#53B400"/>
<text x="392.3" y="91">RGC</text>
<circle cx="385.5" cy="95.6" r="2.8" fill="#00BC56"/>
<text x="392.3" y="97.3">U−Fibroblasts</text>
<circle cx="385.5" cy="101.8" r="2.8" fill="#00C094"/>
<text x="392.3" y="103.5">rM Macrophage</text>
<circle cx="385.5" cy="108" r="2.8" fill="#00BFC4"/>
<text x="392.3" y="109.7">MG</text>
<circle cx="385.5" cy="114.3" r="2.8" fill="#00B6EB"/>
<text x="392.3" y="116">S−Fibroblasts</text>
<circle cx="385.5" cy="120.5" r="2.8" fill="#06A4FF"/>
<text x="392.3" y="122.2">Cone</text>
<circle cx="385.5" cy="126.8" r="2.8" fill="#A58AFF"/>
<text x="392.3" y="128.4">B cell</text>
<circle cx="385.5" cy="133" r="2.8" fill="#DF70F8"/>
<text x="392.3" y="134.7">CE</text>
<circle cx="385.5" cy="139.2" r="2.8" fill="#FB61D7"/>
<text x="392.3" y="140.9">Schwann cell</text>
<circle cx="385.5" cy="145.5" r="2.8" fill="#FF66A8"/>
<text x="392.3" y="147.2">Melanocyte</text>
</g>
</g>
<g id="pd">
<text x="420.6" y="8" font-size="8.5">d</text>
<rect x="467.5" y="0.5" width="164.9" height="206.8" fill="#fff" stroke="#222" stroke-width="0.7"/>
<rect x="508.4" y="9.9" width="22.7" height="97.1" fill="#E8D3DF" stroke="#1a1a1a" stroke-width="0.45"/>
<rect x="508.4" y="107" width="22.7" height="33.4" fill="#53A85D" stroke="#1a1a1a" stroke-width="0.45"/>
<rect x="508.4" y="140.4" width="22.7" height="6.7" fill="#F3BD6C" stroke="#1a1a1a" stroke-width="0.45"/>
<rect x="508.4" y="147.1" width="22.7" height=".5" fill="#F4B09E" stroke="#1a1a1a" stroke-width="0.45"/>
<rect x="508.4" y="147.6" width="22.7" height="11.9" fill="#D8E59F" stroke="#1a1a1a" stroke-width="0.45"/>
<rect x="508.4" y="159.5" width="22.7" height="14.5" fill="#4FC1EF" stroke="#1a1a1a" stroke-width="0.45"/>
<rect x="508.4" y="174" width="22.7" height="5" fill="#44708E" stroke="#1a1a1a" stroke-width="0.45"/>
<rect x="508.4" y="179" width="22.7" height="6.4" fill="#EA5B5B" stroke="#1a1a1a" stroke-width="0.45"/>
<rect x="508.4" y="185.4" width="22.7" height="4.6" fill="#E79AC7" stroke="#1a1a1a" stroke-width="0.45"/>
<rect x="508.4" y="190" width="22.7" height="3.8" fill="#A8277F" stroke="#1a1a1a" stroke-width="0.45"/>
<rect x="508.4" y="193.8" width="22.7" height="2.8" fill="#1E4330" stroke="#1a1a1a" stroke-width="0.45"/>
<rect x="508.4" y="196.6" width="22.7" height=".4" fill="#C0925E" stroke="#1a1a1a" stroke-width="0.45"/>
<rect x="508.4" y="197" width="22.7" height="2" fill="#8A4AA5" stroke="#1a1a1a" stroke-width="0.45"/>
<rect x="508.4" y="199" width="22.7" height="1.5" fill="#58565A" stroke="#1a1a1a" stroke-width="0.45"/>
<rect x="540.4" y="9.9" width="23.4" height="48.9" fill="#E8D3DF" stroke="#1a1a1a" stroke-width="0.45"/>
<rect x="540.4" y="58.8" width="23.4" height="28.5" fill="#53A85D" stroke="#1a1a1a" stroke-width="0.45"/>
<rect x="540.4" y="87.3" width="23.4" height="48" fill="#F3BD6C" stroke="#1a1a1a" stroke-width="0.45"/>
<rect x="540.4" y="135.3" width="23.4" height=".5" fill="#F4B09E" stroke="#1a1a1a" stroke-width="0.45"/>
<rect x="540.4" y="135.8" width="23.4" height="16.3" fill="#D8E59F" stroke="#1a1a1a" stroke-width="0.45"/>
<rect x="540.4" y="152.1" width="23.4" height="14.2" fill="#4FC1EF" stroke="#1a1a1a" stroke-width="0.45"/>
<rect x="540.4" y="166.3" width="23.4" height="11.1" fill="#44708E" stroke="#1a1a1a" stroke-width="0.45"/>
<rect x="540.4" y="177.4" width="23.4" height="7.2" fill="#EA5B5B" stroke="#1a1a1a" stroke-width="0.45"/>
<rect x="540.4" y="184.6" width="23.4" height="4.5" fill="#E79AC7" stroke="#1a1a1a" stroke-width="0.45"/>
<rect x="540.4" y="189.1" width="23.4" height="4.2" fill="#A8277F" stroke="#1a1a1a" stroke-width="0.45"/>
<rect x="540.4" y="193.3" width="23.4" height=".7" fill="#1E4330" stroke="#1a1a1a" stroke-width="0.45"/>
<rect x="540.4" y="194" width="23.4" height="2" fill="#C0925E" stroke="#1a1a1a" stroke-width="0.45"/>
<rect x="540.4" y="196" width="23.4" height="2.8" fill="#8A4AA5" stroke="#1a1a1a" stroke-width="0.45"/>
<rect x="540.4" y="198.8" width="23.4" height="1.7" fill="#58565A" stroke="#1a1a1a" stroke-width="0.45"/>
<g font-family='"Liberation Serif", serif' font-weight='bold' font-size='7.6' fill='#7a1f2a' text-anchor='middle'>
<text x="519.7" y="12.6">NS</text><text x="552.1" y="12.6">Y25</text></g>
<g font-family='"Liberation Serif", serif' font-size='5.6' fill='#333' text-anchor='end'>
<text x="465.2" y="16.8">1.00</text>
<text x="465.2" y="64.5">0.75</text>
<text x="465.2" y="112.8">0.50</text>
<text x="465.2" y="159.9">0.25</text>
<text x="465.2" y="207.4">0.00</text>
</g>
<text x="451" y="105" font-size="7.6" text-anchor="middle" font-weight="bold" font-family='"Liberation Serif", serif' transform="rotate(-90 451 105)" fill="#111">proportion</text>
<g font-family='"Liberation Serif", serif' font-size='6.5' fill='#111'>
<text x="571.3" y="51.4">cell_type</text>
<rect x="571.4" y="55.2" width="7.6" height="7.77" fill="#E8D3DF" stroke="#444" stroke-width="0.45"/>
<text x="582.9" y="61.2">Rods</text>
<rect x="571.4" y="63" width="7.6" height="7.77" fill="#53A85D" stroke="#444" stroke-width="0.45"/>
<text x="582.9" y="69">RPE</text>
<rect x="571.4" y="70.7" width="7.6" height="7.77" fill="#F3BD6C" stroke="#444" stroke-width="0.45"/>
<text x="582.9" y="76.7">N/K T−cell</text>
<rect x="571.4" y="78.5" width="7.6" height="7.77" fill="#F4B09E" stroke="#444" stroke-width="0.45"/>
<text x="582.9" y="84.5">Neutrophil</text>
<rect x="571.4" y="86.3" width="7.6" height="7.77" fill="#D8E59F" stroke="#444" stroke-width="0.45"/>
<text x="582.9" y="92.3">RGC</text>
<rect x="571.4" y="94" width="7.6" height="7.77" fill="#4FC1EF" stroke="#444" stroke-width="0.45"/>
<text x="582.9" y="100">U−Fibroblasts</text>
<rect x="571.4" y="101.8" width="7.6" height="7.77" fill="#44708E" stroke="#444" stroke-width="0.45"/>
<text x="582.9" y="107.8">rM Macrophage</text>
<rect x="571.4" y="109.6" width="7.6" height="7.77" fill="#EA5B5B" stroke="#444" stroke-width="0.45"/>
<text x="582.9" y="115.6">MG</text>
<rect x="571.4" y="117.4" width="7.6" height="7.77" fill="#E79AC7" stroke="#444" stroke-width="0.45"/>
<text x="582.9" y="123.4">S−Fibroblasts</text>
<rect x="571.4" y="125.1" width="7.6" height="7.77" fill="#A8277F" stroke="#444" stroke-width="0.45"/>
<text x="582.9" y="131.1">Cone</text>
<rect x="571.4" y="132.9" width="7.6" height="7.77" fill="#1E4330" stroke="#444" stroke-width="0.45"/>
<text x="582.9" y="138.9">B cell</text>
<rect x="571.4" y="140.7" width="7.6" height="7.77" fill="#C0925E" stroke="#444" stroke-width="0.45"/>
<text x="582.9" y="146.7">CE</text>
<rect x="571.4" y="148.4" width="7.6" height="7.77" fill="#8A4AA5" stroke="#444" stroke-width="0.45"/>
<text x="582.9" y="154.4">Schwann cell</text>
<rect x="571.4" y="156.2" width="7.6" height="7.77" fill="#58565A" stroke="#444" stroke-width="0.45"/>
<text x="582.9" y="162.2">Melanocyte</text>
</g></g>
<g id="pc">
<text x="3" y="218" font-size="8.5">c</text>
<path d="M34.9 317.5h0M34.9 310.9h0M34.9 304.3h0M34.9 297.8h0M34.9 291.2h0M34.9 284.6h0M34.9 278h0M34.9 271.4h0M34.9 264.9h0M34.9 258.3h0M34.9 251.7h0M34.9 245.1h0M34.9 238.5h0M34.9 232h0M34.9 225.4h0M34.9 218.8h0M57.4 317.5h0M57.4 310.9h0M57.4 304.3h0M57.4 297.8h0M57.4 291.2h0M57.4 284.6h0M57.4 278h0M57.4 271.4h0M57.4 264.9h0M57.4 258.3h0M57.4 251.7h0M57.4 245.1h0M57.4 238.5h0M57.4 232h0M57.4 225.4h0M57.4 218.8h0M79.9 317.5h0M79.9 310.9h0M79.9 304.3h0M79.9 297.8h0M79.9 291.2h0M79.9 284.6h0M79.9 278h0M79.9 271.4h0M79.9 264.9h0M79.9 258.3h0M79.9 251.7h0M79.9 245.1h0M79.9 238.5h0M79.9 232h0M79.9 225.4h0M79.9 218.8h0M102.4 317.5h0M102.4 310.9h0M102.4 304.3h0M102.4 297.8h0M102.4 291.2h0M102.4 284.6h0M102.4 278h0M102.4 271.4h0M102.4 264.9h0M102.4 258.3h0M102.4 251.7h0M102.4 245.1h0M102.4 238.5h0M102.4 232h0M102.4 225.4h0M102.4 218.8h0M124.9 317.5h0M124.9 310.9h0M124.9 304.3h0M124.9 297.8h0M124.9 291.2h0M124.9 284.6h0M124.9 278h0M124.9 271.4h0M124.9 264.9h0M124.9 258.3h0M124.9 251.7h0M124.9 245.1h0M124.9 238.5h0M124.9 232h0M124.9 225.4h0M124.9 218.8h0M147.4 317.5h0M147.4 310.9h0M147.4 304.3h0M147.4 297.8h0M147.4 291.2h0M147.4 284.6h0M147.4 278h0M147.4 271.4h0M147.4 264.9h0M147.4 258.3h0M147.4 251.7h0M147.4 245.1h0M147.4 238.5h0M147.4 232h0M147.4 225.4h0M147.4 218.8h0M169.9 317.5h0M169.9 310.9h0M169.9 304.3h0M169.9 297.8h0M169.9 291.2h0M169.9 284.6h0M169.9 278h0M169.9 271.4h0M169.9 264.9h0M169.9 258.3h0M169.9 251.7h0M169.9 245.1h0M169.9 238.5h0M169.9 232h0M169.9 225.4h0M169.9 218.8h0M192.4 317.5h0M192.4 310.9h0M192.4 304.3h0M192.4 297.8h0M192.4 291.2h0M192.4 284.6h0M192.4 278h0M192.4 271.4h0M192.4 264.9h0M192.4 258.3h0M192.4 251.7h0M192.4 245.1h0M192.4 238.5h0M192.4 232h0M192.4 225.4h0M192.4 218.8h0M214.9 317.5h0M214.9 310.9h0M214.9 304.3h0M214.9 297.8h0M214.9 291.2h0M214.9 284.6h0M214.9 278h0M214.9 271.4h0M214.9 264.9h0M214.9 258.3h0M214.9 251.7h0M214.9 245.1h0M214.9 238.5h0M214.9 232h0M214.9 225.4h0M214.9 218.8h0M237.4 317.5h0M237.4 310.9h0M237.4 304.3h0M237.4 297.8h0M237.4 291.2h0M237.4 284.6h0M237.4 278h0M237.4 271.4h0M237.4 264.9h0M237.4 258.3h0M237.4 251.7h0M237.4 245.1h0M237.4 238.5h0M237.4 232h0M237.4 225.4h0M237.4 218.8h0M259.9 317.5h0M259.9 310.9h0M259.9 304.3h0M259.9 297.8h0M259.9 291.2h0M259.9 284.6h0M259.9 278h0M259.9 271.4h0M259.9 264.9h0M259.9 258.3h0M259.9 251.7h0M259.9 245.1h0M259.9 238.5h0M259.9 232h0M259.9 225.4h0M259.9 218.8h0M282.4 317.5h0M282.4 310.9h0M282.4 304.3h0M282.4 297.8h0M282.4 291.2h0M282.4 284.6h0M282.4 278h0M282.4 271.4h0M282.4 264.9h0M282.4 258.3h0M282.4 251.7h0M282.4 245.1h0M282.4 238.5h0M282.4 232h0M282.4 225.4h0M282.4 218.8h0M304.9 317.5h0M304.9 310.9h0M304.9 304.3h0M304.9 297.8h0M304.9 291.2h0M304.9 284.6h0M304.9 278h0M304.9 271.4h0M304.9 264.9h0M304.9 258.3h0M304.9 251.7h0M304.9 245.1h0M304.9 238.5h0M304.9 232h0M304.9 225.4h0M304.9 218.8h0M327.4 317.5h0M327.4 310.9h0M327.4 304.3h0M327.4 297.8h0M327.4 291.2h0M327.4 284.6h0M327.4 278h0M327.4 271.4h0M327.4 264.9h0M327.4 258.3h0M327.4 251.7h0M327.4 245.1h0M327.4 238.5h0M327.4 232h0M327.4 225.4h0M327.4 218.8h0M349.9 317.5h0M349.9 310.9h0M349.9 304.3h0M349.9 297.8h0M349.9 291.2h0M349.9 284.6h0M349.9 278h0M349.9 271.4h0M349.9 264.9h0M349.9 258.3h0M349.9 251.7h0M349.9 245.1h0M349.9 238.5h0M349.9 232h0M349.9 225.4h0M349.9 218.8h0M372.4 317.5h0M372.4 310.9h0M372.4 304.3h0M372.4 297.8h0M372.4 291.2h0M372.4 284.6h0M372.4 278h0M372.4 271.4h0M372.4 264.9h0M372.4 258.3h0M372.4 251.7h0M372.4 245.1h0M372.4 238.5h0M372.4 232h0M372.4 225.4h0M372.4 218.8h0M394.9 317.5h0M394.9 310.9h0M394.9 304.3h0M394.9 297.8h0M394.9 291.2h0M394.9 284.6h0M394.9 278h0M394.9 271.4h0M394.9 264.9h0M394.9 258.3h0M394.9 251.7h0M394.9 245.1h0M394.9 238.5h0M394.9 232h0M394.9 225.4h0M394.9 218.8h0M417.4 317.5h0M417.4 310.9h0M417.4 304.3h0M417.4 297.8h0M417.4 291.2h0M417.4 284.6h0M417.4 278h0M417.4 271.4h0M417.4 264.9h0M417.4 258.3h0M417.4 251.7h0M417.4 245.1h0M417.4 238.5h0M417.4 232h0M417.4 225.4h0M417.4 218.8h0M439.9 317.5h0M439.9 310.9h0M439.9 304.3h0M439.9 297.8h0M439.9 291.2h0M439.9 284.6h0M439.9 278h0M439.9 271.4h0M439.9 264.9h0M439.9 258.3h0M439.9 251.7h0M439.9 245.1h0M439.9 238.5h0M439.9 232h0M439.9 225.4h0M439.9 218.8h0M462.4 317.5h0M462.4 310.9h0M462.4 304.3h0M462.4 297.8h0M462.4 291.2h0M462.4 284.6h0M462.4 278h0M462.4 271.4h0M462.4 264.9h0M462.4 258.3h0M462.4 251.7h0M462.4 245.1h0M462.4 238.5h0M462.4 232h0M462.4 225.4h0M462.4 218.8h0M484.9 317.5h0M484.9 310.9h0M484.9 304.3h0M484.9 297.8h0M484.9 291.2h0M484.9 284.6h0M484.9 278h0M484.9 271.4h0M484.9 264.9h0M484.9 258.3h0M484.9 251.7h0M484.9 245.1h0M484.9 238.5h0M484.9 232h0M484.9 225.4h0M484.9 218.8h0M507.4 317.5h0M507.4 310.9h0M507.4 304.3h0M507.4 297.8h0M507.4 291.2h0M507.4 284.6h0M507.4 278h0M507.4 271.4h0M507.4 264.9h0M507.4 258.3h0M507.4 251.7h0M507.4 245.1h0M507.4 238.5h0M507.4 232h0M507.4 225.4h0M507.4 218.8h0M529.9 317.5h0M529.9 310.9h0M529.9 304.3h0M529.9 297.8h0M529.9 291.2h0M529.9 284.6h0M529.9 278h0M529.9 271.4h0M529.9 264.9h0M529.9 258.3h0M529.9 251.7h0M529.9 245.1h0M529.9 238.5h0M529.9 232h0M529.9 225.4h0M529.9 218.8h0M552.4 317.5h0M552.4 310.9h0M552.4 304.3h0M552.4 297.8h0M552.4 291.2h0M552.4 284.6h0M552.4 278h0M552.4 271.4h0M552.4 264.9h0M552.4 258.3h0M552.4 251.7h0M552.4 245.1h0M552.4 238.5h0M552.4 232h0M552.4 225.4h0M552.4 218.8h0M574.9 317.5h0M574.9 310.9h0M574.9 304.3h0M574.9 297.8h0M574.9 291.2h0M574.9 284.6h0M574.9 278h0M574.9 271.4h0M574.9 264.9h0M574.9 258.3h0M574.9 251.7h0M574.9 245.1h0M574.9 238.5h0M574.9 232h0M574.9 225.4h0M574.9 218.8h0M597.4 317.5h0M597.4 310.9h0M597.4 304.3h0M597.4 297.8h0M597.4 291.2h0M597.4 284.6h0M597.4 278h0M597.4 271.4h0M597.4 264.9h0M597.4 258.3h0M597.4 251.7h0M597.4 245.1h0M597.4 238.5h0M597.4 232h0M597.4 225.4h0M597.4 218.8h0" stroke="#d6d6d6" stroke-width="0.55" stroke-linecap="round" fill="none"/>
<circle cx="34.9" cy="317.5" r="2.35" fill="#1010F0"/>
<circle cx="34.9" cy="310.9" r="2.20" fill="#1010F0"/>
<circle cx="34.9" cy="297.8" r="1.06" fill="#B09CEB"/>
<circle cx="34.9" cy="291.2" r="0.86" fill="#B09CEB"/>
<circle cx="34.9" cy="278" r="0.99" fill="#B09CEB"/>
<circle cx="34.9" cy="271.4" r="0.92" fill="#B09CEB"/>
<circle cx="34.9" cy="264.9" r="0.99" fill="#B09CEB"/>
<circle cx="34.9" cy="258.3" r="0.92" fill="#B09CEB"/>
<circle cx="34.9" cy="251.7" r="0.59" fill="#C9C2EE"/>
<circle cx="34.9" cy="245.1" r="1.52" fill="#B09CEB"/>
<circle cx="34.9" cy="238.5" r="0.92" fill="#B09CEB"/>
<circle cx="34.9" cy="232" r="0.92" fill="#B09CEB"/>
<circle cx="34.9" cy="225.4" r="0.99" fill="#B09CEB"/>
<circle cx="34.9" cy="218.8" r="1.25" fill="#B09CEB"/>
<circle cx="34.9" cy="304.3" r="0.40" fill="#C9C2EE"/>
<circle cx="34.9" cy="284.6" r="0.40" fill="#C9C2EE"/>
<circle cx="57.4" cy="317.5" r="2.12" fill="#1010F0"/>
<circle cx="57.4" cy="310.9" r="1.98" fill="#1010F0"/>
<circle cx="57.4" cy="297.8" r="0.95" fill="#B09CEB"/>
<circle cx="57.4" cy="291.2" r="0.77" fill="#B09CEB"/>
<circle cx="57.4" cy="278" r="0.89" fill="#B09CEB"/>
<circle cx="57.4" cy="271.4" r="0.83" fill="#B09CEB"/>
<circle cx="57.4" cy="264.9" r="0.89" fill="#B09CEB"/>
<circle cx="57.4" cy="258.3" r="0.83" fill="#B09CEB"/>
<circle cx="57.4" cy="251.7" r="0.53" fill="#C9C2EE"/>
<circle cx="57.4" cy="245.1" r="1.37" fill="#B09CEB"/>
<circle cx="57.4" cy="238.5" r="0.83" fill="#B09CEB"/>
<circle cx="57.4" cy="232" r="0.83" fill="#B09CEB"/>
<circle cx="57.4" cy="225.4" r="0.89" fill="#B09CEB"/>
<circle cx="57.4" cy="218.8" r="1.13" fill="#B09CEB"/>
<circle cx="57.4" cy="304.3" r="0.36" fill="#C9C2EE"/>
<circle cx="57.4" cy="284.6" r="0.36" fill="#C9C2EE"/>
<circle cx="79.9" cy="304.3" r="2.40" fill="#1010F0"/>
<circle cx="79.9" cy="297.8" r="1.90" fill="#5A30E0"/>
<circle cx="79.9" cy="284.6" r="0.35" fill="#C9C2EE"/>
<circle cx="102.4" cy="304.3" r="1.55" fill="#1010F0"/>
<circle cx="102.4" cy="297.8" r="0.65" fill="#3020E8"/>
<circle cx="124.9" cy="291.2" r="1.55" fill="#1010F0"/>
<circle cx="147.4" cy="291.2" r="1.65" fill="#1010F0"/>
<circle cx="169.9" cy="284.6" r="2.40" fill="#1010F0"/>
<circle cx="169.9" cy="304.3" r="0.40" fill="#C9C2EE"/>
<circle cx="192.4" cy="284.6" r="2.40" fill="#1010F0"/>
<circle cx="192.4" cy="304.3" r="0.40" fill="#C9C2EE"/>
<circle cx="214.9" cy="278" r="0.80" fill="#7060F0"/>
<circle cx="214.9" cy="232" r="0.85" fill="#3030F0"/>
<circle cx="214.9" cy="225.4" r="0.40" fill="#C9C2EE"/>
<circle cx="237.4" cy="278" r="1.60" fill="#1010F0"/>
<circle cx="259.9" cy="278" r="0.85" fill="#5048F0"/>
<circle cx="282.4" cy="271.4" r="1.60" fill="#1010F0"/>
<circle cx="282.4" cy="258.3" r="0.55" fill="#B09CEB"/>
<circle cx="282.4" cy="251.7" r="0.50" fill="#B09CEB"/>
<circle cx="282.4" cy="232" r="1.15" fill="#2A20F0"/>
<circle cx="282.4" cy="225.4" r="0.70" fill="#B09CEB"/>
<circle cx="304.9" cy="264.9" r="1.15" fill="#1010F0"/>
<circle cx="304.9" cy="238.5" r="2.15" fill="#2A20F0"/>
<circle cx="327.4" cy="264.9" r="1.15" fill="#1010F0"/>
<circle cx="327.4" cy="238.5" r="2.15" fill="#2A20F0"/>
<circle cx="349.9" cy="258.3" r="2.30" fill="#1010F0"/>
<circle cx="349.9" cy="225.4" r="1.25" fill="#B09CEB"/>
<circle cx="349.9" cy="251.7" r="0.60" fill="#C9C2EE"/>
<circle cx="349.9" cy="271.4" r="0.55" fill="#C9C2EE"/>
<circle cx="349.9" cy="278" r="0.55" fill="#C9C2EE"/>
<circle cx="372.4" cy="251.7" r="0.85" fill="#1010F0"/>
<circle cx="372.4" cy="271.4" r="0.55" fill="#3030F0"/>
<circle cx="394.9" cy="251.7" r="0.95" fill="#1010F0"/>
<circle cx="417.4" cy="245.1" r="1.15" fill="#1010F0"/>
<circle cx="439.9" cy="245.1" r="2.10" fill="#1010F0"/>
<circle cx="462.4" cy="238.5" r="2.20" fill="#1010F0"/>
<circle cx="484.9" cy="238.5" r="2.00" fill="#1010F0"/>
<circle cx="507.4" cy="232" r="0.90" fill="#1010F0"/>
<circle cx="529.9" cy="232" r="1.05" fill="#1010F0"/>
<circle cx="529.9" cy="304.3" r="0.45" fill="#C9C2EE"/>
<circle cx="552.4" cy="225.4" r="1.20" fill="#1010F0"/>
<circle cx="574.9" cy="225.4" r="2.20" fill="#1010F0"/>
<circle cx="597.4" cy="218.8" r="1.05" fill="#1010F0"/>
<circle cx="552.4" cy="291.2" r="0.40" fill="#C9C2EE"/>
<path d="M21.4 215.5V321H611" stroke="#555" stroke-width="0.45" fill="none"/>
<path d="M19.9 317.5h1.5M19.9 310.9h1.5M19.9 304.3h1.5M19.9 297.8h1.5M19.9 291.2h1.5M19.9 284.6h1.5M19.9 278h1.5M19.9 271.4h1.5M19.9 264.9h1.5M19.9 258.3h1.5M19.9 251.7h1.5M19.9 245.1h1.5M19.9 238.5h1.5M19.9 232h1.5M19.9 225.4h1.5M19.9 218.8h1.5M34.9 321v1.4M57.4 321v1.4M79.9 321v1.4M102.4 321v1.4M124.9 321v1.4M147.4 321v1.4M169.9 321v1.4M192.4 321v1.4M214.9 321v1.4M237.4 321v1.4M259.9 321v1.4M282.4 321v1.4M304.9 321v1.4M327.4 321v1.4M349.9 321v1.4M372.4 321v1.4M394.9 321v1.4M417.4 321v1.4M439.9 321v1.4M462.4 321v1.4M484.9 321v1.4M507.4 321v1.4M529.9 321v1.4M552.4 321v1.4M574.9 321v1.4M597.4 321v1.4" stroke="#666" stroke-width="0.35"/>
<g font-size="5.4" fill="#222" text-anchor="end">
<text x="18.6" y="319.4">0</text>
<text x="18.6" y="312.8">1</text>
<text x="18.6" y="306.2">2</text>
<text x="18.6" y="299.7">3</text>
<text x="18.6" y="293.1">4</text>
<text x="18.6" y="286.5">5</text>
<text x="18.6" y="279.9">6</text>
<text x="18.6" y="273.3">7</text>
<text x="18.6" y="266.8">8</text>
<text x="18.6" y="260.2">9</text>
<text x="18.6" y="253.6">10</text>
<text x="18.6" y="247">11</text>
<text x="18.6" y="240.4">12</text>
<text x="18.6" y="233.9">13</text>
<text x="18.6" y="227.3">14</text>
<text x="18.6" y="220.7">15</text>
</g><g font-size="5.4" fill="#222" text-anchor="middle">
<text x="31.1" y="329.4">Pde6a</text>
<text x="53.8" y="329.4">Nr2e3</text>
<text x="76.6" y="329.4">Rpe65</text>
<text x="99.3" y="329.4">Car12</text>
<text x="122" y="329.4">Nkg7</text>
<text x="144.8" y="329.4">Cd3d</text>
<text x="167.5" y="329.4">S100a8</text>
<text x="190.2" y="329.4">S100a9</text>
<text x="212.9" y="329.4">Sncg</text>
<text x="235.7" y="329.4">Ptprb</text>
<text x="258.4" y="329.4">Robo4</text>
<text x="281.1" y="329.4">Serpine2</text>
<text x="303.9" y="329.4">H2-Ab1</text>
<text x="326.6" y="329.4">H2-Eb1</text>
<text x="349.3" y="329.4">Ptn</text>
<text x="372.1" y="329.4">Slc4a4</text>
<text x="394.8" y="329.4">Mmp3</text>
<text x="417.5" y="329.4">Opn1sw</text>
<text x="440.2" y="329.4">Arr3</text>
<text x="463" y="329.4">Cd79a</text>
<text x="485.7" y="329.4">Igkc2</text>
<text x="508.4" y="329.4">Cspg4</text>
<text x="531.2" y="329.4">Acta2</text>
<text x="553.9" y="329.4">Mbp</text>
<text x="576.6" y="329.4">Plp1</text>
<text x="599.4" y="329.4">Rbp2</text>
</g>
<text x="7.5" y="279.5" font-size="8.7" text-anchor="middle" transform="rotate(-90 7.5 279.5)" fill="#111">Identity</text>
<g font-size="8.8" text-anchor="end" fill="#111">
<text x="591" y="254.4">Percent</text><text x="594.2" y="263.2">expressed</text>
<text x="593" y="280.6">Average</text><text x="593.4" y="289.4">expression</text></g>
<circle cx="617.5" cy="249.3" r="0.3" fill="#111"/>
<circle cx="617.5" cy="253.3" r="0.65" fill="#111"/>
<circle cx="617.5" cy="257.5" r="1.0" fill="#111"/>
<circle cx="617.5" cy="261.9" r="1.45" fill="#111"/>
<g font-size="3.4" fill="#333">
<text x="621.8" y="250.5">0</text>
<text x="621.8" y="254.5">25</text>
<text x="621.8" y="258.7">50</text>
<text x="621.8" y="263.1">75</text>
<text x="622.4" y="277.5">2</text>
<text x="622.4" y="284">1</text>
<text x="622.4" y="290.4">0</text>
</g>
<rect x="614.8" y="273.2" width="5.8" height="21.5" fill="url(#gc)"/>
<path d="M654.8 269.2v1.8" stroke="#bbb" stroke-width="0.5"/>
</g>
<g id="pef">
<text x="2.6" y="360.8" font-size="8.2">e</text>
<g font-family='"DejaVu Sans", "Liberation Sans", sans-serif'>
<text x="97.9" y="365" font-size="7.5" text-anchor="middle" fill="#222">S-Fibroblasts-Y25</text>
<rect x="48.4" y="368.4" width="98.9" height="173.6" fill="#fff" stroke="#333" stroke-width="0.55"/>
<path d="M48.4 369h-2M48.4 388.9h-2M48.4 408.7h-2M48.4 428.5h-2M48.4 448.4h-2M48.4 468.2h-2M48.4 488.1h-2M48.4 508h-2M48.4 527.8h-2M53 542v2M88.7 542v2M124.5 542v2" stroke="#333" stroke-width="0.5"/>
<g font-size="6.6" fill="#333" text-anchor="end">
<text x="45" y="371.4">0.210</text>
<text x="45" y="391.2">0.205</text>
<text x="45" y="411">0.200</text>
<text x="45" y="430.9">0.195</text>
<text x="45" y="450.8">0.190</text>
<text x="45" y="470.6">0.185</text>
<text x="45" y="490.5">0.180</text>
<text x="45" y="510.3">0.175</text>
<text x="45" y="530.1">0.170</text>
</g>
<path d="M57.5 451.6L79.5 451" stroke="#ccc" stroke-width="0.5"/>
<path d="M56 453L58 457.5" stroke="#ccc" stroke-width="0.5"/>
<path d="M65.4 493.7h0M66 495.1h0M66.6 495.9h0M67.1 497.3h0M67.7 497.9h0M68.3 498.6h0M68.9 499.7h0M69.5 500.1h0M70 500.6h0M70.6 501.3h0M71.2 501.9h0M71.8 502.2h0M72.3 502.7h0M72.9 502.8h0M73.5 503.3h0M74.1 503.7h0M74.7 504h0M75.2 504.3h0M75.8 504.6h0M76.4 505.1h0M77 505.4h0M77.6 505.7h0M78.1 506.1h0M78.7 506.2h0M79.3 506.6h0M79.9 506.9h0M80.5 507.2h0M81 507.2h0M81.6 507.5h0M82.2 507.5h0M82.8 507.9h0M83.4 507.9h0M83.9 508.2h0M84.5 508.8h0M85.1 508.5h0M85.7 509.1h0M86.2 509.2h0M86.8 509.3h0M87.4 509.6h0M88 509.7h0M88.6 510h0M89.1 510h0M89.7 510.1h0M90.3 510.3h0M90.9 510.4h0M91.5 510.7h0M92 510.7h0M92.6 511.2h0M93.2 510.9h0M93.8 511.2h0M94.4 511.4h0M94.9 511.4h0M95.5 512.1h0M96.1 511.6h0M96.7 512.1h0M97.3 512.2h0M97.8 512.7h0M98.4 512.3h0M99 512.9h0M99.6 512.8h0M100.1 513h0M100.7 513.1h0M101.3 513.4h0M101.9 513.3h0M102.5 513.6h0M103 513.8h0M103.6 514.2h0M104.2 513.7h0M104.8 514.5h0M105.4 514.5h0M105.9 514.4h0M106.5 514.7h0M107.1 514.7h0M107.7 515.2h0M108.3 515.1h0M108.8 515.2h0M109.4 515.3h0M110 515.5h0M110.6 515.6h0M111.1 515.6h0M111.7 516.2h0M112.3 515.7h0M112.9 515.6h0M113.5 516.3h0M114 516.4h0M114.6 516.6h0M115.2 516.7h0M115.8 516.8h0M116.4 517h0M116.9 517.3h0M117.5 517.2h0M118.1 517.3h0M118.7 517.8h0M119.3 517.7h0M119.8 517.6h0M120.4 518.2h0M121 518.1h0M121.6 518h0M122.2 518h0M122.7 518.3h0M123.3 518.3h0M123.9 518.4h0M124.5 518.5h0M125 518.7h0M125.6 519.1h0M126.2 518.9h0M126.8 519h0M127.4 519.5h0M127.9 519.6h0M128.5 519.9h0M129.1 520.1h0M129.7 520.1h0M130.3 520.3h0M130.8 520.6h0M131.4 520.7h0M132 521.3h0M132.6 521.7h0M133.2 521.8h0M133.7 522.3h0M134.3 522.9h0M134.9 523.4h0M135.5 524h0M136.1 524.8h0M136.6 525.6h0M137.2 526.5h0M137.8 527.2h0M138.4 528.3h0M138.9 529h0M139.5 529.6h0M140.1 530.1h0M140.7 531.3h0M141.3 532.3h0M141.8 532.9h0M142.4 533.8h0M143 534.7h0M56.1 456.4h0M56.8 458.2h0M57.7 459.9h0M58.4 461.7h0M59.3 463.4h0M60 465.2h0M60.7 467.6h0M61.4 469.2h0M62.1 476.2h0M63.1 478.6h0M63.6 483.2h0M64.5 483.9h0M65 491.2h0" stroke="#1f77b4" stroke-width="2.45" stroke-linecap="round" fill="none"/>
<path d="M53 376.5h0M54 385h0M54.4 447.3h0M55.2 450.2h0M55.7 452h0" stroke="#e01010" stroke-width="2.6" stroke-linecap="round" fill="none"/>
<g font-size="7.3" fill="#e01010">
<text x="57.7" y="374.9">Elk1(+)</text>
<text x="58.4" y="391.6">Twist1(+)</text>
<text x="48.6" y="443.9">Pitx1(+)</text>
<text x="81" y="453.4">Pou5f1(+)</text>
<text x="50.4" y="462">Klf5(+)</text>
</g></g>
<text x="162.5" y="360.8" font-size="8.2">f</text>
<g font-family='"DejaVu Sans", "Liberation Sans", sans-serif'>
<text x="238.6" y="365" font-size="7.5" text-anchor="middle" fill="#222">U-Fibroblasts-Y25</text>
<rect x="189.6" y="368.4" width="98.6" height="173.7" fill="#fff" stroke="#333" stroke-width="0.55"/>
<path d="M189.6 370.7h-2M189.6 391.2h-2M189.6 411.8h-2M189.6 432.4h-2M189.6 452.9h-2M189.6 473.4h-2M189.6 494h-2M189.6 514.5h-2M189.6 535.1h-2M194 542.1v2M229.8 542.1v2M265.3 542.1v2" stroke="#333" stroke-width="0.5"/>
<g font-size="6.6" fill="#333" text-anchor="end">
<text x="184.6" y="373.1">0.25</text>
<text x="184.6" y="393.6">0.24</text>
<text x="184.6" y="414.1">0.23</text>
<text x="184.6" y="434.7">0.22</text>
<text x="184.6" y="455.2">0.21</text>
<text x="184.6" y="475.8">0.20</text>
<text x="184.6" y="496.4">0.19</text>
<text x="184.6" y="516.9">0.18</text>
<text x="184.6" y="537.4">0.17</text>
</g>
<path d="M196.5 376.2L224.5 376.6" stroke="#ccc" stroke-width="0.5"/>
<path d="M197 398.8L232.5 394.6" stroke="#ccc" stroke-width="0.5"/>
<path d="M198 408.5L223 413" stroke="#ccc" stroke-width="0.5"/>
<path d="M195 393L197.5 390.5" stroke="#ccc" stroke-width="0.5"/>
<path d="M205.2 488h0M205.8 488.7h0M206.4 490h0M207 490.6h0M207.7 491.6h0M208.3 492.1h0M208.9 492.8h0M209.5 493.2h0M210.1 493.9h0M210.7 494.6h0M211.3 495.4h0M211.9 495.9h0M212.6 496.4h0M213.2 497.2h0M213.8 497.8h0M214.4 498.1h0M215 498.5h0M215.6 499h0M216.2 499.6h0M216.8 499.9h0M217.5 499.9h0M218.1 500.5h0M218.7 500.7h0M219.3 501h0M219.9 501.6h0M220.5 501.8h0M221.1 501.8h0M221.7 502.2h0M222.4 502.5h0M223 502.5h0M223.6 502.8h0M224.2 503.2h0M224.8 502.9h0M225.4 503.6h0M226 503.9h0M226.7 504h0M227.3 503.9h0M227.9 504.4h0M228.5 504.4h0M229.1 504.9h0M229.7 505.1h0M230.3 505.3h0M230.9 505.4h0M231.6 505.7h0M232.2 506.3h0M232.8 506.2h0M233.4 506.7h0M234 507h0M234.6 507.1h0M235.2 508h0M235.8 507.8h0M236.5 508.5h0M237.1 507.9h0M237.7 508h0M238.3 508.8h0M238.9 508.9h0M239.5 508.8h0M240.1 509h0M240.7 508.8h0M241.4 509.2h0M242 509.3h0M242.6 509.6h0M243.2 509.9h0M243.8 509.8h0M244.4 510h0M245 509.9h0M245.7 510h0M246.3 510.2h0M246.9 510.3h0M247.5 510.7h0M248.1 510.4h0M248.7 511h0M249.3 510.6h0M249.9 511.2h0M250.6 511h0M251.2 511.6h0M251.8 511.5h0M252.4 511.7h0M253 511.9h0M253.6 511.8h0M254.2 511.9h0M254.8 511.8h0M255.5 512.6h0M256.1 512.5h0M256.7 512.7h0M257.3 513h0M257.9 513.6h0M258.5 513.1h0M259.1 513.7h0M259.7 513.8h0M260.4 514.2h0M261 513.9h0M261.6 514.4h0M262.2 514.9h0M262.8 515.2h0M263.4 515.4h0M264 515.1h0M264.7 515.5h0M265.3 515.7h0M265.9 515.6h0M266.5 515.8h0M267.1 516.5h0M267.7 516.6h0M268.3 516.7h0M268.9 517.2h0M269.6 516.9h0M270.2 517.6h0M270.8 517.9h0M271.4 518.2h0M272 518.7h0M272.6 519.2h0M273.2 519.8h0M273.8 520.3h0M274.5 521.3h0M275.1 521.7h0M275.7 522.8h0M276.3 523.5h0M276.9 524.2h0M277.5 525.2h0M278.1 525.6h0M278.7 526.6h0M279.4 526.8h0M280 527.5h0M280.6 528.3h0M281.2 529h0M197 417h0M197.7 418.6h0M198.7 422.1h0M199.4 448h0M200.1 452.1h0M201 464h0M201.7 468.7h0M202.4 472.7h0M203.1 475.5h0M203.6 478.6h0M204.3 483.7h0M282.4 533.6h0M283 534.4h0" stroke="#1f77b4" stroke-width="2.45" stroke-linecap="round" fill="none"/>
<path d="M193.8 376.1h0M194.3 394.1h0M195.2 399.2h0M195.7 400.8h0M196.6 408.3h0" stroke="#e01010" stroke-width="2.6" stroke-linecap="round" fill="none"/>
<g font-size="7.3" fill="#e01010">
<text x="225.6" y="379.1">Foxd1(+)</text>
<text x="189.6" y="390.1">Foxd2(+)</text>
<text x="233.3" y="396.6">Klf5(+)</text>
<text x="201" y="405.3">Pitx3(+)</text>
<text x="223.9" y="416.5">Twist1(+)</text>
</g></g>
</g>
<g id="pg">
<text x="2.6" y="573.6" font-size="8.6">g</text>
<rect x="22.9" y="564.8" width="254.7" height="7" fill="#0000FF" stroke="#555" stroke-width="0.4"/>
<rect x="22.9" y="573.2" width="191.9" height="6.5" fill="#FF0000" stroke="#555" stroke-width="0.4"/>
<rect x="214.8" y="573.2" width="62.8" height="6.5" fill="#FFA500" stroke="#555" stroke-width="0.4"/>
<path d="M22.9 584.2h.75M25.1 584.2h.75M29.6 584.2h.75M46.9 584.2h.75M48.4 584.2h.75M58.1 584.2h.75M84.4 584.2h.75M87.4 584.2h.75M89.6 584.2h.75M107.6 584.2h.75M110.6 584.2h.75M118.1 584.2h.75M135.3 584.2h.75M139.1 584.2h1.5M141.3 584.2h.75M151.8 584.2h.75M154.8 584.2h.75M159.3 584.2h.75M174.3 584.2h.75M175.8 584.2h.75M180.3 584.2h.75M208.8 584.2h.75M216.3 584.2h.75M219.3 584.2h.75M226.8 584.2h.75M230.5 584.2h.75M232 584.2h.75M235 584.2h.75M239.5 584.2h.75M244.7 584.2h1.5M246.9 584.2h.75M258.2 584.2h.75M267.1 584.2h.75M272.4 584.2h1.5M30.4 590.2h.75M37.1 590.2h.75M70.1 590.2h.75M90.4 590.2h.75M119.6 590.2h.75M122.6 590.2h.75M139.1 590.2h.75M148.1 590.2h.75M175.8 590.2h.75M184.8 590.2h.75M193.8 590.2h.75M201.3 590.2h.75M76.1 596.2h.75M82.9 596.2h.75M106.1 596.2h.75M130.8 596.2h.75M149.6 596.2h.75M166.8 596.2h.75M27.4 602.2h.75M88.1 602.2h.75M96.4 602.2h.75M140.6 602.2h.75M177.3 602.2h.75M197.6 602.2h.75M22.9 608.2h1.5M28.1 608.2h.75M71.6 608.2h.75M132.3 608.2h.75M154.8 608.2h.75M167.6 608.2h.75M231.2 608.2h.75M256.7 608.2h.75M52.9 614.1h.75M75.4 614.1h.75M80.6 614.1h.75M95.6 614.1h.75M130.8 614.1h.75M137.6 614.1h.75M148.1 614.1h.75M149.6 614.1h.75M158.6 614.1h.75M194.6 614.1h.75M220 614.1h.75M230.5 614.1h.75M32.6 620.1h.75M36.4 620.1h.75M39.4 620.1h.75M43.9 620.1h.75M45.4 620.1h1.5M85.1 620.1h.75M104.6 620.1h1.5M109.9 620.1h.75M111.4 620.1h.75M142.1 620.1h.75M149.6 620.1h.75M151.1 620.1h.75M154.8 620.1h.75M167.6 620.1h.75M171.3 620.1h.75M172.8 620.1h.75M174.3 620.1h.75M177.3 620.1h.75M180.3 620.1h.75M183.3 620.1h.75M186.3 620.1h.75M189.3 620.1h.75M25.1 626.1h.75M26.6 626.1h.75M32.6 626.1h.75M52.1 626.1h.75M53.6 626.1h.75M56.6 626.1h.75M62.6 626.1h.75M65.6 626.1h.75M67.9 626.1h.75M75.4 626.1h1.5M108.4 626.1h.75M109.9 626.1h.75M111.4 626.1h.75M127.8 626.1h1.5M131.6 626.1h.75M136.1 626.1h.75M172.8 626.1h.75M185.6 626.1h.75M211.8 626.1h.75M237.2 626.1h.75M22.9 632.1h.75M25.9 632.1h.75M34.1 632.1h.75M39.4 632.1h.75M42.4 632.1h.75M43.9 632.1h.75M45.4 632.1h.75M46.9 632.1h.75M52.9 632.1h.75M54.4 632.1h.75M65.6 632.1h.75M70.9 632.1h.75M76.1 632.1h.75M80.6 632.1h.75M91.1 632.1h.75M97.9 632.1h.75M104.6 632.1h.75M121.8 632.1h1.5M131.6 632.1h.75M134.6 632.1h.75M139.8 632.1h1.5M142.1 632.1h.75M148.8 632.1h.75M151.8 632.1h.75M154.8 632.1h.75M159.3 632.1h.75M172.1 632.1h.75M174.3 632.1h.75M175.8 632.1h1.5M178.8 632.1h.75M181.1 632.1h1.5M183.3 632.1h.75M187.1 632.1h.75M189.3 632.1h.75M201.3 632.1h.75M211.8 632.1h.75M214.8 632.1h.75M216.3 632.1h.75M220 632.1h.75M226 632.1h.75M228.3 632.1h.75M229.8 632.1h.75M232 632.1h.75M233.5 632.1h1.5M236.5 632.1h.75M238 632.1h1.5M241 632.1h.75M242.5 632.1h.75M244.7 632.1h.75M246.9 632.1h.75M249.9 632.1h2.99M255.9 632.1h.75M264.1 632.1h2.24M267.9 632.1h.75M271.6 632.1h1.5M276.1 632.1h.75M40.9 638.1h.75M49.1 638.1h.75M62.6 638.1h.75M70.1 638.1h1.5M79.1 638.1h3M89.6 638.1h.75M91.9 638.1h.75M97.9 638.1h.75M107.6 638.1h.75M122.6 638.1h.75M134.6 638.1h.75M139.8 638.1h.75M165.3 638.1h.75M172.1 638.1h.75M179.6 638.1h.75M189.3 638.1h.75M213.3 638.1h.75M249.9 638.1h.75M262.6 638.1h.75M37.1 644.1h.75M40.1 644.1h.75M45.4 644.1h.75M49.1 644.1h.75M55.9 644.1h.75M57.4 644.1h.75M67.9 644.1h.75M70.9 644.1h.75M80.6 644.1h.75M83.6 644.1h.75M85.9 644.1h.75M92.6 644.1h.75M100.9 644.1h.75M107.6 644.1h.75M121.1 644.1h.75M122.6 644.1h1.5M131.6 644.1h.75M134.6 644.1h.75M142.1 644.1h1.5M147.3 644.1h.75M148.8 644.1h.75M151.8 644.1h.75M158.6 644.1h.75M166.1 644.1h.75M174.3 644.1h.75M184.1 644.1h.75M187.1 644.1h.75M188.6 644.1h.75M193.1 644.1h.75M211.8 644.1h1.5M25.1 650.1h1.5M28.9 650.1h.75M33.4 650.1h1.5M49.1 650.1h.75M53.6 650.1h.75M58.9 650.1h.75M61.1 650.1h.75M67.1 650.1h.75M80.6 650.1h.75M91.9 650.1h.75M95.6 650.1h.75M104.6 650.1h.75M109.9 650.1h.75M124.8 650.1h.75M130.1 650.1h.75M132.3 650.1h.75M145.8 650.1h.75M148.8 650.1h.75M154.1 650.1h1.5M160.8 650.1h.75M175.8 650.1h.75M186.3 650.1h.75M187.8 650.1h.75M193.1 650.1h1.5M208.8 650.1h.75M211.8 650.1h.75M216.3 650.1h.75M246.2 650.1h.75M262.6 650.1h.75M265.6 650.1h.75M22.9 656.1h.75M24.4 656.1h.75M27.4 656.1h1.5M29.6 656.1h.75M35.6 656.1h2.25M52.1 656.1h.75M55.1 656.1h2.25M58.1 656.1h.75M62.6 656.1h.75M67.1 656.1h.75M73.9 656.1h.75M77.6 656.1h1.5M86.6 656.1h.75M92.6 656.1h1.5M96.4 656.1h.75M97.9 656.1h.75M100.1 656.1h1.5M107.6 656.1h.75M110.6 656.1h.75M118.1 656.1h.75M121.1 656.1h1.5M124.8 656.1h1.5M131.6 656.1h1.5M133.8 656.1h.75M135.3 656.1h2.25M138.3 656.1h1.5M140.6 656.1h1.5M142.8 656.1h.75M144.3 656.1h.75M148.1 656.1h.75M149.6 656.1h.75M154.1 656.1h5.25M160.8 656.1h.75M163.1 656.1h1.5M165.3 656.1h2.25M170.6 656.1h1.5M175.1 656.1h.75M177.3 656.1h.75M181.8 656.1h.75M194.6 656.1h.75M200.6 656.1h.75M207.3 656.1h2.25M213.3 656.1h.75M221.5 656.1h.75M226 656.1h.75M230.5 656.1h1.5M236.5 656.1h.75M246.9 656.1h2.24M252.9 656.1h.75M255.9 656.1h.75M264.9 656.1h1.5M22.9 662.1h.75M25.1 662.1h.75M40.1 662.1h.75M43.9 662.1h.75M45.4 662.1h.75M48.4 662.1h.75M66.4 662.1h.75M70.1 662.1h.75M73.1 662.1h.75M74.6 662.1h.75M76.1 662.1h.75M84.4 662.1h.75M87.4 662.1h.75M93.4 662.1h.75M97.9 662.1h.75M100.9 662.1h.75M107.6 662.1h.75M113.6 662.1h.75M122.6 662.1h1.5M125.6 662.1h.75M130.1 662.1h.75M131.6 662.1h.75M135.3 662.1h.75M140.6 662.1h.75M144.3 662.1h.75M154.8 662.1h.75M157.1 662.1h1.5M165.3 662.1h1.5M168.3 662.1h.75M171.3 662.1h.75M172.8 662.1h1.5M181.8 662.1h1.5M184.8 662.1h1.5M189.3 662.1h.75M190.8 662.1h.75M193.1 662.1h.75M203.6 662.1h.75M208.8 662.1h.75M211.1 662.1h.75M217.8 662.1h.75M220 662.1h.75M221.5 662.1h.75M234.2 662.1h.75M241.7 662.1h.75M245.5 662.1h.75M246.9 662.1h.75M248.4 662.1h.75M249.9 662.1h.75M252.9 662.1h.75M254.4 662.1h.75M258.9 662.1h1.5M264.1 662.1h.75M266.4 662.1h.75M272.4 662.1h.75M273.9 662.1h.75M276.9 662.1h.75M24.4 668.1h.75M26.6 668.1h.75M28.9 668.1h1.5M31.1 668.1h.75M32.6 668.1h.75M37.1 668.1h.75M43.9 668.1h.75M52.1 668.1h.75M70.9 668.1h.75M75.4 668.1h.75M82.1 668.1h.75M85.9 668.1h.75M88.1 668.1h.75M93.4 668.1h.75M101.6 668.1h.75M106.9 668.1h1.5M113.6 668.1h.75M117.4 668.1h.75M121.8 668.1h.75M125.6 668.1h.75M127.8 668.1h.75M130.8 668.1h.75M132.3 668.1h.75M135.3 668.1h3M139.8 668.1h1.5M142.8 668.1h.75M147.3 668.1h2.25M154.1 668.1h.75M158.6 668.1h.75M160.1 668.1h.75M163.8 668.1h1.5M171.3 668.1h1.5M174.3 668.1h.75M177.3 668.1h.75M178.8 668.1h1.5M181.8 668.1h.75M187.1 668.1h.75M189.3 668.1h.75M193.8 668.1h.75M196.8 668.1h.75M199.8 668.1h.75M204.3 668.1h.75M220 668.1h.75M225.3 668.1h.75M227.5 668.1h1.5M232 668.1h.75M233.5 668.1h.75M245.5 668.1h.75M251.4 668.1h.75M262.6 668.1h.75M268.6 668.1h.75M22.9 674h.75M24.4 674h.75M25.9 674h.75M29.6 674h.75M39.4 674h.75M52.1 674h.75M56.6 674h.75M59.6 674h.75M62.6 674h.75M72.4 674h.75M76.1 674h.75M84.4 674h.75M93.4 674h.75M98.6 674h.75M103.9 674h.75M106.9 674h.75M110.6 674h.75M115.9 674h.75M117.4 674h.75M121.8 674h.75M124.1 674h.75M127.8 674h.75M130.8 674h1.5M137.6 674h.75M140.6 674h.75M144.3 674h.75M149.6 674h.75M151.1 674h.75M154.8 674h.75M159.3 674h.75M163.8 674h.75M166.8 674h.75M172.8 674h.75M174.3 674h.75M175.8 674h.75M181.1 674h1.5M188.6 674h.75M193.1 674h.75M196.1 674h1.5M199.1 674h.75M208.8 674h.75M210.3 674h.75M214.1 674h.75M223 674h.75M224.5 674h.75M226.8 674h.75M229 674h.75M235 674h1.5M237.2 674h.75M244.7 674h.75M253.7 674h.75M256.7 674h.75M261.2 674h.75M264.1 674h.75M267.1 674h.75M272.4 674h.75M274.6 674h.75M25.1 680h2.25M28.9 680h.75M34.1 680h.75M36.4 680h1.5M45.4 680h.75M46.9 680h3M52.1 680h.75M54.4 680h.75M56.6 680h.75M61.1 680h.75M62.6 680h.75M65.6 680h1.5M70.9 680h.75M74.6 680h.75M76.1 680h.75M79.9 680h1.5M91.9 680h3M97.9 680h.75M101.6 680h.75M106.9 680h1.5M118.1 680h.75M123.3 680h.75M125.6 680h.75M128.6 680h.75M130.8 680h.75M137.6 680h.75M139.1 680h.75M140.6 680h.75M145.8 680h.75M147.3 680h.75M148.8 680h2.25M154.1 680h.75M156.3 680h2.25M159.3 680h.75M163.1 680h1.5M165.3 680h.75M166.8 680h1.5M169.8 680h.75M174.3 680h2.25M180.3 680h.75M181.8 680h.75M187.1 680h.75M193.1 680h.75M194.6 680h.75M199.8 680h.75M204.3 680h.75M206.6 680h.75M214.1 680h.75M214.8 680h.75M219.3 680h1.5M223 680h.75M224.5 680h.75M229 680h.75M237.2 680h.75M246.2 680h.75M251.4 680h.75M261.2 680h.75M273.1 680h.75M107.6 686h.75M127.1 686h.75M154.8 686h.75M166.8 686h.75M229.8 686h.75M246.9 686h.75M28.9 698h.75M220 698h.75M22.9 704h.75M25.1 704h1.5M28.9 704h.75M35.6 704h.75M38.6 704h.75M43.9 704h.75M46.9 704h1.5M65.6 704h.75M75.4 704h.75M79.1 704h.75M83.6 704h.75M85.1 704h.75M100.1 704h.75M101.6 704h.75M104.6 704h1.5M110.6 704h1.5M114.4 704h.75M121.8 704h.75M124.1 704h.75M128.6 704h.75M131.6 704h.75M137.6 704h.75M144.3 704h.75M148.1 704h.75M149.6 704h.75M151.8 704h.75M155.6 704h.75M166.1 704h1.5M174.3 704h1.5M178.8 704h.75M181.8 704h.75M187.1 704h.75M193.1 704h.75M196.8 704h.75M205.8 704h.75M208.1 704h.75M211.8 704h.75M217 704h.75M223 704h.75M228.3 704h.75M230.5 704h1.5M241 704h.75M244 704h.75M246.2 704h.75M254.4 704h.75M255.9 704h.75M259.7 704h1.5M261.9 704h.75M264.9 704h1.5M270.1 704h1.5M273.9 704h.75M27.4 710h.75M29.6 710h.75M34.1 710h.75M35.6 710h1.5M39.4 710h1.5M41.6 710h.75M46.1 710h.75M52.9 710h.75M55.9 710h.75M61.1 710h.75M67.9 710h1.5M73.9 710h.75M76.1 710h.75M82.1 710h.75M90.4 710h.75M97.1 710h.75M100.9 710h1.5M104.6 710h.75M110.6 710h.75M114.4 710h.75M118.1 710h.75M122.6 710h1.5M125.6 710h.75M127.1 710h2.25M132.3 710h.75M136.1 710h2.25M140.6 710h.75M142.8 710h.75M148.1 710h3.75M154.8 710h.75M157.1 710h.75M160.1 710h.75M164.6 710h.75M180.3 710h.75M181.8 710h.75M188.6 710h.75M193.1 710h.75M194.6 710h.75M199.8 710h.75M201.3 710h.75M205.8 710h1.5M208.1 710h.75M217 710h.75M220 710h.75M223 710h.75M226.8 710h1.5M229.8 710h.75M233.5 710h1.5M239.5 710h1.5M244 710h.75M245.5 710h1.5M250.7 710h1.5M256.7 710h.75M261.9 710h.75M265.6 710h.75M269.4 710h.75M270.9 710h.75M272.4 710h1.5M25.1 716h.75M26.6 716h.75M28.9 716h1.5M31.1 716h.75M34.1 716h.75M37.1 716h1.5M40.1 716h.75M43.1 716h.75M44.6 716h.75M46.1 716h.75M51.4 716h2.25M55.9 716h1.5M59.6 716h1.5M64.1 716h.75M67.1 716h.75M68.6 716h.75M73.9 716h3M79.9 716h1.5M83.6 716h2.25M88.1 716h.75M96.4 716h.75M98.6 716h.75M100.9 716h2.25M106.9 716h1.5M111.4 716h.75M115.9 716h.75M117.4 716h.75M122.6 716h1.5M127.8 716h.75M130.8 716h.75M132.3 716h.75M133.8 716h1.5M140.6 716h.75M142.8 716h2.25M145.8 716h.75M148.8 716h.75M151.1 716h.75M154.8 716h.75M156.3 716h1.5M158.6 716h.75M161.6 716h.75M166.1 716h1.5M169.8 716h.75M172.1 716h.75M173.6 716h.75M180.3 716h.75M181.8 716h.75M187.1 716h.75M188.6 716h3.75M196.1 716h2.25M199.8 716h1.5M205.1 716h.75M206.6 716h.75M209.6 716h.75M211.1 716h3M215.5 716h1.5M223 716h.75M237.2 716h2.24M241.7 716h1.5M245.5 716h.75M246.9 716h1.5M251.4 716h.75M253.7 716h.75M258.2 716h.75M265.6 716h.75M271.6 716h.75M273.9 716h.75M275.4 716h.75M74.6 722h.75M100.9 722h.75M104.6 722h.75M158.6 722h.75M199.1 722h.75M22.9 728h.75M24.4 728h2.25M28.9 728h1.5M34.9 728h2.25M37.9 728h1.5M40.9 728h.75M46.9 728h.75M48.4 728h1.5M50.6 728h1.5M53.6 728h.75M55.1 728h.75M58.1 728h1.5M63.4 728h.75M65.6 728h1.5M70.9 728h.75M73.9 728h1.5M76.1 728h.75M81.4 728h3M85.9 728h.75M90.4 728h1.5M92.6 728h.75M95.6 728h.75M100.9 728h2.25M104.6 728h.75M109.9 728h.75M111.4 728h1.5M113.6 728h.75M117.4 728h.75M119.6 728h1.5M121.8 728h3M125.6 728h.75M127.1 728h.75M131.6 728h1.5M134.6 728h1.5M139.1 728h2.25M142.8 728h.75M144.3 728h.75M146.6 728h.75M149.6 728h1.5M154.1 728h1.5M157.8 728h1.5M160.1 728h.75M163.8 728h1.5M166.1 728h2.25M169.8 728h.75M171.3 728h.75M172.8 728h3M179.6 728h.75M184.8 728h.75M188.6 728h3M193.8 728h.75M195.3 728h.75M201.3 728h.75M203.6 728h.75M205.1 728h2.25M208.1 728h2.25M211.8 728h1.5M217 728h.75M218.5 728h.75M222.3 728h1.5M227.5 728h.75M229.8 728h.75M232 728h.75M235 728h.75M240.2 728h.75M243.2 728h.75M249.9 728h.75M251.4 728h.75M257.4 728h2.24M261.9 728h.75M265.6 728h.75M267.9 728h2.99M271.6 728h.75M273.9 728h.75M276.1 728h.75M23.6 733.9h.75M25.1 733.9h.75M33.4 733.9h.75M37.1 733.9h.75M47.6 733.9h.75M56.6 733.9h.75M60.4 733.9h.75M90.4 733.9h.75M99.4 733.9h.75M102.4 733.9h.75M121.1 733.9h1.5M130.8 733.9h.75M146.6 733.9h.75M154.8 733.9h.75M166.8 733.9h.75M202.8 733.9h.75M206.6 733.9h.75M211.8 733.9h.75M218.5 733.9h.75M220 733.9h1.5M225.3 733.9h.75M230.5 733.9h.75M234.2 733.9h.75M249.9 733.9h.75M260.4 733.9h.75M264.1 733.9h.75M267.9 733.9h.75M274.6 733.9h1.5M276.9 733.9h.75M24.4 739.9h3M28.9 739.9h1.5M33.4 739.9h4.5M39.4 739.9h3.75M43.9 739.9h.75M46.1 739.9h.75M47.6 739.9h.75M49.1 739.9h.75M52.1 739.9h1.5M54.4 739.9h2.25M57.4 739.9h1.5M60.4 739.9h.75M62.6 739.9h.75M64.1 739.9h.75M65.6 739.9h3M70.1 739.9h.75M72.4 739.9h6.75M79.9 739.9h.75M82.1 739.9h2.25M88.1 739.9h3M92.6 739.9h.75M94.1 739.9h.75M96.4 739.9h.75M97.9 739.9h3.75M102.4 739.9h1.5M104.6 739.9h.75M107.6 739.9h.75M109.9 739.9h2.25M113.6 739.9h.75M115.9 739.9h.75M118.1 739.9h.75M120.3 739.9h.75M121.8 739.9h1.5M124.1 739.9h.75M125.6 739.9h.75M127.1 739.9h2.25M130.1 739.9h3M134.6 739.9h.75M137.6 739.9h1.5M140.6 739.9h.75M142.8 739.9h.75M144.3 739.9h1.5M148.8 739.9h3.75M153.3 739.9h1.5M155.6 739.9h.75M157.8 739.9h2.25M164.6 739.9h1.5M166.8 739.9h1.5M169.1 739.9h1.5M171.3 739.9h.75M173.6 739.9h2.25M176.6 739.9h1.5M178.8 739.9h.75M181.8 739.9h.75M184.8 739.9h3M188.6 739.9h3M193.1 739.9h4.5M198.3 739.9h.75M199.8 739.9h2.25M204.3 739.9h.75M206.6 739.9h3.75M211.1 739.9h3M214.8 739.9h.75M220.8 739.9h.75M228.3 739.9h2.99M237.2 739.9h.75M238.7 739.9h.75M245.5 739.9h1.5M252.2 739.9h.75M270.1 739.9h.75M274.6 739.9h1.5M276.9 739.9h.75M28.9 745.9h1.5M34.1 745.9h.75M40.1 745.9h.75M43.1 745.9h1.5M46.9 745.9h.75M65.6 745.9h.75M111.4 745.9h.75M131.6 745.9h.75M140.6 745.9h.75M148.1 745.9h.75M151.1 745.9h.75M175.1 745.9h.75M180.3 745.9h.75M199.8 745.9h.75M208.1 745.9h.75M214.8 745.9h.75M220.8 745.9h.75M228.3 745.9h.75M232.7 745.9h.75M242.5 745.9h.75M249.9 745.9h.75M254.4 745.9h1.5M261.9 745.9h.75M267.1 745.9h.75M270.9 745.9h.75M26.6 751.9h.75M28.9 751.9h.75M36.4 751.9h.75M46.1 751.9h.75M50.6 751.9h.75M52.1 751.9h.75M59.6 751.9h.75M61.1 751.9h.75M62.6 751.9h.75M69.4 751.9h.75M73.9 751.9h.75M87.4 751.9h.75M93.4 751.9h.75M100.1 751.9h.75M105.4 751.9h.75M117.4 751.9h.75M120.3 751.9h.75M122.6 751.9h.75M126.3 751.9h.75M128.6 751.9h.75M132.3 751.9h.75M139.8 751.9h.75M148.1 751.9h.75M154.8 751.9h.75M159.3 751.9h.75M163.8 751.9h.75M172.1 751.9h.75M173.6 751.9h.75M176.6 751.9h.75M187.1 751.9h.75M195.3 751.9h.75M197.6 751.9h1.5M199.8 751.9h1.5M204.3 751.9h.75M210.3 751.9h2.25M216.3 751.9h.75M218.5 751.9h.75M224.5 751.9h.75M229.8 751.9h.75M238.7 751.9h.75M242.5 751.9h.75M244.7 751.9h1.5M247.7 751.9h.75M251.4 751.9h.75M256.7 751.9h.75M258.9 751.9h.75M265.6 751.9h.75M269.4 751.9h.75M272.4 751.9h.75M274.6 751.9h1.5M23.6 757.9h2.25M26.6 757.9h1.5M28.9 757.9h.75M30.4 757.9h.75M33.4 757.9h1.5M36.4 757.9h.75M37.9 757.9h3M43.1 757.9h.75M45.4 757.9h2.25M48.4 757.9h.75M50.6 757.9h.75M52.1 757.9h.75M55.1 757.9h.75M56.6 757.9h.75M58.1 757.9h.75M62.6 757.9h.75M65.6 757.9h.75M67.1 757.9h1.5M72.4 757.9h.75M73.9 757.9h.75M75.4 757.9h.75M79.9 757.9h.75M84.4 757.9h.75M86.6 757.9h2.25M90.4 757.9h.75M92.6 757.9h2.25M98.6 757.9h.75M100.9 757.9h2.25M103.9 757.9h2.25M107.6 757.9h.75M109.9 757.9h.75M111.4 757.9h.75M113.6 757.9h1.5M115.9 757.9h.75M117.4 757.9h.75M121.8 757.9h.75M124.1 757.9h.75M126.3 757.9h.75M127.8 757.9h.75M131.6 757.9h1.5M134.6 757.9h.75M136.1 757.9h1.5M140.6 757.9h.75M142.1 757.9h1.5M146.6 757.9h3M150.3 757.9h2.25M154.1 757.9h1.5M157.1 757.9h1.5M159.3 757.9h.75M160.8 757.9h.75M164.6 757.9h3M172.1 757.9h5.25M181.1 757.9h.75M183.3 757.9h.75M187.1 757.9h.75M188.6 757.9h2.25M191.6 757.9h.75M194.6 757.9h.75M196.1 757.9h2.25M199.8 757.9h1.5M203.6 757.9h.75M205.8 757.9h.75M208.1 757.9h1.5M211.8 757.9h1.5M214.1 757.9h.75M238.7 757.9h.75M256.7 757.9h.75M274.6 757.9h.75M23.6 763.9h.75M25.9 763.9h1.5M31.1 763.9h.75M38.6 763.9h.75M46.9 763.9h.75M52.1 763.9h.75M62.6 763.9h.75M70.1 763.9h.75M72.4 763.9h.75M76.1 763.9h.75M80.6 763.9h.75M88.1 763.9h.75M90.4 763.9h.75M92.6 763.9h.75M96.4 763.9h.75M101.6 763.9h.75M103.1 763.9h.75M108.4 763.9h.75M116.6 763.9h.75M123.3 763.9h1.5M125.6 763.9h.75M132.3 763.9h.75M137.6 763.9h.75M145.8 763.9h.75M148.1 763.9h.75M151.8 763.9h1.5M154.8 763.9h.75M159.3 763.9h.75M161.6 763.9h.75M163.8 763.9h.75M170.6 763.9h1.5M178.1 763.9h.75M186.3 763.9h1.5M193.1 763.9h.75M194.6 763.9h1.5M198.3 763.9h1.5M203.6 763.9h.75M205.1 763.9h.75M214.1 763.9h.75M220 763.9h.75M229.8 763.9h.75M255.2 763.9h.75M257.4 763.9h.75M261.9 763.9h.75M22.9 769.9h.75M34.1 769.9h.75M40.9 769.9h.75M46.1 769.9h.75M50.6 769.9h.75M52.9 769.9h.75M55.9 769.9h1.5M59.6 769.9h.75M80.6 769.9h.75M88.1 769.9h.75M107.6 769.9h.75M115.9 769.9h.75M117.4 769.9h.75M127.8 769.9h.75M130.8 769.9h.75M142.1 769.9h.75M144.3 769.9h.75M149.6 769.9h.75M151.1 769.9h.75M164.6 769.9h.75M171.3 769.9h.75M174.3 769.9h.75M175.8 769.9h.75M181.1 769.9h1.5M186.3 769.9h1.5M190.1 769.9h.75M194.6 769.9h.75M196.1 769.9h.75M204.3 769.9h1.5M206.6 769.9h1.5M208.8 769.9h.75M214.8 769.9h.75M220 769.9h.75M232.7 769.9h.75M236.5 769.9h1.5M238.7 769.9h.75M246.9 769.9h.75M254.4 769.9h.75M256.7 769.9h.75M258.2 769.9h.75M262.6 769.9h.75M264.9 769.9h.75M267.9 769.9h.75M269.4 769.9h.75M271.6 769.9h.75M276.1 769.9h.75M40.9 775.9h.75M45.4 775.9h.75M64.1 775.9h.75M98.6 775.9h.75M105.4 775.9h.75M115.9 775.9h.75M139.8 775.9h.75M148.1 775.9h.75M154.1 775.9h1.5M166.8 775.9h.75M181.1 775.9h.75M194.6 775.9h.75M199.1 775.9h.75M206.6 775.9h.75M208.1 775.9h.75M216.3 775.9h.75M217.8 775.9h.75M221.5 775.9h.75M223 775.9h.75M224.5 775.9h.75M226 775.9h.75M229 775.9h.75M231.2 775.9h2.24M240.2 775.9h.75M242.5 775.9h1.5M246.9 775.9h.75M251.4 775.9h.75M253.7 775.9h1.5M257.4 775.9h.75M270.9 775.9h.75M29.6 787.9h.75M113.6 787.9h.75M136.8 787.9h.75M166.1 787.9h.75M194.6 787.9h.75M220 787.9h.75M241 787.9h.75M243.2 787.9h.75M244.7 787.9h1.5M261.2 787.9h.75M262.6 787.9h.75M267.9 787.9h.75M22.9 793.8h1.5M25.9 793.8h.75M27.4 793.8h.75M32.6 793.8h1.5M36.4 793.8h2.25M39.4 793.8h.75M40.9 793.8h.75M45.4 793.8h1.5M47.6 793.8h1.5M52.1 793.8h.75M55.1 793.8h.75M56.6 793.8h.75M58.1 793.8h.75M59.6 793.8h.75M62.6 793.8h3M67.1 793.8h.75M71.6 793.8h1.5M74.6 793.8h.75M76.1 793.8h.75M78.4 793.8h.75M79.9 793.8h2.25M82.9 793.8h.75M86.6 793.8h.75M88.1 793.8h.75M91.1 793.8h.75M92.6 793.8h1.5M96.4 793.8h.75M97.9 793.8h.75M101.6 793.8h.75M104.6 793.8h.75M107.6 793.8h.75M110.6 793.8h.75M113.6 793.8h.75M117.4 793.8h.75M118.8 793.8h.75M121.1 793.8h.75M123.3 793.8h.75M124.8 793.8h.75M126.3 793.8h1.5M130.8 793.8h.75M132.3 793.8h.75M136.1 793.8h1.5M139.1 793.8h.75M140.6 793.8h.75M142.1 793.8h3M147.3 793.8h1.5M149.6 793.8h1.5M151.8 793.8h.75M154.1 793.8h.75M157.1 793.8h1.5M160.1 793.8h.75M165.3 793.8h3.75M169.8 793.8h.75M172.8 793.8h.75M174.3 793.8h1.5M178.1 793.8h.75M183.3 793.8h.75M184.8 793.8h.75M187.1 793.8h.75M190.1 793.8h.75M193.1 793.8h3M196.8 793.8h.75M198.3 793.8h.75M199.8 793.8h1.5M203.6 793.8h1.5M207.3 793.8h.75M210.3 793.8h.75M213.3 793.8h.75M216.3 793.8h2.24M220.8 793.8h.75M225.3 793.8h.75M231.2 793.8h.75M233.5 793.8h.75M235 793.8h1.5M237.2 793.8h1.5M240.2 793.8h1.5M242.5 793.8h.75M244 793.8h.75M246.9 793.8h.75M250.7 793.8h.75M252.2 793.8h.75M254.4 793.8h.75M257.4 793.8h.75M261.2 793.8h2.24M267.9 793.8h.75M270.1 793.8h1.5M275.4 793.8h1.5M23.6 799.8h.75M25.9 799.8h1.5M28.9 799.8h1.5M32.6 799.8h1.5M37.1 799.8h.75M40.1 799.8h.75M43.1 799.8h1.5M46.1 799.8h1.5M48.4 799.8h.75M50.6 799.8h.75M52.1 799.8h2.25M55.9 799.8h.75M57.4 799.8h.75M58.9 799.8h.75M61.9 799.8h1.5M64.1 799.8h.75M66.4 799.8h1.5M71.6 799.8h.75M73.1 799.8h.75M74.6 799.8h.75M76.1 799.8h1.5M80.6 799.8h1.5M83.6 799.8h.75M88.1 799.8h.75M90.4 799.8h.75M96.4 799.8h.75M99.4 799.8h3.75M104.6 799.8h2.25M107.6 799.8h.75M110.6 799.8h1.5M117.4 799.8h1.5M125.6 799.8h.75M127.8 799.8h.75M130.1 799.8h1.5M133.8 799.8h1.5M137.6 799.8h.75M139.8 799.8h1.5M142.1 799.8h.75M144.3 799.8h.75M147.3 799.8h1.5M151.1 799.8h.75M154.8 799.8h1.5M157.1 799.8h.75M159.3 799.8h1.5M163.8 799.8h3M168.3 799.8h.75M172.1 799.8h1.5M174.3 799.8h3M181.8 799.8h.75M183.3 799.8h.75M187.1 799.8h.75M189.3 799.8h.75M193.1 799.8h1.5M198.3 799.8h.75M199.8 799.8h.75M205.1 799.8h.75M208.1 799.8h1.5M210.3 799.8h2.25M214.1 799.8h.75M215.5 799.8h1.5M217.8 799.8h.75M224.5 799.8h.75M228.3 799.8h.75M231.2 799.8h.75M235 799.8h1.5M237.2 799.8h1.5M241.7 799.8h.75M244 799.8h.75M246.9 799.8h.75M252.2 799.8h.75M253.7 799.8h.75M255.9 799.8h.75M257.4 799.8h1.5M261.2 799.8h.75M262.6 799.8h2.24M266.4 799.8h.75M269.4 799.8h.75M270.9 799.8h.75M23.6 805.8h.75M33.4 805.8h1.5M36.4 805.8h.75M39.4 805.8h.75M46.9 805.8h1.5M49.1 805.8h.75M51.4 805.8h.75M56.6 805.8h.75M58.1 805.8h.75M59.6 805.8h.75M72.4 805.8h.75M92.6 805.8h.75M100.9 805.8h.75M102.4 805.8h.75M118.1 805.8h.75M121.8 805.8h.75M124.8 805.8h.75M130.8 805.8h.75M136.1 805.8h.75M148.1 805.8h.75M151.1 805.8h.75M154.1 805.8h1.5M156.3 805.8h.75M164.6 805.8h2.25M175.1 805.8h.75M178.1 805.8h.75M193.1 805.8h.75M198.3 805.8h.75M200.6 805.8h.75M205.1 805.8h.75M208.1 805.8h.75M211.1 805.8h.75M213.3 805.8h.75M246.2 805.8h.75M256.7 805.8h.75M23.6 811.8h.75M25.9 811.8h.75M29.6 811.8h.75M38.6 811.8h.75M40.9 811.8h.75M42.4 811.8h.75M43.9 811.8h2.25M46.9 811.8h.75M49.1 811.8h.75M54.4 811.8h.75M56.6 811.8h.75M58.1 811.8h.75M61.1 811.8h.75M66.4 811.8h.75M70.1 811.8h1.5M74.6 811.8h.75M97.1 811.8h.75M100.9 811.8h1.5M106.9 811.8h1.5M112.1 811.8h.75M115.9 811.8h.75M121.1 811.8h1.5M127.1 811.8h1.5M132.3 811.8h.75M136.1 811.8h.75M140.6 811.8h.75M148.1 811.8h1.5M151.1 811.8h.75M154.8 811.8h.75M159.3 811.8h.75M164.6 811.8h.75M166.1 811.8h1.5M175.1 811.8h1.5M178.8 811.8h.75M181.1 811.8h.75M189.3 811.8h.75M191.6 811.8h.75M196.1 811.8h.75M205.1 811.8h.75M208.1 811.8h.75M210.3 811.8h1.5M213.3 811.8h.75M229 811.8h.75M246.9 811.8h.75M22.9 817.8h.75M25.9 817.8h.75M38.6 817.8h.75M58.1 817.8h.75M66.4 817.8h.75M105.4 817.8h.75M115.9 817.8h.75M134.6 817.8h.75M166.1 817.8h.75M176.6 817.8h1.5M181.8 817.8h.75M208.1 817.8h.75M235 817.8h.75M238.7 817.8h.75M251.4 817.8h.75M255.9 817.8h.75M266.4 817.8h.75" stroke="#FEEDE7" stroke-width="6.04" fill="none"/>
<path d="M25.9 584.2h.75M28.9 584.2h.75M34.9 584.2h.75M37.1 584.2h.75M38.6 584.2h1.5M43.1 584.2h1.5M49.1 584.2h.75M52.1 584.2h.75M61.1 584.2h.75M67.1 584.2h.75M73.9 584.2h2.25M78.4 584.2h.75M79.9 584.2h.75M81.4 584.2h.75M83.6 584.2h.75M85.9 584.2h.75M91.1 584.2h.75M94.1 584.2h.75M97.1 584.2h1.5M102.4 584.2h1.5M104.6 584.2h.75M113.6 584.2h.75M115.9 584.2h.75M121.8 584.2h.75M124.1 584.2h.75M125.6 584.2h1.5M130.8 584.2h.75M136.8 584.2h1.5M140.6 584.2h.75M143.6 584.2h1.5M148.1 584.2h.75M149.6 584.2h.75M161.6 584.2h.75M163.1 584.2h.75M166.8 584.2h.75M170.6 584.2h.75M172.1 584.2h.75M177.3 584.2h.75M178.8 584.2h.75M183.3 584.2h.75M187.1 584.2h.75M189.3 584.2h.75M191.6 584.2h3M197.6 584.2h.75M199.8 584.2h1.5M202.1 584.2h.75M204.3 584.2h.75M211.8 584.2h.75M213.3 584.2h.75M222.3 584.2h.75M227.5 584.2h.75M229.8 584.2h.75M232.7 584.2h.75M234.2 584.2h.75M241.7 584.2h.75M252.9 584.2h.75M259.7 584.2h.75M264.1 584.2h.75M271.6 584.2h.75M44.6 590.2h.75M53.6 590.2h.75M76.1 590.2h.75M94.1 590.2h.75M95.6 590.2h.75M115.9 590.2h1.5M135.3 590.2h.75M141.3 590.2h.75M170.6 590.2h.75M178.8 590.2h.75M196.1 590.2h.75M218.5 590.2h.75M233.5 590.2h.75M262.6 590.2h.75M24.4 596.2h.75M85.1 596.2h.75M88.1 596.2h.75M136.8 596.2h.75M202.1 596.2h.75M224.5 596.2h.75M228.3 596.2h1.5M258.2 596.2h.75M262.6 596.2h.75M267.9 596.2h.75M40.1 602.2h.75M76.9 602.2h.75M85.9 602.2h.75M109.9 602.2h.75M113.6 602.2h.75M226.8 602.2h.75M229 602.2h.75M246.9 602.2h.75M261.9 602.2h.75M24.4 608.2h.75M37.1 608.2h.75M49.1 608.2h.75M52.9 608.2h.75M57.4 608.2h.75M73.1 608.2h.75M76.9 608.2h.75M82.9 608.2h.75M85.9 608.2h.75M109.1 608.2h.75M117.4 608.2h.75M120.3 608.2h.75M124.1 608.2h.75M152.6 608.2h1.5M155.6 608.2h.75M169.1 608.2h.75M181.1 608.2h.75M183.3 608.2h.75M189.3 608.2h1.5M193.1 608.2h.75M198.3 608.2h.75M217 608.2h.75M220 608.2h.75M222.3 608.2h.75M237.2 608.2h.75M239.5 608.2h.75M244 608.2h.75M250.7 608.2h.75M257.4 608.2h.75M260.4 608.2h.75M267.9 608.2h.75M40.1 614.1h.75M41.6 614.1h.75M59.6 614.1h.75M78.4 614.1h.75M87.4 614.1h.75M103.9 614.1h.75M112.9 614.1h.75M114.4 614.1h.75M124.8 614.1h.75M135.3 614.1h1.5M139.1 614.1h.75M165.3 614.1h.75M178.1 614.1h.75M190.8 614.1h.75M209.6 614.1h.75M213.3 614.1h1.5M215.5 614.1h.75M222.3 614.1h1.5M226 614.1h.75M229.8 614.1h.75M231.2 614.1h.75M234.2 614.1h.75M237.2 614.1h.75M247.7 614.1h.75M254.4 614.1h.75M259.7 614.1h.75M273.1 614.1h.75M34.9 620.1h1.5M53.6 620.1h.75M60.4 620.1h1.5M69.4 620.1h.75M70.9 620.1h.75M79.1 620.1h.75M81.4 620.1h.75M84.4 620.1h.75M91.9 620.1h.75M103.1 620.1h.75M106.9 620.1h.75M115.1 620.1h.75M125.6 620.1h.75M127.1 620.1h.75M133.8 620.1h.75M139.1 620.1h.75M150.3 620.1h.75M155.6 620.1h.75M178.1 620.1h.75M201.3 620.1h.75M220 620.1h.75M221.5 620.1h.75M246.9 620.1h.75M256.7 620.1h.75M28.1 626.1h.75M30.4 626.1h.75M38.6 626.1h.75M50.6 626.1h.75M61.1 626.1h.75M64.1 626.1h.75M73.1 626.1h.75M79.9 626.1h.75M85.9 626.1h1.5M90.4 626.1h.75M91.9 626.1h.75M98.6 626.1h.75M106.9 626.1h.75M119.6 626.1h2.25M124.8 626.1h1.5M130.8 626.1h.75M133.1 626.1h.75M136.8 626.1h.75M141.3 626.1h.75M146.6 626.1h.75M151.8 626.1h.75M161.6 626.1h.75M164.6 626.1h.75M172.1 626.1h.75M177.3 626.1h.75M178.8 626.1h.75M181.1 626.1h.75M191.6 626.1h.75M193.8 626.1h.75M207.3 626.1h.75M212.6 626.1h.75M214.1 626.1h.75M222.3 626.1h.75M229.8 626.1h.75M238 626.1h.75M246.9 626.1h.75M254.4 626.1h.75M273.1 626.1h.75M23.6 632.1h2.25M26.6 632.1h.75M33.4 632.1h.75M36.4 632.1h.75M37.9 632.1h1.5M40.1 632.1h2.25M44.6 632.1h.75M46.1 632.1h.75M47.6 632.1h3.75M52.1 632.1h.75M55.9 632.1h.75M58.1 632.1h.75M60.4 632.1h.75M63.4 632.1h.75M67.1 632.1h.75M68.6 632.1h.75M71.6 632.1h1.5M73.9 632.1h.75M75.4 632.1h.75M76.9 632.1h1.5M81.4 632.1h.75M84.4 632.1h.75M87.4 632.1h1.5M94.1 632.1h.75M100.1 632.1h2.25M103.1 632.1h1.5M105.4 632.1h1.5M107.6 632.1h.75M109.9 632.1h3M114.4 632.1h.75M117.4 632.1h.75M121.1 632.1h.75M125.6 632.1h1.5M127.8 632.1h.75M130.8 632.1h.75M132.3 632.1h.75M136.1 632.1h1.5M143.6 632.1h.75M146.6 632.1h2.25M149.6 632.1h1.5M154.1 632.1h.75M156.3 632.1h.75M157.8 632.1h1.5M160.1 632.1h1.5M166.1 632.1h.75M169.8 632.1h.75M171.3 632.1h.75M175.1 632.1h.75M177.3 632.1h1.5M184.8 632.1h.75M188.6 632.1h.75M190.1 632.1h.75M193.8 632.1h1.5M197.6 632.1h1.5M200.6 632.1h.75M203.6 632.1h.75M207.3 632.1h2.25M224.5 632.1h.75M227.5 632.1h.75M245.5 632.1h.75M258.9 632.1h1.5M261.2 632.1h.75M266.4 632.1h.75M273.9 632.1h1.5M31.9 638.1h.75M35.6 638.1h.75M56.6 638.1h.75M67.1 638.1h.75M75.4 638.1h.75M83.6 638.1h.75M99.4 638.1h.75M101.6 638.1h.75M103.9 638.1h.75M106.1 638.1h.75M113.6 638.1h.75M115.1 638.1h.75M124.8 638.1h.75M126.3 638.1h1.5M130.1 638.1h.75M135.3 638.1h.75M136.8 638.1h.75M138.3 638.1h.75M147.3 638.1h.75M154.1 638.1h.75M166.1 638.1h.75M169.1 638.1h.75M172.8 638.1h.75M181.8 638.1h.75M196.1 638.1h.75M209.6 638.1h1.5M217 638.1h.75M222.3 638.1h.75M226.8 638.1h.75M229.8 638.1h1.5M267.9 638.1h.75M275.4 638.1h.75M31.1 644.1h.75M43.1 644.1h.75M47.6 644.1h.75M51.4 644.1h.75M55.1 644.1h.75M66.4 644.1h.75M73.1 644.1h1.5M79.1 644.1h.75M82.9 644.1h.75M85.1 644.1h.75M86.6 644.1h.75M91.9 644.1h.75M95.6 644.1h.75M97.1 644.1h.75M99.4 644.1h1.5M106.9 644.1h.75M115.1 644.1h.75M119.6 644.1h1.5M124.1 644.1h.75M128.6 644.1h.75M143.6 644.1h.75M146.6 644.1h.75M150.3 644.1h.75M153.3 644.1h.75M156.3 644.1h2.25M160.1 644.1h1.5M165.3 644.1h.75M170.6 644.1h.75M178.1 644.1h1.5M187.8 644.1h.75M192.3 644.1h.75M196.8 644.1h1.5M199.1 644.1h.75M201.3 644.1h.75M205.8 644.1h.75M208.1 644.1h.75M213.3 644.1h.75M216.3 644.1h2.24M220.8 644.1h.75M244.7 644.1h.75M246.9 644.1h.75M250.7 644.1h.75M256.7 644.1h.75M265.6 644.1h.75M30.4 650.1h.75M61.9 650.1h.75M72.4 650.1h.75M76.9 650.1h.75M89.6 650.1h.75M91.1 650.1h.75M94.9 650.1h.75M100.1 650.1h.75M103.1 650.1h.75M134.6 650.1h.75M138.3 650.1h.75M147.3 650.1h.75M155.6 650.1h.75M157.1 650.1h.75M178.1 650.1h.75M184.1 650.1h.75M191.6 650.1h.75M200.6 650.1h.75M205.1 650.1h.75M209.6 650.1h.75M218.5 650.1h.75M220 650.1h.75M222.3 650.1h.75M225.3 650.1h.75M226.8 650.1h.75M229 650.1h1.5M235 650.1h1.5M237.2 650.1h1.5M241 650.1h.75M243.2 650.1h1.5M245.5 650.1h.75M249.9 650.1h1.5M253.7 650.1h.75M257.4 650.1h.75M258.9 650.1h.75M264.1 650.1h.75M271.6 650.1h1.5M25.1 656.1h.75M26.6 656.1h.75M28.9 656.1h.75M30.4 656.1h.75M33.4 656.1h.75M38.6 656.1h7.5M46.9 656.1h1.5M49.1 656.1h.75M53.6 656.1h1.5M57.4 656.1h.75M59.6 656.1h.75M61.1 656.1h1.5M64.9 656.1h.75M66.4 656.1h.75M67.9 656.1h.75M72.4 656.1h1.5M74.6 656.1h3M79.1 656.1h2.25M82.9 656.1h2.25M85.9 656.1h.75M88.1 656.1h1.5M90.4 656.1h2.25M94.1 656.1h.75M95.6 656.1h.75M99.4 656.1h.75M101.6 656.1h1.5M104.6 656.1h1.5M111.4 656.1h1.5M114.4 656.1h.75M116.6 656.1h1.5M120.3 656.1h.75M122.6 656.1h2.25M127.8 656.1h2.25M130.8 656.1h.75M133.1 656.1h.75M134.6 656.1h.75M137.6 656.1h.75M139.8 656.1h.75M142.1 656.1h.75M148.8 656.1h.75M151.1 656.1h.75M160.1 656.1h.75M162.3 656.1h.75M167.6 656.1h.75M172.1 656.1h3M178.8 656.1h.75M181.1 656.1h.75M182.6 656.1h1.5M184.8 656.1h.75M186.3 656.1h3.75M190.8 656.1h.75M192.3 656.1h.75M193.8 656.1h.75M195.3 656.1h2.25M198.3 656.1h.75M202.8 656.1h1.5M205.8 656.1h1.5M209.6 656.1h1.5M211.8 656.1h.75M223 656.1h2.24M241 656.1h1.5M259.7 656.1h.75M264.1 656.1h.75M270.1 656.1h.75M273.9 656.1h.75M23.6 662.1h1.5M25.9 662.1h.75M27.4 662.1h2.25M32.6 662.1h.75M37.9 662.1h.75M40.9 662.1h1.5M44.6 662.1h.75M46.9 662.1h1.5M50.6 662.1h.75M52.9 662.1h2.25M57.4 662.1h1.5M59.6 662.1h.75M61.1 662.1h.75M62.6 662.1h3M69.4 662.1h.75M70.9 662.1h.75M72.4 662.1h.75M73.9 662.1h.75M75.4 662.1h.75M77.6 662.1h1.5M80.6 662.1h2.25M83.6 662.1h.75M85.1 662.1h.75M88.1 662.1h.75M91.1 662.1h.75M94.1 662.1h.75M96.4 662.1h1.5M99.4 662.1h1.5M103.1 662.1h.75M106.9 662.1h.75M108.4 662.1h.75M110.6 662.1h2.25M115.9 662.1h.75M117.4 662.1h1.5M120.3 662.1h2.25M124.8 662.1h.75M127.8 662.1h2.25M130.8 662.1h.75M133.1 662.1h1.5M139.1 662.1h1.5M142.1 662.1h2.25M147.3 662.1h3M151.1 662.1h2.25M155.6 662.1h1.5M158.6 662.1h3.75M163.8 662.1h1.5M166.8 662.1h1.5M169.1 662.1h.75M170.6 662.1h.75M172.1 662.1h.75M174.3 662.1h1.5M176.6 662.1h.75M178.8 662.1h2.25M187.1 662.1h.75M188.6 662.1h.75M190.1 662.1h.75M193.8 662.1h1.5M196.1 662.1h2.25M199.1 662.1h1.5M201.3 662.1h.75M204.3 662.1h1.5M206.6 662.1h.75M208.1 662.1h.75M210.3 662.1h.75M211.8 662.1h1.5M214.1 662.1h.75M214.8 662.1h.75M235 662.1h.75M246.2 662.1h.75M252.2 662.1h.75M253.7 662.1h.75M261.2 662.1h1.5M264.9 662.1h.75M268.6 662.1h.75M273.1 662.1h.75M23.6 668.1h.75M25.1 668.1h.75M30.4 668.1h.75M34.1 668.1h.75M35.6 668.1h.75M37.9 668.1h1.5M40.1 668.1h.75M43.1 668.1h.75M44.6 668.1h.75M46.1 668.1h3M50.6 668.1h.75M52.9 668.1h.75M56.6 668.1h5.25M62.6 668.1h2.25M68.6 668.1h2.25M73.1 668.1h2.25M76.1 668.1h.75M79.1 668.1h.75M84.4 668.1h.75M90.4 668.1h.75M91.9 668.1h.75M94.1 668.1h1.5M96.4 668.1h.75M98.6 668.1h1.5M102.4 668.1h.75M103.9 668.1h3M109.1 668.1h2.25M112.1 668.1h.75M116.6 668.1h.75M118.1 668.1h.75M121.1 668.1h.75M122.6 668.1h2.25M128.6 668.1h.75M130.1 668.1h.75M139.1 668.1h.75M141.3 668.1h.75M143.6 668.1h1.5M145.8 668.1h1.5M149.6 668.1h3M156.3 668.1h.75M162.3 668.1h1.5M165.3 668.1h3M169.1 668.1h.75M172.8 668.1h.75M175.1 668.1h1.5M181.1 668.1h.75M182.6 668.1h1.5M184.8 668.1h2.25M190.1 668.1h.75M191.6 668.1h.75M197.6 668.1h1.5M200.6 668.1h1.5M205.8 668.1h.75M211.1 668.1h.75M214.8 668.1h.75M220.8 668.1h.75M222.3 668.1h.75M239.5 668.1h.75M244 668.1h1.5M248.4 668.1h.75M257.4 668.1h1.5M260.4 668.1h.75M272.4 668.1h1.5M276.1 668.1h.75M25.1 674h.75M26.6 674h.75M28.9 674h.75M31.1 674h.75M35.6 674h1.5M40.1 674h1.5M45.4 674h2.25M50.6 674h.75M52.9 674h.75M55.1 674h.75M58.1 674h1.5M64.9 674h.75M66.4 674h.75M67.9 674h2.25M73.9 674h2.25M76.9 674h.75M78.4 674h.75M79.9 674h2.25M83.6 674h.75M87.4 674h.75M90.4 674h1.5M92.6 674h.75M95.6 674h.75M97.9 674h.75M100.1 674h3M104.6 674h.75M107.6 674h2.25M111.4 674h4.5M118.1 674h1.5M120.3 674h.75M122.6 674h.75M127.1 674h.75M128.6 674h2.25M133.1 674h.75M134.6 674h2.25M139.1 674h.75M143.6 674h.75M148.8 674h.75M154.1 674h.75M155.6 674h.75M157.1 674h2.25M160.1 674h2.25M163.1 674h.75M164.6 674h1.5M167.6 674h2.25M170.6 674h1.5M175.1 674h.75M179.6 674h.75M184.8 674h1.5M190.8 674h.75M192.3 674h.75M201.3 674h.75M202.8 674h1.5M205.1 674h.75M208.1 674h.75M212.6 674h.75M218.5 674h.75M226 674h.75M227.5 674h.75M232.7 674h1.5M240.2 674h.75M244 674h.75M249.9 674h.75M251.4 674h.75M261.9 674h.75M263.4 674h.75M268.6 674h.75M23.6 680h.75M29.6 680h.75M35.6 680h.75M38.6 680h2.25M42.4 680h.75M43.9 680h.75M46.1 680h.75M52.9 680h.75M55.1 680h.75M58.1 680h.75M59.6 680h.75M61.9 680h.75M63.4 680h.75M64.9 680h.75M67.1 680h1.5M71.6 680h.75M73.1 680h1.5M76.9 680h.75M82.1 680h.75M83.6 680h.75M88.1 680h.75M90.4 680h1.5M100.1 680h1.5M103.1 680h3M109.9 680h.75M111.4 680h1.5M113.6 680h.75M121.1 680h2.25M127.8 680h.75M129.3 680h1.5M131.6 680h1.5M133.8 680h.75M136.1 680h1.5M139.8 680h.75M142.1 680h.75M148.1 680h.75M151.8 680h.75M154.8 680h.75M158.6 680h.75M160.1 680h2.25M164.6 680h.75M166.1 680h.75M170.6 680h.75M172.1 680h1.5M177.3 680h.75M178.8 680h1.5M182.6 680h1.5M186.3 680h.75M187.8 680h2.25M190.8 680h1.5M196.8 680h.75M198.3 680h.75M200.6 680h2.25M205.1 680h.75M208.1 680h1.5M211.8 680h.75M223.8 680h.75M236.5 680h.75M247.7 680h.75M253.7 680h.75M53.6 686h.75M139.1 686h.75M214.8 686h.75M220.8 686h.75M224.5 686h.75M226 686h1.5M232.7 686h.75M237.2 686h1.5M239.5 686h.75M246.2 686h.75M247.7 686h.75M249.9 686h.75M251.4 686h.75M256.7 686h.75M258.9 686h1.5M266.4 686h.75M267.9 686h.75M275.4 686h.75M43.9 692h.75M76.9 692h.75M229 692h.75M233.5 692h.75M235 692h.75M37.9 698h.75M87.4 698h.75M197.6 698h.75M220.8 698h.75M222.3 698h.75M246.2 698h1.5M250.7 698h.75M266.4 698h.75M29.6 704h.75M32.6 704h1.5M36.4 704h.75M37.9 704h.75M39.4 704h1.5M44.6 704h.75M48.4 704h1.5M50.6 704h1.5M53.6 704h1.5M56.6 704h.75M58.1 704h.75M59.6 704h.75M61.1 704h.75M62.6 704h2.25M67.1 704h.75M70.1 704h.75M71.6 704h1.5M76.1 704h.75M80.6 704h1.5M82.9 704h.75M84.4 704h.75M87.4 704h1.5M89.6 704h1.5M91.9 704h2.25M95.6 704h.75M97.9 704h.75M100.9 704h.75M103.1 704h.75M106.1 704h.75M107.6 704h.75M113.6 704h.75M117.4 704h.75M121.1 704h.75M122.6 704h1.5M125.6 704h2.25M129.3 704h1.5M132.3 704h.75M134.6 704h3M139.1 704h.75M140.6 704h.75M142.8 704h.75M146.6 704h1.5M148.8 704h.75M151.1 704h.75M154.1 704h.75M157.1 704h.75M159.3 704h1.5M161.6 704h.75M163.8 704h.75M165.3 704h.75M167.6 704h.75M169.8 704h.75M171.3 704h.75M172.8 704h1.5M175.8 704h3M181.1 704h.75M184.8 704h.75M188.6 704h1.5M190.8 704h.75M192.3 704h.75M193.8 704h1.5M199.1 704h.75M200.6 704h1.5M202.8 704h.75M205.1 704h.75M206.6 704h.75M210.3 704h.75M214.1 704h.75M214.8 704h.75M219.3 704h.75M224.5 704h.75M232 704h.75M236.5 704h.75M238.7 704h.75M248.4 704h1.5M252.2 704h.75M257.4 704h.75M261.2 704h.75M263.4 704h.75M266.4 704h.75M22.9 710h.75M25.1 710h2.25M28.9 710h.75M33.4 710h.75M37.1 710h2.25M42.4 710h.75M44.6 710h.75M46.9 710h2.25M50.6 710h.75M52.1 710h.75M55.1 710h.75M57.4 710h.75M59.6 710h1.5M61.9 710h1.5M64.1 710h.75M66.4 710h.75M70.1 710h3.75M77.6 710h.75M80.6 710h.75M83.6 710h1.5M86.6 710h1.5M88.9 710h.75M91.1 710h1.5M95.6 710h1.5M97.9 710h1.5M100.1 710h.75M102.4 710h.75M105.4 710h3M109.1 710h1.5M112.1 710h.75M113.6 710h.75M115.9 710h.75M117.4 710h.75M119.6 710h3M126.3 710h.75M129.3 710h1.5M133.1 710h1.5M139.1 710h.75M142.1 710h.75M147.3 710h.75M151.8 710h3M157.8 710h1.5M160.8 710h2.25M165.3 710h1.5M167.6 710h1.5M172.1 710h.75M173.6 710h4.5M181.1 710h.75M184.8 710h3M189.3 710h1.5M191.6 710h.75M193.8 710h.75M202.8 710h.75M205.1 710h.75M208.8 710h1.5M211.8 710h1.5M214.1 710h.75M215.5 710h.75M218.5 710h.75M224.5 710h.75M228.3 710h.75M235.7 710h.75M242.5 710h1.5M246.9 710h1.5M255.2 710h.75M257.4 710h.75M274.6 710h.75M276.1 710h.75M24.4 716h.75M32.6 716h1.5M38.6 716h.75M41.6 716h1.5M43.9 716h.75M46.9 716h1.5M50.6 716h.75M54.4 716h1.5M58.1 716h1.5M62.6 716h1.5M64.9 716h1.5M67.9 716h.75M69.4 716h2.25M76.9 716h3M82.1 716h.75M85.9 716h1.5M88.9 716h3.75M94.1 716h2.25M97.1 716h1.5M99.4 716h.75M103.9 716h.75M110.6 716h.75M112.1 716h1.5M114.4 716h1.5M118.8 716h1.5M121.1 716h1.5M127.1 716h.75M128.6 716h2.25M136.1 716h2.25M139.1 716h.75M148.1 716h.75M151.8 716h.75M153.3 716h1.5M155.6 716h.75M157.8 716h.75M160.1 716h.75M165.3 716h.75M172.8 716h.75M174.3 716h.75M177.3 716h2.25M181.1 716h.75M183.3 716h.75M184.8 716h.75M186.3 716h.75M187.8 716h.75M192.3 716h1.5M194.6 716h.75M198.3 716h1.5M203.6 716h1.5M208.1 716h1.5M214.1 716h.75M223.8 716h.75M227.5 716h.75M232 716h.75M249.2 716h.75M252.2 716h.75M264.9 716h.75M40.1 722h.75M45.4 722h.75M46.9 722h.75M87.4 722h.75M99.4 722h.75M111.4 722h.75M113.6 722h.75M130.1 722h.75M148.1 722h.75M160.8 722h.75M183.3 722h.75M190.8 722h.75M224.5 722h.75M23.6 728h.75M26.6 728h2.25M31.9 728h1.5M37.1 728h.75M41.6 728h2.25M44.6 728h.75M46.1 728h.75M47.6 728h.75M55.9 728h1.5M60.4 728h2.25M67.9 728h3M71.6 728h1.5M77.6 728h.75M79.9 728h.75M84.4 728h.75M86.6 728h.75M88.1 728h2.25M91.9 728h.75M96.4 728h.75M103.1 728h1.5M106.1 728h.75M109.1 728h.75M112.9 728h.75M114.4 728h.75M115.9 728h1.5M118.1 728h1.5M121.1 728h.75M129.3 728h.75M130.8 728h.75M133.8 728h.75M136.8 728h2.25M145.1 728h1.5M148.1 728h1.5M151.8 728h.75M153.3 728h.75M155.6 728h.75M160.8 728h.75M162.3 728h1.5M168.3 728h.75M170.6 728h.75M175.8 728h1.5M178.1 728h.75M180.3 728h.75M181.8 728h1.5M184.1 728h.75M186.3 728h.75M196.1 728h.75M198.3 728h1.5M202.1 728h1.5M207.3 728h.75M210.3 728h1.5M215.5 728h.75M219.3 728h.75M224.5 728h1.5M231.2 728h.75M239.5 728h.75M252.9 728h1.5M255.9 728h.75M263.4 728h.75M22.9 733.9h.75M27.4 733.9h.75M28.9 733.9h.75M31.1 733.9h.75M34.1 733.9h.75M39.4 733.9h.75M42.4 733.9h1.5M46.1 733.9h1.5M50.6 733.9h.75M52.9 733.9h.75M57.4 733.9h2.25M61.1 733.9h.75M62.6 733.9h.75M65.6 733.9h.75M70.1 733.9h1.5M73.1 733.9h.75M75.4 733.9h.75M79.1 733.9h1.5M81.4 733.9h.75M85.9 733.9h1.5M92.6 733.9h.75M97.9 733.9h.75M100.9 733.9h.75M103.9 733.9h.75M106.1 733.9h.75M109.9 733.9h1.5M118.1 733.9h.75M119.6 733.9h.75M124.8 733.9h1.5M127.8 733.9h1.5M131.6 733.9h.75M134.6 733.9h.75M150.3 733.9h.75M154.1 733.9h.75M157.1 733.9h1.5M159.3 733.9h.75M160.8 733.9h.75M163.1 733.9h.75M174.3 733.9h.75M176.6 733.9h.75M178.1 733.9h.75M182.6 733.9h.75M186.3 733.9h.75M190.1 733.9h.75M193.1 733.9h.75M195.3 733.9h.75M196.8 733.9h.75M199.8 733.9h.75M201.3 733.9h.75M203.6 733.9h.75M207.3 733.9h1.5M212.6 733.9h.75M214.1 733.9h.75M219.3 733.9h.75M239.5 733.9h.75M258.9 733.9h.75M268.6 733.9h.75M271.6 733.9h.75M22.9 739.9h1.5M28.1 739.9h.75M30.4 739.9h.75M31.9 739.9h1.5M46.9 739.9h.75M51.4 739.9h.75M56.6 739.9h.75M58.9 739.9h.75M61.1 739.9h.75M63.4 739.9h.75M68.6 739.9h.75M80.6 739.9h.75M84.4 739.9h1.5M86.6 739.9h1.5M91.1 739.9h1.5M94.9 739.9h1.5M103.9 739.9h.75M106.1 739.9h1.5M108.4 739.9h1.5M112.9 739.9h.75M114.4 739.9h1.5M119.6 739.9h.75M123.3 739.9h.75M126.3 739.9h.75M129.3 739.9h.75M133.1 739.9h1.5M135.3 739.9h1.5M139.1 739.9h1.5M142.1 739.9h.75M143.6 739.9h.75M146.6 739.9h1.5M152.6 739.9h.75M156.3 739.9h.75M160.8 739.9h.75M163.1 739.9h1.5M168.3 739.9h.75M172.1 739.9h.75M175.8 739.9h.75M178.1 739.9h.75M179.6 739.9h1.5M187.8 739.9h.75M191.6 739.9h1.5M197.6 739.9h.75M205.1 739.9h1.5M210.3 739.9h.75M214.1 739.9h.75M217.8 739.9h.75M221.5 739.9h1.5M223.8 739.9h.75M239.5 739.9h1.5M241.7 739.9h.75M244.7 739.9h.75M253.7 739.9h.75M261.9 739.9h.75M269.4 739.9h.75M276.1 739.9h.75M25.1 745.9h1.5M33.4 745.9h.75M35.6 745.9h1.5M38.6 745.9h.75M41.6 745.9h.75M55.9 745.9h.75M58.1 745.9h.75M60.4 745.9h1.5M64.1 745.9h.75M73.9 745.9h2.25M79.1 745.9h.75M81.4 745.9h.75M88.9 745.9h2.25M99.4 745.9h1.5M104.6 745.9h1.5M106.9 745.9h1.5M110.6 745.9h.75M113.6 745.9h.75M116.6 745.9h.75M118.1 745.9h1.5M124.8 745.9h2.25M130.1 745.9h1.5M138.3 745.9h.75M142.1 745.9h3M147.3 745.9h.75M155.6 745.9h.75M157.1 745.9h1.5M159.3 745.9h.75M166.8 745.9h.75M168.3 745.9h.75M170.6 745.9h1.5M174.3 745.9h.75M176.6 745.9h.75M178.8 745.9h.75M181.8 745.9h.75M184.1 745.9h.75M187.8 745.9h.75M193.1 745.9h.75M196.8 745.9h1.5M200.6 745.9h.75M202.8 745.9h.75M205.1 745.9h.75M207.3 745.9h.75M210.3 745.9h.75M211.8 745.9h.75M213.3 745.9h1.5M233.5 745.9h.75M252.2 745.9h.75M263.4 745.9h.75M272.4 745.9h.75M23.6 751.9h.75M25.1 751.9h1.5M28.1 751.9h.75M30.4 751.9h2.25M34.9 751.9h.75M37.1 751.9h1.5M40.9 751.9h.75M43.1 751.9h2.25M48.4 751.9h.75M54.4 751.9h2.25M64.1 751.9h1.5M66.4 751.9h.75M73.1 751.9h.75M74.6 751.9h2.25M79.9 751.9h.75M82.1 751.9h3M86.6 751.9h.75M88.1 751.9h.75M90.4 751.9h1.5M94.1 751.9h.75M96.4 751.9h2.25M102.4 751.9h.75M106.1 751.9h1.5M108.4 751.9h3M116.6 751.9h.75M118.1 751.9h2.25M121.1 751.9h1.5M124.1 751.9h.75M127.1 751.9h1.5M129.3 751.9h.75M130.8 751.9h.75M134.6 751.9h2.25M137.6 751.9h.75M140.6 751.9h.75M142.1 751.9h3M145.8 751.9h.75M148.8 751.9h.75M151.8 751.9h1.5M154.1 751.9h.75M158.6 751.9h.75M160.1 751.9h.75M161.6 751.9h.75M166.8 751.9h.75M170.6 751.9h.75M174.3 751.9h.75M175.8 751.9h.75M180.3 751.9h2.25M184.1 751.9h.75M188.6 751.9h1.5M192.3 751.9h.75M194.6 751.9h.75M196.1 751.9h.75M199.1 751.9h.75M206.6 751.9h3M212.6 751.9h1.5M223.8 751.9h.75M235.7 751.9h.75M237.2 751.9h.75M255.2 751.9h.75M263.4 751.9h.75M264.9 751.9h.75M273.1 751.9h1.5M31.1 757.9h1.5M41.6 757.9h.75M44.6 757.9h.75M47.6 757.9h.75M55.9 757.9h.75M57.4 757.9h.75M58.9 757.9h.75M61.1 757.9h.75M64.9 757.9h.75M66.4 757.9h.75M68.6 757.9h.75M70.1 757.9h1.5M74.6 757.9h.75M79.1 757.9h.75M81.4 757.9h1.5M88.9 757.9h1.5M91.9 757.9h.75M96.4 757.9h.75M97.9 757.9h.75M100.1 757.9h.75M106.1 757.9h.75M110.6 757.9h.75M112.1 757.9h.75M118.1 757.9h.75M120.3 757.9h1.5M123.3 757.9h.75M129.3 757.9h2.25M133.1 757.9h1.5M135.3 757.9h.75M138.3 757.9h1.5M141.3 757.9h.75M143.6 757.9h.75M145.1 757.9h1.5M152.6 757.9h.75M155.6 757.9h.75M158.6 757.9h.75M163.1 757.9h.75M167.6 757.9h.75M169.1 757.9h.75M170.6 757.9h.75M178.1 757.9h.75M182.6 757.9h.75M184.8 757.9h.75M186.3 757.9h.75M187.8 757.9h.75M193.1 757.9h.75M201.3 757.9h.75M202.8 757.9h.75M204.3 757.9h.75M206.6 757.9h1.5M209.6 757.9h.75M211.1 757.9h.75M220 757.9h1.5M223.8 757.9h.75M226 757.9h.75M229 757.9h.75M233.5 757.9h.75M241 757.9h.75M242.5 757.9h.75M244 757.9h2.24M246.9 757.9h.75M249.9 757.9h1.5M257.4 757.9h.75M260.4 757.9h.75M261.9 757.9h1.5M265.6 757.9h1.5M28.1 763.9h.75M35.6 763.9h.75M41.6 763.9h.75M43.1 763.9h.75M44.6 763.9h.75M47.6 763.9h.75M50.6 763.9h.75M52.9 763.9h.75M55.1 763.9h1.5M57.4 763.9h.75M58.9 763.9h.75M65.6 763.9h.75M68.6 763.9h.75M76.9 763.9h.75M79.1 763.9h1.5M82.9 763.9h.75M89.6 763.9h.75M91.1 763.9h.75M94.1 763.9h.75M97.1 763.9h.75M102.4 763.9h.75M103.9 763.9h.75M106.9 763.9h.75M110.6 763.9h.75M112.9 763.9h.75M117.4 763.9h.75M118.8 763.9h.75M120.3 763.9h.75M130.1 763.9h2.25M134.6 763.9h.75M138.3 763.9h.75M139.8 763.9h.75M141.3 763.9h.75M149.6 763.9h1.5M153.3 763.9h.75M162.3 763.9h.75M166.8 763.9h.75M175.8 763.9h.75M177.3 763.9h.75M180.3 763.9h.75M184.8 763.9h.75M187.8 763.9h1.5M192.3 763.9h.75M196.1 763.9h.75M197.6 763.9h.75M199.8 763.9h.75M202.8 763.9h.75M204.3 763.9h.75M208.8 763.9h.75M214.8 763.9h1.5M217 763.9h1.5M230.5 763.9h1.5M235 763.9h.75M238.7 763.9h.75M256.7 763.9h.75M259.7 763.9h1.5M262.6 763.9h.75M25.9 769.9h.75M27.4 769.9h.75M33.4 769.9h.75M35.6 769.9h2.25M39.4 769.9h1.5M42.4 769.9h1.5M46.9 769.9h.75M48.4 769.9h.75M51.4 769.9h1.5M55.1 769.9h.75M60.4 769.9h.75M65.6 769.9h.75M67.1 769.9h.75M72.4 769.9h1.5M81.4 769.9h.75M84.4 769.9h.75M90.4 769.9h.75M95.6 769.9h1.5M100.1 769.9h2.25M106.9 769.9h.75M110.6 769.9h1.5M119.6 769.9h.75M122.6 769.9h.75M124.8 769.9h.75M127.1 769.9h.75M131.6 769.9h.75M134.6 769.9h2.25M139.1 769.9h.75M142.8 769.9h.75M153.3 769.9h1.5M156.3 769.9h.75M158.6 769.9h1.5M160.8 769.9h.75M166.1 769.9h.75M170.6 769.9h.75M173.6 769.9h.75M175.1 769.9h.75M176.6 769.9h.75M178.8 769.9h1.5M182.6 769.9h1.5M187.8 769.9h.75M189.3 769.9h.75M191.6 769.9h.75M195.3 769.9h.75M197.6 769.9h5.25M203.6 769.9h.75M205.8 769.9h.75M208.1 769.9h.75M211.1 769.9h.75M214.1 769.9h.75M219.3 769.9h.75M240.2 769.9h.75M253.7 769.9h.75M255.2 769.9h.75M266.4 769.9h.75M25.9 775.9h2.25M28.9 775.9h.75M31.1 775.9h.75M34.1 775.9h.75M35.6 775.9h1.5M43.1 775.9h1.5M49.1 775.9h.75M52.1 775.9h.75M54.4 775.9h.75M55.9 775.9h1.5M58.1 775.9h.75M60.4 775.9h.75M67.1 775.9h.75M70.1 775.9h2.25M74.6 775.9h.75M81.4 775.9h1.5M85.9 775.9h.75M91.1 775.9h.75M92.6 775.9h.75M96.4 775.9h.75M97.9 775.9h.75M100.1 775.9h.75M101.6 775.9h1.5M104.6 775.9h.75M118.1 775.9h.75M121.8 775.9h1.5M124.1 775.9h1.5M127.1 775.9h.75M128.6 775.9h.75M136.1 775.9h.75M140.6 775.9h.75M147.3 775.9h.75M148.8 775.9h1.5M151.1 775.9h1.5M157.1 775.9h1.5M160.8 775.9h.75M172.8 775.9h.75M175.8 775.9h2.25M181.8 775.9h.75M183.3 775.9h.75M186.3 775.9h3M193.1 775.9h1.5M199.8 775.9h1.5M202.8 775.9h.75M204.3 775.9h2.25M209.6 775.9h.75M214.1 775.9h.75M214.8 775.9h.75M226.8 775.9h.75M236.5 775.9h.75M238.7 775.9h.75M252.9 775.9h.75M259.7 775.9h.75M263.4 775.9h.75M269.4 775.9h1.5M273.9 775.9h.75M135.3 781.9h.75M175.8 781.9h.75M235 781.9h.75M255.2 781.9h.75M22.9 787.9h.75M34.1 787.9h.75M35.6 787.9h.75M47.6 787.9h2.25M53.6 787.9h.75M67.1 787.9h.75M121.8 787.9h.75M123.3 787.9h.75M125.6 787.9h.75M128.6 787.9h1.5M139.8 787.9h1.5M148.8 787.9h.75M151.1 787.9h1.5M157.8 787.9h.75M164.6 787.9h.75M166.8 787.9h.75M172.1 787.9h.75M173.6 787.9h.75M187.8 787.9h1.5M212.6 787.9h.75M214.8 787.9h.75M255.2 787.9h.75M24.4 793.8h.75M30.4 793.8h2.25M34.1 793.8h.75M38.6 793.8h.75M40.1 793.8h.75M42.4 793.8h.75M43.9 793.8h1.5M49.1 793.8h.75M53.6 793.8h.75M55.9 793.8h.75M57.4 793.8h.75M58.9 793.8h.75M61.9 793.8h.75M66.4 793.8h.75M68.6 793.8h2.25M75.4 793.8h.75M82.1 793.8h.75M89.6 793.8h1.5M91.9 793.8h.75M94.1 793.8h.75M100.9 793.8h.75M103.1 793.8h.75M111.4 793.8h1.5M114.4 793.8h.75M115.9 793.8h1.5M119.6 793.8h1.5M122.6 793.8h.75M124.1 793.8h.75M127.8 793.8h3M131.6 793.8h.75M134.6 793.8h.75M138.3 793.8h.75M139.8 793.8h.75M145.8 793.8h1.5M152.6 793.8h.75M158.6 793.8h1.5M161.6 793.8h.75M163.1 793.8h2.25M169.1 793.8h.75M170.6 793.8h2.25M176.6 793.8h.75M179.6 793.8h.75M181.1 793.8h2.25M185.6 793.8h1.5M187.8 793.8h2.25M190.8 793.8h2.25M196.1 793.8h.75M199.1 793.8h.75M201.3 793.8h2.25M206.6 793.8h.75M208.1 793.8h1.5M211.8 793.8h.75M214.1 793.8h.75M220 793.8h.75M224.5 793.8h.75M226 793.8h.75M230.5 793.8h.75M234.2 793.8h.75M243.2 793.8h.75M247.7 793.8h.75M249.2 793.8h1.5M252.9 793.8h1.5M255.2 793.8h.75M263.4 793.8h.75M269.4 793.8h.75M271.6 793.8h.75M273.9 793.8h.75M22.9 799.8h.75M24.4 799.8h.75M27.4 799.8h1.5M30.4 799.8h1.5M34.1 799.8h.75M36.4 799.8h.75M37.9 799.8h.75M39.4 799.8h.75M40.9 799.8h2.25M44.6 799.8h1.5M49.1 799.8h.75M54.4 799.8h.75M58.1 799.8h.75M59.6 799.8h1.5M64.9 799.8h1.5M67.9 799.8h1.5M70.1 799.8h.75M75.4 799.8h.75M79.1 799.8h1.5M82.9 799.8h.75M85.1 799.8h.75M88.9 799.8h1.5M92.6 799.8h3M97.1 799.8h2.25M103.1 799.8h1.5M109.9 799.8h.75M112.1 799.8h.75M114.4 799.8h2.25M120.3 799.8h1.5M124.1 799.8h1.5M126.3 799.8h.75M129.3 799.8h.75M132.3 799.8h1.5M136.1 799.8h1.5M139.1 799.8h.75M142.8 799.8h1.5M145.8 799.8h.75M149.6 799.8h1.5M151.8 799.8h.75M153.3 799.8h1.5M156.3 799.8h.75M157.8 799.8h1.5M160.8 799.8h1.5M163.1 799.8h.75M169.1 799.8h2.25M184.1 799.8h.75M185.6 799.8h.75M188.6 799.8h.75M190.1 799.8h3M195.3 799.8h.75M202.8 799.8h1.5M206.6 799.8h.75M209.6 799.8h.75M212.6 799.8h1.5M219.3 799.8h.75M223 799.8h.75M226.8 799.8h.75M232.7 799.8h.75M234.2 799.8h.75M240.2 799.8h.75M247.7 799.8h.75M264.9 799.8h.75M267.1 799.8h.75M273.1 799.8h2.24M276.1 799.8h.75M22.9 805.8h.75M25.1 805.8h1.5M28.1 805.8h2.25M31.1 805.8h.75M35.6 805.8h.75M37.9 805.8h.75M40.1 805.8h.75M41.6 805.8h3M45.4 805.8h.75M52.1 805.8h1.5M55.9 805.8h.75M60.4 805.8h.75M61.9 805.8h3M67.1 805.8h.75M68.6 805.8h.75M70.1 805.8h.75M71.6 805.8h.75M78.4 805.8h.75M79.9 805.8h3M85.1 805.8h1.5M87.4 805.8h.75M91.9 805.8h.75M93.4 805.8h.75M94.9 805.8h1.5M97.9 805.8h2.25M101.6 805.8h.75M106.9 805.8h1.5M110.6 805.8h.75M117.4 805.8h.75M121.1 805.8h.75M124.1 805.8h.75M125.6 805.8h.75M127.1 805.8h.75M132.3 805.8h.75M135.3 805.8h.75M136.8 805.8h1.5M139.1 805.8h.75M140.6 805.8h.75M142.1 805.8h.75M143.6 805.8h1.5M145.8 805.8h2.25M149.6 805.8h.75M157.1 805.8h2.25M160.1 805.8h1.5M163.1 805.8h1.5M167.6 805.8h1.5M169.8 805.8h2.25M173.6 805.8h.75M177.3 805.8h.75M181.8 805.8h3.75M186.3 805.8h.75M188.6 805.8h1.5M192.3 805.8h.75M196.8 805.8h.75M199.8 805.8h.75M201.3 805.8h.75M202.8 805.8h2.25M205.8 805.8h2.25M208.8 805.8h.75M211.8 805.8h.75M216.3 805.8h.75M224.5 805.8h.75M232.7 805.8h.75M235 805.8h.75M237.2 805.8h.75M244 805.8h2.24M252.2 805.8h.75M254.4 805.8h.75M258.9 805.8h.75M265.6 805.8h.75M276.9 805.8h.75M22.9 811.8h.75M24.4 811.8h1.5M28.1 811.8h.75M31.9 811.8h.75M33.4 811.8h.75M35.6 811.8h3M40.1 811.8h.75M43.1 811.8h.75M48.4 811.8h.75M51.4 811.8h2.25M55.1 811.8h.75M57.4 811.8h.75M58.9 811.8h.75M62.6 811.8h2.25M65.6 811.8h.75M67.1 811.8h.75M71.6 811.8h1.5M73.9 811.8h.75M76.1 811.8h.75M77.6 811.8h.75M81.4 811.8h1.5M83.6 811.8h1.5M85.9 811.8h3M91.9 811.8h1.5M94.1 811.8h.75M96.4 811.8h.75M102.4 811.8h.75M104.6 811.8h.75M106.1 811.8h.75M109.9 811.8h2.25M117.4 811.8h1.5M120.3 811.8h.75M122.6 811.8h1.5M126.3 811.8h.75M128.6 811.8h.75M131.6 811.8h.75M133.1 811.8h2.25M137.6 811.8h1.5M142.8 811.8h2.25M150.3 811.8h.75M152.6 811.8h.75M154.1 811.8h.75M157.1 811.8h.75M160.1 811.8h2.25M163.1 811.8h.75M168.3 811.8h.75M170.6 811.8h.75M172.1 811.8h.75M176.6 811.8h1.5M180.3 811.8h.75M181.8 811.8h.75M184.1 811.8h1.5M186.3 811.8h1.5M188.6 811.8h.75M190.1 811.8h.75M193.8 811.8h.75M196.8 811.8h5.25M203.6 811.8h1.5M206.6 811.8h.75M211.8 811.8h1.5M214.1 811.8h.75M214.8 811.8h.75M216.3 811.8h.75M220 811.8h.75M221.5 811.8h.75M224.5 811.8h.75M228.3 811.8h.75M245.5 811.8h.75M262.6 811.8h1.5M267.9 811.8h.75M269.4 811.8h.75M270.9 811.8h.75M275.4 811.8h.75M23.6 817.8h1.5M34.1 817.8h.75M36.4 817.8h.75M37.9 817.8h.75M39.4 817.8h1.5M43.1 817.8h.75M57.4 817.8h.75M60.4 817.8h.75M63.4 817.8h.75M71.6 817.8h.75M76.1 817.8h.75M102.4 817.8h.75M106.1 817.8h1.5M123.3 817.8h.75M129.3 817.8h.75M130.8 817.8h.75M137.6 817.8h.75M143.6 817.8h.75M155.6 817.8h.75M160.1 817.8h.75M161.6 817.8h.75M175.1 817.8h.75M180.3 817.8h1.5M184.1 817.8h.75M189.3 817.8h.75M195.3 817.8h.75M211.8 817.8h.75M215.5 817.8h.75M219.3 817.8h.75M227.5 817.8h.75M232.7 817.8h.75M244 817.8h.75M248.4 817.8h.75M261.2 817.8h.75M262.6 817.8h.75M267.1 817.8h.75M271.6 817.8h.75M273.9 817.8h.75" stroke="#FCDACF" stroke-width="6.04" fill="none"/>
<path d="M31.1 584.2h.75M32.6 584.2h.75M34.1 584.2h.75M35.6 584.2h1.5M37.9 584.2h.75M41.6 584.2h.75M44.6 584.2h2.25M47.6 584.2h.75M51.4 584.2h.75M54.4 584.2h3M58.9 584.2h2.25M61.9 584.2h1.5M64.9 584.2h.75M66.4 584.2h.75M68.6 584.2h2.25M71.6 584.2h1.5M76.9 584.2h1.5M80.6 584.2h.75M82.1 584.2h.75M90.4 584.2h.75M91.9 584.2h2.25M96.4 584.2h.75M99.4 584.2h1.5M101.6 584.2h.75M103.9 584.2h.75M105.4 584.2h2.25M112.1 584.2h.75M115.1 584.2h.75M117.4 584.2h.75M118.8 584.2h2.25M123.3 584.2h.75M124.8 584.2h.75M127.1 584.2h.75M128.6 584.2h2.25M132.3 584.2h1.5M134.6 584.2h.75M136.1 584.2h.75M142.8 584.2h.75M145.8 584.2h.75M147.3 584.2h.75M148.8 584.2h.75M150.3 584.2h1.5M152.6 584.2h1.5M155.6 584.2h.75M157.1 584.2h2.25M160.1 584.2h1.5M164.6 584.2h.75M166.1 584.2h.75M167.6 584.2h1.5M169.8 584.2h.75M172.8 584.2h1.5M175.1 584.2h.75M179.6 584.2h.75M181.1 584.2h1.5M184.8 584.2h2.25M187.8 584.2h1.5M190.1 584.2h1.5M195.3 584.2h.75M196.8 584.2h.75M198.3 584.2h.75M201.3 584.2h.75M203.6 584.2h.75M205.8 584.2h1.5M208.1 584.2h.75M209.6 584.2h1.5M212.6 584.2h.75M214.1 584.2h.75M236.5 584.2h.75M240.2 584.2h.75M276.1 584.2h.75M24.4 590.2h.75M78.4 590.2h.75M83.6 590.2h.75M100.1 590.2h.75M187.8 590.2h.75M216.3 590.2h.75M217.8 590.2h.75M220 590.2h.75M226.8 590.2h.75M230.5 590.2h.75M236.5 590.2h2.24M242.5 590.2h.75M244 590.2h.75M246.9 590.2h.75M248.4 590.2h.75M249.9 590.2h.75M251.4 590.2h.75M256.7 590.2h2.24M259.7 590.2h1.5M265.6 590.2h.75M267.1 590.2h.75M270.9 590.2h.75M274.6 590.2h1.5M214.8 596.2h.75M216.3 596.2h.75M217.8 596.2h1.5M220 596.2h1.5M225.3 596.2h1.5M233.5 596.2h.75M235 596.2h.75M243.2 596.2h2.24M246.9 596.2h.75M250.7 596.2h2.99M254.4 596.2h.75M256.7 596.2h.75M260.4 596.2h.75M264.9 596.2h.75M268.6 596.2h.75M270.1 596.2h1.5M273.1 596.2h.75M276.9 596.2h.75M25.9 602.2h.75M50.6 602.2h.75M55.9 602.2h.75M58.9 602.2h.75M116.6 602.2h.75M216.3 602.2h.75M218.5 602.2h.75M221.5 602.2h.75M227.5 602.2h.75M238.7 602.2h.75M240.2 602.2h2.99M245.5 602.2h1.5M250.7 602.2h.75M252.2 602.2h.75M256.7 602.2h.75M258.2 602.2h.75M261.2 602.2h.75M269.4 602.2h.75M270.9 602.2h1.5M30.4 608.2h2.25M37.9 608.2h.75M40.9 608.2h.75M51.4 608.2h.75M53.6 608.2h.75M56.6 608.2h.75M68.6 608.2h.75M76.1 608.2h.75M89.6 608.2h.75M91.1 608.2h.75M99.4 608.2h.75M112.9 608.2h.75M133.1 608.2h.75M138.3 608.2h.75M150.3 608.2h.75M161.6 608.2h.75M170.6 608.2h.75M191.6 608.2h.75M202.8 608.2h.75M215.5 608.2h1.5M218.5 608.2h.75M226.8 608.2h.75M228.3 608.2h2.99M232.7 608.2h.75M235 608.2h.75M238 608.2h.75M242.5 608.2h1.5M244.7 608.2h.75M246.2 608.2h1.5M253.7 608.2h.75M258.2 608.2h.75M262.6 608.2h.75M265.6 608.2h.75M275.4 608.2h.75M276.9 608.2h.75M115.1 614.1h.75M116.6 614.1h.75M138.3 614.1h.75M191.6 614.1h.75M216.3 614.1h2.99M220.8 614.1h1.5M223.8 614.1h.75M226.8 614.1h.75M228.3 614.1h1.5M233.5 614.1h.75M238.7 614.1h.75M241 614.1h.75M243.2 614.1h1.5M245.5 614.1h2.24M250.7 614.1h1.5M257.4 614.1h.75M260.4 614.1h1.5M264.1 614.1h.75M265.6 614.1h2.24M268.6 614.1h1.5M270.9 614.1h.75M23.6 620.1h.75M47.6 620.1h.75M88.9 620.1h.75M112.1 620.1h1.5M141.3 620.1h.75M182.6 620.1h.75M185.6 620.1h.75M202.1 620.1h.75M203.6 620.1h.75M208.1 620.1h.75M218.5 620.1h.75M223 620.1h.75M225.3 620.1h.75M228.3 620.1h2.99M232 620.1h.75M235 620.1h.75M237.2 620.1h2.24M241 620.1h2.24M252.2 620.1h.75M260.4 620.1h.75M261.9 620.1h.75M263.4 620.1h1.5M269.4 620.1h.75M271.6 620.1h.75M22.9 626.1h.75M33.4 626.1h.75M34.9 626.1h.75M39.4 626.1h.75M41.6 626.1h2.25M49.1 626.1h.75M58.9 626.1h.75M66.4 626.1h.75M68.6 626.1h.75M73.9 626.1h.75M82.1 626.1h1.5M116.6 626.1h.75M133.8 626.1h.75M148.8 626.1h.75M150.3 626.1h.75M179.6 626.1h1.5M186.3 626.1h.75M214.8 626.1h.75M216.3 626.1h.75M218.5 626.1h.75M220 626.1h.75M221.5 626.1h.75M223 626.1h.75M224.5 626.1h.75M226 626.1h.75M228.3 626.1h.75M230.5 626.1h.75M233.5 626.1h.75M235 626.1h1.5M238.7 626.1h.75M241 626.1h.75M242.5 626.1h.75M247.7 626.1h.75M251.4 626.1h2.24M255.9 626.1h.75M257.4 626.1h.75M264.1 626.1h.75M265.6 626.1h.75M267.9 626.1h.75M269.4 626.1h.75M271.6 626.1h1.5M274.6 626.1h.75M276.9 626.1h.75M28.9 632.1h2.25M32.6 632.1h.75M35.6 632.1h.75M37.1 632.1h.75M51.4 632.1h.75M55.1 632.1h.75M56.6 632.1h1.5M61.9 632.1h1.5M64.1 632.1h.75M66.4 632.1h.75M67.9 632.1h.75M69.4 632.1h.75M74.6 632.1h.75M78.4 632.1h2.25M82.9 632.1h.75M85.1 632.1h.75M86.6 632.1h.75M90.4 632.1h.75M92.6 632.1h.75M95.6 632.1h.75M97.1 632.1h.75M98.6 632.1h1.5M102.4 632.1h.75M106.9 632.1h.75M108.4 632.1h.75M112.9 632.1h.75M115.1 632.1h2.25M120.3 632.1h.75M123.3 632.1h1.5M127.1 632.1h.75M133.1 632.1h.75M135.3 632.1h.75M138.3 632.1h.75M141.3 632.1h.75M144.3 632.1h.75M152.6 632.1h1.5M157.1 632.1h.75M161.6 632.1h.75M163.1 632.1h2.25M166.8 632.1h.75M168.3 632.1h.75M184.1 632.1h.75M185.6 632.1h1.5M187.8 632.1h.75M191.6 632.1h2.25M195.3 632.1h2.25M199.1 632.1h1.5M204.3 632.1h2.25M211.1 632.1h.75M212.6 632.1h1.5M235.7 632.1h.75M249.2 632.1h.75M263.4 632.1h.75M38.6 638.1h.75M49.9 638.1h.75M51.4 638.1h.75M69.4 638.1h.75M86.6 638.1h.75M88.9 638.1h.75M133.8 638.1h.75M157.1 638.1h.75M167.6 638.1h.75M178.8 638.1h.75M217.8 638.1h.75M220.8 638.1h.75M223 638.1h.75M225.3 638.1h1.5M228.3 638.1h1.5M232 638.1h.75M233.5 638.1h.75M235.7 638.1h1.5M238 638.1h.75M241 638.1h.75M246.2 638.1h2.24M250.7 638.1h2.24M254.4 638.1h.75M261.2 638.1h1.5M264.9 638.1h.75M266.4 638.1h.75M271.6 638.1h.75M276.1 638.1h.75M29.6 644.1h.75M33.4 644.1h.75M36.4 644.1h.75M41.6 644.1h.75M50.6 644.1h.75M53.6 644.1h.75M58.9 644.1h.75M61.9 644.1h.75M63.4 644.1h.75M79.9 644.1h.75M82.1 644.1h.75M87.4 644.1h.75M94.1 644.1h.75M102.4 644.1h.75M112.1 644.1h.75M114.4 644.1h.75M116.6 644.1h.75M127.8 644.1h.75M133.1 644.1h1.5M145.1 644.1h.75M162.3 644.1h.75M167.6 644.1h.75M176.6 644.1h.75M202.1 644.1h1.5M204.3 644.1h.75M218.5 644.1h.75M220 644.1h.75M222.3 644.1h.75M224.5 644.1h.75M226.8 644.1h.75M228.3 644.1h.75M229.8 644.1h2.24M235 644.1h.75M237.2 644.1h2.24M243.2 644.1h.75M251.4 644.1h.75M254.4 644.1h.75M261.2 644.1h.75M262.6 644.1h.75M267.1 644.1h1.5M273.1 644.1h.75M275.4 644.1h2.24M71.6 650.1h.75M82.1 650.1h.75M109.1 650.1h.75M127.8 650.1h.75M133.8 650.1h.75M202.8 650.1h1.5M214.8 650.1h.75M219.3 650.1h.75M223.8 650.1h1.5M226 650.1h.75M228.3 650.1h.75M232 650.1h.75M234.2 650.1h.75M238.7 650.1h2.24M241.7 650.1h.75M244.7 650.1h.75M246.9 650.1h1.5M251.4 650.1h1.5M254.4 650.1h.75M255.9 650.1h.75M258.2 650.1h.75M261.2 650.1h.75M264.9 650.1h.75M269.4 650.1h1.5M273.9 650.1h2.24M34.1 656.1h1.5M37.9 656.1h.75M46.1 656.1h.75M48.4 656.1h.75M49.9 656.1h.75M51.4 656.1h.75M52.9 656.1h.75M58.9 656.1h.75M63.4 656.1h.75M65.6 656.1h.75M69.4 656.1h1.5M71.6 656.1h.75M81.4 656.1h1.5M85.1 656.1h.75M89.6 656.1h.75M97.1 656.1h.75M98.6 656.1h.75M106.1 656.1h.75M109.9 656.1h.75M115.1 656.1h1.5M119.6 656.1h.75M130.1 656.1h.75M145.1 656.1h1.5M147.3 656.1h.75M150.3 656.1h.75M153.3 656.1h.75M164.6 656.1h.75M168.3 656.1h2.25M176.6 656.1h.75M180.3 656.1h.75M190.1 656.1h.75M197.6 656.1h.75M199.1 656.1h1.5M201.3 656.1h1.5M204.3 656.1h1.5M211.1 656.1h.75M235.7 656.1h.75M240.2 656.1h.75M272.4 656.1h.75M31.9 662.1h.75M33.4 662.1h3M38.6 662.1h1.5M42.4 662.1h.75M46.1 662.1h.75M49.9 662.1h.75M51.4 662.1h.75M56.6 662.1h.75M60.4 662.1h.75M61.9 662.1h.75M67.1 662.1h2.25M71.6 662.1h.75M79.1 662.1h1.5M82.9 662.1h.75M85.9 662.1h1.5M88.9 662.1h1.5M94.9 662.1h.75M98.6 662.1h.75M101.6 662.1h1.5M103.9 662.1h3M109.9 662.1h.75M112.9 662.1h.75M114.4 662.1h1.5M118.8 662.1h.75M124.1 662.1h.75M134.6 662.1h.75M136.1 662.1h1.5M146.6 662.1h.75M154.1 662.1h.75M162.3 662.1h1.5M169.8 662.1h.75M175.8 662.1h.75M177.3 662.1h1.5M184.1 662.1h.75M186.3 662.1h.75M187.8 662.1h.75M195.3 662.1h.75M198.3 662.1h.75M200.6 662.1h.75M202.1 662.1h1.5M207.3 662.1h.75M209.6 662.1h.75M249.2 662.1h.75M270.1 662.1h.75M27.4 668.1h1.5M31.9 668.1h.75M34.9 668.1h.75M36.4 668.1h.75M39.4 668.1h.75M40.9 668.1h1.5M45.4 668.1h.75M49.1 668.1h.75M51.4 668.1h.75M54.4 668.1h2.25M61.9 668.1h.75M64.9 668.1h1.5M67.1 668.1h.75M76.9 668.1h2.25M79.9 668.1h1.5M85.1 668.1h.75M86.6 668.1h.75M88.9 668.1h1.5M91.1 668.1h.75M92.6 668.1h.75M95.6 668.1h.75M97.9 668.1h.75M100.1 668.1h.75M103.1 668.1h.75M111.4 668.1h.75M114.4 668.1h.75M119.6 668.1h1.5M124.8 668.1h.75M126.3 668.1h1.5M133.8 668.1h1.5M138.3 668.1h.75M142.1 668.1h.75M152.6 668.1h1.5M154.8 668.1h1.5M157.8 668.1h.75M160.8 668.1h1.5M168.3 668.1h.75M169.8 668.1h1.5M176.6 668.1h.75M178.1 668.1h.75M180.3 668.1h.75M187.8 668.1h1.5M190.8 668.1h.75M192.3 668.1h.75M195.3 668.1h1.5M199.1 668.1h.75M202.1 668.1h.75M206.6 668.1h.75M208.1 668.1h1.5M210.3 668.1h.75M211.8 668.1h3M223.8 668.1h.75M247.7 668.1h.75M249.2 668.1h.75M261.2 668.1h.75M264.1 668.1h1.5M23.6 674h.75M28.1 674h.75M32.6 674h2.25M37.1 674h1.5M41.6 674h1.5M44.6 674h.75M47.6 674h.75M49.9 674h.75M53.6 674h1.5M57.4 674h.75M61.1 674h1.5M63.4 674h.75M67.1 674h.75M70.9 674h1.5M73.1 674h.75M82.1 674h.75M85.1 674h2.25M88.9 674h.75M91.9 674h.75M94.9 674h.75M96.4 674h.75M99.4 674h.75M106.1 674h.75M109.9 674h.75M116.6 674h.75M119.6 674h.75M124.8 674h.75M126.3 674h.75M132.3 674h.75M136.8 674h.75M138.3 674h.75M139.8 674h.75M141.3 674h1.5M145.8 674h2.25M150.3 674h.75M151.8 674h2.25M169.8 674h.75M176.6 674h3M180.3 674h.75M187.1 674h1.5M193.8 674h.75M197.6 674h.75M199.8 674h.75M202.1 674h.75M204.3 674h.75M206.6 674h1.5M211.8 674h.75M213.3 674h.75M219.3 674h.75M232 674h.75M234.2 674h.75M243.2 674h.75M259.7 674h.75M276.1 674h.75M24.4 680h.75M27.4 680h.75M30.4 680h2.25M33.4 680h.75M37.9 680h.75M40.9 680h1.5M43.1 680h.75M44.6 680h.75M50.6 680h1.5M53.6 680h.75M55.9 680h.75M57.4 680h.75M60.4 680h.75M69.4 680h1.5M72.4 680h.75M77.6 680h2.25M81.4 680h.75M84.4 680h1.5M87.4 680h.75M88.9 680h.75M94.9 680h.75M97.1 680h.75M98.6 680h.75M102.4 680h.75M108.4 680h1.5M110.6 680h.75M114.4 680h.75M115.9 680h2.25M118.8 680h2.25M124.8 680h.75M126.3 680h1.5M133.1 680h.75M138.3 680h.75M143.6 680h2.25M146.6 680h.75M151.1 680h.75M152.6 680h1.5M155.6 680h.75M169.1 680h.75M173.6 680h.75M176.6 680h.75M178.1 680h.75M181.1 680h.75M184.1 680h2.25M192.3 680h.75M195.3 680h1.5M197.6 680h.75M199.1 680h.75M202.8 680h1.5M209.6 680h.75M211.1 680h.75M227.5 680h.75M252.9 680h.75M263.4 680h.75M145.1 686h.75M184.1 686h.75M197.6 686h.75M218.5 686h2.24M223 686h.75M229 686h.75M230.5 686h1.5M235.7 686h.75M238.7 686h.75M242.5 686h1.5M244.7 686h1.5M250.7 686h.75M253.7 686h.75M257.4 686h1.5M260.4 686h.75M264.9 686h1.5M268.6 686h.75M270.9 686h.75M273.1 686h.75M276.1 686h1.5M25.1 692h.75M35.6 692h.75M118.1 692h.75M143.6 692h.75M151.8 692h.75M154.1 692h1.5M171.3 692h.75M172.8 692h.75M208.1 692h.75M220 692h.75M244.7 692h1.5M249.9 692h.75M256.7 692h.75M258.2 692h.75M259.7 692h1.5M263.4 692h.75M270.9 692h.75M272.4 692h.75M276.9 692h.75M31.1 698h.75M82.1 698h.75M91.9 698h.75M96.4 698h.75M145.8 698h.75M189.3 698h.75M215.5 698h.75M218.5 698h.75M223 698h.75M226 698h.75M228.3 698h2.24M237.2 698h2.24M240.2 698h3.74M244.7 698h1.5M252.2 698h.75M257.4 698h1.5M259.7 698h1.5M262.6 698h.75M265.6 698h.75M267.1 698h1.5M269.4 698h.75M271.6 698h.75M273.1 698h.75M275.4 698h.75M276.9 698h.75M23.6 704h1.5M26.6 704h.75M30.4 704h2.25M34.1 704h1.5M37.1 704h.75M42.4 704h1.5M46.1 704h.75M49.9 704h.75M52.1 704h.75M55.1 704h.75M57.4 704h.75M58.9 704h.75M61.9 704h.75M64.9 704h.75M66.4 704h.75M67.9 704h2.25M73.1 704h.75M74.6 704h.75M76.9 704h2.25M82.1 704h.75M88.9 704h.75M91.1 704h.75M94.9 704h.75M96.4 704h1.5M102.4 704h.75M103.9 704h.75M106.9 704h.75M108.4 704h2.25M115.9 704h1.5M118.8 704h1.5M124.8 704h.75M127.8 704h.75M130.8 704h.75M133.1 704h1.5M139.8 704h.75M142.1 704h.75M143.6 704h.75M150.3 704h.75M156.3 704h.75M157.8 704h1.5M163.1 704h.75M168.3 704h.75M170.6 704h.75M172.1 704h.75M179.6 704h.75M182.6 704h2.25M186.3 704h.75M196.1 704h.75M198.3 704h.75M199.8 704h.75M202.1 704h.75M203.6 704h.75M208.8 704h1.5M211.1 704h.75M213.3 704h.75M24.4 710h.75M28.1 710h.75M30.4 710h.75M31.9 710h1.5M34.9 710h.75M40.9 710h.75M45.4 710h.75M51.4 710h.75M53.6 710h1.5M56.6 710h.75M58.1 710h1.5M65.6 710h.75M67.1 710h.75M69.4 710h.75M74.6 710h1.5M78.4 710h.75M79.9 710h.75M82.9 710h.75M85.9 710h.75M93.4 710h2.25M99.4 710h.75M103.1 710h1.5M108.4 710h.75M111.4 710h.75M115.1 710h.75M118.8 710h.75M124.1 710h.75M130.8 710h.75M134.6 710h.75M138.3 710h.75M139.8 710h.75M141.3 710h.75M143.6 710h3.75M155.6 710h1.5M159.3 710h.75M163.1 710h1.5M169.1 710h.75M171.3 710h.75M172.8 710h.75M178.1 710h2.25M183.3 710h.75M190.8 710h.75M192.3 710h.75M196.1 710h2.25M200.6 710h.75M204.3 710h.75M207.3 710h.75M210.3 710h.75M273.9 710h.75M23.6 716h.75M30.4 716h.75M31.9 716h.75M35.6 716h.75M45.4 716h.75M53.6 716h.75M57.4 716h.75M61.1 716h1.5M66.4 716h.75M71.6 716h1.5M82.9 716h.75M92.6 716h.75M103.1 716h.75M108.4 716h.75M109.9 716h.75M113.6 716h.75M116.6 716h.75M124.1 716h.75M125.6 716h1.5M139.8 716h.75M141.3 716h1.5M150.3 716h.75M163.1 716h2.25M167.6 716h2.25M170.6 716h1.5M175.8 716h1.5M182.6 716h.75M184.1 716h.75M202.1 716h1.5M210.3 716h.75M240.2 716h.75M248.4 716h.75M54.4 722h.75M58.9 722h.75M108.4 722h.75M112.9 722h.75M134.6 722h.75M143.6 722h.75M146.6 722h.75M169.1 722h.75M175.8 722h.75M202.1 722h.75M220.8 722h.75M241.7 722h.75M243.2 722h.75M246.9 722h.75M250.7 722h.75M254.4 722h.75M30.4 728h.75M49.9 728h.75M64.1 728h.75M76.9 728h.75M78.4 728h1.5M80.6 728h.75M85.1 728h.75M94.9 728h.75M99.4 728h.75M108.4 728h.75M115.1 728h.75M127.8 728h1.5M130.1 728h.75M133.1 728h.75M141.3 728h.75M177.3 728h.75M183.3 728h.75M185.6 728h.75M187.8 728h.75M191.6 728h1.5M213.3 728h.75M234.2 728h.75M241.7 728h.75M26.6 733.9h.75M30.4 733.9h.75M37.9 733.9h.75M40.9 733.9h.75M43.9 733.9h.75M45.4 733.9h.75M53.6 733.9h.75M61.9 733.9h.75M68.6 733.9h.75M71.6 733.9h.75M76.9 733.9h.75M78.4 733.9h.75M87.4 733.9h.75M88.9 733.9h1.5M91.9 733.9h.75M94.1 733.9h.75M95.6 733.9h1.5M98.6 733.9h.75M101.6 733.9h.75M105.4 733.9h.75M109.1 733.9h.75M111.4 733.9h.75M114.4 733.9h1.5M116.6 733.9h.75M118.8 733.9h.75M120.3 733.9h.75M124.1 733.9h.75M129.3 733.9h1.5M135.3 733.9h.75M136.8 733.9h.75M138.3 733.9h.75M147.3 733.9h.75M148.8 733.9h.75M162.3 733.9h.75M175.8 733.9h.75M183.3 733.9h1.5M191.6 733.9h1.5M198.3 733.9h.75M202.1 733.9h.75M213.3 733.9h.75M232.7 733.9h.75M244.7 733.9h.75M27.4 739.9h.75M44.6 739.9h.75M49.9 739.9h.75M53.6 739.9h.75M61.9 739.9h.75M64.9 739.9h.75M145.8 739.9h.75M170.6 739.9h.75M183.3 739.9h.75M202.1 739.9h.75M225.3 739.9h.75M249.2 739.9h.75M263.4 739.9h.75M26.6 745.9h.75M30.4 745.9h1.5M32.6 745.9h.75M34.9 745.9h.75M37.9 745.9h.75M44.6 745.9h.75M53.6 745.9h.75M57.4 745.9h.75M58.9 745.9h.75M66.4 745.9h.75M68.6 745.9h2.25M76.1 745.9h.75M79.9 745.9h.75M82.1 745.9h.75M91.1 745.9h.75M92.6 745.9h.75M94.1 745.9h2.25M97.9 745.9h.75M101.6 745.9h.75M103.1 745.9h.75M106.1 745.9h.75M109.1 745.9h1.5M112.9 745.9h.75M115.9 745.9h.75M117.4 745.9h.75M119.6 745.9h1.5M124.1 745.9h.75M127.1 745.9h.75M128.6 745.9h.75M135.3 745.9h.75M136.8 745.9h.75M139.1 745.9h1.5M146.6 745.9h.75M148.8 745.9h.75M151.8 745.9h1.5M163.8 745.9h1.5M169.1 745.9h1.5M172.8 745.9h.75M175.8 745.9h.75M183.3 745.9h.75M184.8 745.9h.75M186.3 745.9h.75M190.8 745.9h1.5M193.8 745.9h.75M195.3 745.9h.75M198.3 745.9h.75M203.6 745.9h1.5M252.9 745.9h.75M268.6 745.9h.75M24.4 751.9h.75M32.6 751.9h.75M38.6 751.9h1.5M42.4 751.9h.75M51.4 751.9h.75M52.9 751.9h1.5M57.4 751.9h.75M58.9 751.9h.75M63.4 751.9h.75M67.1 751.9h2.25M70.9 751.9h1.5M76.9 751.9h2.25M85.1 751.9h.75M88.9 751.9h1.5M91.9 751.9h1.5M98.6 751.9h1.5M103.1 751.9h1.5M112.1 751.9h3.75M123.3 751.9h.75M124.8 751.9h1.5M130.1 751.9h.75M133.1 751.9h.75M138.3 751.9h1.5M141.3 751.9h.75M145.1 751.9h.75M153.3 751.9h.75M155.6 751.9h.75M162.3 751.9h.75M165.3 751.9h.75M167.6 751.9h2.25M172.8 751.9h.75M177.3 751.9h.75M185.6 751.9h1.5M187.8 751.9h.75M190.8 751.9h.75M202.1 751.9h.75M205.1 751.9h.75M209.6 751.9h.75M214.1 751.9h.75M32.6 757.9h.75M53.6 757.9h.75M76.9 757.9h.75M78.4 757.9h.75M82.9 757.9h.75M85.1 757.9h.75M91.1 757.9h.75M103.1 757.9h.75M108.4 757.9h.75M112.9 757.9h.75M116.6 757.9h.75M153.3 757.9h.75M156.3 757.9h.75M162.3 757.9h.75M168.3 757.9h.75M169.8 757.9h.75M202.1 757.9h.75M210.3 757.9h.75M213.3 757.9h.75M214.8 757.9h5.23M222.3 757.9h1.5M224.5 757.9h1.5M226.8 757.9h.75M231.2 757.9h.75M237.2 757.9h1.5M241.7 757.9h.75M243.2 757.9h.75M246.2 757.9h.75M253.7 757.9h1.5M258.2 757.9h.75M269.4 757.9h.75M273.1 757.9h.75M276.9 757.9h.75M30.4 763.9h.75M34.9 763.9h.75M49.9 763.9h.75M63.4 763.9h.75M69.4 763.9h.75M73.1 763.9h.75M77.6 763.9h1.5M81.4 763.9h.75M86.6 763.9h.75M88.9 763.9h.75M109.1 763.9h1.5M115.1 763.9h.75M127.1 763.9h.75M155.6 763.9h.75M160.1 763.9h1.5M164.6 763.9h.75M167.6 763.9h.75M169.1 763.9h.75M181.1 763.9h.75M206.6 763.9h.75M216.3 763.9h.75M218.5 763.9h.75M220.8 763.9h2.24M224.5 763.9h1.5M229 763.9h.75M233.5 763.9h.75M236.5 763.9h2.24M239.5 763.9h.75M241 763.9h1.5M243.2 763.9h.75M245.5 763.9h2.24M249.9 763.9h2.99M254.4 763.9h.75M255.9 763.9h.75M258.2 763.9h1.5M261.2 763.9h.75M264.1 763.9h1.5M266.4 763.9h2.24M270.1 763.9h.75M271.6 763.9h.75M273.1 763.9h.75M274.6 763.9h1.5M276.9 763.9h.75M23.6 769.9h1.5M26.6 769.9h.75M28.1 769.9h.75M30.4 769.9h1.5M32.6 769.9h.75M43.9 769.9h.75M45.4 769.9h.75M49.1 769.9h.75M53.6 769.9h.75M58.9 769.9h.75M61.9 769.9h.75M63.4 769.9h2.25M66.4 769.9h.75M67.9 769.9h1.5M70.1 769.9h.75M71.6 769.9h.75M82.9 769.9h1.5M87.4 769.9h.75M91.1 769.9h1.5M93.4 769.9h.75M97.9 769.9h1.5M102.4 769.9h2.25M106.1 769.9h.75M109.9 769.9h.75M112.9 769.9h.75M114.4 769.9h.75M118.1 769.9h1.5M130.1 769.9h.75M133.1 769.9h1.5M138.3 769.9h.75M139.8 769.9h.75M141.3 769.9h.75M143.6 769.9h.75M145.1 769.9h2.25M148.1 769.9h.75M151.8 769.9h1.5M157.1 769.9h1.5M161.6 769.9h.75M163.1 769.9h1.5M165.3 769.9h.75M166.8 769.9h2.25M172.8 769.9h.75M180.3 769.9h.75M184.8 769.9h.75M190.8 769.9h.75M192.3 769.9h1.5M196.8 769.9h.75M211.8 769.9h.75M213.3 769.9h.75M232 769.9h.75M249.2 769.9h.75M252.2 769.9h.75M22.9 775.9h1.5M28.1 775.9h.75M29.6 775.9h1.5M31.9 775.9h.75M33.4 775.9h.75M37.1 775.9h.75M38.6 775.9h.75M40.1 775.9h.75M44.6 775.9h.75M46.9 775.9h1.5M52.9 775.9h1.5M55.1 775.9h.75M57.4 775.9h.75M61.1 775.9h.75M62.6 775.9h.75M64.9 775.9h2.25M73.1 775.9h.75M75.4 775.9h.75M76.9 775.9h2.25M79.9 775.9h.75M82.9 775.9h2.25M86.6 775.9h3.75M94.1 775.9h.75M100.9 775.9h.75M106.9 775.9h2.25M109.9 775.9h2.25M114.4 775.9h.75M116.6 775.9h.75M118.8 775.9h2.25M125.6 775.9h1.5M130.8 775.9h3.75M135.3 775.9h.75M136.8 775.9h1.5M139.1 775.9h.75M142.1 775.9h1.5M144.3 775.9h.75M146.6 775.9h.75M150.3 775.9h.75M156.3 775.9h.75M158.6 775.9h.75M160.1 775.9h.75M163.8 775.9h3M167.6 775.9h2.25M170.6 775.9h1.5M173.6 775.9h.75M175.1 775.9h.75M178.1 775.9h.75M184.8 775.9h.75M189.3 775.9h.75M196.1 775.9h1.5M198.3 775.9h.75M201.3 775.9h1.5M203.6 775.9h.75M207.3 775.9h.75M208.8 775.9h.75M227.5 775.9h.75M235.7 775.9h.75M241.7 775.9h.75M249.2 775.9h.75M55.1 781.9h1.5M67.9 781.9h.75M79.1 781.9h.75M91.1 781.9h.75M115.9 781.9h.75M169.8 781.9h.75M218.5 781.9h.75M238.7 781.9h.75M251.4 781.9h.75M24.4 787.9h.75M37.1 787.9h.75M38.6 787.9h.75M41.6 787.9h.75M44.6 787.9h.75M46.9 787.9h.75M51.4 787.9h1.5M62.6 787.9h.75M70.1 787.9h.75M73.1 787.9h1.5M79.1 787.9h1.5M81.4 787.9h.75M85.9 787.9h1.5M88.9 787.9h.75M91.9 787.9h.75M94.1 787.9h2.25M99.4 787.9h.75M100.9 787.9h.75M103.9 787.9h.75M108.4 787.9h1.5M114.4 787.9h.75M118.1 787.9h.75M119.6 787.9h.75M122.6 787.9h.75M130.1 787.9h.75M131.6 787.9h.75M133.8 787.9h.75M144.3 787.9h.75M145.8 787.9h.75M150.3 787.9h.75M155.6 787.9h1.5M159.3 787.9h.75M162.3 787.9h.75M167.6 787.9h.75M169.1 787.9h.75M175.8 787.9h.75M183.3 787.9h.75M185.6 787.9h.75M191.6 787.9h.75M195.3 787.9h.75M198.3 787.9h1.5M205.8 787.9h.75M208.8 787.9h.75M252.9 787.9h.75M25.1 793.8h.75M26.6 793.8h.75M34.9 793.8h.75M49.9 793.8h.75M51.4 793.8h.75M54.4 793.8h.75M60.4 793.8h.75M65.6 793.8h.75M67.9 793.8h.75M70.9 793.8h.75M79.1 793.8h.75M85.1 793.8h.75M87.4 793.8h.75M95.6 793.8h.75M97.1 793.8h.75M99.4 793.8h.75M109.9 793.8h.75M112.9 793.8h.75M125.6 793.8h.75M133.1 793.8h.75M153.3 793.8h.75M156.3 793.8h.75M160.8 793.8h.75M177.3 793.8h.75M205.1 793.8h1.5M209.6 793.8h.75M211.1 793.8h.75M248.4 793.8h.75M272.4 793.8h.75M31.9 799.8h.75M38.6 799.8h.75M49.9 799.8h.75M51.4 799.8h.75M56.6 799.8h.75M61.1 799.8h.75M63.4 799.8h.75M69.4 799.8h.75M72.4 799.8h.75M77.6 799.8h.75M82.1 799.8h.75M85.9 799.8h1.5M91.1 799.8h1.5M95.6 799.8h.75M106.9 799.8h.75M108.4 799.8h.75M112.9 799.8h1.5M116.6 799.8h.75M118.8 799.8h1.5M127.1 799.8h.75M128.6 799.8h.75M131.6 799.8h.75M135.3 799.8h.75M141.3 799.8h.75M145.1 799.8h.75M146.6 799.8h.75M148.8 799.8h.75M152.6 799.8h.75M162.3 799.8h.75M167.6 799.8h.75M178.8 799.8h.75M180.3 799.8h.75M182.6 799.8h.75M184.8 799.8h.75M186.3 799.8h.75M187.8 799.8h.75M196.1 799.8h2.25M199.1 799.8h.75M201.3 799.8h.75M205.8 799.8h.75M249.2 799.8h.75M268.6 799.8h.75M24.4 805.8h.75M27.4 805.8h.75M30.4 805.8h.75M31.9 805.8h1.5M37.1 805.8h.75M38.6 805.8h.75M44.6 805.8h.75M46.1 805.8h.75M48.4 805.8h.75M49.9 805.8h1.5M53.6 805.8h.75M57.4 805.8h.75M61.1 805.8h.75M66.4 805.8h.75M67.9 805.8h.75M70.9 805.8h.75M73.1 805.8h1.5M76.1 805.8h2.25M79.1 805.8h.75M82.9 805.8h1.5M86.6 805.8h.75M96.4 805.8h.75M100.1 805.8h.75M103.1 805.8h3.75M109.1 805.8h1.5M112.1 805.8h.75M113.6 805.8h1.5M116.6 805.8h.75M119.6 805.8h.75M122.6 805.8h1.5M126.3 805.8h.75M127.8 805.8h.75M130.1 805.8h.75M131.6 805.8h.75M134.6 805.8h.75M138.3 805.8h.75M148.8 805.8h.75M150.3 805.8h.75M151.8 805.8h.75M166.8 805.8h.75M172.1 805.8h.75M174.3 805.8h.75M175.8 805.8h1.5M178.8 805.8h.75M181.1 805.8h.75M187.8 805.8h.75M191.6 805.8h.75M193.8 805.8h.75M196.1 805.8h.75M197.6 805.8h.75M209.6 805.8h.75M212.6 805.8h.75M214.1 805.8h.75M217 805.8h1.5M219.3 805.8h1.5M221.5 805.8h1.5M227.5 805.8h2.24M231.2 805.8h.75M233.5 805.8h.75M238 805.8h.75M240.2 805.8h1.5M246.9 805.8h.75M250.7 805.8h.75M252.9 805.8h.75M259.7 805.8h.75M261.2 805.8h2.24M266.4 805.8h.75M267.9 805.8h.75M270.9 805.8h.75M275.4 805.8h.75M26.6 811.8h1.5M30.4 811.8h1.5M32.6 811.8h.75M34.9 811.8h.75M41.6 811.8h.75M47.6 811.8h.75M50.6 811.8h.75M55.9 811.8h.75M60.4 811.8h.75M61.9 811.8h.75M64.9 811.8h.75M67.9 811.8h1.5M73.1 811.8h.75M75.4 811.8h.75M76.9 811.8h.75M79.1 811.8h2.25M82.9 811.8h.75M85.1 811.8h.75M88.9 811.8h3M93.4 811.8h.75M94.9 811.8h1.5M97.9 811.8h2.25M103.1 811.8h1.5M105.4 811.8h.75M108.4 811.8h1.5M113.6 811.8h2.25M116.6 811.8h.75M118.8 811.8h1.5M124.1 811.8h2.25M129.3 811.8h1.5M135.3 811.8h.75M139.8 811.8h.75M145.1 811.8h.75M147.3 811.8h.75M149.6 811.8h.75M153.3 811.8h.75M155.6 811.8h1.5M157.8 811.8h1.5M162.3 811.8h.75M163.8 811.8h.75M167.6 811.8h.75M169.1 811.8h1.5M171.3 811.8h.75M172.8 811.8h2.25M179.6 811.8h.75M183.3 811.8h.75M187.8 811.8h.75M193.1 811.8h.75M194.6 811.8h1.5M202.1 811.8h.75M205.8 811.8h.75M207.3 811.8h.75M209.6 811.8h.75M217 811.8h1.5M220.8 811.8h.75M222.3 811.8h2.24M225.3 811.8h1.5M231.2 811.8h.75M235 811.8h.75M237.2 811.8h2.24M241.7 811.8h2.99M246.2 811.8h.75M247.7 811.8h.75M254.4 811.8h1.5M256.7 811.8h.75M258.9 811.8h.75M260.4 811.8h2.24M264.1 811.8h.75M265.6 811.8h1.5M271.6 811.8h3.74M276.1 811.8h1.5M26.6 817.8h.75M33.4 817.8h.75M34.9 817.8h.75M44.6 817.8h.75M47.6 817.8h.75M61.1 817.8h.75M70.1 817.8h.75M92.6 817.8h.75M108.4 817.8h.75M114.4 817.8h.75M117.4 817.8h.75M128.6 817.8h.75M138.3 817.8h.75M156.3 817.8h.75M157.8 817.8h.75M162.3 817.8h.75M163.8 817.8h.75M165.3 817.8h.75M187.8 817.8h.75M190.1 817.8h1.5M192.3 817.8h.75M206.6 817.8h.75M213.3 817.8h.75M226 817.8h.75M228.3 817.8h.75M241.7 817.8h1.5M259.7 817.8h1.5M270.9 817.8h.75M272.4 817.8h.75M276.1 817.8h.75" stroke="#FAC0AF" stroke-width="6.04" fill="none"/>
<path d="M23.6 584.2h1.5M26.6 584.2h.75M28.1 584.2h.75M30.4 584.2h.75M33.4 584.2h.75M40.1 584.2h1.5M42.4 584.2h.75M52.9 584.2h1.5M63.4 584.2h.75M67.9 584.2h.75M70.9 584.2h.75M73.1 584.2h.75M76.1 584.2h.75M79.1 584.2h.75M82.9 584.2h.75M86.6 584.2h.75M88.1 584.2h1.5M95.6 584.2h.75M100.9 584.2h.75M109.9 584.2h.75M116.6 584.2h.75M122.6 584.2h.75M131.6 584.2h.75M133.8 584.2h.75M138.3 584.2h.75M142.1 584.2h.75M145.1 584.2h.75M146.6 584.2h.75M154.1 584.2h.75M156.3 584.2h.75M163.8 584.2h.75M165.3 584.2h.75M169.1 584.2h.75M176.6 584.2h.75M178.1 584.2h.75M184.1 584.2h.75M202.8 584.2h.75M207.3 584.2h.75M211.1 584.2h.75M202.1 590.2h.75M205.1 590.2h.75M215.5 590.2h.75M217 590.2h.75M221.5 590.2h2.24M225.3 590.2h1.5M228.3 590.2h.75M229.8 590.2h.75M232.7 590.2h.75M234.2 590.2h2.24M238.7 590.2h1.5M241 590.2h1.5M243.2 590.2h.75M244.7 590.2h2.24M252.2 590.2h.75M253.7 590.2h1.5M258.9 590.2h.75M261.2 590.2h1.5M264.1 590.2h1.5M266.4 590.2h.75M270.1 590.2h.75M271.6 590.2h.75M273.9 590.2h.75M276.9 590.2h.75M137.6 596.2h.75M217 596.2h.75M221.5 596.2h2.24M226.8 596.2h.75M229.8 596.2h.75M231.2 596.2h2.24M235.7 596.2h.75M237.2 596.2h1.5M241.7 596.2h1.5M246.2 596.2h.75M248.4 596.2h.75M249.9 596.2h.75M255.2 596.2h1.5M257.4 596.2h.75M263.4 596.2h1.5M271.6 596.2h.75M274.6 596.2h2.24M215.5 602.2h.75M217 602.2h.75M219.3 602.2h.75M223 602.2h.75M224.5 602.2h.75M226 602.2h.75M228.3 602.2h.75M229.8 602.2h2.24M233.5 602.2h.75M235 602.2h.75M243.2 602.2h2.24M247.7 602.2h.75M249.9 602.2h.75M251.4 602.2h.75M252.9 602.2h2.24M257.4 602.2h.75M258.9 602.2h2.24M262.6 602.2h1.5M264.9 602.2h.75M267.9 602.2h.75M270.1 602.2h.75M272.4 602.2h.75M48.4 608.2h.75M118.8 608.2h.75M178.1 608.2h.75M219.3 608.2h.75M221.5 608.2h.75M227.5 608.2h.75M232 608.2h.75M235.7 608.2h.75M238.7 608.2h.75M240.2 608.2h.75M241.7 608.2h.75M245.5 608.2h.75M249.9 608.2h.75M251.4 608.2h2.24M255.2 608.2h.75M259.7 608.2h.75M261.9 608.2h.75M264.1 608.2h1.5M266.4 608.2h.75M270.1 608.2h2.24M273.1 608.2h2.24M85.1 614.1h.75M133.8 614.1h.75M214.8 614.1h.75M219.3 614.1h.75M225.3 614.1h.75M227.5 614.1h.75M232 614.1h.75M238 614.1h.75M249.9 614.1h.75M252.9 614.1h1.5M255.2 614.1h1.5M258.9 614.1h.75M261.9 614.1h2.24M270.1 614.1h.75M271.6 614.1h1.5M273.9 614.1h3.74M145.1 620.1h.75M214.8 620.1h.75M222.3 620.1h.75M224.5 620.1h.75M226 620.1h1.5M231.2 620.1h.75M235.7 620.1h1.5M244 620.1h.75M245.5 620.1h.75M247.7 620.1h.75M249.9 620.1h2.24M252.9 620.1h.75M254.4 620.1h.75M255.9 620.1h.75M257.4 620.1h.75M258.9 620.1h1.5M261.2 620.1h.75M264.9 620.1h2.24M267.9 620.1h.75M273.1 620.1h1.5M276.1 620.1h1.5M35.6 626.1h.75M54.4 626.1h.75M76.9 626.1h.75M145.8 626.1h.75M199.1 626.1h.75M219.3 626.1h.75M220.8 626.1h.75M225.3 626.1h.75M226.8 626.1h.75M229 626.1h.75M231.2 626.1h2.24M239.5 626.1h1.5M241.7 626.1h.75M243.2 626.1h1.5M245.5 626.1h.75M249.9 626.1h1.5M253.7 626.1h.75M258.2 626.1h4.49M264.9 626.1h.75M267.1 626.1h.75M270.9 626.1h.75M273.9 626.1h.75M275.4 626.1h1.5M28.1 632.1h.75M34.9 632.1h.75M59.6 632.1h.75M61.1 632.1h.75M64.9 632.1h.75M88.9 632.1h1.5M93.4 632.1h.75M94.9 632.1h.75M96.4 632.1h.75M109.1 632.1h.75M113.6 632.1h.75M124.8 632.1h.75M130.1 632.1h.75M133.8 632.1h.75M145.8 632.1h.75M167.6 632.1h.75M169.1 632.1h.75M170.6 632.1h.75M172.8 632.1h.75M180.3 632.1h.75M190.8 632.1h.75M206.6 632.1h.75M191.6 638.1h.75M214.8 638.1h2.24M219.3 638.1h1.5M221.5 638.1h.75M223.8 638.1h.75M227.5 638.1h.75M231.2 638.1h.75M234.2 638.1h1.5M238.7 638.1h.75M240.2 638.1h.75M241.7 638.1h.75M243.2 638.1h.75M244.7 638.1h1.5M252.9 638.1h1.5M258.9 638.1h1.5M264.1 638.1h.75M265.6 638.1h.75M269.4 638.1h.75M270.9 638.1h.75M272.4 638.1h1.5M276.9 638.1h.75M34.9 644.1h.75M49.9 644.1h.75M78.4 644.1h.75M168.3 644.1h.75M215.5 644.1h.75M221.5 644.1h.75M225.3 644.1h1.5M229 644.1h.75M232.7 644.1h.75M235.7 644.1h1.5M239.5 644.1h3.74M245.5 644.1h1.5M247.7 644.1h.75M253.7 644.1h.75M255.2 644.1h.75M258.2 644.1h.75M259.7 644.1h1.5M261.9 644.1h.75M269.4 644.1h.75M271.6 644.1h1.5M82.9 650.1h.75M215.5 650.1h.75M220.8 650.1h.75M233.5 650.1h.75M249.2 650.1h.75M255.2 650.1h.75M259.7 650.1h1.5M261.9 650.1h.75M263.4 650.1h.75M267.1 650.1h.75M268.6 650.1h.75M276.1 650.1h.75M32.6 656.1h.75M50.6 656.1h.75M60.4 656.1h.75M68.6 656.1h.75M70.9 656.1h.75M94.9 656.1h.75M103.9 656.1h.75M109.1 656.1h.75M112.9 656.1h.75M146.6 656.1h.75M152.6 656.1h.75M178.1 656.1h.75M184.1 656.1h.75M26.6 662.1h.75M30.4 662.1h.75M49.1 662.1h.75M58.9 662.1h.75M65.6 662.1h.75M91.9 662.1h.75M109.1 662.1h.75M127.1 662.1h.75M141.3 662.1h.75M145.8 662.1h.75M150.3 662.1h.75M153.3 662.1h.75M192.3 662.1h.75M33.4 668.1h.75M49.9 668.1h.75M87.4 668.1h.75M97.1 668.1h.75M112.9 668.1h.75M133.1 668.1h.75M184.1 668.1h.75M209.6 668.1h.75M30.4 674h.75M38.6 674h.75M48.4 674h.75M55.9 674h.75M65.6 674h.75M77.6 674h.75M79.1 674h.75M82.9 674h.75M105.4 674h.75M145.1 674h.75M162.3 674h.75M184.1 674h.75M198.3 674h.75M205.8 674h.75M209.6 674h.75M28.1 680h.75M34.9 680h.75M49.9 680h.75M68.6 680h.75M82.9 680h.75M86.6 680h.75M99.4 680h.75M112.9 680h.75M141.3 680h.75M168.3 680h.75M205.8 680h.75M207.3 680h.75M217 686h.75M222.3 686h.75M223.8 686h.75M227.5 686h1.5M232 686h.75M234.2 686h1.5M236.5 686h.75M240.2 686h.75M241.7 686h.75M244 686h.75M252.9 686h.75M255.2 686h1.5M267.1 686h.75M269.4 686h1.5M33.4 692h.75M38.6 692h.75M42.4 692h.75M55.9 692h.75M58.9 692h.75M61.9 692h1.5M73.1 692h.75M105.4 692h.75M108.4 692h.75M118.8 692h.75M178.8 692h1.5M183.3 692h.75M217 692h2.24M220.8 692h.75M222.3 692h1.5M224.5 692h.75M226.8 692h.75M231.2 692h1.5M235.7 692h1.5M241 692h.75M243.2 692h1.5M246.2 692h.75M251.4 692h1.5M254.4 692h.75M255.9 692h.75M261.2 692h2.24M267.1 692h.75M270.1 692h.75M273.1 692h.75M276.1 692h.75M86.6 698h.75M109.1 698h.75M115.9 698h.75M161.6 698h.75M214.8 698h.75M216.3 698h1.5M219.3 698h.75M225.3 698h.75M227.5 698h.75M230.5 698h2.24M239.5 698h.75M244 698h.75M247.7 698h1.5M249.9 698h.75M251.4 698h.75M254.4 698h2.24M258.9 698h.75M261.2 698h1.5M268.6 698h.75M270.9 698h.75M28.1 704h.75M41.6 704h.75M55.9 704h.75M60.4 704h.75M70.9 704h.75M79.9 704h.75M86.6 704h.75M94.1 704h.75M98.6 704h1.5M112.9 704h.75M120.3 704h.75M138.3 704h.75M141.3 704h.75M145.1 704h.75M160.8 704h.75M169.1 704h.75M180.3 704h.75M191.6 704h.75M197.6 704h.75M31.1 710h.75M43.1 710h.75M63.4 710h.75M76.9 710h.75M79.1 710h.75M89.6 710h.75M116.6 710h.75M131.6 710h.75M166.8 710h.75M184.1 710h.75M198.3 710h.75M203.6 710h.75M213.3 710h.75M253.7 710h.75M263.4 710h.75M34.9 716h.75M49.9 716h.75M93.4 716h.75M138.3 716h.75M145.1 716h.75M272.4 716h.75M217.8 722h.75M221.5 722h.75M228.3 722h2.24M232.7 722h1.5M238 722h.75M241 722h.75M244.7 722h2.24M248.4 722h.75M251.4 722h1.5M255.9 722h2.24M261.9 722h2.24M265.6 722h.75M267.1 722h1.5M270.9 722h.75M273.1 722h.75M64.9 728h.75M87.4 728h.75M152.6 728h.75M161.6 728h.75M24.4 733.9h.75M28.1 733.9h.75M31.9 733.9h1.5M34.9 733.9h.75M48.4 733.9h2.25M63.4 733.9h.75M73.9 733.9h.75M76.1 733.9h.75M77.6 733.9h.75M80.6 733.9h.75M82.9 733.9h.75M106.9 733.9h.75M133.1 733.9h.75M145.1 733.9h.75M155.6 733.9h.75M170.6 733.9h.75M180.3 733.9h1.5M211.1 733.9h.75M27.4 745.9h.75M31.9 745.9h.75M39.4 745.9h.75M42.4 745.9h.75M49.9 745.9h.75M55.1 745.9h.75M63.4 745.9h.75M64.9 745.9h.75M67.1 745.9h.75M71.6 745.9h.75M80.6 745.9h.75M82.9 745.9h.75M85.1 745.9h.75M86.6 745.9h1.5M97.1 745.9h.75M98.6 745.9h.75M102.4 745.9h.75M103.9 745.9h.75M133.8 745.9h.75M136.1 745.9h.75M141.3 745.9h.75M145.1 745.9h.75M150.3 745.9h.75M156.3 745.9h.75M199.1 745.9h.75M209.6 745.9h.75M212.6 745.9h.75M35.6 751.9h.75M47.6 751.9h.75M49.9 751.9h.75M182.6 751.9h.75M61.9 757.9h.75M125.6 757.9h.75M221.5 757.9h.75M230.5 757.9h.75M232.7 757.9h.75M234.2 757.9h2.99M247.7 757.9h.75M251.4 757.9h.75M252.9 757.9h.75M255.9 757.9h.75M258.9 757.9h.75M261.2 757.9h.75M263.4 757.9h.75M264.9 757.9h.75M267.9 757.9h1.5M270.1 757.9h2.99M275.4 757.9h.75M99.4 763.9h.75M146.6 763.9h.75M219.3 763.9h.75M223 763.9h1.5M226.8 763.9h.75M228.3 763.9h.75M232 763.9h1.5M235.7 763.9h.75M240.2 763.9h.75M242.5 763.9h.75M244 763.9h1.5M247.7 763.9h2.24M263.4 763.9h.75M270.9 763.9h.75M273.9 763.9h.75M31.9 769.9h.75M34.9 769.9h.75M37.9 769.9h1.5M57.4 769.9h.75M69.4 769.9h.75M70.9 769.9h.75M73.9 769.9h1.5M77.6 769.9h.75M79.1 769.9h.75M82.1 769.9h.75M85.9 769.9h.75M89.6 769.9h.75M105.4 769.9h.75M113.6 769.9h.75M116.6 769.9h.75M121.1 769.9h.75M126.3 769.9h.75M128.6 769.9h.75M132.3 769.9h.75M150.3 769.9h.75M155.6 769.9h.75M177.3 769.9h.75M184.1 769.9h.75M209.6 769.9h.75M24.4 775.9h1.5M32.6 775.9h.75M34.9 775.9h.75M41.6 775.9h1.5M46.1 775.9h.75M48.4 775.9h.75M49.9 775.9h.75M51.4 775.9h.75M58.9 775.9h1.5M61.9 775.9h.75M63.4 775.9h.75M67.9 775.9h.75M69.4 775.9h.75M72.4 775.9h.75M73.9 775.9h.75M76.1 775.9h.75M79.1 775.9h.75M80.6 775.9h.75M85.1 775.9h.75M90.4 775.9h.75M93.4 775.9h.75M95.6 775.9h.75M103.1 775.9h1.5M106.1 775.9h.75M109.1 775.9h.75M112.1 775.9h2.25M115.1 775.9h.75M117.4 775.9h.75M121.1 775.9h.75M123.3 775.9h.75M129.3 775.9h1.5M138.3 775.9h.75M143.6 775.9h.75M145.1 775.9h1.5M153.3 775.9h.75M155.6 775.9h.75M159.3 775.9h.75M161.6 775.9h1.5M172.1 775.9h.75M174.3 775.9h.75M178.8 775.9h.75M180.3 775.9h.75M190.8 775.9h2.25M210.3 775.9h2.25M213.3 775.9h.75M116.6 781.9h.75M184.1 781.9h.75M215.5 781.9h1.5M224.5 781.9h.75M226.8 781.9h.75M231.2 781.9h.75M239.5 781.9h.75M243.2 781.9h.75M264.1 781.9h.75M273.1 781.9h.75M274.6 781.9h1.5M276.9 781.9h.75M33.4 787.9h.75M37.9 787.9h.75M42.4 787.9h.75M50.6 787.9h.75M52.9 787.9h.75M61.1 787.9h.75M63.4 787.9h.75M65.6 787.9h.75M77.6 787.9h1.5M82.9 787.9h1.5M85.1 787.9h.75M89.6 787.9h.75M91.1 787.9h.75M106.1 787.9h.75M115.9 787.9h.75M124.8 787.9h.75M126.3 787.9h.75M133.1 787.9h.75M138.3 787.9h.75M146.6 787.9h.75M152.6 787.9h.75M170.6 787.9h.75M177.3 787.9h.75M182.6 787.9h.75M184.1 787.9h.75M190.8 787.9h.75M192.3 787.9h.75M196.8 787.9h1.5M209.6 787.9h2.25M77.6 793.8h.75M133.8 793.8h.75M145.1 793.8h.75M34.9 799.8h.75M55.1 799.8h.75M202.1 799.8h.75M204.3 799.8h.75M248.4 799.8h.75M26.6 805.8h.75M34.9 805.8h.75M40.9 805.8h.75M58.9 805.8h.75M64.9 805.8h1.5M69.4 805.8h.75M74.6 805.8h.75M84.4 805.8h.75M89.6 805.8h1.5M94.1 805.8h.75M111.4 805.8h.75M112.9 805.8h.75M115.1 805.8h1.5M118.8 805.8h.75M129.3 805.8h.75M133.1 805.8h1.5M139.8 805.8h.75M152.6 805.8h1.5M155.6 805.8h.75M161.6 805.8h1.5M169.1 805.8h.75M179.6 805.8h.75M185.6 805.8h.75M190.1 805.8h1.5M199.1 805.8h.75M202.1 805.8h.75M210.3 805.8h.75M220.8 805.8h.75M223 805.8h1.5M226 805.8h1.5M229.8 805.8h1.5M235.7 805.8h1.5M238.7 805.8h.75M242.5 805.8h.75M247.7 805.8h2.99M251.4 805.8h.75M253.7 805.8h.75M255.2 805.8h.75M257.4 805.8h.75M260.4 805.8h.75M263.4 805.8h.75M268.6 805.8h2.24M272.4 805.8h2.99M276.1 805.8h.75M39.4 811.8h.75M46.1 811.8h.75M69.4 811.8h.75M78.4 811.8h.75M100.1 811.8h.75M112.9 811.8h.75M130.8 811.8h.75M136.8 811.8h.75M139.1 811.8h.75M141.3 811.8h.75M145.8 811.8h1.5M178.1 811.8h.75M185.6 811.8h.75M202.8 811.8h.75M208.8 811.8h.75M215.5 811.8h.75M218.5 811.8h1.5M226.8 811.8h1.5M229.8 811.8h1.5M233.5 811.8h.75M235.7 811.8h1.5M239.5 811.8h2.24M244.7 811.8h.75M249.2 811.8h.75M250.7 811.8h2.24M253.7 811.8h.75M255.9 811.8h.75M257.4 811.8h1.5M259.7 811.8h.75M264.9 811.8h.75M268.6 811.8h.75M270.1 811.8h.75M30.4 817.8h.75M49.9 817.8h.75M86.6 817.8h.75M112.9 817.8h.75M169.8 817.8h.75M186.3 817.8h.75M191.6 817.8h.75M199.1 817.8h.75M202.1 817.8h.75" stroke="#F59F8B" stroke-width="6.04" fill="none"/>
<path d="M27.4 584.2h.75M108.4 584.2h.75M112.9 584.2h.75M121.1 584.2h.75M127.8 584.2h.75M196.1 584.2h.75M214.8 590.2h.75M219.3 590.2h.75M220.8 590.2h.75M224.5 590.2h.75M227.5 590.2h.75M232 590.2h.75M240.2 590.2h.75M247.7 590.2h.75M250.7 590.2h.75M252.9 590.2h.75M255.2 590.2h1.5M263.4 590.2h.75M268.6 590.2h1.5M272.4 590.2h.75M215.5 596.2h.75M227.5 596.2h.75M234.2 596.2h.75M236.5 596.2h.75M238.7 596.2h2.24M247.7 596.2h.75M253.7 596.2h.75M258.9 596.2h1.5M261.2 596.2h1.5M273.9 596.2h.75M214.8 602.2h.75M220.8 602.2h.75M225.3 602.2h.75M232.7 602.2h.75M235.7 602.2h.75M248.4 602.2h.75M255.2 602.2h1.5M264.1 602.2h.75M267.1 602.2h.75M268.6 602.2h.75M273.9 602.2h.75M217.8 608.2h.75M220.8 608.2h.75M223 608.2h1.5M225.3 608.2h.75M236.5 608.2h.75M247.7 608.2h1.5M254.4 608.2h.75M255.9 608.2h.75M267.1 608.2h.75M268.6 608.2h.75M272.4 608.2h.75M276.1 608.2h.75M232.7 614.1h.75M235.7 614.1h1.5M239.5 614.1h.75M241.7 614.1h1.5M244.7 614.1h.75M248.4 614.1h.75M252.2 614.1h.75M258.2 614.1h.75M264.9 614.1h.75M267.9 614.1h.75M215.5 620.1h1.5M219.3 620.1h.75M220.8 620.1h.75M227.5 620.1h.75M232.7 620.1h2.24M240.2 620.1h.75M243.2 620.1h.75M248.4 620.1h.75M253.7 620.1h.75M255.2 620.1h.75M258.2 620.1h.75M262.6 620.1h.75M268.6 620.1h.75M270.1 620.1h.75M274.6 620.1h1.5M223.8 626.1h.75M227.5 626.1h.75M234.2 626.1h.75M236.5 626.1h.75M248.4 626.1h.75M263.4 626.1h.75M266.4 626.1h.75M268.6 626.1h.75M85.9 632.1h.75M162.3 632.1h.75M210.3 632.1h.75M224.5 638.1h.75M242.5 638.1h.75M248.4 638.1h.75M255.2 638.1h1.5M258.2 638.1h.75M260.4 638.1h.75M267.1 638.1h.75M270.1 638.1h.75M273.9 638.1h.75M214.8 644.1h.75M223.8 644.1h.75M227.5 644.1h.75M232 644.1h.75M233.5 644.1h.75M252.2 644.1h1.5M255.9 644.1h.75M257.4 644.1h.75M264.1 644.1h1.5M266.4 644.1h.75M273.9 644.1h1.5M231.2 650.1h.75M242.5 650.1h.75M248.4 650.1h.75M108.4 656.1h.75M116.6 662.1h.75M213.3 662.1h.75M121.1 674h.75M58.9 680h.75M89.6 680h.75M162.3 680h.75M215.5 686h1.5M225.3 686h.75M249.2 686h.75M272.4 686h.75M273.9 686h.75M44.6 692h.75M99.4 692h.75M109.1 692h.75M184.1 692h.75M196.1 692h.75M209.6 692h.75M225.3 692h1.5M227.5 692h1.5M232.7 692h.75M234.2 692h.75M239.5 692h1.5M247.7 692h1.5M252.9 692h1.5M255.2 692h.75M257.4 692h.75M264.9 692h.75M266.4 692h.75M271.6 692h.75M252.9 698h1.5M256.7 698h.75M263.4 698h.75M264.9 698h.75M270.1 698h.75M273.9 698h1.5M115.1 704h.75M187.8 704h.75M64.9 710h.75M182.6 710h.75M202.1 710h.75M252.9 710h.75M109.1 716h.75M214.8 722h2.24M218.5 722h1.5M223 722h1.5M226 722h.75M235 722h.75M237.2 722h.75M238.7 722h2.24M247.7 722h.75M249.9 722h.75M258.2 722h.75M259.7 722h.75M269.4 722h1.5M271.6 722h.75M273.9 722h.75M275.4 722h1.5M121.1 745.9h.75M133.1 745.9h.75M165.3 745.9h.75M202.1 745.9h.75M227.5 757.9h.75M232 757.9h.75M239.5 757.9h.75M248.4 757.9h1.5M145.1 763.9h.75M226 763.9h.75M234.2 763.9h.75M252.9 763.9h1.5M268.6 763.9h.75M276.1 763.9h.75M88.9 769.9h.75M37.9 775.9h.75M68.6 775.9h.75M134.6 775.9h.75M184.1 775.9h.75M185.6 775.9h.75M190.1 775.9h.75M212.6 775.9h.75M214.8 781.9h.75M217 781.9h.75M222.3 781.9h.75M223.8 781.9h.75M227.5 781.9h.75M229 781.9h.75M230.5 781.9h.75M232 781.9h.75M234.2 781.9h.75M235.7 781.9h.75M240.2 781.9h.75M241.7 781.9h1.5M246.2 781.9h.75M248.4 781.9h.75M249.9 781.9h1.5M252.2 781.9h.75M253.7 781.9h1.5M257.4 781.9h.75M261.9 781.9h.75M264.9 781.9h3.74M270.1 781.9h1.5M273.9 781.9h.75M276.1 781.9h.75M27.4 787.9h.75M31.9 787.9h.75M34.9 787.9h.75M49.9 787.9h.75M67.9 787.9h.75M72.4 787.9h.75M82.1 787.9h.75M112.1 787.9h.75M115.1 787.9h.75M145.1 787.9h.75M168.3 787.9h.75M202.1 787.9h.75M88.9 805.8h.75M145.1 805.8h.75M180.3 805.8h.75M214.8 805.8h1.5M225.3 805.8h.75M232 805.8h.75M234.2 805.8h.75M241.7 805.8h.75M255.9 805.8h.75M258.2 805.8h.75M264.1 805.8h1.5M267.1 805.8h.75M271.6 805.8h.75M49.9 811.8h.75M142.1 811.8h.75M234.2 811.8h.75M248.4 811.8h.75M267.1 811.8h.75" stroke="#EC7764" stroke-width="6.04" fill="none"/>
<path d="M49.9 584.2h.75M249.2 590.2h.75M219.3 596.2h.75M223.8 596.2h.75M241 596.2h.75M249.2 596.2h.75M232 602.2h.75M236.5 602.2h.75M249.2 602.2h.75M276.1 602.2h.75M214.8 608.2h.75M234.2 608.2h.75M249.2 608.2h.75M263.4 608.2h.75M235 614.1h.75M240.2 614.1h.75M249.2 614.1h.75M217 620.1h.75M249.2 620.1h.75M270.9 620.1h.75M232.7 638.1h.75M249.2 638.1h.75M234.2 644.1h.75M248.4 644.1h1.5M258.9 644.1h.75M145.1 662.1h.75M145.1 668.1h.75M248.4 686h.75M249.2 692h.75M268.6 692h.75M273.9 692h.75M272.4 698h.75M222.3 722h.75M225.3 722h.75M227.5 722h.75M232 722h.75M255.2 722h.75M258.9 722h.75M266.4 722h.75M240.2 757.9h.75M255.2 757.9h.75M220 781.9h.75M228.3 781.9h.75M232.7 781.9h.75M249.2 781.9h.75M252.9 781.9h.75M261.2 781.9h.75M263.4 781.9h.75M268.6 781.9h.75M239.5 805.8h.75" stroke="#DC4A3C" stroke-width="6.04" fill="none"/>
<g font-size="5.3" text-anchor="end" fill="#222">
<text x="22" y="586.1">Edn3</text>
<text x="22" y="592.1">Clec3b</text>
<text x="22" y="598.1">Ly6c1</text>
<text x="22" y="604.1">Dpt</text>
<text x="22" y="610.1">Gas1</text>
<text x="22" y="616">Adamts5</text>
<text x="22" y="622">Fbln2</text>
<text x="22" y="628">Tnxb</text>
<text x="22" y="634">Gpc3</text>
<text x="22" y="640">Fn1</text>
<text x="22" y="646">Mmp2</text>
<text x="22" y="652">Aspn</text>
<text x="22" y="658">Mdk</text>
<text x="22" y="664">Kitl</text>
<text x="22" y="670">Tsc22d1</text>
<text x="22" y="675.9">Nrp2</text>
<text x="22" y="681.9">Nr2f2</text>
<text x="22" y="687.9">Camd1</text>
<text x="22" y="693.9">Mmp3</text>
<text x="22" y="699.9">Lepr</text>
<text x="22" y="705.9">Serpine2</text>
<text x="22" y="711.9">Crispld2</text>
<text x="22" y="717.9">Hes1</text>
<text x="22" y="723.9">Postn</text>
<text x="22" y="729.9">Ifitm1</text>
<text x="22" y="735.8">Spp1</text>
<text x="22" y="741.8">Apoe</text>
<text x="22" y="747.8">Lsamp</text>
<text x="22" y="753.8">Rgs5</text>
<text x="22" y="759.8">Col5a1</text>
<text x="22" y="765.8">Pi16</text>
<text x="22" y="771.8">Pgf</text>
<text x="22" y="777.8">Ccn2</text>
<text x="22" y="783.8">Sfrp2</text>
<text x="22" y="789.8">Grm7</text>
<text x="22" y="795.7">Fos</text>
<text x="22" y="801.7">Junb</text>
<text x="22" y="807.7">Col1a2</text>
<text x="22" y="813.7">Gsn</text>
<text x="22" y="819.7">Igfbp2</text>
</g>
<g font-size="5" fill="#222"><text x="279" y="570">orig.ident</text><text x="279" y="578.3">cell_type</text></g><g font-size="4.35" fill="#222">
<text x="286.7" y="694.1">Y25</text><text x="286.7" y="711.4" fill="#555">U−Fibroblasts</text><text x="286.7" y="716.8" fill="#555">S−Fibroblasts</text></g>
<g font-size="4.1" font-weight="bold" fill="#111"><text x="280.2" y="687">orig.ident</text><text x="280.2" y="704.2">cell_type</text><text x="112.5" y="826">Expression</text></g>
<rect x="280.2" y="690.2" width="4.6" height="4.8" fill="#0000FF"/>
<rect x="280.2" y="707.5" width="4.6" height="4.9" fill="#FF0000"/>
<rect x="280.2" y="712.8" width="4.6" height="4.9" fill="#FFA500"/>
<rect x="112.5" y="828.6" width="76.1" height="5.8" fill="url(#gg)"/>
<g font-size="4.4" text-anchor="middle" fill="#333">
<text x="113.5" y="840.2">−10</text>
<text x="132" y="840.2">−5</text>
<text x="150.4" y="840.2">0</text>
<text x="169" y="840.2">5</text>
<text x="187.4" y="840.2">10</text>
</g></g>
<g id="phi">
<text x="304" y="360.6" font-size="8.5">h</text>
<rect x="432.8" y="345.8" width="201.9" height="236.1" fill="#fff"/>
<path d="M432.8 359.8H634.7M432.8 383H634.7M432.8 406.2H634.7M432.8 429.4H634.7M432.8 452.6H634.7M432.8 475.8H634.7M432.8 498.9H634.7M432.8 522.1H634.7M432.8 545.3H634.7M432.8 568.5H634.7M463.1 345.8V581.9M523.1 345.8V581.9M583.1 345.8V581.9" stroke="#e6e6e6" stroke-width="0.5" fill="none"/>
<path d="M433.1 345.8V581.9M493.1 345.8V581.9M553.1 345.8V581.9M613.1 345.8V581.9" stroke="#dfdfdf" stroke-width="0.6" fill="none"/>
<rect x="432.8" y="345.8" width="201.9" height="236.1" fill="none" stroke="#6e6e6e" stroke-width="0.75"/>
<path d="M432.8 359.8h-1.6M432.8 383h-1.6M432.8 406.2h-1.6M432.8 429.4h-1.6M432.8 452.6h-1.6M432.8 475.8h-1.6M432.8 498.9h-1.6M432.8 522.1h-1.6M432.8 545.3h-1.6M432.8 568.5h-1.6M433.1 581.9v1.6M493.1 581.9v1.6M553.1 581.9v1.6M613.1 581.9v1.6" stroke="#555" stroke-width="0.45"/>
<text x="436" y="357" font-size="8.7" fill="#111">Y25DEGS_UFibroblasts_UP_GO</text>
<g font-size="8.7" text-anchor="end" fill="#111">
<text x="428.6" y="362.7">collagen fibril organization</text>
<text x="428.6" y="385.9">extracellular matrix organization</text>
<text x="428.6" y="409.1">extracellular structure organization</text>
<text x="428.6" y="431.2">external encapsulating</text>
<text x="428" y="439.9">structure organization</text>
<text x="428.6" y="455.5">cartilage development</text>
<text x="428.6" y="478.6">cell-substrate adhesion</text>
<text x="428.6" y="501.8">bone development</text>
<text x="428.6" y="525">connective tissue development</text>
<text x="428.6" y="548.2">wound healing</text>
<text x="428.6" y="571.4">ameboidal-type cell migration</text>
</g>
<circle cx="625.1" cy="359.8" r="0.95" fill="#3E00F1"/>
<circle cx="525.3" cy="383" r="4.1" fill="#FF0000"/>
<circle cx="524.7" cy="406.2" r="4.1" fill="#FF0000"/>
<circle cx="524.2" cy="429.4" r="4.1" fill="#FD0008"/>
<circle cx="480.3" cy="452.6" r="2.6" fill="#1500FA"/>
<circle cx="474.1" cy="475.8" r="3.8" fill="#A600B7"/>
<circle cx="469.1" cy="498.9" r="2.7" fill="#0000FF"/>
<circle cx="467.4" cy="522.1" r="3.1" fill="#5E00E9"/>
<circle cx="452.8" cy="545.3" r="3.1" fill="#4900EE"/>
<circle cx="441.5" cy="568.5" r="3.4" fill="#1F00F8"/>
<g font-size="5.3" text-anchor="middle" fill="#444">
<text x="433.1" y="588.9">5</text>
<text x="493.1" y="588.9">10</text>
<text x="553.1" y="588.9">15</text>
<text x="613.1" y="588.9">20</text>
</g>
<text x="533.8" y="596.6" font-size="6.6" text-anchor="middle" fill="#222">Enrichment Ratio</text>
<g font-size="6.5" fill="#111"><text x="644.5" y="407">−log10(FDR)</text><text x="644.5" y="482">size</text></g>
<rect x="644.1" y="411" width="10.8" height="52" fill="url(#gh)"/>
<g font-size="5.3" fill="#222">
<text x="658.1" y="422.5">35</text>
<text x="658.1" y="432.3">30</text>
<text x="658.1" y="442.3">25</text>
<text x="658.1" y="452">20</text>
<text x="658.1" y="461.8">15</text>
<text x="658.1" y="492.4">20</text>
<text x="658.1" y="502.8">30</text>
<text x="658.1" y="513.2">40</text>
<text x="658.1" y="523.6">50</text>
</g>
<path d="M644.1 420.7h2.1M654.9 420.7h-2.1M644.1 430.5h2.1M654.9 430.5h-2.1M644.1 440.5h2.1M654.9 440.5h-2.1M644.1 450.2h2.1M654.9 450.2h-2.1M644.1 460h2.1M654.9 460h-2.1" stroke="#fff" stroke-opacity=".55" stroke-width="0.35"/>
<circle cx="649.5" cy="490.6" r="2.0" fill="#000"/>
<circle cx="649.5" cy="501" r="2.9" fill="#000"/>
<circle cx="649.5" cy="511.4" r="3.6" fill="#000"/>
<circle cx="649.5" cy="521.8" r="4.2" fill="#000"/>
<text x="304" y="614.5" font-size="8.5">i</text>
<rect x="430.5" y="605.8" width="200.1" height="240.6" fill="#fff"/>
<path d="M430.5 619.8H630.6M430.5 643.4H630.6M430.5 667.1H630.6M430.5 690.7H630.6M430.5 714.4H630.6M430.5 738H630.6M430.5 761.6H630.6M430.5 785.3H630.6M430.5 808.9H630.6M430.5 832.6H630.6M475.7 605.8V846.4M521.4 605.8V846.4M567 605.8V846.4M612.8 605.8V846.4" stroke="#e6e6e6" stroke-width="0.5" fill="none"/>
<path d="M452.8 605.8V846.4M498.5 605.8V846.4M544.2 605.8V846.4M589.9 605.8V846.4" stroke="#dfdfdf" stroke-width="0.6" fill="none"/>
<rect x="430.5" y="605.8" width="200.1" height="240.6" fill="none" stroke="#6e6e6e" stroke-width="0.75"/>
<path d="M430.5 619.8h-1.6M430.5 643.4h-1.6M430.5 667.1h-1.6M430.5 690.7h-1.6M430.5 714.4h-1.6M430.5 738h-1.6M430.5 761.6h-1.6M430.5 785.3h-1.6M430.5 808.9h-1.6M430.5 832.6h-1.6M452.8 846.4v1.6M498.5 846.4v1.6M544.2 846.4v1.6M589.9 846.4v1.6" stroke="#555" stroke-width="0.45"/>
<text x="433.7" y="617" font-size="8.7" fill="#111">Y25DEGS_UFibroblasts_DOWN_GO</text>
<g font-size="8.7" text-anchor="end" fill="#111">
<text x="426.6" y="622.7">neural crest cell development</text>
<text x="426.6" y="646.3">stem cell development</text>
<text x="426.6" y="670">neural crest cell differentiation</text>
<text x="426.6" y="693.6">ureteric bud development</text>
<text x="426.6" y="716.2">mesonephric epithelium</text>
<text x="426" y="723.5">development</text>
<text x="426.6" y="739.8">mesonephric tubule</text>
<text x="426" y="747.1">development</text>
<text x="426.6" y="764.5">nephron development</text>
<text x="426.6" y="788.2">renal system development</text>
<text x="426.6" y="811.8">ossification</text>
<text x="426.6" y="835.5">muscle tissue development</text>
</g>
<circle cx="621.4" cy="619.8" r="2.5" fill="#FF0000"/>
<circle cx="595.4" cy="643.4" r="2.4" fill="#FC000D"/>
<circle cx="588.3" cy="667.1" r="2.4" fill="#FC000D"/>
<circle cx="553.3" cy="690.7" r="1.1" fill="#1500FA"/>
<circle cx="548.3" cy="714.4" r="0.95" fill="#1500FA"/>
<circle cx="548.3" cy="738" r="0.95" fill="#1500FA"/>
<circle cx="505.1" cy="761.6" r="2.3" fill="#2A00F5"/>
<circle cx="449.9" cy="785.3" r="3.5" fill="#1500FA"/>
<circle cx="440" cy="808.9" r="3.85" fill="#1500FA"/>
<circle cx="439.4" cy="832.6" r="4.4" fill="#E9004D"/>
<g font-size="5.3" text-anchor="middle" fill="#444">
<text x="452.8" y="853.6">10</text>
<text x="498.5" y="853.6">15</text>
<text x="544.2" y="853.6">20</text>
<text x="589.9" y="853.6">25</text>
</g>
<text x="530.5" y="860.6" font-size="6.6" text-anchor="middle" fill="#222">Enrichment Ratio</text>
<g font-size="6.5" fill="#111"><text x="641" y="668.4">size</text><text x="641" y="733.4">−log10(FDR)</text></g>
<rect x="641" y="737.5" width="10.4" height="52.6" fill="url(#gh)"/>
<g font-size="5.3" fill="#222">
<text x="654.9" y="744.1">7.00</text>
<text x="654.9" y="754.4">6.75</text>
<text x="654.9" y="764.4">6.50</text>
<text x="654.9" y="774.4">6.25</text>
<text x="654.9" y="784.4">6.00</text>
<text x="655.1" y="679.5">8</text>
<text x="655.1" y="690.1">10</text>
<text x="655.1" y="700.5">12</text>
<text x="655.1" y="711.1">14</text>
</g>
<path d="M641 742.3h2.1M651.4 742.3h-2.1M641 752.6h2.1M651.4 752.6h-2.1M641 762.6h2.1M651.4 762.6h-2.1M641 772.6h2.1M651.4 772.6h-2.1M641 782.6h2.1M651.4 782.6h-2.1" stroke="#fff" stroke-opacity=".55" stroke-width="0.35"/>
<circle cx="646" cy="677.7" r="0.9" fill="#000"/>
<circle cx="646" cy="688.3" r="2.8" fill="#000"/>
<circle cx="646" cy="698.7" r="3.5" fill="#000"/>
<circle cx="646" cy="709.3" r="4.3" fill="#000"/>
</g>
</svg>
</body></html>
